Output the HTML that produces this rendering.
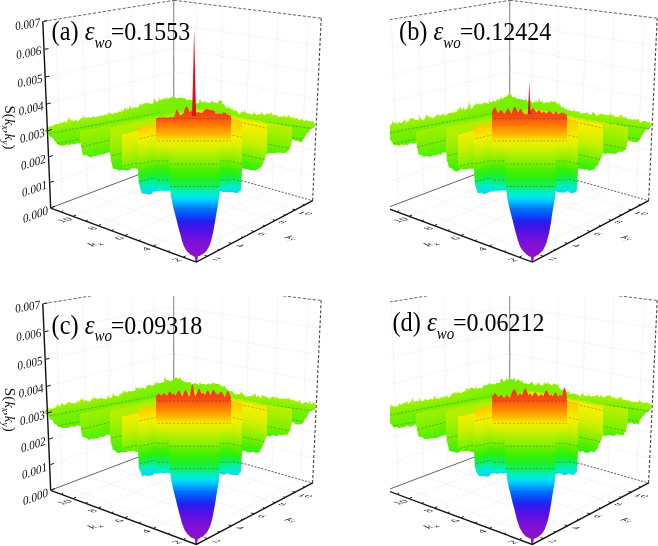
<!DOCTYPE html><html><head><meta charset="utf-8"><style>html,body{margin:0;padding:0;background:#fff}svg{display:block;filter:blur(0.35px)}</style></head><body>
<svg width="658" height="546" viewBox="0 0 658 546">
<defs><linearGradient id="pag0" gradientUnits="userSpaceOnUse" x1="100" y1="112" x2="108.3" y2="155.4"><stop offset="0" stop-color="#b0f000"/><stop offset="0.056" stop-color="#a6f000"/><stop offset="0.111" stop-color="#9cf000"/><stop offset="0.167" stop-color="#90f000"/><stop offset="0.222" stop-color="#83f000"/><stop offset="0.278" stop-color="#77f000"/><stop offset="0.333" stop-color="#74f000"/><stop offset="0.389" stop-color="#70f000"/><stop offset="0.444" stop-color="#6bf000"/><stop offset="0.5" stop-color="#67f000"/><stop offset="0.556" stop-color="#62f000"/><stop offset="0.611" stop-color="#5ef000"/><stop offset="0.667" stop-color="#59f000"/><stop offset="0.722" stop-color="#55f000"/><stop offset="0.778" stop-color="#51f000"/><stop offset="0.833" stop-color="#4df000"/><stop offset="0.889" stop-color="#48f000"/><stop offset="0.944" stop-color="#44f000"/><stop offset="1" stop-color="#40f000"/></linearGradient>
<clipPath id="pac0"><polygon points="44.5,130 45.3,130.1 46.1,128.7 46.9,127.4 47.7,127.5 48.5,126.9 49.5,126.2 50.5,126.3 51.6,126.3 51,126.3 51.6,125 52.1,126.3 52.6,125.8 53.6,125.5 54.6,125.1 55.7,124.3 56.7,123.9 57.7,124 58.7,124.2 59.7,123.8 59.4,123.8 60,121.3 60.6,123.8 60.8,122.9 61.8,122.4 62.8,122.4 63.8,122.4 63.3,122.4 63.8,120.4 64.3,122.4 64.8,122.6 64.1,122.6 64.8,120.6 65.6,122.6 65.9,123.2 66.9,122 67.9,119.3 68.9,119 68.3,119 68.9,115.8 69.5,119 70,120.1 71,120.5 72,120.6 71.5,120.6 72,118 72.5,120.6 73.1,121.3 74.2,121.3 75.3,119.8 76.3,119.9 77.4,121.2 78.5,120.9 79.6,119.8 80.7,118.4 81.8,117.7 82.9,118.4 83.9,118.3 82.8,118.3 83.5,114.3 84.2,118.3 85,117.4 86.1,117.3 87.2,117.5 88.3,117.2 89.4,117.4 90.5,117.6 91.5,117.3 92.6,117.1 93.7,117.6 92.8,117.6 93.7,115.6 94.6,117.6 94.8,117.8 95.9,117 97,116.4 98.1,116.4 99.1,116.4 100.2,116.1 99.3,116.1 100.2,114.6 101.1,116.1 101.3,115.7 102.4,116 103.5,115.4 104.6,114.4 105.7,114.5 106.7,115 107.8,114.7 107.4,114.7 108,111.7 108.6,114.7 108.9,113.7 108.3,113.7 108.9,111.8 109.5,113.7 110,113.5 111,113.8 110.4,113.8 111,112.5 111.7,113.8 112.1,113.7 113.1,113.9 114.1,113.4 115.2,112.2 116.2,112.8 117.2,113.3 118.3,112.1 119.3,111.5 120.3,111.9 121.4,112 120.7,112 121.4,108.9 122,112 122.4,111.6 123.4,110.2 124.5,109.2 123.5,109.2 124,106.7 124.5,109.2 125.5,109.4 124.8,109.4 125.5,108.1 126.3,109.4 126.6,109.7 127.6,110 127.1,110 127.6,106.9 128.1,110 128.6,109.1 129.7,107.4 129.1,107.4 129.7,104.9 130.2,107.4 130.7,107.5 130.2,107.5 130.7,106.6 131.2,107.5 131.7,108.8 132.8,108.6 133.8,107.5 134.8,107.4 135.9,107.6 136.9,107.7 137.9,107.5 139,106.7 140,105.9 139.2,105.9 140,102.9 140.8,105.9 141,105.9 140.5,105.9 141,104.8 141.6,105.9 142.1,105.3 141.5,105.3 142.1,103.1 142.6,105.3 143.1,104 144.2,104.1 145.2,104.2 144.5,104.2 145.2,101.6 145.9,104.2 146.2,103.6 147.3,103.7 146.5,103.7 147.3,101.9 148,103.7 148.3,103.9 147.9,103.9 148.3,102.2 148.7,103.9 149.4,104 148.8,104 149.4,102.7 150,104 150.4,103.8 151.4,104 152.5,104.1 153.5,103 153.1,103 153.5,100.2 154,103 154.6,101.4 153.8,101.4 154.6,98.2 155.3,101.4 155.6,101.3 156.6,102.5 156.1,102.5 156.6,100.8 157.2,102.5 157.7,101.9 158.7,100.8 159.8,100.9 159,100.9 159.8,97.8 160.5,100.9 160.8,101 160.2,101 160.8,99.9 161.4,101 161.8,101.1 161.1,101.1 161.8,98.8 162.5,101.1 162.9,100.6 162.1,100.6 162.9,97.9 163.7,100.6 163.9,99.8 165,99.4 166,99.5 166,140 164.8,139.8 163.7,139.3 162.5,139.5 161.3,141.1 160.1,141.6 159,141.1 157.8,141.3 156.6,141.2 155.4,141.2 154.3,141.6 153.1,141.4 151.9,141.1 150.7,141.3 149.6,141.8 148.4,142.2 147.2,142.2 146,142.1 144.9,142 143.7,142.3 142.5,142.9 141.3,143.1 140.2,143.2 139,143 137.8,142.9 136.7,143.9 135.5,144.2 134.3,142.8 133.1,142 132,142.8 130.8,144 129.6,144.6 128.4,144.9 127.3,145 126.1,144.8 124.9,144.7 123.7,144.9 122.6,144.9 121.4,144.5 120.2,144.7 119,145.7 117.9,146.1 116.7,145.3 115.5,144.7 114.3,145.4 113.2,146.2 112,146.5 110.8,146 109.6,145.5 108.4,146 107.3,146 106.1,145 104.9,145.4 103.7,145.9 102.5,145.7 101.3,146.1 100.1,146.4 99,145.4 97.8,144.4 96.6,144.3 95.4,144.5 94.2,144.4 93,144.1 91.9,144.2 90.7,144 89.5,143.1 88.3,142.1 87.1,142.4 85.9,143.6 84.7,144.2 83.6,144.1 82.4,143.4 81.2,142.9 80,143 78.9,142.9 77.7,142.5 76.6,143.2 75.4,144.4 74.3,144.6 73.1,144.3 72,144 70.8,144.2 69.7,144.9 68.5,144.8 67.3,144.6 66.2,144.8 65,145.1 63.8,145.6 62.7,145.7 61.5,145.5 60.3,145.5 59.2,145.1 58,144.7 57.2,143.7 56.5,142.9 55.8,142.2 55,141.1 54.2,140 53.3,139.1 52.5,138 51.7,137.1 50.8,136.9 50,136.9 49.6,136.3 49.2,135.9 48.9,135.3 48.5,133.7 47.5,132.8 46.5,132.6 45.5,131.7 44.5,131"/></clipPath>
<linearGradient id="pag1" gradientUnits="userSpaceOnUse" x1="194" y1="96" x2="194" y2="140"><stop offset="0" stop-color="#b8f000"/><stop offset="0.059" stop-color="#b1f000"/><stop offset="0.118" stop-color="#aaf000"/><stop offset="0.176" stop-color="#a3f000"/><stop offset="0.235" stop-color="#9bf000"/><stop offset="0.294" stop-color="#92f000"/><stop offset="0.353" stop-color="#8af000"/><stop offset="0.412" stop-color="#82f000"/><stop offset="0.471" stop-color="#7bf000"/><stop offset="0.529" stop-color="#76f000"/><stop offset="0.588" stop-color="#72f000"/><stop offset="0.647" stop-color="#6ef000"/><stop offset="0.706" stop-color="#6af000"/><stop offset="0.765" stop-color="#65f000"/><stop offset="0.824" stop-color="#61f000"/><stop offset="0.882" stop-color="#5cf000"/><stop offset="0.941" stop-color="#58f000"/><stop offset="1" stop-color="#53f000"/></linearGradient>
<clipPath id="pac1"><polygon points="160,101 161,101.3 162,99.9 163.1,99.4 164.1,100.1 165.1,100.4 164.2,100.4 165,96.4 165.8,100.4 166.1,99.5 167.2,99.2 166.5,99.2 167.2,97.2 167.8,99.2 168.2,99.1 169.2,98.6 170.2,98 171.2,97.6 170.7,97.6 171.2,95.9 171.7,97.6 172.3,97.4 173.3,97 174.3,96.8 175.3,97.4 176.2,98.4 177.2,98.7 178.1,98 179.1,97.8 180,97.8 181,97.7 182,98.3 183,98.5 184,98.1 185,98.2 186,99.4 187,100.2 188,99.9 189,99.7 190,100.2 189.4,100.2 190,98.7 190.6,100.2 191,100.6 192,100.5 191.4,100.5 192,99.6 192.6,100.5 193,100.6 194,100.8 195,102 196,103.1 197,103.4 198,103.4 199,102.2 200,101.4 199.2,101.4 200,98.4 200.8,101.4 201.1,101.9 202.1,102.5 201.3,102.5 202.1,101.7 203,102.5 203.2,102.8 204.2,102.7 203.5,102.7 204.2,100.9 204.9,102.7 205.3,102.6 204.7,102.6 205.3,100.5 205.8,102.6 206.3,102.8 207.4,102.8 208.4,102.8 209.5,102.9 210.6,102.6 211.6,102.2 211.4,102.2 212,99.7 212.6,102.2 212.7,101.9 213.7,102.4 214.8,102.5 215.8,102.8 216.9,103.6 217.9,102.5 219,100.7 219.8,100.9 219.3,100.9 219.8,98.8 220.3,100.9 220.6,101.4 221.3,102.3 220.5,102.3 221.3,99.7 222.1,102.3 222.1,103.7 222.9,104.6 223.7,105.1 222.9,105.1 223.7,104.1 224.5,105.1 224.4,105.6 225.2,106.9 224.7,106.9 225.2,105 225.7,106.9 226,108.5 227,108.1 228,107.5 227.5,107.5 228,105.6 228.5,107.5 229,108.2 230,109.5 229.2,109.5 230,106.7 230.8,109.5 231,110.5 230.6,110.5 231,108.6 231.4,110.5 232,111.5 233,112.1 234,111.5 235,110.7 234.5,110.7 235,109.3 235.5,110.7 236,112 236,140 160,140"/></clipPath>
<linearGradient id="pag2" gradientUnits="userSpaceOnUse" x1="280" y1="114" x2="274" y2="159.2"><stop offset="0" stop-color="#b0f000"/><stop offset="0.056" stop-color="#a4f000"/><stop offset="0.111" stop-color="#97f000"/><stop offset="0.167" stop-color="#88f000"/><stop offset="0.222" stop-color="#78f000"/><stop offset="0.278" stop-color="#74f000"/><stop offset="0.333" stop-color="#70f000"/><stop offset="0.389" stop-color="#6cf000"/><stop offset="0.444" stop-color="#67f000"/><stop offset="0.5" stop-color="#62f000"/><stop offset="0.556" stop-color="#5ef000"/><stop offset="0.611" stop-color="#5af000"/><stop offset="0.667" stop-color="#56f000"/><stop offset="0.722" stop-color="#52f000"/><stop offset="0.778" stop-color="#4ff000"/><stop offset="0.833" stop-color="#4bf000"/><stop offset="0.889" stop-color="#47f000"/><stop offset="0.944" stop-color="#44f000"/><stop offset="1" stop-color="#40f000"/></linearGradient>
<clipPath id="pac2"><polygon points="230,110.5 231,109.9 232,110.3 231.4,110.3 232,107.3 232.6,110.3 233,110.9 232.4,110.9 233,108.5 233.6,110.9 234,111 235,110.9 236,110.6 237.1,111.1 238.1,112.8 239.2,114.5 240.2,113.7 241.3,112.3 240.6,112.3 241.3,110.4 242,112.3 242.4,112.1 243.4,111.8 244.5,111.7 244,111.7 244.5,109.6 245,111.7 245.5,112.4 246.6,113.1 247.6,113.4 248.7,113.6 249.8,113.4 250.8,113.8 251.9,114.6 252.9,114.2 254,113.3 253.1,113.3 254,111.2 254.9,113.3 255.1,113.5 256.1,114.6 257.2,115.1 258.3,114.2 259.3,113.9 260.4,114.2 261.5,113.6 261.4,113.6 262,111.1 262.6,113.6 262.5,113.8 263.6,114.8 264.7,114.9 265.7,114.7 266.8,113.8 267.9,113 268.9,113.8 270,113.6 271.1,113.2 270.5,113.2 271.1,111.4 271.7,113.2 272.2,114.7 273.2,115.4 272.6,115.4 273.2,114.2 273.9,115.4 274.3,114.7 275.4,114.4 276.5,115 277.5,116 278.6,117 279.7,117 280.8,116.8 280.2,116.8 280.8,115.4 281.3,116.8 281.8,117 282.9,116.3 284,116 285,117 284.3,117 285,115.2 285.7,117 284.4,117 285,114 285.6,117 286,117.5 287,116.9 288,116.8 287.2,116.8 288,114.7 288.8,116.8 289,116.6 288.5,116.6 289,114.4 289.5,116.6 290,116.4 291,117.8 292,118.2 293,117.5 292.4,117.5 293,116.5 293.6,117.5 294,117.8 295,118.5 296,118.6 297,117.8 298,118.4 299.1,120.2 300.1,120.1 301.2,118.7 302.3,119.2 303.3,120.2 304.4,120.7 305.5,121.1 306.5,120.7 305.7,120.7 306.5,118.8 307.4,120.7 307.6,120.5 308.7,121 309.7,121.9 308.9,121.9 309.7,120.3 310.5,121.9 310.8,121.8 311.9,120.8 312.9,121.1 314,122.8 314.5,124 315,124.5 315.5,124 315.5,124 315.3,125.1 315.2,126.9 315,127.3 314.3,126.9 313.7,127.4 313,128.2 312,128.5 311,128.8 310,129.8 309.3,131.3 308.7,132.5 308,133.1 307.3,133.3 306.7,134.1 306,135.2 305.4,135.9 304.9,137 304.3,137.9 303.7,138.4 303.1,139.4 302.6,140.6 302,142 300.8,142.2 299.7,141.9 298.5,141 297.3,140.7 296.2,140.9 295,140.7 294,139.8 293,139.7 292,139.7 291.7,140.7 291.4,142.4 291.1,144 290.9,145.3 290.6,146.2 290.3,146.5 290,147.4 289.4,148.7 288.8,150.1 288.2,150.8 287.6,150.9 287,151.4 286,151.4 285,151.5 284,151.7 283,152.4 282,152.8 280.8,152.3 279.7,152.2 278.5,152.4 277.3,152.3 276.2,152.5 275,153.1 273.9,153.1 272.7,152.9 271.6,153.2 270.4,153.2 269.3,153.2 268.1,153.6 267,153.7 265.8,153.5 264.7,153.1 263.5,152.7 262.3,152.4 261.1,152.2 260,152.4 258.8,151.7 257.6,151.7 256.4,152.4 255.3,151.8 254.1,151.4 252.9,151.9 251.7,151.8 250.6,151.4 249.4,150.9 248.2,150.2 247,149.5 245.9,149.2 244.7,149.6 243.5,150.3 242.3,151.1 241.2,151.2 240,150.3 239,149.6 238,148.9 237,148 236,147 235,146.3 234,146 233,145.8 232,145.6 231,145.5 230,145"/></clipPath>
<clipPath id="patintclp"><polygon points="44.5,130 45.3,130.1 46.1,128.7 46.9,127.4 47.7,127.5 48.5,126.9 49.5,126.2 50.5,126.3 51.6,126.3 51,126.3 51.6,125 52.1,126.3 52.6,125.8 53.6,125.5 54.6,125.1 55.7,124.3 56.7,123.9 57.7,124 58.7,124.2 59.7,123.8 59.4,123.8 60,121.3 60.6,123.8 60.8,122.9 61.8,122.4 62.8,122.4 63.8,122.4 63.3,122.4 63.8,120.4 64.3,122.4 64.8,122.6 64.1,122.6 64.8,120.6 65.6,122.6 65.9,123.2 66.9,122 67.9,119.3 68.9,119 68.3,119 68.9,115.8 69.5,119 70,120.1 71,120.5 72,120.6 71.5,120.6 72,118 72.5,120.6 73.1,121.3 74.2,121.3 75.3,119.8 76.3,119.9 77.4,121.2 78.5,120.9 79.6,119.8 80.7,118.4 81.8,117.7 82.9,118.4 83.9,118.3 82.8,118.3 83.5,114.3 84.2,118.3 85,117.4 86.1,117.3 87.2,117.5 88.3,117.2 89.4,117.4 90.5,117.6 91.5,117.3 92.6,117.1 93.7,117.6 92.8,117.6 93.7,115.6 94.6,117.6 94.8,117.8 95.9,117 97,116.4 98.1,116.4 99.1,116.4 100.2,116.1 99.3,116.1 100.2,114.6 101.1,116.1 101.3,115.7 102.4,116 103.5,115.4 104.6,114.4 105.7,114.5 106.7,115 107.8,114.7 107.4,114.7 108,111.7 108.6,114.7 108.9,113.7 108.3,113.7 108.9,111.8 109.5,113.7 110,113.5 111,113.8 110.4,113.8 111,112.5 111.7,113.8 112.1,113.7 113.1,113.9 114.1,113.4 115.2,112.2 116.2,112.8 117.2,113.3 118.3,112.1 119.3,111.5 120.3,111.9 121.4,112 120.7,112 121.4,108.9 122,112 122.4,111.6 123.4,110.2 124.5,109.2 123.5,109.2 124,106.7 124.5,109.2 125.5,109.4 124.8,109.4 125.5,108.1 126.3,109.4 126.6,109.7 127.6,110 127.1,110 127.6,106.9 128.1,110 128.6,109.1 129.7,107.4 129.1,107.4 129.7,104.9 130.2,107.4 130.7,107.5 130.2,107.5 130.7,106.6 131.2,107.5 131.7,108.8 132.8,108.6 133.8,107.5 134.8,107.4 135.9,107.6 136.9,107.7 137.9,107.5 139,106.7 140,105.9 139.2,105.9 140,102.9 140.8,105.9 141,105.9 140.5,105.9 141,104.8 141.6,105.9 142.1,105.3 141.5,105.3 142.1,103.1 142.6,105.3 143.1,104 144.2,104.1 145.2,104.2 144.5,104.2 145.2,101.6 145.9,104.2 146.2,103.6 147.3,103.7 146.5,103.7 147.3,101.9 148,103.7 148.3,103.9 147.9,103.9 148.3,102.2 148.7,103.9 149.4,104 148.8,104 149.4,102.7 150,104 150.4,103.8 151.4,104 152.5,104.1 153.5,103 153.1,103 153.5,100.2 154,103 154.6,101.4 153.8,101.4 154.6,98.2 155.3,101.4 155.6,101.3 156.6,102.5 156.1,102.5 156.6,100.8 157.2,102.5 157.7,101.9 158.7,100.8 159.8,100.9 159,100.9 159.8,97.8 160.5,100.9 160.8,101 160.2,101 160.8,99.9 161.4,101 161.8,101.1 161.1,101.1 161.8,98.8 162.5,101.1 162.9,100.6 162.1,100.6 162.9,97.9 163.7,100.6 163.9,99.8 165,99.4 166,99.5 166,140 164.8,139.8 163.7,139.3 162.5,139.5 161.3,141.1 160.1,141.6 159,141.1 157.8,141.3 156.6,141.2 155.4,141.2 154.3,141.6 153.1,141.4 151.9,141.1 150.7,141.3 149.6,141.8 148.4,142.2 147.2,142.2 146,142.1 144.9,142 143.7,142.3 142.5,142.9 141.3,143.1 140.2,143.2 139,143 137.8,142.9 136.7,143.9 135.5,144.2 134.3,142.8 133.1,142 132,142.8 130.8,144 129.6,144.6 128.4,144.9 127.3,145 126.1,144.8 124.9,144.7 123.7,144.9 122.6,144.9 121.4,144.5 120.2,144.7 119,145.7 117.9,146.1 116.7,145.3 115.5,144.7 114.3,145.4 113.2,146.2 112,146.5 110.8,146 109.6,145.5 108.4,146 107.3,146 106.1,145 104.9,145.4 103.7,145.9 102.5,145.7 101.3,146.1 100.1,146.4 99,145.4 97.8,144.4 96.6,144.3 95.4,144.5 94.2,144.4 93,144.1 91.9,144.2 90.7,144 89.5,143.1 88.3,142.1 87.1,142.4 85.9,143.6 84.7,144.2 83.6,144.1 82.4,143.4 81.2,142.9 80,143 78.9,142.9 77.7,142.5 76.6,143.2 75.4,144.4 74.3,144.6 73.1,144.3 72,144 70.8,144.2 69.7,144.9 68.5,144.8 67.3,144.6 66.2,144.8 65,145.1 63.8,145.6 62.7,145.7 61.5,145.5 60.3,145.5 59.2,145.1 58,144.7 57.2,143.7 56.5,142.9 55.8,142.2 55,141.1 54.2,140 53.3,139.1 52.5,138 51.7,137.1 50.8,136.9 50,136.9 49.6,136.3 49.2,135.9 48.9,135.3 48.5,133.7 47.5,132.8 46.5,132.6 45.5,131.7 44.5,131"/><polygon points="160,101 161,101.3 162,99.9 163.1,99.4 164.1,100.1 165.1,100.4 164.2,100.4 165,96.4 165.8,100.4 166.1,99.5 167.2,99.2 166.5,99.2 167.2,97.2 167.8,99.2 168.2,99.1 169.2,98.6 170.2,98 171.2,97.6 170.7,97.6 171.2,95.9 171.7,97.6 172.3,97.4 173.3,97 174.3,96.8 175.3,97.4 176.2,98.4 177.2,98.7 178.1,98 179.1,97.8 180,97.8 181,97.7 182,98.3 183,98.5 184,98.1 185,98.2 186,99.4 187,100.2 188,99.9 189,99.7 190,100.2 189.4,100.2 190,98.7 190.6,100.2 191,100.6 192,100.5 191.4,100.5 192,99.6 192.6,100.5 193,100.6 194,100.8 195,102 196,103.1 197,103.4 198,103.4 199,102.2 200,101.4 199.2,101.4 200,98.4 200.8,101.4 201.1,101.9 202.1,102.5 201.3,102.5 202.1,101.7 203,102.5 203.2,102.8 204.2,102.7 203.5,102.7 204.2,100.9 204.9,102.7 205.3,102.6 204.7,102.6 205.3,100.5 205.8,102.6 206.3,102.8 207.4,102.8 208.4,102.8 209.5,102.9 210.6,102.6 211.6,102.2 211.4,102.2 212,99.7 212.6,102.2 212.7,101.9 213.7,102.4 214.8,102.5 215.8,102.8 216.9,103.6 217.9,102.5 219,100.7 219.8,100.9 219.3,100.9 219.8,98.8 220.3,100.9 220.6,101.4 221.3,102.3 220.5,102.3 221.3,99.7 222.1,102.3 222.1,103.7 222.9,104.6 223.7,105.1 222.9,105.1 223.7,104.1 224.5,105.1 224.4,105.6 225.2,106.9 224.7,106.9 225.2,105 225.7,106.9 226,108.5 227,108.1 228,107.5 227.5,107.5 228,105.6 228.5,107.5 229,108.2 230,109.5 229.2,109.5 230,106.7 230.8,109.5 231,110.5 230.6,110.5 231,108.6 231.4,110.5 232,111.5 233,112.1 234,111.5 235,110.7 234.5,110.7 235,109.3 235.5,110.7 236,112 236,140 160,140"/><polygon points="230,110.5 231,109.9 232,110.3 231.4,110.3 232,107.3 232.6,110.3 233,110.9 232.4,110.9 233,108.5 233.6,110.9 234,111 235,110.9 236,110.6 237.1,111.1 238.1,112.8 239.2,114.5 240.2,113.7 241.3,112.3 240.6,112.3 241.3,110.4 242,112.3 242.4,112.1 243.4,111.8 244.5,111.7 244,111.7 244.5,109.6 245,111.7 245.5,112.4 246.6,113.1 247.6,113.4 248.7,113.6 249.8,113.4 250.8,113.8 251.9,114.6 252.9,114.2 254,113.3 253.1,113.3 254,111.2 254.9,113.3 255.1,113.5 256.1,114.6 257.2,115.1 258.3,114.2 259.3,113.9 260.4,114.2 261.5,113.6 261.4,113.6 262,111.1 262.6,113.6 262.5,113.8 263.6,114.8 264.7,114.9 265.7,114.7 266.8,113.8 267.9,113 268.9,113.8 270,113.6 271.1,113.2 270.5,113.2 271.1,111.4 271.7,113.2 272.2,114.7 273.2,115.4 272.6,115.4 273.2,114.2 273.9,115.4 274.3,114.7 275.4,114.4 276.5,115 277.5,116 278.6,117 279.7,117 280.8,116.8 280.2,116.8 280.8,115.4 281.3,116.8 281.8,117 282.9,116.3 284,116 285,117 284.3,117 285,115.2 285.7,117 284.4,117 285,114 285.6,117 286,117.5 287,116.9 288,116.8 287.2,116.8 288,114.7 288.8,116.8 289,116.6 288.5,116.6 289,114.4 289.5,116.6 290,116.4 291,117.8 292,118.2 293,117.5 292.4,117.5 293,116.5 293.6,117.5 294,117.8 295,118.5 296,118.6 297,117.8 298,118.4 299.1,120.2 300.1,120.1 301.2,118.7 302.3,119.2 303.3,120.2 304.4,120.7 305.5,121.1 306.5,120.7 305.7,120.7 306.5,118.8 307.4,120.7 307.6,120.5 308.7,121 309.7,121.9 308.9,121.9 309.7,120.3 310.5,121.9 310.8,121.8 311.9,120.8 312.9,121.1 314,122.8 314.5,124 315,124.5 315.5,124 315.5,124 315.3,125.1 315.2,126.9 315,127.3 314.3,126.9 313.7,127.4 313,128.2 312,128.5 311,128.8 310,129.8 309.3,131.3 308.7,132.5 308,133.1 307.3,133.3 306.7,134.1 306,135.2 305.4,135.9 304.9,137 304.3,137.9 303.7,138.4 303.1,139.4 302.6,140.6 302,142 300.8,142.2 299.7,141.9 298.5,141 297.3,140.7 296.2,140.9 295,140.7 294,139.8 293,139.7 292,139.7 291.7,140.7 291.4,142.4 291.1,144 290.9,145.3 290.6,146.2 290.3,146.5 290,147.4 289.4,148.7 288.8,150.1 288.2,150.8 287.6,150.9 287,151.4 286,151.4 285,151.5 284,151.7 283,152.4 282,152.8 280.8,152.3 279.7,152.2 278.5,152.4 277.3,152.3 276.2,152.5 275,153.1 273.9,153.1 272.7,152.9 271.6,153.2 270.4,153.2 269.3,153.2 268.1,153.6 267,153.7 265.8,153.5 264.7,153.1 263.5,152.7 262.3,152.4 261.1,152.2 260,152.4 258.8,151.7 257.6,151.7 256.4,152.4 255.3,151.8 254.1,151.4 252.9,151.9 251.7,151.8 250.6,151.4 249.4,150.9 248.2,150.2 247,149.5 245.9,149.2 244.7,149.6 243.5,150.3 242.3,151.1 241.2,151.2 240,150.3 239,149.6 238,148.9 237,148 236,147 235,146.3 234,146 233,145.8 232,145.6 231,145.5 230,145"/></clipPath>
<radialGradient id="patint" gradientUnits="userSpaceOnUse" cx="178" cy="100" r="60" gradientTransform="translate(178 100) scale(1.25 0.6) translate(-178 -100)"><stop offset="0" stop-color="#64ee00" stop-opacity="0.75"/><stop offset="0.55" stop-color="#64ee00" stop-opacity="0.4"/><stop offset="1" stop-color="#64ee00" stop-opacity="0"/></radialGradient>
<linearGradient id="pag3" gradientUnits="userSpaceOnUse" x1="95" y1="128" x2="101.8" y2="155.3"><stop offset="0" stop-color="#a0f000"/><stop offset="0.091" stop-color="#9af000"/><stop offset="0.182" stop-color="#93f000"/><stop offset="0.273" stop-color="#8df000"/><stop offset="0.364" stop-color="#86f000"/><stop offset="0.455" stop-color="#7ff000"/><stop offset="0.545" stop-color="#78f000"/><stop offset="0.636" stop-color="#70f000"/><stop offset="0.727" stop-color="#66f000"/><stop offset="0.818" stop-color="#5df000"/><stop offset="0.909" stop-color="#53f000"/><stop offset="1" stop-color="#4af000"/></linearGradient>
<clipPath id="pac3"><polygon points="80,131 81.5,130.3 82.9,130.3 84.4,130.3 85.8,130.1 87.3,129.6 88.8,129.1 90.2,128.8 91.7,128.9 93.2,128.8 94.6,128.1 96.1,127.4 97.5,127.3 99,127.4 100.5,126.9 101.9,126.2 103.4,126 104.8,125.7 106.3,125.4 107.8,125.2 109.2,125 110.7,124.8 112.2,124.5 113.6,124.1 115.1,124 116.5,123.7 118,123.1 119.5,122.7 120.9,122.5 122.4,122.2 123.8,121.9 125.3,121.7 126.8,121.5 128.2,121.1 129.7,120.7 131.2,120.4 132.6,120 134.1,119.7 135.5,119.6 137,119.4 138.5,119.4 139.9,119 141.4,118.3 142.8,118.1 144.3,117.8 145.8,117.6 147.2,117.2 148.7,116.7 150.2,116.6 151.6,116.6 153.1,116.3 154.5,115.9 156,115.6 157.5,115.2 158.9,114.8 160.4,114.7 161.8,114.7 163.3,114.7 164.8,114.5 166.2,114.1 167.7,113.6 169.2,113.2 170.6,112.7 172.1,112.5 173.5,112.4 175,111.9 176.5,111.5 177.9,111.3 179.4,111 180.8,110.6 182.3,110.3 183.8,110.1 185.2,109.7 186.7,109.4 188.2,109.1 189.6,108.6 191.1,108.1 192.5,108 194,108 194,150 192.8,150.5 191.6,149.1 190.4,149.5 189.2,150.8 188.1,151.1 186.9,151 185.7,151 184.5,150.7 183.3,150.4 182.1,150 180.9,149.3 179.7,149.4 178.6,149.8 177.4,150.1 176.2,150.8 175,151.4 173.8,151.2 172.6,150.8 171.4,150.5 170.2,149.7 169,149.4 167.9,149.9 166.7,149.8 165.5,148.8 164.3,148.8 163.1,149.5 161.9,150 160.7,150.5 159.5,150.6 158.3,150.3 157.2,150.4 156,150.5 154.8,150.4 153.6,150.4 152.4,150 151.2,149.6 150,149.8 148.8,150.1 147.7,150 146.5,150.1 145.3,150.7 144.1,150.3 142.9,149.9 141.7,150.6 140.5,150.9 139.3,150.5 138.1,150.3 137,149.9 135.8,149.5 134.6,150.3 133.4,150.6 132.2,150.1 131,149.6 129.8,148.9 128.6,148.8 127.4,149.6 126.3,150.1 125.1,150 123.9,150.3 122.7,150.6 121.5,150.4 120.3,150.7 119.1,150.6 117.9,149.9 116.8,149.6 115.6,149.4 114.4,149.8 113.2,150.1 112,149.5 111.3,150 110.7,150.9 110,151.8 109,152.1 108,152.5 107,153 106,153.1 105,153.5 104,154.2 103,154.6 102,154.1 101,154.5 100,155.3 99,154.9 98,154.7 97,155.4 96,155.9 95,156.1 94,156 93,156.4 92,157.2 91,157.2 90,157.1 89,156.9 88,156 87,154.9 86,155 85,155.3 84,155.3 83,155.3 82.7,154.4 82.4,153.2 82.1,152.4 81.9,151.3 81.6,148.9 81.3,147.5 81,147 80.9,145.5 80.7,143.9 80.6,143.3 80.4,142.2 80.3,141.1 80.1,141.3 80,140"/></clipPath>
<linearGradient id="pag4" gradientUnits="userSpaceOnUse" x1="116" y1="127" x2="125" y2="168"><stop offset="0" stop-color="#b4f000"/><stop offset="0.059" stop-color="#b2f000"/><stop offset="0.118" stop-color="#aff000"/><stop offset="0.176" stop-color="#adf000"/><stop offset="0.235" stop-color="#abf000"/><stop offset="0.294" stop-color="#a8f000"/><stop offset="0.353" stop-color="#a1f000"/><stop offset="0.412" stop-color="#99f000"/><stop offset="0.471" stop-color="#91f000"/><stop offset="0.529" stop-color="#89f000"/><stop offset="0.588" stop-color="#80f000"/><stop offset="0.647" stop-color="#77f000"/><stop offset="0.706" stop-color="#6ef000"/><stop offset="0.765" stop-color="#64f000"/><stop offset="0.824" stop-color="#59f000"/><stop offset="0.882" stop-color="#4ff000"/><stop offset="0.941" stop-color="#43f000"/><stop offset="1" stop-color="#3bf005"/></linearGradient>
<clipPath id="pac4"><polygon points="110,128 111.4,127.7 112.9,127.3 114.3,126.8 115.8,126.5 117.2,126.2 118.7,126.2 120.1,126.1 121.6,125.5 123,125.1 124.5,125 125.9,124.7 127.4,124.2 128.8,123.8 130.3,123.6 131.7,123.3 133.2,122.8 134.6,122.3 136.1,121.9 137.5,121.5 139,121.3 140.4,121.1 141.9,120.9 143.3,120.8 144.8,120.6 146.2,120 147.7,119.4 149.1,119.3 150.6,119.3 152,118.9 153.4,118.3 154.9,118 156.3,117.7 157.8,117.6 159.2,117.5 160.7,117.1 162.1,116.8 163.6,116.6 165,116.2 166.5,115.8 167.9,115.6 169.4,115.2 170.8,114.7 172.3,114.7 173.7,114.5 175.2,113.9 176.6,113.8 178.1,113.5 179.5,113.2 181,113.2 182.4,112.7 183.9,112 185.3,111.8 186.8,111.7 188.2,111.3 189.7,111 191.1,110.7 192.6,110.6 194,110 194,160 192.8,158.9 191.6,159.3 190.5,159.5 189.3,159.5 188.1,160 186.9,160.7 185.7,161.5 184.6,162.3 183.4,162.5 182.2,162.3 181,162.1 179.8,162.7 178.7,162.9 177.5,162.5 176.3,162.6 175.1,163.1 173.9,163.2 172.8,162.8 171.6,162.9 170.4,163.4 169.2,163.3 168,163 166.9,163.5 165.7,163.9 164.5,163.9 163.3,164.2 162.1,164.1 161,164.2 159.8,164.9 158.6,164.4 157.4,163.9 156.2,165 155,165.9 153.9,166 152.7,166.7 151.5,166.8 150.3,165.5 149.1,164.6 148,165.6 146.8,166.6 145.6,166.3 144.4,165.7 143.2,166.1 142.1,166.9 140.9,167.6 139.7,168.2 138.5,168.1 137.3,167.6 136.2,167.5 135,167.7 133.8,167.9 132.6,167.8 131.4,168.4 130.3,169.5 129.1,169.7 127.9,170 126.7,170.8 125.5,170.4 124.4,169.8 123.2,169.7 122,169.9 121,170.3 120,170.5 119,170.6 118,170.2 117,169.3 116,169.1 115,169 114,168.9 113,168.5 112.7,167 112.4,166.2 112.1,165.5 111.9,163.9 111.6,162.8 111.3,162.1 111,160.5 110.9,158.2 110.7,157.2 110.6,157.3 110.4,156.4 110.3,154.8 110.1,153.6 110,152"/></clipPath>
<linearGradient id="pag5" gradientUnits="userSpaceOnUse" x1="280" y1="123" x2="274.2" y2="151.8"><stop offset="0" stop-color="#c0f000"/><stop offset="0.083" stop-color="#b9f000"/><stop offset="0.167" stop-color="#b3f000"/><stop offset="0.25" stop-color="#acf000"/><stop offset="0.333" stop-color="#a5f000"/><stop offset="0.417" stop-color="#9ef000"/><stop offset="0.5" stop-color="#96f000"/><stop offset="0.583" stop-color="#8ef000"/><stop offset="0.667" stop-color="#86f000"/><stop offset="0.75" stop-color="#7ef000"/><stop offset="0.833" stop-color="#71f000"/><stop offset="0.917" stop-color="#62f000"/><stop offset="1" stop-color="#53f000"/></linearGradient>
<clipPath id="pac5"><polygon points="194,108 195.5,108.7 196.9,108.9 198.4,108.8 199.9,109 201.3,109.3 202.8,109.8 204.2,110.1 205.7,110.2 207.2,110.4 208.6,111 210.1,111.3 211.6,111.5 213,111.7 214.5,111.9 215.9,112.4 217.4,112.7 218.9,112.8 220.3,113.1 221.8,113.4 223.3,113.4 224.7,113.6 226.2,114.1 227.6,114.2 229.1,114.3 230.6,114.7 232,115.1 233.5,115.2 235,115.5 236.4,116.2 237.9,116.7 239.3,116.8 240.8,116.9 242.3,117.4 243.7,117.8 245.2,118 246.7,118.4 248.1,118.7 249.6,118.8 251,118.9 252.5,119.4 254,119.8 255.4,120 256.9,120 258.4,120.1 259.8,120.4 261.3,120.6 262.7,121.2 264.2,121.7 265.7,121.9 267.1,122.5 268.6,122.8 270.1,123 271.5,123.3 273,123.4 274.4,123.5 275.9,123.9 277.4,124.2 278.8,124.2 280.3,124.6 281.8,125.1 283.2,125.4 284.7,125.6 286.1,125.9 287.6,126.1 289.1,126.4 290.5,126.7 292,127 292,139 291.8,140.8 291.5,142.1 291.2,143.3 291,144.2 290.8,144.3 290.5,144.8 290.2,146 290,147.9 289.4,149.3 288.8,150 288.2,150.2 287.6,150.4 287,151.4 286,152 285,152.9 284,153.1 283,152.7 282,152.4 280.8,152.6 279.7,152.7 278.5,152.4 277.3,152.3 276.2,152.5 275,152.5 273.9,152.5 272.7,152.5 271.6,152.8 270.4,152.8 269.3,152.6 268.1,152.9 267,152.8 265.8,152.2 264.6,152.1 263.4,152.4 262.2,152.7 261,152.7 259.8,152.5 258.6,153 257.4,153.6 256.2,153.1 255,152.6 253.8,152.8 252.6,152.7 251.4,152.8 250.2,152.7 249,151.7 247.9,151.1 246.7,151.6 245.5,152.2 244.3,152.1 243.1,152.4 241.9,152.4 240.7,152.2 239.5,152.8 238.3,153.2 237.1,153 235.9,152.8 234.7,153.1 233.5,153.1 232.3,152.2 231.1,151.7 229.9,151.6 228.7,150.7 227.5,150.2 226.3,150.6 225.1,151.4 223.9,151.2 222.7,150.1 221.5,149.7 220.3,150.4 219.1,150.8 217.9,151.1 216.7,151.6 215.5,151.7 214.3,151.4 213.1,150.9 212,150 210.8,149.9 209.6,150.6 208.4,151.2 207.2,151.2 206,151.2 204.8,151.2 203.6,150.6 202.4,149.5 201.2,149.6 200,150.4 198.8,150.2 197.6,149.8 196.4,150.2 195.2,150.1 194,150"/></clipPath>
<linearGradient id="pag6" gradientUnits="userSpaceOnUse" x1="255" y1="121" x2="244.7" y2="167.7"><stop offset="0" stop-color="#f6e600"/><stop offset="0.053" stop-color="#f5ec00"/><stop offset="0.105" stop-color="#f3f000"/><stop offset="0.158" stop-color="#f0f000"/><stop offset="0.211" stop-color="#eaf000"/><stop offset="0.263" stop-color="#e3f000"/><stop offset="0.316" stop-color="#dcf000"/><stop offset="0.368" stop-color="#d5f000"/><stop offset="0.421" stop-color="#cdf000"/><stop offset="0.474" stop-color="#c3f000"/><stop offset="0.526" stop-color="#b6f000"/><stop offset="0.579" stop-color="#a6f000"/><stop offset="0.632" stop-color="#97f000"/><stop offset="0.684" stop-color="#88f000"/><stop offset="0.737" stop-color="#79f000"/><stop offset="0.789" stop-color="#69f000"/><stop offset="0.842" stop-color="#58f000"/><stop offset="0.895" stop-color="#48f000"/><stop offset="0.947" stop-color="#3cf004"/><stop offset="1" stop-color="#33f00d"/></linearGradient>
<clipPath id="pac6"><polygon points="194,110 195.5,109.9 196.9,110.5 198.4,111.1 199.8,111.4 201.3,111.8 202.8,112.1 204.2,112.1 205.7,112.2 207.1,112.6 208.6,112.9 210.1,113 211.5,113.3 213,113.8 214.4,114.1 215.9,114.1 217.4,114.2 218.8,114.5 220.3,115.2 221.7,115.6 223.2,115.9 224.7,116.3 226.1,116.7 227.6,117 229,117.1 230.5,117.2 232,117.4 233.4,117.6 234.9,117.7 236.3,118.1 237.8,118.7 239.3,118.8 240.7,118.8 242.2,119 243.6,119.5 245.1,120.1 246.6,120.3 248,120.3 249.5,120.4 250.9,120.8 252.4,120.9 253.9,121.2 255.3,121.6 256.8,122.1 258.2,122.5 259.7,122.7 261.2,122.9 262.6,123.1 264.1,123.6 265.5,124.1 267,124 267,153 266.6,153.4 266.2,153.4 265.8,154.3 265.4,156.5 265,158.5 264.6,159.4 264.1,160.5 263.7,161.4 263.3,162.4 262.9,163.8 262.4,164.3 262,165.6 261.3,167.1 260.7,167.3 260,167.4 259.3,168.2 258.7,168.7 258,169 256.9,169.6 255.7,170.7 254.6,170.4 253.4,170 252.3,170.2 251.1,170.3 250,170.3 249,169.7 248,169.1 247,169.1 246,169.2 245,169.2 244,168.6 243,167.9 242,167.5 240.8,167.7 239.7,168.1 238.5,168.2 237.3,167.8 236.1,167.7 235,168 233.8,168 232.6,168.2 231.5,167.8 230.3,167 229.1,167 228,167 226.8,167.4 225.6,167.9 224.4,167.8 223.3,167.2 222.1,166.5 220.9,166.6 219.8,167.1 218.6,167 217.4,166.6 216.2,166.6 215.1,166.3 213.9,165.4 212.7,165.5 211.6,165.8 210.4,165.3 209.2,165.3 208,166.1 206.9,166.1 205.7,165.7 204.5,165.6 203.4,165.3 202.2,165.1 201,165.2 199.9,165.7 198.7,165.9 197.5,165.3 196.3,165 195.2,164.7 194,165"/></clipPath>
<linearGradient id="pag7" gradientUnits="userSpaceOnUse" x1="130" y1="132" x2="138.7" y2="166.8"><stop offset="0" stop-color="#f4f000"/><stop offset="0.071" stop-color="#edf000"/><stop offset="0.143" stop-color="#e6f000"/><stop offset="0.214" stop-color="#dff000"/><stop offset="0.286" stop-color="#d8f000"/><stop offset="0.357" stop-color="#d1f000"/><stop offset="0.429" stop-color="#c8f000"/><stop offset="0.5" stop-color="#bef000"/><stop offset="0.571" stop-color="#b1f000"/><stop offset="0.643" stop-color="#a4f000"/><stop offset="0.714" stop-color="#98f000"/><stop offset="0.786" stop-color="#8af000"/><stop offset="0.857" stop-color="#7cf000"/><stop offset="0.929" stop-color="#6ef000"/><stop offset="1" stop-color="#5df000"/></linearGradient>
<clipPath id="pac7"><polygon points="122,134.5 123.5,133.9 124.9,133.5 126.4,133.5 127.8,133.4 129.3,132.8 130.7,132.4 132.2,132 133.6,131.4 135.1,130.7 136.5,130.4 138,130.6 139.4,130.6 140.9,130.5 142.3,130 143.7,129.2 145.2,128.8 146.6,128.6 148.1,128.3 149.5,128 150.9,127.5 152.4,126.8 153.8,126.6 155.2,126.7 156.7,126.2 158.1,125.6 159.5,125.4 161,124.9 162.4,124.5 163.8,124.1 165.3,123.8 166.7,123.2 168.2,122.6 169.6,122.3 171,122.2 172.5,122.2 173.9,122 175.3,121.6 176.8,121.2 178.2,120.7 179.6,120.6 181.1,120.4 182.5,119.8 183.9,119.1 185.4,118.7 186.8,118.5 188.3,118.4 189.7,118.3 191.1,117.5 192.6,116.9 194,117 194,165 192.8,164.3 191.6,164.7 190.4,165.1 189.2,165.3 188.1,165.6 186.9,166.1 185.7,166.3 184.5,166 183.3,165.5 182.1,165.2 180.9,165.3 179.8,165.7 178.6,165.8 177.4,165.5 176.2,165.6 175,165.8 173.8,165.6 172.6,166.1 171.4,166.5 170.2,166.1 169.1,165.9 167.9,166.4 166.7,167 165.5,166.7 164.3,166.1 163.1,166.8 161.9,167.8 160.8,168.1 159.6,167.9 158.4,167.1 157.2,166.7 156,167.3 154.8,167.7 153.6,168.2 152.4,168.7 151.2,168.5 150.1,168.4 148.9,168.4 147.7,168.1 146.5,167.8 145.3,168.1 144.1,168.8 142.9,168.9 141.8,168.8 140.6,169.2 139.4,168.9 138.2,168.5 137,168.9 135.8,168.6 134.7,168.2 133.5,168.4 132.3,168.2 131.2,168 130,167.7 129,167 128,167.2 127,168.1 126,168.5 125,168.4 124,168.2 123,167.8 122,168"/></clipPath>
<linearGradient id="pag8" gradientUnits="userSpaceOnUse" x1="146" y1="126" x2="160.1" y2="189.9"><stop offset="0" stop-color="#fdca00"/><stop offset="0.038" stop-color="#fbd200"/><stop offset="0.077" stop-color="#f9db00"/><stop offset="0.115" stop-color="#f7e400"/><stop offset="0.154" stop-color="#f5ed00"/><stop offset="0.192" stop-color="#f0f000"/><stop offset="0.231" stop-color="#e8f000"/><stop offset="0.269" stop-color="#ddf000"/><stop offset="0.308" stop-color="#d2f000"/><stop offset="0.346" stop-color="#c5f000"/><stop offset="0.385" stop-color="#b6f000"/><stop offset="0.423" stop-color="#a8f000"/><stop offset="0.462" stop-color="#99f000"/><stop offset="0.5" stop-color="#8bf000"/><stop offset="0.538" stop-color="#7bf000"/><stop offset="0.577" stop-color="#69f000"/><stop offset="0.615" stop-color="#55f000"/><stop offset="0.654" stop-color="#41f000"/><stop offset="0.692" stop-color="#32f00e"/><stop offset="0.731" stop-color="#23f01d"/><stop offset="0.769" stop-color="#19f03d"/><stop offset="0.808" stop-color="#10f062"/><stop offset="0.846" stop-color="#09f08d"/><stop offset="0.885" stop-color="#01f0b8"/><stop offset="0.923" stop-color="#00ead1"/><stop offset="0.962" stop-color="#00e3e7"/><stop offset="1" stop-color="#00d8f4"/></linearGradient>
<clipPath id="pac8"><polygon points="138,127.5 139.4,126.8 140.8,126.7 142.2,126.4 143.5,126.3 144.9,125.9 146.3,125.3 147.7,125.1 149.1,125 150.5,124.9 151.8,124.4 153.2,123.7 154.6,123.4 156,123.1 157.5,123 158.9,122.8 160.4,122.6 161.8,122.3 163.3,121.8 164.8,121 166.2,120.2 167.7,120 169.2,120.2 170.6,120.3 172.1,120 173.5,119.3 175,118.8 176.5,118.4 177.9,117.9 179.4,117.5 180.8,117.6 182.3,117.4 183.8,117.1 185.2,117 186.7,116.5 188.2,116.1 189.6,116.2 191.1,116.1 192.5,115.4 194,115 194,190 192.8,190.4 191.6,190.9 190.4,191.2 189.2,191.1 188.1,190.5 186.9,190.3 185.7,189.9 184.5,189.4 183.3,189.7 182.1,190 180.9,189.9 179.8,190.3 178.6,191 177.4,191.1 176.2,190.9 175,190.7 173.8,190.1 172.6,189.9 171.4,190.3 170.2,190.2 169.1,190.4 167.9,190.7 166.7,190.8 165.5,190.8 164.3,190.9 163.1,190.9 161.9,190.6 160.8,190.6 159.6,190.6 158.4,191 157.2,191.1 156,191.4 155,191.8 154,191.3 153,192 152,193.4 151,194.1 150,194.4 149,194.4 148,194.4 147,194.1 146,193.8 145,193.8 144,193.8 143,193.6 142,193.7 141.6,193.1 141.2,191.8 140.9,190.1 140.5,189 140.1,188.2 139.8,186.5 139.4,184.8 139,184.3 138.9,183.8 138.8,182.6 138.8,181.5 138.7,180.4 138.6,179.4 138.5,178.9 138.5,177.4 138.4,176.1 138.3,175.2 138.2,173.3 138.2,171.8 138.1,170.8 138,170"/></clipPath>
<linearGradient id="pag9" gradientUnits="userSpaceOnUse" x1="236" y1="120" x2="220.7" y2="189.6"><stop offset="0" stop-color="#fdca00"/><stop offset="0.034" stop-color="#fbd000"/><stop offset="0.069" stop-color="#fad600"/><stop offset="0.103" stop-color="#f9dc00"/><stop offset="0.138" stop-color="#f7e200"/><stop offset="0.172" stop-color="#f6e800"/><stop offset="0.207" stop-color="#f4ee00"/><stop offset="0.241" stop-color="#f2f000"/><stop offset="0.276" stop-color="#edf000"/><stop offset="0.31" stop-color="#e3f000"/><stop offset="0.345" stop-color="#d8f000"/><stop offset="0.379" stop-color="#cdf000"/><stop offset="0.414" stop-color="#bff000"/><stop offset="0.448" stop-color="#b1f000"/><stop offset="0.483" stop-color="#a3f000"/><stop offset="0.517" stop-color="#95f000"/><stop offset="0.552" stop-color="#86f000"/><stop offset="0.586" stop-color="#76f000"/><stop offset="0.621" stop-color="#64f000"/><stop offset="0.655" stop-color="#51f000"/><stop offset="0.69" stop-color="#3ef002"/><stop offset="0.724" stop-color="#2ff011"/><stop offset="0.759" stop-color="#20f020"/><stop offset="0.793" stop-color="#17f042"/><stop offset="0.828" stop-color="#0ff067"/><stop offset="0.862" stop-color="#08f091"/><stop offset="0.897" stop-color="#01f0bb"/><stop offset="0.931" stop-color="#00ead2"/><stop offset="0.966" stop-color="#00e3e7"/><stop offset="1" stop-color="#00d8f4"/></linearGradient>
<clipPath id="pac9"><polygon points="194,115 195.5,115.3 197,115 198.4,114.7 199.9,114.9 201.4,115.3 202.9,115.4 204.4,115.5 205.8,115.8 207.3,115.8 208.8,115.7 210.3,116 211.8,116.3 213.2,116.8 214.7,117 216.2,116.9 217.7,117.2 219.2,117.3 220.6,117.3 222.1,117.5 223.6,117.8 225.1,117.8 226.6,117.5 228,117.5 229.5,117.9 231,117.7 232.4,118 233.8,118.7 235.1,118.6 236.5,118.5 237.9,119.4 239.2,120.5 240.6,121.1 242,121 242,168 242,168.6 241.9,170 241.9,171.4 241.8,173.2 241.8,174.2 241.7,174.7 241.7,176.2 241.6,178.2 241.6,179.2 241.5,179.4 241.5,180.4 241.4,181.5 241.4,182.5 241.3,183.9 241.3,185.2 241.2,186 241.2,186.7 241.1,187.7 241.1,189.1 241,190.1 240.2,190.6 239.5,191.2 238.8,192.2 238,193.1 237,192.8 236,192.8 235,192.7 234,192.4 233,192.3 232,192.1 230.8,191.9 229.6,192 228.4,192.3 227.2,192.3 226.1,191.8 224.9,191.8 223.7,192.4 222.5,191.9 221.3,191 220.1,191.1 218.9,191.4 217.8,191.5 216.6,191.1 215.4,191 214.2,191.1 213,190.1 211.8,189.7 210.6,190.2 209.4,190.4 208.2,190.6 207.1,190.9 205.9,190.7 204.7,190.8 203.5,191.6 202.3,191.2 201.1,190 199.9,189.8 198.8,189.4 197.6,189.2 196.4,189.6 195.2,189.5 194,190"/></clipPath>
<linearGradient id="pag10" gradientUnits="userSpaceOnUse" x1="194" y1="110" x2="194" y2="192"><stop offset="0" stop-color="#f33913"/><stop offset="0.031" stop-color="#f64013"/><stop offset="0.062" stop-color="#f94712"/><stop offset="0.094" stop-color="#fd4f12"/><stop offset="0.125" stop-color="#ff5c0f"/><stop offset="0.156" stop-color="#ff6c0a"/><stop offset="0.188" stop-color="#ff7c05"/><stop offset="0.219" stop-color="#ff8c00"/><stop offset="0.25" stop-color="#ff9c00"/><stop offset="0.281" stop-color="#ffad00"/><stop offset="0.312" stop-color="#ffbe00"/><stop offset="0.344" stop-color="#fad500"/><stop offset="0.375" stop-color="#f5ee00"/><stop offset="0.406" stop-color="#e8f000"/><stop offset="0.438" stop-color="#dbf000"/><stop offset="0.469" stop-color="#cdf000"/><stop offset="0.5" stop-color="#bcf000"/><stop offset="0.531" stop-color="#abf000"/><stop offset="0.562" stop-color="#99f000"/><stop offset="0.594" stop-color="#88f000"/><stop offset="0.625" stop-color="#76f000"/><stop offset="0.656" stop-color="#61f000"/><stop offset="0.688" stop-color="#4bf000"/><stop offset="0.719" stop-color="#3af006"/><stop offset="0.75" stop-color="#2ef012"/><stop offset="0.781" stop-color="#22f01e"/><stop offset="0.812" stop-color="#1af039"/><stop offset="0.844" stop-color="#12f057"/><stop offset="0.875" stop-color="#0cf078"/><stop offset="0.906" stop-color="#06f09c"/><stop offset="0.938" stop-color="#00f0c0"/><stop offset="0.969" stop-color="#00ead2"/><stop offset="1" stop-color="#00e4e4"/></linearGradient>
<clipPath id="pac10"><polygon points="156,118 156.8,118.2 157.6,118 158.4,117.7 159.2,117.6 160,117.4 160.8,117.4 161.7,117.5 162.5,117.5 163.3,117.4 164.2,117.2 165,117.3 165.8,117.3 166.7,117.4 167.5,117.9 168.3,117.7 169.2,117.1 170,117.1 170.8,117.4 171.6,117.2 172.4,117.1 173.2,117.2 174,116.9 174.3,115.7 174.7,115 175,114.1 175.3,113.1 175.7,112.2 176,111.4 176.2,111 176.5,110.3 176.8,109.3 177,108.5 177.2,109.2 177.5,110.1 177.8,110.9 178,111.6 178.4,112.3 178.8,113.1 179.2,114 179.6,115 180,115.6 180.8,115 181.5,114.8 182.2,114.5 183,114.1 183.3,113.4 183.7,112.9 184,112.2 184.3,111.1 184.7,109.7 185,108.5 185.4,108.1 185.8,107.5 186.1,106.8 186.5,106.2 187,107.1 187.5,107.5 188,107.8 188.2,108.5 188.5,109.6 188.8,110.6 189,111.3 189.2,111.9 189.5,112.3 189.9,111.6 190.2,111.4 190.6,110.7 191,109.5 191.4,110.5 191.8,111.8 192.1,112.6 192.5,113.3 193,113.3 193.5,113.1 194,112.4 194.5,112.4 195,112.7 195.5,113.8 196,114.7 196.5,113.8 197,113 197.5,112.6 198,111.7 198.7,111.9 199.3,112.5 200,112.9 200.7,112.8 201.3,112.9 202,112.7 202.7,112.4 203.3,111.4 204,110.4 204.7,110.3 205.3,110 206,109.2 206.8,109.1 207.5,109.4 208.2,109.6 209,109.8 209.8,109.9 210.5,110.1 211.2,110.3 212,110.2 212.7,110.4 213.3,110.5 214,110.7 214.4,111.2 214.8,111.7 215.1,112.6 215.5,113.5 216.3,113.4 217.2,113.6 218,113.7 218.8,113.6 219.5,113.4 220.2,113.4 221,113.7 221.8,113.4 222.5,113 223.2,112.6 224,112.4 224.7,112.7 225.3,112.8 226,113.5 226.8,113.9 227.5,114.1 228.2,114.7 229,115.2 229.7,115.2 230.3,115.2 231,116 231,117 231,118.7 231,120 231,121 231,121.9 231,122.8 231,123.7 231,124.8 231,126.3 231,127.9 231,129.1 231,130.1 231,131 231,132 231,133.1 231,134.6 231,136.2 231,137.4 231,138.4 231,139.4 231,140.7 231,142.1 231,143.2 231,144.7 231,146 231,146.3 231,147.2 231,148.9 231,150.2 231,151.2 231,152.6 231,154.1 231,155 231,155.9 231,157.8 231,159.5 231,160.3 231,161 231,161.8 231,162.9 231,164.8 231,166.7 231,167.2 231,167.6 231,169.1 231,170.7 231,172 231,173.2 231,174 231,175.3 231,177.1 231,178.4 231,179.6 231,180.8 231,181.8 231,182.8 231,184.2 231,185 231,185.9 231,187.8 231,189.6 231,190.7 229.8,190.5 228.6,189.8 227.4,189.4 226.2,189.9 225,189.8 223.8,189.1 222.6,189.3 221.5,189.8 220.3,190.2 219.1,190.2 217.9,190.1 216.7,189.9 215.5,189.3 214.3,189.2 213.1,189.7 211.9,189.9 210.7,189.9 209.5,189.9 208.3,189.9 207.1,190.1 205.9,190 204.7,189.6 203.5,188.9 202.4,188.7 201.2,189.2 200,189.9 198.8,190.2 197.6,190.1 196.4,190.3 195.2,190.8 194,190.9 192.8,190.7 191.6,190.6 190.4,190.2 189.2,189.4 188.1,189.3 186.9,190 185.7,190.8 184.5,190.9 183.3,190.4 182.1,190.2 180.9,189.9 179.8,189.5 178.6,189.9 177.4,190 176.2,190.1 175,190.5 173.8,190.4 172.6,190.3 171.4,190.2 170.2,190 169.1,190.3 167.9,190.5 166.7,190 165.5,190 164.3,190.7 163.1,190.7 161.9,190.2 160.8,190 159.6,190 158.4,190.3 157.2,190.4 156,190.2 156,189.4 156,188.5 156,187 156,185.7 156,184.4 156,182.9 156,181.8 156,181.1 156,179.9 156,178.5 156,177.4 156,176.4 156,175.1 156,173.7 156,172.6 156,171.3 156,170.2 156,169.5 156,168.3 156,166.6 156,165.2 156,163.8 156,162.5 156,161.6 156,160.6 156,159 156,157.8 156,157 156,156 156,155 156,153.5 156,152.1 156,150.6 156,149.3 156,148.8 156,148.1 156,146.9 156,145.5 156,144.3 156,143 156,141.6 156,140.3 156,139.1 156,138 156,137 156,135.6 156,134.2 156,133.3 156,132 156,130.4 156,129.2 156,128.4 156,127.6 156,126.7 156,125.4 156,123.9 156,122.2 156,121 156,120.1 156,119.1 156,118"/></clipPath>
<linearGradient id="pag11" gradientUnits="userSpaceOnUse" x1="194" y1="141" x2="194" y2="262"><stop offset="0" stop-color="#f4f000"/><stop offset="0.017" stop-color="#ebf000"/><stop offset="0.033" stop-color="#e2f000"/><stop offset="0.05" stop-color="#d9f000"/><stop offset="0.067" stop-color="#d0f000"/><stop offset="0.083" stop-color="#c4f000"/><stop offset="0.1" stop-color="#b8f000"/><stop offset="0.117" stop-color="#adf000"/><stop offset="0.133" stop-color="#a1f000"/><stop offset="0.15" stop-color="#95f000"/><stop offset="0.167" stop-color="#89f000"/><stop offset="0.183" stop-color="#7df000"/><stop offset="0.2" stop-color="#71f000"/><stop offset="0.217" stop-color="#62f000"/><stop offset="0.233" stop-color="#54f000"/><stop offset="0.25" stop-color="#45f000"/><stop offset="0.267" stop-color="#3bf005"/><stop offset="0.283" stop-color="#33f00d"/><stop offset="0.3" stop-color="#2af016"/><stop offset="0.317" stop-color="#22f01e"/><stop offset="0.333" stop-color="#1cf02e"/><stop offset="0.35" stop-color="#18f042"/><stop offset="0.367" stop-color="#13f055"/><stop offset="0.383" stop-color="#0ef06f"/><stop offset="0.4" stop-color="#08f090"/><stop offset="0.417" stop-color="#02f0b2"/><stop offset="0.433" stop-color="#00edca"/><stop offset="0.45" stop-color="#00e7db"/><stop offset="0.467" stop-color="#00e1ec"/><stop offset="0.483" stop-color="#00d3f6"/><stop offset="0.5" stop-color="#00c2fe"/><stop offset="0.517" stop-color="#00acff"/><stop offset="0.533" stop-color="#0096ff"/><stop offset="0.55" stop-color="#0086ff"/><stop offset="0.567" stop-color="#0077ff"/><stop offset="0.583" stop-color="#0064ff"/><stop offset="0.6" stop-color="#0556fd"/><stop offset="0.617" stop-color="#0b4afa"/><stop offset="0.633" stop-color="#113ef7"/><stop offset="0.65" stop-color="#192df3"/><stop offset="0.667" stop-color="#241fef"/><stop offset="0.683" stop-color="#2f1bee"/><stop offset="0.7" stop-color="#3918ec"/><stop offset="0.717" stop-color="#4215ea"/><stop offset="0.733" stop-color="#4c11e9"/><stop offset="0.75" stop-color="#5610e6"/><stop offset="0.767" stop-color="#5e10e3"/><stop offset="0.783" stop-color="#6510e1"/><stop offset="0.8" stop-color="#6c10df"/><stop offset="0.817" stop-color="#7410dc"/><stop offset="0.833" stop-color="#7910d9"/><stop offset="0.85" stop-color="#7e10d6"/><stop offset="0.867" stop-color="#8310d4"/><stop offset="0.883" stop-color="#8710d2"/><stop offset="0.9" stop-color="#8a10d0"/><stop offset="0.917" stop-color="#8c10ce"/><stop offset="0.933" stop-color="#8e11cc"/><stop offset="0.95" stop-color="#8f11ca"/><stop offset="0.967" stop-color="#9111c8"/><stop offset="0.983" stop-color="#9212c6"/><stop offset="1" stop-color="#9412c4"/></linearGradient>
<clipPath id="pac11"><polygon points="168,144 169.7,143.8 171.4,143.3 173.1,143.2 174.9,142.8 176.6,142.3 178.3,141.9 180,141.6 181.8,141.7 183.5,141.7 185.2,141.7 187,141.4 188.8,141 190.5,141 192.2,141.3 194,141.4 195.8,141.5 197.5,141.4 199.2,141.3 201,141.5 202.8,141.7 204.5,141.6 206.2,141.6 208,141.7 209.7,142.2 211.4,142.5 213.1,142.9 214.9,143.2 216.6,143.4 218.3,143.7 220,144 220,144 220,145 220,146.6 220,148.4 219.9,150 219.9,151.3 219.9,153 219.9,154.7 219.9,155.9 219.9,157.2 219.9,159 219.9,160.8 219.8,162.4 219.8,163.8 219.8,165.1 219.8,166.2 219.8,167.4 219.8,168.7 219.8,170.3 219.8,172 219.7,173.6 219.7,175 219.7,176.7 219.7,178.1 219.7,179.4 219.7,181.1 219.7,182.9 219.7,184.2 219.6,185.3 219.6,186.9 219.6,188.7 219.6,190.2 219.5,191.6 219.4,192.8 219.3,193.8 219.2,195.3 219.1,196.7 219,197.7 218.8,199.2 218.5,200.7 218.3,202.2 218.1,203.4 217.8,204.7 217.6,206.3 217.4,207.9 217.1,209.2 216.9,210.5 216.7,211.9 216.4,213.3 216.2,214.4 216,215.6 215.8,216.9 215.6,218.2 215.4,219.4 215.2,220.4 215,221.8 214.8,223.3 214.5,224.3 214.3,225.9 214,227.7 213.8,228.9 213.6,230.1 213.3,231.4 213.1,232.5 212.8,233.6 212.6,234.8 212.3,236 212,237.3 211.6,238.7 211.3,240.1 211,241.3 210.5,242.8 210,244.1 209.5,245.4 209,246.6 208.3,247.7 207.7,248.8 207,249.9 206.3,250.9 205.4,252 204.4,252.9 203.4,253.7 202.5,254.2 201.5,254.6 200.5,255.5 199.5,255.9 198.7,256.1 197.8,256.7 197.7,258.1 197.5,259.5 197.3,260.8 197.2,262.2 196.3,262.2 195.4,262.1 195.3,260.9 195.2,259.5 195,258.1 194.9,257 194.1,256.6 193.2,256 192.2,255.4 191.3,254.9 190.3,254.6 189.4,253.7 188.6,252.8 187.7,252 186.8,251.3 186.2,250.2 185.5,249.1 184.8,247.8 184.2,246.8 183.6,245.6 183.1,244 182.6,242.4 182,241 181.7,239.8 181.4,238.5 181,237.1 180.7,235.8 180.4,234.6 180.1,233.4 179.8,232.3 179.4,231.3 179.1,230.2 178.8,228.9 178.4,227.4 178.1,226.1 177.7,224.7 177.4,223.2 177,221.8 176.7,220.4 176.3,219.1 176,217.9 175.7,216.7 175.3,215.2 175,213.9 174.7,212.8 174.3,211.6 174,210.2 173.7,208.7 173.3,207.5 173,206.3 172.7,205 172.4,203.6 172.2,202 171.9,200.6 171.6,199.3 171.3,198.2 171.1,197 171,195.4 170.8,194.1 170.6,193 170.5,191.4 170.3,189.9 170.2,188.4 170.2,186.9 170.1,185.7 170.1,184.3 170,182.7 170,181.1 169.9,179.4 169.8,177.8 169.8,176.4 169.7,174.9 169.7,173.4 169.6,172.3 169.5,170.8 169.5,169.3 169.4,168 169.4,166.7 169.3,165 169.3,163.3 169.2,161.8 169.1,160.2 169.1,158.7 169,157.5 169,156 168.9,154.3 168.8,152.7 168.8,151.2 168.7,149.7 168.7,148.1 168.6,146.7 168.6,145.5 168.5,144"/></clipPath>
<linearGradient id="pbg0" gradientUnits="userSpaceOnUse" x1="100" y1="112" x2="108.3" y2="155.4"><stop offset="0" stop-color="#b0f000"/><stop offset="0.056" stop-color="#a6f000"/><stop offset="0.111" stop-color="#9cf000"/><stop offset="0.167" stop-color="#90f000"/><stop offset="0.222" stop-color="#83f000"/><stop offset="0.278" stop-color="#77f000"/><stop offset="0.333" stop-color="#74f000"/><stop offset="0.389" stop-color="#70f000"/><stop offset="0.444" stop-color="#6bf000"/><stop offset="0.5" stop-color="#67f000"/><stop offset="0.556" stop-color="#62f000"/><stop offset="0.611" stop-color="#5ef000"/><stop offset="0.667" stop-color="#59f000"/><stop offset="0.722" stop-color="#55f000"/><stop offset="0.778" stop-color="#51f000"/><stop offset="0.833" stop-color="#4df000"/><stop offset="0.889" stop-color="#48f000"/><stop offset="0.944" stop-color="#44f000"/><stop offset="1" stop-color="#40f000"/></linearGradient>
<clipPath id="pbc0"><polygon points="44.5,130 45.3,127.8 46.1,128.6 46.9,128.5 47.7,127.4 48.5,127.2 49.5,127.9 50.5,127.6 51.6,126.8 52.6,125.9 51.7,125.9 52.6,124.2 53.5,125.9 53.6,125.2 54.6,124.7 55.7,123.7 56.7,123.5 55.8,123.5 56.7,120.5 57.5,123.5 57.7,123.1 58.7,122.5 59.7,123.5 59.4,123.5 60,121 60.6,123.5 60.8,124.4 61.8,123 62.8,121.9 63.8,122.4 64.8,123 65.9,122.5 66.9,121.4 67.9,120.7 68.9,121.3 68.2,121.3 68.9,118.3 69.7,121.3 70,122 71,122.4 72,122.3 71.1,122.3 72,119.7 72.9,122.3 73.1,120.8 74.2,118.7 73.4,118.7 74.2,117.2 75,118.7 75.3,118 76.3,118.6 77.4,119.2 76.9,119.2 77.4,117.2 78,119.2 78.5,119.5 79.6,120 80.7,119.9 81.8,119.6 82.9,119.6 83.9,118.6 82.8,118.6 83.5,114.6 84.2,118.6 85,118.4 86.1,120 87.2,120.5 88.3,119.2 89.4,117.1 90.5,115.5 89.9,115.5 90.5,114.3 91,115.5 91.5,115.3 92.6,116.3 93.7,117.6 94.8,118.3 94,118.3 94.8,115.5 95.6,118.3 95.9,118.8 95.4,118.8 95.9,117.9 96.4,118.8 97,118.7 96.3,118.7 97,116.4 97.6,118.7 98.1,117.6 99.1,116.5 100.2,115.8 101.3,115.1 100.6,115.1 101.3,112.7 102,115.1 102.4,115 103.5,115.6 104.6,115.6 105.7,114.7 106.7,114.5 107.8,115.3 107,115.3 107.8,112.9 108.7,115.3 107.4,115.3 108,112.3 108.6,115.3 108.9,115.8 110,115.1 111,114.2 112.1,113.5 113.1,113.1 114.1,112.9 115.2,112.5 116.2,112.4 117.2,113 118.3,112.9 117.4,112.9 118.3,111.2 119.2,112.9 119.3,112.1 120.3,112.1 121.4,111.4 120.7,111.4 121.4,108.8 122.1,111.4 122.4,109.8 123.4,108.2 124.5,108.2 123.5,108.2 124,105.7 124.5,108.2 125.5,109.4 126.6,109.6 127.6,109.7 126.8,109.7 127.6,107.2 128.4,109.7 128.6,109.6 129.7,109.6 130.7,109.6 131.7,107.6 132.8,105.1 132.3,105.1 132.8,102.1 133.2,105.1 133.8,105.7 133.4,105.7 133.8,103 134.2,105.7 134.8,108.2 135.9,108.9 136.9,107.3 137.9,105.6 139,105.3 140,105.3 139.2,105.3 140,102.3 140.8,105.3 141,104.2 142.1,104 143.1,104.9 142.7,104.9 143.1,102.5 143.6,104.9 144.2,105 143.5,105 144.2,103.3 144.8,105 145.2,104.9 144.5,104.9 145.2,103.2 145.9,104.9 146.2,104.7 147.3,103.3 148.3,102.5 149.4,103 150.4,103.2 151.4,103.6 152.5,103.9 153.5,103.1 152.9,103.1 153.5,100 154.2,103.1 154.6,102.4 155.6,102 156.6,101.7 156.2,101.7 156.6,100.6 157,101.7 157.7,101.2 157,101.2 157.7,100.4 158.4,101.2 158.7,101.5 159.8,101.9 160.8,101.7 161.8,101.4 162.9,100.2 163.9,99.8 165,99.5 166,99.5 166,140 164.8,141.6 163.7,141 162.5,139.9 161.3,140.2 160.1,140.9 159,141.3 157.8,141 156.6,140.9 155.4,142.2 154.3,142.4 153.1,141.1 151.9,140.9 150.7,141.2 149.6,141.7 148.4,142.2 147.2,141.9 146,141.8 144.9,142.9 143.7,143.3 142.5,142.9 141.3,142.5 140.2,142.5 139,143.8 137.8,144.8 136.7,144.2 135.5,143.1 134.3,142.5 133.1,142.5 132,142.9 130.8,144.3 129.6,145.6 128.4,145.5 127.3,145 126.1,144.6 124.9,144.5 123.7,144.8 122.6,145.1 121.4,144.4 120.2,143.8 119,144.8 117.9,145.5 116.7,145.4 115.5,145.9 114.3,145.7 113.2,145.2 112,145.8 110.8,145.6 109.6,145.1 108.4,145.2 107.3,145 106.1,144.7 104.9,144.5 103.7,144.2 102.5,144.1 101.3,144 100.1,143.8 99,144 97.8,144.8 96.6,144.9 95.4,145.1 94.2,145.5 93,145 91.9,144 90.7,143.6 89.5,144.1 88.3,144.5 87.1,144.3 85.9,143.6 84.7,142.7 83.6,142.3 82.4,142.5 81.2,142.3 80,142.4 78.9,143.3 77.7,143.4 76.6,143.5 75.4,143.4 74.3,143 73.1,143.9 72,145.1 70.8,144.9 69.7,144.3 68.5,145 67.3,145.2 66.2,144.5 65,144.4 63.8,145.3 62.7,146.1 61.5,145.5 60.3,144.8 59.2,145.1 58,145.5 57.2,144.2 56.5,143 55.8,141.9 55,140.6 54.2,139.9 53.3,139.2 52.5,138.6 51.7,138.2 50.8,137.1 50,135.9 49.6,135.4 49.2,134.7 48.9,133.1 48.5,132.2 47.5,132.6 46.5,132.4 45.5,131.5 44.5,131"/></clipPath>
<linearGradient id="pbg1" gradientUnits="userSpaceOnUse" x1="194" y1="96" x2="194" y2="140"><stop offset="0" stop-color="#b8f000"/><stop offset="0.059" stop-color="#b1f000"/><stop offset="0.118" stop-color="#aaf000"/><stop offset="0.176" stop-color="#a3f000"/><stop offset="0.235" stop-color="#9bf000"/><stop offset="0.294" stop-color="#92f000"/><stop offset="0.353" stop-color="#8af000"/><stop offset="0.412" stop-color="#82f000"/><stop offset="0.471" stop-color="#7bf000"/><stop offset="0.529" stop-color="#76f000"/><stop offset="0.588" stop-color="#72f000"/><stop offset="0.647" stop-color="#6ef000"/><stop offset="0.706" stop-color="#6af000"/><stop offset="0.765" stop-color="#65f000"/><stop offset="0.824" stop-color="#61f000"/><stop offset="0.882" stop-color="#5cf000"/><stop offset="0.941" stop-color="#58f000"/><stop offset="1" stop-color="#53f000"/></linearGradient>
<clipPath id="pbc1"><polygon points="160,101 161,101.1 160.5,101.1 161,98.6 161.5,101.1 162,100.2 161.3,100.2 162,98.7 162.8,100.2 163.1,99.9 164.1,100.2 165.1,100.3 164.2,100.3 165,96.3 165.8,100.3 166.1,99.5 165.5,99.5 166.1,97.7 166.7,99.5 167.2,98.4 168.2,97.6 169.2,97.4 168.6,97.4 169.2,96.4 169.8,97.4 170.2,97.2 169.7,97.2 170.2,95.7 170.8,97.2 171.2,96.4 172.3,95.5 171.4,95.5 172.3,93.7 173.1,95.5 173.3,95.3 172.4,95.3 173.3,93.6 174.2,95.3 174.3,94.9 175.3,95.8 174.7,95.8 175.3,94.2 175.9,95.8 176.2,97.2 177.2,97.5 178.1,97.5 179.1,97.7 178.3,97.7 179.1,96.2 179.8,97.7 180,98.1 181,98.7 182,99 183,98.8 184,98.9 185,99.3 186,99.2 187,100 188,100.6 189,99.6 190,99.3 191,101.3 192,103 191.3,103 192,100.1 192.7,103 193,102 194,100.5 195,101.1 196,102.7 197,102.9 198,102 199,102.2 200,102.8 199.2,102.8 200,99.8 200.8,102.8 201.1,102.4 202.1,101.7 203.2,101.3 202.3,101.3 203.2,98.3 204.1,101.3 204.2,101.8 205.3,102.6 204.7,102.6 205.3,101.6 205.9,102.6 206.3,102.7 205.5,102.7 206.3,100.8 207.1,102.7 207.4,103.4 208.4,103.5 209.5,102.3 210.6,102.4 211.6,103.3 211.4,103.3 212,100.8 212.6,103.3 212.7,103.2 213.7,102.4 214.8,102.4 214.2,102.4 214.8,100.4 215.4,102.4 215.8,102.3 215.2,102.3 215.8,100.4 216.5,102.3 216.9,101.6 217.9,101.6 219,101.8 219.8,102.7 219.3,102.7 219.8,100.9 220.2,102.7 220.6,103.7 221.3,104.4 220.5,104.4 221.3,103 222.2,104.4 222.1,105 222.9,105.1 222.1,105.1 222.9,102.2 223.7,105.1 223.7,105.3 224.4,106.8 223.8,106.8 224.4,105.1 225.1,106.8 225.2,107.9 226,107.3 227,107.4 226.4,107.4 227,106.5 227.6,107.4 228,108.3 229,108.9 230,109.2 231,109.8 232,110.5 233,110.7 234,110.9 233.4,110.9 234,108.8 234.6,110.9 235,111.1 236,112 236,140 160,140"/></clipPath>
<linearGradient id="pbg2" gradientUnits="userSpaceOnUse" x1="280" y1="114" x2="274" y2="159.2"><stop offset="0" stop-color="#b0f000"/><stop offset="0.056" stop-color="#a4f000"/><stop offset="0.111" stop-color="#97f000"/><stop offset="0.167" stop-color="#88f000"/><stop offset="0.222" stop-color="#78f000"/><stop offset="0.278" stop-color="#74f000"/><stop offset="0.333" stop-color="#70f000"/><stop offset="0.389" stop-color="#6cf000"/><stop offset="0.444" stop-color="#67f000"/><stop offset="0.5" stop-color="#62f000"/><stop offset="0.556" stop-color="#5ef000"/><stop offset="0.611" stop-color="#5af000"/><stop offset="0.667" stop-color="#56f000"/><stop offset="0.722" stop-color="#52f000"/><stop offset="0.778" stop-color="#4ff000"/><stop offset="0.833" stop-color="#4bf000"/><stop offset="0.889" stop-color="#47f000"/><stop offset="0.944" stop-color="#44f000"/><stop offset="1" stop-color="#40f000"/></linearGradient>
<clipPath id="pbc2"><polygon points="230,110.5 231,110.5 232,110.7 231.4,110.7 232,107.7 232.6,110.7 233,111.1 234,111.4 235,111 236,110.9 237.1,110.9 238.1,111 237.5,111 238.1,108.6 238.7,111 239.2,111.7 240.2,111.3 241.3,110.9 242.4,112.1 243.4,112.8 242.8,112.8 243.4,110.2 244,112.8 244.5,113.2 245.5,114 246.6,113.5 245.9,113.5 246.6,112.5 247.2,113.5 247.6,113 248.7,113.3 249.8,112.9 250.8,112.3 251.9,112.7 252.9,113.9 254,114.8 255.1,114.5 256.1,113.3 257.2,112.2 258.3,112.8 259.3,114.3 260.4,115.7 261.5,115.7 261.4,115.7 262,113.2 262.6,115.7 262.5,114.9 263.6,114.5 264.7,114 265.7,113.7 266.8,113.9 267.9,114.2 268.9,114.8 270,115 271.1,115.1 272.2,115.1 273.2,114.6 274.3,114.8 273.8,114.8 274.3,111.7 274.8,114.8 275.4,114.8 276.5,114.4 277.5,115.6 278.6,117.1 277.9,117.1 278.6,115.3 279.3,117.1 279.7,117.3 280.8,116.8 281.8,116.8 282.9,116.4 284,115.7 285,115.8 284.4,115.8 285,112.8 285.6,115.8 286,116.1 287,117.1 288,118.1 289,117.3 288.5,117.3 289,115.5 289.5,117.3 290,117 291,118.4 292,119.3 293,119 294,118.4 295,119.1 296,120.3 297,119.7 298,119 299.1,119.6 300.1,119.9 301.2,119.1 302.3,119.1 303.3,120.5 304.4,122.3 305.5,122.3 306.5,121.4 307.6,121.1 308.7,120.9 309.7,120.9 310.8,121.9 311.9,122.8 311.4,122.8 311.9,121.2 312.3,122.8 312.9,122.2 314,121.8 314.5,123.3 315,124.7 315.5,124 315.5,124 315.3,125.2 315.2,125.8 315,126.9 314.3,127.5 313.7,128.5 313,129.3 312,129.2 311,129.2 310,130 309.3,131.1 308.7,131.7 308,132.6 307.3,133.9 306.7,134.5 306,135.1 305.4,136.7 304.9,137.7 304.3,138.6 303.7,139.7 303.1,140.8 302.6,141.1 302,141.7 300.8,142.2 299.7,142.4 298.5,142 297.3,142.1 296.2,141.8 295,141 294,141.2 293,141.1 292,140 291.7,140.9 291.4,142.3 291.1,143.6 290.9,144.6 290.6,146.2 290.3,147.3 290,147.6 289.4,148.6 288.8,149.6 288.2,150.3 287.6,151.3 287,151.7 286,151.2 285,151.4 284,151.7 283,151.4 282,151.8 280.8,153.3 279.7,153.9 278.5,153.5 277.3,152.6 276.2,151.9 275,152.5 273.9,153.1 272.7,152.8 271.6,152.7 270.4,153.5 269.3,154.1 268.1,153.7 267,153 265.8,153 264.7,153.4 263.5,153.2 262.3,152.5 261.1,152.2 260,152 258.8,152.6 257.6,153.1 256.4,152.6 255.3,151.9 254.1,151.6 252.9,151.2 251.7,151.2 250.6,151.6 249.4,151.4 248.2,151.2 247,151.5 245.9,151.7 244.7,151.5 243.5,150.6 242.3,149.6 241.2,149.2 240,149.2 239,148.7 238,148.7 237,148.8 236,148.2 235,147.3 234,146.4 233,145.6 232,145.5 231,145.7 230,145"/></clipPath>
<clipPath id="pbtintclp"><polygon points="44.5,130 45.3,127.8 46.1,128.6 46.9,128.5 47.7,127.4 48.5,127.2 49.5,127.9 50.5,127.6 51.6,126.8 52.6,125.9 51.7,125.9 52.6,124.2 53.5,125.9 53.6,125.2 54.6,124.7 55.7,123.7 56.7,123.5 55.8,123.5 56.7,120.5 57.5,123.5 57.7,123.1 58.7,122.5 59.7,123.5 59.4,123.5 60,121 60.6,123.5 60.8,124.4 61.8,123 62.8,121.9 63.8,122.4 64.8,123 65.9,122.5 66.9,121.4 67.9,120.7 68.9,121.3 68.2,121.3 68.9,118.3 69.7,121.3 70,122 71,122.4 72,122.3 71.1,122.3 72,119.7 72.9,122.3 73.1,120.8 74.2,118.7 73.4,118.7 74.2,117.2 75,118.7 75.3,118 76.3,118.6 77.4,119.2 76.9,119.2 77.4,117.2 78,119.2 78.5,119.5 79.6,120 80.7,119.9 81.8,119.6 82.9,119.6 83.9,118.6 82.8,118.6 83.5,114.6 84.2,118.6 85,118.4 86.1,120 87.2,120.5 88.3,119.2 89.4,117.1 90.5,115.5 89.9,115.5 90.5,114.3 91,115.5 91.5,115.3 92.6,116.3 93.7,117.6 94.8,118.3 94,118.3 94.8,115.5 95.6,118.3 95.9,118.8 95.4,118.8 95.9,117.9 96.4,118.8 97,118.7 96.3,118.7 97,116.4 97.6,118.7 98.1,117.6 99.1,116.5 100.2,115.8 101.3,115.1 100.6,115.1 101.3,112.7 102,115.1 102.4,115 103.5,115.6 104.6,115.6 105.7,114.7 106.7,114.5 107.8,115.3 107,115.3 107.8,112.9 108.7,115.3 107.4,115.3 108,112.3 108.6,115.3 108.9,115.8 110,115.1 111,114.2 112.1,113.5 113.1,113.1 114.1,112.9 115.2,112.5 116.2,112.4 117.2,113 118.3,112.9 117.4,112.9 118.3,111.2 119.2,112.9 119.3,112.1 120.3,112.1 121.4,111.4 120.7,111.4 121.4,108.8 122.1,111.4 122.4,109.8 123.4,108.2 124.5,108.2 123.5,108.2 124,105.7 124.5,108.2 125.5,109.4 126.6,109.6 127.6,109.7 126.8,109.7 127.6,107.2 128.4,109.7 128.6,109.6 129.7,109.6 130.7,109.6 131.7,107.6 132.8,105.1 132.3,105.1 132.8,102.1 133.2,105.1 133.8,105.7 133.4,105.7 133.8,103 134.2,105.7 134.8,108.2 135.9,108.9 136.9,107.3 137.9,105.6 139,105.3 140,105.3 139.2,105.3 140,102.3 140.8,105.3 141,104.2 142.1,104 143.1,104.9 142.7,104.9 143.1,102.5 143.6,104.9 144.2,105 143.5,105 144.2,103.3 144.8,105 145.2,104.9 144.5,104.9 145.2,103.2 145.9,104.9 146.2,104.7 147.3,103.3 148.3,102.5 149.4,103 150.4,103.2 151.4,103.6 152.5,103.9 153.5,103.1 152.9,103.1 153.5,100 154.2,103.1 154.6,102.4 155.6,102 156.6,101.7 156.2,101.7 156.6,100.6 157,101.7 157.7,101.2 157,101.2 157.7,100.4 158.4,101.2 158.7,101.5 159.8,101.9 160.8,101.7 161.8,101.4 162.9,100.2 163.9,99.8 165,99.5 166,99.5 166,140 164.8,141.6 163.7,141 162.5,139.9 161.3,140.2 160.1,140.9 159,141.3 157.8,141 156.6,140.9 155.4,142.2 154.3,142.4 153.1,141.1 151.9,140.9 150.7,141.2 149.6,141.7 148.4,142.2 147.2,141.9 146,141.8 144.9,142.9 143.7,143.3 142.5,142.9 141.3,142.5 140.2,142.5 139,143.8 137.8,144.8 136.7,144.2 135.5,143.1 134.3,142.5 133.1,142.5 132,142.9 130.8,144.3 129.6,145.6 128.4,145.5 127.3,145 126.1,144.6 124.9,144.5 123.7,144.8 122.6,145.1 121.4,144.4 120.2,143.8 119,144.8 117.9,145.5 116.7,145.4 115.5,145.9 114.3,145.7 113.2,145.2 112,145.8 110.8,145.6 109.6,145.1 108.4,145.2 107.3,145 106.1,144.7 104.9,144.5 103.7,144.2 102.5,144.1 101.3,144 100.1,143.8 99,144 97.8,144.8 96.6,144.9 95.4,145.1 94.2,145.5 93,145 91.9,144 90.7,143.6 89.5,144.1 88.3,144.5 87.1,144.3 85.9,143.6 84.7,142.7 83.6,142.3 82.4,142.5 81.2,142.3 80,142.4 78.9,143.3 77.7,143.4 76.6,143.5 75.4,143.4 74.3,143 73.1,143.9 72,145.1 70.8,144.9 69.7,144.3 68.5,145 67.3,145.2 66.2,144.5 65,144.4 63.8,145.3 62.7,146.1 61.5,145.5 60.3,144.8 59.2,145.1 58,145.5 57.2,144.2 56.5,143 55.8,141.9 55,140.6 54.2,139.9 53.3,139.2 52.5,138.6 51.7,138.2 50.8,137.1 50,135.9 49.6,135.4 49.2,134.7 48.9,133.1 48.5,132.2 47.5,132.6 46.5,132.4 45.5,131.5 44.5,131"/><polygon points="160,101 161,101.1 160.5,101.1 161,98.6 161.5,101.1 162,100.2 161.3,100.2 162,98.7 162.8,100.2 163.1,99.9 164.1,100.2 165.1,100.3 164.2,100.3 165,96.3 165.8,100.3 166.1,99.5 165.5,99.5 166.1,97.7 166.7,99.5 167.2,98.4 168.2,97.6 169.2,97.4 168.6,97.4 169.2,96.4 169.8,97.4 170.2,97.2 169.7,97.2 170.2,95.7 170.8,97.2 171.2,96.4 172.3,95.5 171.4,95.5 172.3,93.7 173.1,95.5 173.3,95.3 172.4,95.3 173.3,93.6 174.2,95.3 174.3,94.9 175.3,95.8 174.7,95.8 175.3,94.2 175.9,95.8 176.2,97.2 177.2,97.5 178.1,97.5 179.1,97.7 178.3,97.7 179.1,96.2 179.8,97.7 180,98.1 181,98.7 182,99 183,98.8 184,98.9 185,99.3 186,99.2 187,100 188,100.6 189,99.6 190,99.3 191,101.3 192,103 191.3,103 192,100.1 192.7,103 193,102 194,100.5 195,101.1 196,102.7 197,102.9 198,102 199,102.2 200,102.8 199.2,102.8 200,99.8 200.8,102.8 201.1,102.4 202.1,101.7 203.2,101.3 202.3,101.3 203.2,98.3 204.1,101.3 204.2,101.8 205.3,102.6 204.7,102.6 205.3,101.6 205.9,102.6 206.3,102.7 205.5,102.7 206.3,100.8 207.1,102.7 207.4,103.4 208.4,103.5 209.5,102.3 210.6,102.4 211.6,103.3 211.4,103.3 212,100.8 212.6,103.3 212.7,103.2 213.7,102.4 214.8,102.4 214.2,102.4 214.8,100.4 215.4,102.4 215.8,102.3 215.2,102.3 215.8,100.4 216.5,102.3 216.9,101.6 217.9,101.6 219,101.8 219.8,102.7 219.3,102.7 219.8,100.9 220.2,102.7 220.6,103.7 221.3,104.4 220.5,104.4 221.3,103 222.2,104.4 222.1,105 222.9,105.1 222.1,105.1 222.9,102.2 223.7,105.1 223.7,105.3 224.4,106.8 223.8,106.8 224.4,105.1 225.1,106.8 225.2,107.9 226,107.3 227,107.4 226.4,107.4 227,106.5 227.6,107.4 228,108.3 229,108.9 230,109.2 231,109.8 232,110.5 233,110.7 234,110.9 233.4,110.9 234,108.8 234.6,110.9 235,111.1 236,112 236,140 160,140"/><polygon points="230,110.5 231,110.5 232,110.7 231.4,110.7 232,107.7 232.6,110.7 233,111.1 234,111.4 235,111 236,110.9 237.1,110.9 238.1,111 237.5,111 238.1,108.6 238.7,111 239.2,111.7 240.2,111.3 241.3,110.9 242.4,112.1 243.4,112.8 242.8,112.8 243.4,110.2 244,112.8 244.5,113.2 245.5,114 246.6,113.5 245.9,113.5 246.6,112.5 247.2,113.5 247.6,113 248.7,113.3 249.8,112.9 250.8,112.3 251.9,112.7 252.9,113.9 254,114.8 255.1,114.5 256.1,113.3 257.2,112.2 258.3,112.8 259.3,114.3 260.4,115.7 261.5,115.7 261.4,115.7 262,113.2 262.6,115.7 262.5,114.9 263.6,114.5 264.7,114 265.7,113.7 266.8,113.9 267.9,114.2 268.9,114.8 270,115 271.1,115.1 272.2,115.1 273.2,114.6 274.3,114.8 273.8,114.8 274.3,111.7 274.8,114.8 275.4,114.8 276.5,114.4 277.5,115.6 278.6,117.1 277.9,117.1 278.6,115.3 279.3,117.1 279.7,117.3 280.8,116.8 281.8,116.8 282.9,116.4 284,115.7 285,115.8 284.4,115.8 285,112.8 285.6,115.8 286,116.1 287,117.1 288,118.1 289,117.3 288.5,117.3 289,115.5 289.5,117.3 290,117 291,118.4 292,119.3 293,119 294,118.4 295,119.1 296,120.3 297,119.7 298,119 299.1,119.6 300.1,119.9 301.2,119.1 302.3,119.1 303.3,120.5 304.4,122.3 305.5,122.3 306.5,121.4 307.6,121.1 308.7,120.9 309.7,120.9 310.8,121.9 311.9,122.8 311.4,122.8 311.9,121.2 312.3,122.8 312.9,122.2 314,121.8 314.5,123.3 315,124.7 315.5,124 315.5,124 315.3,125.2 315.2,125.8 315,126.9 314.3,127.5 313.7,128.5 313,129.3 312,129.2 311,129.2 310,130 309.3,131.1 308.7,131.7 308,132.6 307.3,133.9 306.7,134.5 306,135.1 305.4,136.7 304.9,137.7 304.3,138.6 303.7,139.7 303.1,140.8 302.6,141.1 302,141.7 300.8,142.2 299.7,142.4 298.5,142 297.3,142.1 296.2,141.8 295,141 294,141.2 293,141.1 292,140 291.7,140.9 291.4,142.3 291.1,143.6 290.9,144.6 290.6,146.2 290.3,147.3 290,147.6 289.4,148.6 288.8,149.6 288.2,150.3 287.6,151.3 287,151.7 286,151.2 285,151.4 284,151.7 283,151.4 282,151.8 280.8,153.3 279.7,153.9 278.5,153.5 277.3,152.6 276.2,151.9 275,152.5 273.9,153.1 272.7,152.8 271.6,152.7 270.4,153.5 269.3,154.1 268.1,153.7 267,153 265.8,153 264.7,153.4 263.5,153.2 262.3,152.5 261.1,152.2 260,152 258.8,152.6 257.6,153.1 256.4,152.6 255.3,151.9 254.1,151.6 252.9,151.2 251.7,151.2 250.6,151.6 249.4,151.4 248.2,151.2 247,151.5 245.9,151.7 244.7,151.5 243.5,150.6 242.3,149.6 241.2,149.2 240,149.2 239,148.7 238,148.7 237,148.8 236,148.2 235,147.3 234,146.4 233,145.6 232,145.5 231,145.7 230,145"/></clipPath>
<radialGradient id="pbtint" gradientUnits="userSpaceOnUse" cx="178" cy="100" r="60" gradientTransform="translate(178 100) scale(1.25 0.6) translate(-178 -100)"><stop offset="0" stop-color="#64ee00" stop-opacity="0.75"/><stop offset="0.55" stop-color="#64ee00" stop-opacity="0.4"/><stop offset="1" stop-color="#64ee00" stop-opacity="0"/></radialGradient>
<linearGradient id="pbg3" gradientUnits="userSpaceOnUse" x1="95" y1="128" x2="101.8" y2="155.3"><stop offset="0" stop-color="#a0f000"/><stop offset="0.091" stop-color="#9af000"/><stop offset="0.182" stop-color="#93f000"/><stop offset="0.273" stop-color="#8df000"/><stop offset="0.364" stop-color="#86f000"/><stop offset="0.455" stop-color="#7ff000"/><stop offset="0.545" stop-color="#78f000"/><stop offset="0.636" stop-color="#70f000"/><stop offset="0.727" stop-color="#66f000"/><stop offset="0.818" stop-color="#5df000"/><stop offset="0.909" stop-color="#53f000"/><stop offset="1" stop-color="#4af000"/></linearGradient>
<clipPath id="pbc3"><polygon points="80,131 81.5,131.1 82.9,130.9 84.4,130.3 85.8,129.9 87.3,129.7 88.8,129.4 90.2,129.3 91.7,129.1 93.2,128.7 94.6,128.1 96.1,127.5 97.5,127.4 99,127.1 100.5,126.7 101.9,126.3 103.4,125.9 104.8,125.4 106.3,125.1 107.8,124.9 109.2,124.7 110.7,124.6 112.2,124.6 113.6,124.2 115.1,123.7 116.5,123.7 118,123.6 119.5,123.1 120.9,122.7 122.4,122.3 123.8,122 125.3,122 126.8,121.7 128.2,121.3 129.7,120.9 131.2,120.8 132.6,120.6 134.1,120 135.5,119.4 137,119.4 138.5,119.5 139.9,119.1 141.4,118.4 142.8,118.1 144.3,118.2 145.8,117.7 147.2,117.3 148.7,117 150.2,116.6 151.6,116.3 153.1,115.9 154.5,115.6 156,115.4 157.5,115.5 158.9,115.4 160.4,114.9 161.8,114.6 163.3,114.2 164.8,113.6 166.2,113.2 167.7,113 169.2,112.8 170.6,112.7 172.1,112.4 173.5,112 175,111.9 176.5,111.6 177.9,111.2 179.4,110.9 180.8,110.7 182.3,110.7 183.8,110.5 185.2,110 186.7,109.9 188.2,109.7 189.6,109.2 191.1,108.7 192.5,108.5 194,108 194,150 192.8,150.5 191.6,150.3 190.4,150.3 189.2,150.1 188.1,149.8 186.9,150.1 185.7,150.1 184.5,149.6 183.3,149 182.1,148.8 180.9,149.5 179.7,150.3 178.6,150.5 177.4,150.4 176.2,150.1 175,150 173.8,149.7 172.6,149.4 171.4,149.6 170.2,149.9 169,150.2 167.9,150.1 166.7,150 165.5,150.5 164.3,150.5 163.1,150.1 161.9,149.9 160.7,150.3 159.5,150.3 158.3,149.5 157.2,149.9 156,151.1 154.8,150.7 153.6,149.5 152.4,148.9 151.2,149.2 150,149.7 148.8,149.5 147.7,149.6 146.5,149.9 145.3,150.3 144.1,150.2 142.9,149.3 141.7,149.2 140.5,150 139.3,150 138.1,149.2 137,148.9 135.8,149.2 134.6,149.9 133.4,150.5 132.2,150.8 131,150.3 129.8,150.1 128.6,150.8 127.4,150.7 126.3,150 125.1,150.1 123.9,150.3 122.7,149.9 121.5,149.7 120.3,150.3 119.1,150.3 117.9,149.9 116.8,149.6 115.6,149 114.4,149 113.2,150.1 112,150.2 111.3,150.5 110.7,151.7 110,152.7 109,152.4 108,152.4 107,152.5 106,153.2 105,154.8 104,154.7 103,154 102,154.6 101,155.1 100,155 99,155.4 98,155.8 97,155.3 96,155.6 95,156.7 94,156.7 93,156.7 92,156.7 91,155.8 90,156 89,156.8 88,156.8 87,156.2 86,155.5 85,155 84,154.7 83,154.8 82.7,154.5 82.4,153.8 82.1,152.9 81.9,151.4 81.6,149.4 81.3,148.2 81,147.9 80.9,147.4 80.7,146.2 80.6,144.8 80.4,143.5 80.3,141.7 80.1,140.6 80,140"/></clipPath>
<linearGradient id="pbg4" gradientUnits="userSpaceOnUse" x1="116" y1="127" x2="125" y2="168"><stop offset="0" stop-color="#b4f000"/><stop offset="0.059" stop-color="#b2f000"/><stop offset="0.118" stop-color="#aff000"/><stop offset="0.176" stop-color="#adf000"/><stop offset="0.235" stop-color="#abf000"/><stop offset="0.294" stop-color="#a8f000"/><stop offset="0.353" stop-color="#a1f000"/><stop offset="0.412" stop-color="#99f000"/><stop offset="0.471" stop-color="#91f000"/><stop offset="0.529" stop-color="#89f000"/><stop offset="0.588" stop-color="#80f000"/><stop offset="0.647" stop-color="#77f000"/><stop offset="0.706" stop-color="#6ef000"/><stop offset="0.765" stop-color="#64f000"/><stop offset="0.824" stop-color="#59f000"/><stop offset="0.882" stop-color="#4ff000"/><stop offset="0.941" stop-color="#43f000"/><stop offset="1" stop-color="#3bf005"/></linearGradient>
<clipPath id="pbc4"><polygon points="110,128 111.4,127.3 112.9,127.4 114.3,127.3 115.8,126.7 117.2,126.4 118.7,126.2 120.1,126 121.6,125.5 123,125.2 124.5,125.3 125.9,125 127.4,124.1 128.8,123.4 130.3,123.2 131.7,123.3 133.2,123 134.6,122.6 136.1,122.6 137.5,122.3 139,121.7 140.4,121.4 141.9,121.1 143.3,120.8 144.8,120.6 146.2,120.3 147.7,120 149.1,119.8 150.6,119.4 152,118.8 153.4,118.4 154.9,118.2 156.3,118 157.8,117.7 159.2,117.3 160.7,117.4 162.1,117.3 163.6,116.7 165,116 166.5,115.8 167.9,115.7 169.4,115.5 170.8,115.1 172.3,114.5 173.7,114.3 175.2,114.4 176.6,114.4 178.1,113.8 179.5,113.2 181,113.1 182.4,112.9 183.9,112.1 185.3,111.3 186.8,111.1 188.2,110.9 189.7,110.5 191.1,110.1 192.6,110.2 194,110 194,160 192.8,161.3 191.6,161 190.5,160.6 189.3,160.9 188.1,161 186.9,160.3 185.7,160.8 184.6,162.1 183.4,162.7 182.2,162.3 181,162 179.8,162.1 178.7,163 177.5,164 176.3,163.4 175.1,162 173.9,161.6 172.8,161.9 171.6,162.2 170.4,163 169.2,164.2 168,164.8 166.9,165 165.7,164.6 164.5,164.2 163.3,164.4 162.1,164.7 161,165.1 159.8,165 158.6,164.5 157.4,164.5 156.2,165.4 155,166.1 153.9,165.9 152.7,165.7 151.5,166.1 150.3,165.8 149.1,165.4 148,165.7 146.8,166.2 145.6,167.1 144.4,167.1 143.2,166.6 142.1,166.8 140.9,167.2 139.7,167.2 138.5,167.7 137.3,168.5 136.2,168.2 135,167.4 133.8,167.5 132.6,168.5 131.4,169.2 130.3,169.1 129.1,169.2 127.9,169.5 126.7,169 125.5,168.8 124.4,169.4 123.2,170 122,171 121,171.5 120,171.2 119,171.1 118,170.7 117,169.3 116,168.4 115,168.1 114,167.7 113,167.4 112.7,166.7 112.4,165.8 112.1,164.4 111.9,162.5 111.6,161.9 111.3,162.3 111,161.1 110.9,159.4 110.7,157.8 110.6,155.9 110.4,154.8 110.3,153.9 110.1,152.5 110,152"/></clipPath>
<linearGradient id="pbg5" gradientUnits="userSpaceOnUse" x1="280" y1="123" x2="274.2" y2="151.8"><stop offset="0" stop-color="#c0f000"/><stop offset="0.083" stop-color="#b9f000"/><stop offset="0.167" stop-color="#b3f000"/><stop offset="0.25" stop-color="#acf000"/><stop offset="0.333" stop-color="#a5f000"/><stop offset="0.417" stop-color="#9ef000"/><stop offset="0.5" stop-color="#96f000"/><stop offset="0.583" stop-color="#8ef000"/><stop offset="0.667" stop-color="#86f000"/><stop offset="0.75" stop-color="#7ef000"/><stop offset="0.833" stop-color="#71f000"/><stop offset="0.917" stop-color="#62f000"/><stop offset="1" stop-color="#53f000"/></linearGradient>
<clipPath id="pbc5"><polygon points="194,108 195.5,108.1 196.9,108.4 198.4,108.7 199.9,109.3 201.3,110 202.8,110.1 204.2,110.1 205.7,110.1 207.2,110.4 208.6,110.8 210.1,110.9 211.6,111.2 213,111.6 214.5,112 215.9,112.2 217.4,112.5 218.9,112.7 220.3,112.7 221.8,112.8 223.3,113.3 224.7,113.7 226.2,114.1 227.6,114.5 229.1,114.8 230.6,115.2 232,115.6 233.5,116 235,116.2 236.4,116.2 237.9,116.6 239.3,117 240.8,117.3 242.3,117.8 243.7,118 245.2,117.8 246.7,117.8 248.1,118.4 249.6,119 251,119.1 252.5,119.2 254,119.6 255.4,120.1 256.9,120.3 258.4,120.3 259.8,120.7 261.3,120.9 262.7,121.1 264.2,121.6 265.7,121.9 267.1,122 268.6,122.3 270.1,122.6 271.5,123 273,123.4 274.4,124 275.9,124.2 277.4,124.1 278.8,124.3 280.3,124.6 281.8,125.1 283.2,125.3 284.7,125.3 286.1,125.8 287.6,126.4 289.1,126.7 290.5,126.7 292,127 292,139 291.8,140.1 291.5,141.2 291.2,142.1 291,143.6 290.8,145.3 290.5,145.9 290.2,146.6 290,148.4 289.4,149.9 288.8,150 288.2,149.9 287.6,150.5 287,151.2 286,151.3 285,151.4 284,151.5 283,151.6 282,151.3 280.8,152 279.7,152.9 278.5,153.4 277.3,153.8 276.2,153.7 275,153.4 273.9,153.5 272.7,153.2 271.6,152.3 270.4,152.3 269.3,152.9 268.1,153 267,152.7 265.8,152.8 264.6,152.9 263.4,152.5 262.2,152.8 261,153 259.8,152.6 258.6,152.3 257.4,152.9 256.2,153.3 255,152.8 253.8,152.2 252.6,151.4 251.4,151.4 250.2,152.3 249,152.7 247.9,152.4 246.7,151.9 245.5,151.2 244.3,151.4 243.1,152.2 241.9,152.2 240.7,151.6 239.5,151.5 238.3,152.7 237.1,152.9 235.9,152.1 234.7,151.6 233.5,151.4 232.3,151.7 231.1,151.7 229.9,150.9 228.7,150.1 227.5,150.1 226.3,150.6 225.1,151.2 223.9,151.6 222.7,152 221.5,151.6 220.3,151.2 219.1,151.9 217.9,152 216.7,150.9 215.5,150.2 214.3,150.9 213.1,151.5 212,151 210.8,150.1 209.6,149.4 208.4,149.1 207.2,149.1 206,149.9 204.8,151.1 203.6,151.3 202.4,150.4 201.2,150.2 200,150.7 198.8,150.8 197.6,150.7 196.4,150.2 195.2,150.1 194,150"/></clipPath>
<linearGradient id="pbg6" gradientUnits="userSpaceOnUse" x1="255" y1="121" x2="244.7" y2="167.7"><stop offset="0" stop-color="#f6e600"/><stop offset="0.053" stop-color="#f5ec00"/><stop offset="0.105" stop-color="#f3f000"/><stop offset="0.158" stop-color="#f0f000"/><stop offset="0.211" stop-color="#eaf000"/><stop offset="0.263" stop-color="#e3f000"/><stop offset="0.316" stop-color="#dcf000"/><stop offset="0.368" stop-color="#d5f000"/><stop offset="0.421" stop-color="#cdf000"/><stop offset="0.474" stop-color="#c3f000"/><stop offset="0.526" stop-color="#b6f000"/><stop offset="0.579" stop-color="#a6f000"/><stop offset="0.632" stop-color="#97f000"/><stop offset="0.684" stop-color="#88f000"/><stop offset="0.737" stop-color="#79f000"/><stop offset="0.789" stop-color="#69f000"/><stop offset="0.842" stop-color="#58f000"/><stop offset="0.895" stop-color="#48f000"/><stop offset="0.947" stop-color="#3cf004"/><stop offset="1" stop-color="#33f00d"/></linearGradient>
<clipPath id="pbc6"><polygon points="194,110 195.5,110.5 196.9,110.4 198.4,110.5 199.8,111.3 201.3,112.2 202.8,112.5 204.2,112.2 205.7,112.3 207.1,112.4 208.6,112.4 210.1,112.8 211.5,113.5 213,113.8 214.4,113.9 215.9,113.7 217.4,114 218.8,114.7 220.3,115.2 221.7,115.2 223.2,115.4 224.7,116 226.1,116.5 227.6,116.5 229,116.7 230.5,117.4 232,117.7 233.4,117.6 234.9,117.7 236.3,118.1 237.8,118.5 239.3,118.6 240.7,118.7 242.2,119.3 243.6,119.6 245.1,119.2 246.6,119.6 248,120.5 249.5,120.8 250.9,121 252.4,121.2 253.9,121.5 255.3,121.9 256.8,122.1 258.2,122.2 259.7,122.3 261.2,122.5 262.6,122.8 264.1,123.4 265.5,123.9 267,124 267,153 266.6,153.7 266.2,154.8 265.8,156.5 265.4,157.8 265,158.3 264.6,158.9 264.1,159.9 263.7,160.8 263.3,161.5 262.9,162.7 262.4,164.2 262,165.5 261.3,166 260.7,166 260,166.3 259.3,167.4 258.7,168.9 258,170.2 256.9,169.7 255.7,169.5 254.6,170.4 253.4,170.8 252.3,170 251.1,169.3 250,169.5 249,169.8 248,169.6 247,168.9 246,169.1 245,169.2 244,168.6 243,168.4 242,168.2 240.8,168.4 239.7,168.5 238.5,168.2 237.3,168.3 236.1,168.5 235,168.2 233.8,167.3 232.6,166.9 231.5,167.3 230.3,167.4 229.1,166.9 228,166.6 226.8,166.9 225.6,167.1 224.4,167.2 223.3,167.6 222.1,167.1 220.9,166 219.8,166.3 218.6,167.4 217.4,167.3 216.2,166.7 215.1,166.2 213.9,166 212.7,165.7 211.6,165.1 210.4,165 209.2,165.4 208,165.5 206.9,165.3 205.7,165.3 204.5,165.8 203.4,166.2 202.2,166.1 201,166.4 199.9,166.1 198.7,165.5 197.5,165.3 196.3,165.4 195.2,165.5 194,165"/></clipPath>
<linearGradient id="pbg7" gradientUnits="userSpaceOnUse" x1="130" y1="132" x2="138.7" y2="166.8"><stop offset="0" stop-color="#f4f000"/><stop offset="0.071" stop-color="#edf000"/><stop offset="0.143" stop-color="#e6f000"/><stop offset="0.214" stop-color="#dff000"/><stop offset="0.286" stop-color="#d8f000"/><stop offset="0.357" stop-color="#d1f000"/><stop offset="0.429" stop-color="#c8f000"/><stop offset="0.5" stop-color="#bef000"/><stop offset="0.571" stop-color="#b1f000"/><stop offset="0.643" stop-color="#a4f000"/><stop offset="0.714" stop-color="#98f000"/><stop offset="0.786" stop-color="#8af000"/><stop offset="0.857" stop-color="#7cf000"/><stop offset="0.929" stop-color="#6ef000"/><stop offset="1" stop-color="#5df000"/></linearGradient>
<clipPath id="pbc7"><polygon points="122,134.5 123.5,134.5 124.9,133.8 126.4,133.2 127.8,133.1 129.3,132.8 130.7,132.3 132.2,131.9 133.6,131.6 135.1,131.3 136.5,130.9 138,130.3 139.4,130 140.9,129.5 142.3,129.1 143.7,129.1 145.2,129 146.6,128.7 148.1,128.4 149.5,128.2 150.9,127.7 152.4,127.1 153.8,126.9 155.2,126.7 156.7,126 158.1,125.6 159.5,125.6 161,125.2 162.4,124.6 163.8,124.3 165.3,124.1 166.7,123.6 168.2,123.2 169.6,123.1 171,123 172.5,122.5 173.9,121.8 175.3,121.3 176.8,120.7 178.2,120.2 179.6,120.2 181.1,120.4 182.5,119.9 183.9,119.6 185.4,119.7 186.8,119.2 188.3,118.4 189.7,118 191.1,117.7 192.6,117.5 194,117 194,165 192.8,165.5 191.6,165.7 190.4,165.2 189.2,164.7 188.1,165.2 186.9,166 185.7,166.7 184.5,166.5 183.3,165.4 182.1,165.2 180.9,165.9 179.8,166.3 178.6,166.1 177.4,165.8 176.2,165.7 175,165.6 173.8,166 172.6,166.5 171.4,166.3 170.2,165.6 169.1,165.9 167.9,167.3 166.7,167.8 165.5,167.2 164.3,167.1 163.1,167.7 161.9,168.1 160.8,168.5 159.6,168.6 158.4,167.5 157.2,166.8 156,167.4 154.8,167.4 153.6,167.1 152.4,168.2 151.2,168.8 150.1,168.4 148.9,168.5 147.7,168.9 146.5,168.9 145.3,168.7 144.1,168.5 142.9,168.4 141.8,168.7 140.6,169 139.4,168.8 138.2,168.4 137,168.5 135.8,168.8 134.7,168.7 133.5,168.5 132.3,168.3 131.2,168.4 130,168.7 129,169.2 128,169.7 127,169.1 126,168.5 125,168.9 124,169 123,168.2 122,168"/></clipPath>
<linearGradient id="pbg8" gradientUnits="userSpaceOnUse" x1="146" y1="126" x2="160.1" y2="189.9"><stop offset="0" stop-color="#fdca00"/><stop offset="0.038" stop-color="#fbd200"/><stop offset="0.077" stop-color="#f9db00"/><stop offset="0.115" stop-color="#f7e400"/><stop offset="0.154" stop-color="#f5ed00"/><stop offset="0.192" stop-color="#f0f000"/><stop offset="0.231" stop-color="#e8f000"/><stop offset="0.269" stop-color="#ddf000"/><stop offset="0.308" stop-color="#d2f000"/><stop offset="0.346" stop-color="#c5f000"/><stop offset="0.385" stop-color="#b6f000"/><stop offset="0.423" stop-color="#a8f000"/><stop offset="0.462" stop-color="#99f000"/><stop offset="0.5" stop-color="#8bf000"/><stop offset="0.538" stop-color="#7bf000"/><stop offset="0.577" stop-color="#69f000"/><stop offset="0.615" stop-color="#55f000"/><stop offset="0.654" stop-color="#41f000"/><stop offset="0.692" stop-color="#32f00e"/><stop offset="0.731" stop-color="#23f01d"/><stop offset="0.769" stop-color="#19f03d"/><stop offset="0.808" stop-color="#10f062"/><stop offset="0.846" stop-color="#09f08d"/><stop offset="0.885" stop-color="#01f0b8"/><stop offset="0.923" stop-color="#00ead1"/><stop offset="0.962" stop-color="#00e3e7"/><stop offset="1" stop-color="#00d8f4"/></linearGradient>
<clipPath id="pbc8"><polygon points="138,127.5 139.4,126.7 140.8,126.5 142.2,126.6 143.5,126.1 144.9,125.5 146.3,125.3 147.7,124.9 149.1,124.4 150.5,124.1 151.8,123.9 153.2,123.3 154.6,122.6 156,122.6 157.5,122.5 158.9,122.2 160.4,121.9 161.8,121.6 163.3,121.5 164.8,121.2 166.2,120.6 167.7,120.4 169.2,120.3 170.6,120.1 172.1,119.7 173.5,119.3 175,118.9 176.5,118.4 177.9,118.4 179.4,118.2 180.8,117.9 182.3,117.6 183.8,117.5 185.2,117.1 186.7,116.5 188.2,116.2 189.6,116.1 191.1,116.1 192.5,115.6 194,115 194,190 192.8,190.1 191.6,190.1 190.4,189.5 189.2,190 188.1,190.8 186.9,190.5 185.7,189.7 184.5,189.7 183.3,190.4 182.1,190.9 180.9,190.7 179.8,190.5 178.6,190.1 177.4,190 176.2,190.4 175,190.8 173.8,191.1 172.6,191.2 171.4,190.8 170.2,190.6 169.1,190.6 167.9,190.3 166.7,190.1 165.5,190.4 164.3,190.4 163.1,189.9 161.9,189.4 160.8,189.4 159.6,190.3 158.4,191.3 157.2,191.5 156,191.3 155,191.7 154,191.7 153,191.8 152,192.6 151,193.1 150,193.3 149,193.8 148,194.2 147,193.5 146,192.7 145,192.8 144,193.1 143,193.2 142,193.4 141.6,192.7 141.2,191.7 140.9,189.9 140.5,189 140.1,188.7 139.8,187.4 139.4,185.7 139,184.1 138.9,182.8 138.8,182.3 138.8,181.5 138.7,180.5 138.6,179.4 138.5,178.3 138.5,177 138.4,176 138.3,174.8 138.2,172.6 138.2,170.8 138.1,170.6 138,170"/></clipPath>
<linearGradient id="pbg9" gradientUnits="userSpaceOnUse" x1="236" y1="120" x2="220.7" y2="189.6"><stop offset="0" stop-color="#fdca00"/><stop offset="0.034" stop-color="#fbd000"/><stop offset="0.069" stop-color="#fad600"/><stop offset="0.103" stop-color="#f9dc00"/><stop offset="0.138" stop-color="#f7e200"/><stop offset="0.172" stop-color="#f6e800"/><stop offset="0.207" stop-color="#f4ee00"/><stop offset="0.241" stop-color="#f2f000"/><stop offset="0.276" stop-color="#edf000"/><stop offset="0.31" stop-color="#e3f000"/><stop offset="0.345" stop-color="#d8f000"/><stop offset="0.379" stop-color="#cdf000"/><stop offset="0.414" stop-color="#bff000"/><stop offset="0.448" stop-color="#b1f000"/><stop offset="0.483" stop-color="#a3f000"/><stop offset="0.517" stop-color="#95f000"/><stop offset="0.552" stop-color="#86f000"/><stop offset="0.586" stop-color="#76f000"/><stop offset="0.621" stop-color="#64f000"/><stop offset="0.655" stop-color="#51f000"/><stop offset="0.69" stop-color="#3ef002"/><stop offset="0.724" stop-color="#2ff011"/><stop offset="0.759" stop-color="#20f020"/><stop offset="0.793" stop-color="#17f042"/><stop offset="0.828" stop-color="#0ff067"/><stop offset="0.862" stop-color="#08f091"/><stop offset="0.897" stop-color="#01f0bb"/><stop offset="0.931" stop-color="#00ead2"/><stop offset="0.966" stop-color="#00e3e7"/><stop offset="1" stop-color="#00d8f4"/></linearGradient>
<clipPath id="pbc9"><polygon points="194,115 195.5,115.2 197,115.2 198.4,115.5 199.9,115.6 201.4,115.5 202.9,115.9 204.4,115.9 205.8,115.9 207.3,116 208.8,116.1 210.3,116.4 211.8,116.6 213.2,116.5 214.7,116.7 216.2,116.9 217.7,116.7 219.2,116.4 220.6,116.8 222.1,117.6 223.6,117.6 225.1,117.4 226.6,117.5 228,117.5 229.5,117.4 231,117.7 232.4,118.3 233.8,118.6 235.1,119.3 236.5,119.7 237.9,120 239.2,120.4 240.6,121 242,121 242,168 242,169.2 241.9,169.9 241.9,170.5 241.8,172 241.8,173.3 241.7,174.3 241.7,175.8 241.6,177.2 241.6,177.7 241.5,178.1 241.5,179.5 241.4,181.3 241.4,182.4 241.3,182.8 241.3,183.7 241.2,185.6 241.2,187.6 241.1,188.9 241.1,189.1 241,189.6 240.2,191.2 239.5,192.3 238.8,192.3 238,192.6 237,192.9 236,193.4 235,193.2 234,192.7 233,192 232,191.3 230.8,191.2 229.6,192 228.4,192.8 227.2,192.7 226.1,192.4 224.9,192.6 223.7,192.6 222.5,192.4 221.3,191.9 220.1,191.3 218.9,191.3 217.8,191.6 216.6,192.3 215.4,192.6 214.2,191.6 213,190.3 211.8,189.6 210.6,190.5 209.4,191.2 208.2,190.6 207.1,189.6 205.9,189.1 204.7,189.8 203.5,190.6 202.3,190.7 201.1,190.7 199.9,190.8 198.8,190.1 197.6,189.4 196.4,190.3 195.2,190.9 194,190"/></clipPath>
<linearGradient id="pbg10" gradientUnits="userSpaceOnUse" x1="194" y1="110" x2="194" y2="192"><stop offset="0" stop-color="#f33913"/><stop offset="0.031" stop-color="#f64013"/><stop offset="0.062" stop-color="#f94712"/><stop offset="0.094" stop-color="#fd4f12"/><stop offset="0.125" stop-color="#ff5c0f"/><stop offset="0.156" stop-color="#ff6c0a"/><stop offset="0.188" stop-color="#ff7c05"/><stop offset="0.219" stop-color="#ff8c00"/><stop offset="0.25" stop-color="#ff9c00"/><stop offset="0.281" stop-color="#ffad00"/><stop offset="0.312" stop-color="#ffbe00"/><stop offset="0.344" stop-color="#fad500"/><stop offset="0.375" stop-color="#f5ee00"/><stop offset="0.406" stop-color="#e8f000"/><stop offset="0.438" stop-color="#dbf000"/><stop offset="0.469" stop-color="#cdf000"/><stop offset="0.5" stop-color="#bcf000"/><stop offset="0.531" stop-color="#abf000"/><stop offset="0.562" stop-color="#99f000"/><stop offset="0.594" stop-color="#88f000"/><stop offset="0.625" stop-color="#76f000"/><stop offset="0.656" stop-color="#61f000"/><stop offset="0.688" stop-color="#4bf000"/><stop offset="0.719" stop-color="#3af006"/><stop offset="0.75" stop-color="#2ef012"/><stop offset="0.781" stop-color="#22f01e"/><stop offset="0.812" stop-color="#1af039"/><stop offset="0.844" stop-color="#12f057"/><stop offset="0.875" stop-color="#0cf078"/><stop offset="0.906" stop-color="#06f09c"/><stop offset="0.938" stop-color="#00f0c0"/><stop offset="0.969" stop-color="#00ead2"/><stop offset="1" stop-color="#00e4e4"/></linearGradient>
<clipPath id="pbc10"><polygon points="156,112.2 156.7,110.5 157.4,109 158.1,107.7 158.8,107.1 159.5,108.1 160.2,109.4 160.9,111 161.6,112.7 162.3,113.1 163,112.1 163.7,111.2 164.4,110.4 165.1,110 165.8,110.6 166.5,111.4 167.2,112.4 167.9,113.4 168.6,113.9 169.3,112.6 170,111.3 170.7,110.1 171.4,109.1 172.1,108.6 172.8,109.3 173.5,110.4 174.2,111.7 174.9,113 175.6,113.4 176.3,111.5 177,109.7 177.7,108.2 178.4,107 179.1,106.8 179.8,108 180.5,109.5 181.2,111.2 181.9,112.8 182.6,111.6 183.3,110.5 184,109.5 184.7,109.1 185.4,109.8 186.1,110.8 186.8,111.9 187.5,113.2 188.2,113.8 188.9,114.5 189.6,113.6 190.3,114.5 191,114.5 191.7,113.7 192.4,113.8 193.1,113.3 193.8,112.6 194.5,111.3 195.2,110.2 195.9,109.1 196.6,108.3 197.3,108.2 198,109 198.7,110 199.4,111.1 200.1,112.4 200.8,112.2 201.5,111.3 202.2,110.5 202.9,110 203.6,110.5 204.3,111.3 205,112.2 205.7,113.2 206.4,112.5 207.1,112.3 207.8,111.6 208.5,111.9 209.2,112.7 209.9,113.7 210.6,113.6 211.3,112.8 212,112.1 212.7,111.5 213.4,111 214.1,111.3 214.8,111.9 215.5,112.6 216.2,113.4 216.9,113.8 217.6,114.5 218.3,113.4 219,112.5 219.7,111.7 220.4,111.8 221.1,112.6 221.8,113.6 222.5,114.4 223.2,113.9 223.9,113.5 224.6,113.1 225.3,112.7 226,112.5 226.7,112.7 227.4,113.1 228.1,113.5 228.8,113.9 229.5,114.4 230.2,114.5 230.9,114.5 231,117 231,118.4 231,119.4 231,120.6 231,122.1 231,122.9 231,124.1 231,125.6 231,126.6 231,127.6 231,129 231,130.5 231,131.5 231,132.3 231,133.6 231,135.3 231,136.6 231,137.6 231,138.5 231,139.7 231,140.8 231,141.9 231,143.2 231,144.2 231,145.3 231,146.8 231,148.3 231,149.7 231,150.8 231,151.7 231,152.8 231,154.1 231,155.4 231,156.6 231,157.7 231,158.9 231,160.1 231,161.5 231,162.9 231,163.6 231,164.5 231,165.9 231,167.3 231,168.5 231,169.9 231,171.2 231,172 231,173.3 231,174.8 231,175.4 231,176.1 231,177 231,178.5 231,180.6 231,182 231,182.5 231,183.4 231,184.9 231,186.3 231,187.3 231,188.7 231,190.4 229.8,190.4 228.6,190 227.4,189.7 226.2,189.4 225,189.4 223.8,189.8 222.6,189.9 221.5,189.9 220.3,189.7 219.1,189.2 217.9,189.3 216.7,189.8 215.5,190 214.3,190.1 213.1,189.8 211.9,189.3 210.7,189.3 209.5,189.6 208.3,189.8 207.1,189.9 205.9,189.7 204.7,189.5 203.5,189.9 202.4,190.5 201.2,190.3 200,189.8 198.8,189.6 197.6,189.7 196.4,189.9 195.2,189.8 194,189.7 192.8,189.7 191.6,189.6 190.4,189.9 189.2,190.3 188.1,190.5 186.9,190.2 185.7,190.1 184.5,190.6 183.3,190.9 182.1,190.8 180.9,190.4 179.8,190.1 178.6,190.1 177.4,190.1 176.2,189.9 175,189.8 173.8,190.2 172.6,190.6 171.4,190.3 170.2,190 169.1,189.8 167.9,190 166.7,190.5 165.5,190.4 164.3,190.2 163.1,190.5 161.9,190.9 160.8,190.8 159.6,190.4 158.4,190.5 157.2,190.7 156,190.7 156,189.5 156,188.4 156,186.6 156,185 156,184.5 156,183.3 156,181.6 156,180.7 156,179.9 156,178.5 156,177 156,176.2 156,175.5 156,174.4 156,173.3 156,172.1 156,170.4 156,168.8 156,167.5 156,166.4 156,165.7 156,165.1 156,163.7 156,161.7 156,160.4 156,159.8 156,159.1 156,157.6 156,156.1 156,154.7 156,153.4 156,152.4 156,151.5 156,150.3 156,148.7 156,147.4 156,146.4 156,145.5 156,144.8 156,143.6 156,141.8 156,140.2 156,139.2 156,138.1 156,137.2 156,136.4 156,135 156,133.7 156,132.7 156,131.6 156,129.9 156,128.4 156,127.3 156,125.8 156,124.7 156,124.2 156,123.2 156,121.7 156,120.3 156,118.9 156,118"/></clipPath>
<linearGradient id="pbg11" gradientUnits="userSpaceOnUse" x1="194" y1="141" x2="194" y2="262"><stop offset="0" stop-color="#f4f000"/><stop offset="0.017" stop-color="#ebf000"/><stop offset="0.033" stop-color="#e2f000"/><stop offset="0.05" stop-color="#d9f000"/><stop offset="0.067" stop-color="#d0f000"/><stop offset="0.083" stop-color="#c4f000"/><stop offset="0.1" stop-color="#b8f000"/><stop offset="0.117" stop-color="#adf000"/><stop offset="0.133" stop-color="#a1f000"/><stop offset="0.15" stop-color="#95f000"/><stop offset="0.167" stop-color="#89f000"/><stop offset="0.183" stop-color="#7df000"/><stop offset="0.2" stop-color="#71f000"/><stop offset="0.217" stop-color="#62f000"/><stop offset="0.233" stop-color="#54f000"/><stop offset="0.25" stop-color="#45f000"/><stop offset="0.267" stop-color="#3bf005"/><stop offset="0.283" stop-color="#33f00d"/><stop offset="0.3" stop-color="#2af016"/><stop offset="0.317" stop-color="#22f01e"/><stop offset="0.333" stop-color="#1cf02e"/><stop offset="0.35" stop-color="#18f042"/><stop offset="0.367" stop-color="#13f055"/><stop offset="0.383" stop-color="#0ef06f"/><stop offset="0.4" stop-color="#08f090"/><stop offset="0.417" stop-color="#02f0b2"/><stop offset="0.433" stop-color="#00edca"/><stop offset="0.45" stop-color="#00e7db"/><stop offset="0.467" stop-color="#00e1ec"/><stop offset="0.483" stop-color="#00d3f6"/><stop offset="0.5" stop-color="#00c2fe"/><stop offset="0.517" stop-color="#00acff"/><stop offset="0.533" stop-color="#0096ff"/><stop offset="0.55" stop-color="#0086ff"/><stop offset="0.567" stop-color="#0077ff"/><stop offset="0.583" stop-color="#0064ff"/><stop offset="0.6" stop-color="#0556fd"/><stop offset="0.617" stop-color="#0b4afa"/><stop offset="0.633" stop-color="#113ef7"/><stop offset="0.65" stop-color="#192df3"/><stop offset="0.667" stop-color="#241fef"/><stop offset="0.683" stop-color="#2f1bee"/><stop offset="0.7" stop-color="#3918ec"/><stop offset="0.717" stop-color="#4215ea"/><stop offset="0.733" stop-color="#4c11e9"/><stop offset="0.75" stop-color="#5610e6"/><stop offset="0.767" stop-color="#5e10e3"/><stop offset="0.783" stop-color="#6510e1"/><stop offset="0.8" stop-color="#6c10df"/><stop offset="0.817" stop-color="#7410dc"/><stop offset="0.833" stop-color="#7910d9"/><stop offset="0.85" stop-color="#7e10d6"/><stop offset="0.867" stop-color="#8310d4"/><stop offset="0.883" stop-color="#8710d2"/><stop offset="0.9" stop-color="#8a10d0"/><stop offset="0.917" stop-color="#8c10ce"/><stop offset="0.933" stop-color="#8e11cc"/><stop offset="0.95" stop-color="#8f11ca"/><stop offset="0.967" stop-color="#9111c8"/><stop offset="0.983" stop-color="#9212c6"/><stop offset="1" stop-color="#9412c4"/></linearGradient>
<clipPath id="pbc11"><polygon points="168,144 169.7,143.6 171.4,143.3 173.1,143 174.9,142.9 176.6,142.7 178.3,142.3 180,142 181.8,142 183.5,141.7 185.2,141.5 187,141.4 188.8,141.1 190.5,141 192.2,141.1 194,140.8 195.8,140.8 197.5,141.1 199.2,141.4 201,141.5 202.8,141.6 204.5,141.5 206.2,141.4 208,141.6 209.7,142 211.4,142.4 213.1,142.7 214.9,143.1 216.6,143.4 218.3,143.6 220,144 220,144 220,145.2 220,147 220,148.5 219.9,149.8 219.9,151.3 219.9,152.8 219.9,154.3 219.9,155.8 219.9,157.4 219.9,158.9 219.9,160.4 219.8,161.8 219.8,163.1 219.8,164.4 219.8,166.2 219.8,167.8 219.8,169.1 219.8,170.7 219.8,172 219.7,173.5 219.7,175.3 219.7,176.7 219.7,178 219.7,179.3 219.7,181 219.7,182.8 219.7,184.3 219.6,185.5 219.6,186.9 219.6,188.3 219.6,189.8 219.5,191.4 219.4,192.8 219.3,194.2 219.2,195.4 219.1,196.4 219,197.8 218.8,199.3 218.5,200.5 218.3,201.9 218.1,203.3 217.8,204.6 217.6,205.9 217.4,207.1 217.1,208.3 216.9,209.6 216.7,210.9 216.4,212.5 216.2,214.1 216,215.5 215.8,216.6 215.6,218 215.4,219.6 215.2,220.9 215,222.3 214.8,223.7 214.5,224.9 214.3,226.2 214,227.6 213.8,228.9 213.6,230.1 213.3,231.5 213.1,233 212.8,234.2 212.6,235.1 212.3,236.1 212,237.1 211.6,238.3 211.3,239.8 211,241.2 210.5,242.7 210,244.1 209.5,245.3 209,246.5 208.3,247.6 207.7,248.9 207,250.2 206.3,251.1 205.4,251.8 204.4,252.8 203.4,253.7 202.5,254.6 201.5,255.1 200.5,255.6 199.5,256.4 198.7,256.8 197.8,257.1 197.7,258.5 197.5,259.7 197.3,260.9 197.2,262.2 196.3,262.1 195.4,261.8 195.3,260.6 195.2,259.4 195,257.9 194.9,256.8 194.1,256.7 193.2,256.2 192.2,255.7 191.3,255.1 190.3,254.4 189.4,253.3 188.6,252.4 187.7,251.5 186.8,250.7 186.2,249.7 185.5,248.7 184.8,247.8 184.2,246.7 183.6,245.2 183.1,243.7 182.6,242.1 182,240.9 181.7,240.1 181.4,238.8 181,237.4 180.7,236.2 180.4,235.1 180.1,234 179.8,232.9 179.4,231.6 179.1,230.4 178.8,229 178.4,227.4 178.1,226 177.7,224.8 177.4,223.5 177,221.8 176.7,220.3 176.3,219.3 176,218.2 175.7,216.7 175.3,215.2 175,214 174.7,212.9 174.3,211.4 174,209.9 173.7,208.7 173.3,207.4 173,206.1 172.7,204.9 172.4,203.5 172.2,202 171.9,200.7 171.6,199.6 171.3,198.3 171.1,196.6 171,194.8 170.8,193.6 170.6,192.6 170.5,191.2 170.3,190 170.2,188.6 170.2,187.1 170.1,185.6 170.1,184 170,182.5 170,181 169.9,179.6 169.8,177.9 169.8,176.1 169.7,174.7 169.7,173.8 169.6,172.6 169.5,171.1 169.5,169.6 169.4,168.2 169.4,166.7 169.3,164.8 169.3,163.3 169.2,161.8 169.1,160.2 169.1,158.9 169,157.6 169,156 168.9,154.3 168.8,153 168.8,151.7 168.7,150.2 168.7,148.5 168.6,146.8 168.6,145.5 168.5,144"/></clipPath>
<linearGradient id="pcg0" gradientUnits="userSpaceOnUse" x1="100" y1="112" x2="108.3" y2="155.4"><stop offset="0" stop-color="#b0f000"/><stop offset="0.056" stop-color="#a6f000"/><stop offset="0.111" stop-color="#9cf000"/><stop offset="0.167" stop-color="#90f000"/><stop offset="0.222" stop-color="#83f000"/><stop offset="0.278" stop-color="#77f000"/><stop offset="0.333" stop-color="#74f000"/><stop offset="0.389" stop-color="#70f000"/><stop offset="0.444" stop-color="#6bf000"/><stop offset="0.5" stop-color="#67f000"/><stop offset="0.556" stop-color="#62f000"/><stop offset="0.611" stop-color="#5ef000"/><stop offset="0.667" stop-color="#59f000"/><stop offset="0.722" stop-color="#55f000"/><stop offset="0.778" stop-color="#51f000"/><stop offset="0.833" stop-color="#4df000"/><stop offset="0.889" stop-color="#48f000"/><stop offset="0.944" stop-color="#44f000"/><stop offset="1" stop-color="#40f000"/></linearGradient>
<clipPath id="pcc0"><polygon points="44.5,130 45.3,128.8 46.1,126.7 46.9,127.2 47.7,128.2 47.2,128.2 47.7,125.2 48.2,128.2 48.5,127.2 47.9,127.2 48.5,124.7 49.1,127.2 49.5,126.2 50.5,126.1 51.6,126.4 52.6,126.3 53.6,126.1 54.6,125.7 55.7,124.7 56.7,124 57.7,123.8 56.9,123.8 57.7,120.6 58.5,123.8 58.7,124.5 59.7,124.5 59.4,124.5 60,122 60.6,124.5 60.8,122.4 61.8,121.2 61.2,121.2 61.8,120.2 62.4,121.2 62.8,122.2 63.8,123.2 63.4,123.2 63.8,121.5 64.2,123.2 64.8,122.6 65.9,121.6 66.9,121 67.9,120.1 68.9,119.7 70,120.2 71,120.7 72,120.5 73.1,120.7 74.2,120.9 75.3,120.6 76.3,120.3 77.4,120.2 76.8,120.2 77.4,117.3 78.1,120.2 78.5,120.2 79.6,118.3 80.7,117.2 81.8,118.3 80.9,118.3 81.8,115.2 82.6,118.3 82.9,119 82.2,119 82.9,117.8 83.5,119 83.9,119.4 82.8,119.4 83.5,115.4 84.2,119.4 85,118.8 86.1,117.5 87.2,118.5 88.3,119.6 89.4,119 90.5,118.7 91.5,118 90.7,118 91.5,116 92.4,118 92.6,116.7 93.7,116 93.2,116 93.7,113.1 94.2,116 94.8,115.5 95.9,115.9 97,117.1 96.3,117.1 97,115.8 97.7,117.1 98.1,116.6 99.1,116 100.2,116.1 101.3,115.7 102.4,116.1 103.5,116.7 104.6,116.6 105.7,116.4 106.7,116.2 107.8,115.6 107.4,115.6 108,112.6 108.6,115.6 108.9,115.7 108.2,115.7 108.9,113 109.6,115.7 110,116 111,115.4 110.6,115.4 111,114.4 111.4,115.4 112.1,114 113.1,112.6 112.5,112.6 113.1,110.2 113.7,112.6 114.1,113.2 115.2,113.8 116.2,113.3 117.2,114 118.3,114.4 119.3,113.5 118.7,113.5 119.3,110.7 119.9,113.5 120.3,112.4 119.9,112.4 120.3,110.8 120.8,112.4 121.4,111.3 122.4,110.6 123.4,110.2 122.9,110.2 123.4,109.2 124,110.2 124.5,109.7 123.5,109.7 124,107.2 124.5,109.7 125.5,110.1 125.1,110.1 125.5,108.3 126,110.1 126.6,110.4 127.6,109.7 128.6,108.8 129.7,108.7 130.7,109.3 131.7,108.9 132.8,108.4 133.8,108.6 134.8,108.2 135.9,106.9 135.4,106.9 135.9,105.1 136.3,106.9 136.9,106.8 136.1,106.8 136.9,104.8 137.7,106.8 137.9,107.2 137.4,107.2 137.9,105 138.4,107.2 139,106.6 140,107.2 139.2,107.2 140,104.2 140.8,107.2 141,107.4 140.6,107.4 141,104.7 141.5,107.4 142.1,105.7 143.1,105.3 144.2,106.2 145.2,106.1 146.2,104.6 147.3,102.9 148.3,102.7 149.4,102.6 150.4,102.9 151.4,103.6 152.5,103.3 153.5,103.3 154.6,103.1 153.7,103.1 154.6,100.1 155.4,103.1 155.6,102.4 156.6,101.5 156.1,101.5 156.6,99 157.2,101.5 157.7,100.4 158.7,100.6 159.8,101.1 160.8,101 161.8,100.8 162.9,100.9 163.9,100.6 163.1,100.6 163.9,99.1 164.8,100.6 165,99.7 166,99.5 166,140 164.8,139.9 163.7,139.4 162.5,139.6 161.3,140.2 160.1,141.3 159,141.8 157.8,141.8 156.6,141.8 155.4,140.9 154.3,140.6 153.1,141.4 151.9,141.6 150.7,141.5 149.6,142.2 148.4,142.7 147.2,142.2 146,142.3 144.9,142.7 143.7,143.1 142.5,143.4 141.3,143.6 140.2,143.5 139,142.8 137.8,142.9 136.7,143.4 135.5,143.2 134.3,143.1 133.1,143.6 132,143.8 130.8,143.9 129.6,144.6 128.4,144.6 127.3,143.2 126.1,143 124.9,144.2 123.7,144.8 122.6,146.1 121.4,146.7 120.2,145.6 119,145 117.9,145.3 116.7,145.6 115.5,145.4 114.3,145.4 113.2,145.3 112,145.2 110.8,145.6 109.6,146.3 108.4,146.4 107.3,146.1 106.1,145.5 104.9,145 103.7,145.3 102.5,145.8 101.3,145.7 100.1,145.6 99,145.9 97.8,145.5 96.6,143.9 95.4,142.8 94.2,143.2 93,144 91.9,144.1 90.7,143.8 89.5,143.8 88.3,143.9 87.1,143 85.9,142.3 84.7,143 83.6,143.6 82.4,143.2 81.2,143.4 80,143.4 78.9,143.4 77.7,143.3 76.6,143.2 75.4,143.9 74.3,144.6 73.1,144.1 72,144 70.8,144.5 69.7,144.7 68.5,145.4 67.3,145.7 66.2,145.7 65,145.8 63.8,145.8 62.7,145.9 61.5,145.3 60.3,144.7 59.2,144.5 58,144.1 57.2,143.2 56.5,142.3 55.8,142.1 55,142 54.2,141.1 53.3,139.3 52.5,137.5 51.7,137.6 50.8,137.7 50,136.7 49.6,135.6 49.2,135 48.9,134 48.5,132.2 47.5,131.6 46.5,131.8 45.5,131.7 44.5,131"/></clipPath>
<linearGradient id="pcg1" gradientUnits="userSpaceOnUse" x1="194" y1="96" x2="194" y2="140"><stop offset="0" stop-color="#b8f000"/><stop offset="0.059" stop-color="#b1f000"/><stop offset="0.118" stop-color="#aaf000"/><stop offset="0.176" stop-color="#a3f000"/><stop offset="0.235" stop-color="#9bf000"/><stop offset="0.294" stop-color="#92f000"/><stop offset="0.353" stop-color="#8af000"/><stop offset="0.412" stop-color="#82f000"/><stop offset="0.471" stop-color="#7bf000"/><stop offset="0.529" stop-color="#76f000"/><stop offset="0.588" stop-color="#72f000"/><stop offset="0.647" stop-color="#6ef000"/><stop offset="0.706" stop-color="#6af000"/><stop offset="0.765" stop-color="#65f000"/><stop offset="0.824" stop-color="#61f000"/><stop offset="0.882" stop-color="#5cf000"/><stop offset="0.941" stop-color="#58f000"/><stop offset="1" stop-color="#53f000"/></linearGradient>
<clipPath id="pcc1"><polygon points="160,101 161,100.4 162,100.3 163.1,100.4 164.1,99.5 165.1,97.9 164.4,97.9 165.1,95.6 165.8,97.9 164.2,97.9 165,93.9 165.8,97.9 166.1,97.4 167.2,98 168.2,97.9 169.2,98.3 170.2,99.3 171.2,98.9 172.3,98 173.3,97.5 174.3,96.5 173.7,96.5 174.3,94.7 174.9,96.5 175.3,95.6 176.2,96.1 175.5,96.1 176.2,94.4 176.9,96.1 177.2,97.3 176.7,97.3 177.2,95.5 177.7,97.3 178.1,96.9 179.1,96.4 178.7,96.4 179.1,94.9 179.5,96.4 180,96.7 179.6,96.7 180,94.1 180.5,96.7 181,97.4 182,98.1 183,98.5 184,99.5 185,99.9 186,99.5 187,100.3 188,100.7 189,99.6 190,99.4 191,101.1 192,102.2 193,101.8 194,101.7 193.4,101.7 194,99.9 194.6,101.7 195,101.5 196,101.2 197,101.4 198,102.4 199,102.8 200,102.3 199.2,102.3 200,99.3 200.8,102.3 201.1,101.6 202.1,101.6 203.2,101.8 204.2,101.7 205.3,102.4 206.3,102.7 207.4,101.8 208.4,101.3 209.5,101.7 210.6,102.2 211.6,102.2 211.4,102.2 212,99.7 212.6,102.2 212.7,101.5 213.7,100.7 214.8,100.9 215.8,101.8 216.9,101.7 217.9,101.6 219,101.6 219.8,102.8 220.6,104.1 221.3,104.7 220.8,104.7 221.3,102.3 221.9,104.7 222.1,104.8 222.9,103.8 223.7,104 224.4,105.7 223.7,105.7 224.4,102.7 225.2,105.7 225.2,106.4 226,106.8 225.4,106.8 226,104.8 226.6,106.8 227,107.3 228,107.5 229,108.2 230,109.2 231,109.3 232,109.7 231.2,109.7 232,108.2 232.8,109.7 233,110.8 234,111.4 235,112.2 234.5,112.2 235,110.6 235.5,112.2 236,112 236,140 160,140"/></clipPath>
<linearGradient id="pcg2" gradientUnits="userSpaceOnUse" x1="280" y1="114" x2="274" y2="159.2"><stop offset="0" stop-color="#b0f000"/><stop offset="0.056" stop-color="#a4f000"/><stop offset="0.111" stop-color="#97f000"/><stop offset="0.167" stop-color="#88f000"/><stop offset="0.222" stop-color="#78f000"/><stop offset="0.278" stop-color="#74f000"/><stop offset="0.333" stop-color="#70f000"/><stop offset="0.389" stop-color="#6cf000"/><stop offset="0.444" stop-color="#67f000"/><stop offset="0.5" stop-color="#62f000"/><stop offset="0.556" stop-color="#5ef000"/><stop offset="0.611" stop-color="#5af000"/><stop offset="0.667" stop-color="#56f000"/><stop offset="0.722" stop-color="#52f000"/><stop offset="0.778" stop-color="#4ff000"/><stop offset="0.833" stop-color="#4bf000"/><stop offset="0.889" stop-color="#47f000"/><stop offset="0.944" stop-color="#44f000"/><stop offset="1" stop-color="#40f000"/></linearGradient>
<clipPath id="pcc2"><polygon points="230,110.5 231,110.7 232,112.2 231.4,112.2 232,109.2 232.6,112.2 233,112.5 234,112.3 233.4,112.3 234,111.3 234.6,112.3 235,113.5 234.6,113.5 235,111.9 235.4,113.5 236,113.3 237.1,111.7 238.1,111.4 239.2,111.9 240.2,111.6 239.6,111.6 240.2,110.5 240.8,111.6 241.3,110.6 240.4,110.6 241.3,109.3 242.2,110.6 242.4,110.9 243.4,112.2 244.5,112.9 245.5,114.4 246.6,114.8 246.1,114.8 246.6,112.6 247.1,114.8 247.6,113.9 248.7,113.7 249.8,114 250.8,114.7 250,114.7 250.8,112.1 251.6,114.7 251.9,114 252.9,112.2 254,112.4 255.1,113.2 254.2,113.2 255.1,110.2 255.9,113.2 256.1,114.2 257.2,114.1 258.3,112.9 259.3,114.1 260.4,115.8 261.5,114.4 261.4,114.4 262,111.9 262.6,114.4 262.5,113.4 263.6,113.4 264.7,113.5 265.7,114.4 266.8,115 267.9,115.5 268.9,116.3 270,116.2 271.1,115.2 272.2,114.3 273.2,114.1 274.3,115.3 273.7,115.3 274.3,114.3 274.9,115.3 275.4,116 276.5,115.7 275.9,115.7 276.5,113.3 277,115.7 277.5,115.5 278.6,115.9 279.7,116.6 280.8,116.3 281.8,116.1 282.9,116.1 284,116.6 285,117 284.4,117 285,114 285.6,117 286,116.6 287,116.3 288,116.5 289,117 288.5,117 289,114.5 289.5,117 290,117.4 289.4,117.4 290,115.9 290.6,117.4 291,117.4 292,118.1 291.5,118.1 292,117 292.5,118.1 293,118.7 292.5,118.7 293,116.7 293.5,118.7 294,118.2 293.5,118.2 294,116.1 294.5,118.2 295,118.5 296,119.5 295.6,119.5 296,117.1 296.4,119.5 297,119.6 298,119.2 299.1,118.7 298.5,118.7 299.1,117.8 299.7,118.7 300.1,119.9 299.5,119.9 300.1,116.9 300.8,119.9 301.2,121.7 302.3,121.5 303.3,120.7 304.4,120.4 305.5,119.7 306.5,119.8 307.6,120.9 308.7,120.9 309.7,120.8 308.9,120.8 309.7,117.8 310.6,120.8 310.8,122 311.9,121.8 312.9,120.4 314,119.7 314.5,120.9 315,123 314.4,123 315,119.9 315.6,123 315.5,124 315.5,124 315.3,125.8 315.2,127.3 315,128 314.3,127.6 313.7,127.4 313,127.9 312,128.5 311,128.7 310,129.3 309.3,130.1 308.7,130.9 308,132.4 307.3,133.8 306.7,135 306,136.1 305.4,136.6 304.9,136.9 304.3,137.8 303.7,139.2 303.1,140.7 302.6,141.2 302,141.8 300.8,141.5 299.7,141.9 298.5,142.3 297.3,142.2 296.2,142 295,141.5 294,140.4 293,139.6 292,139.5 291.7,140.8 291.4,141.4 291.1,142.4 290.9,144 290.6,145.5 290.3,146.8 290,147.6 289.4,148.2 288.8,149.9 288.2,151.1 287.6,151.4 287,151.5 286,151.7 285,152.2 284,152 283,152.5 282,153.1 280.8,152.2 279.7,151.7 278.5,152.6 277.3,153.6 276.2,153.6 275,153.2 273.9,152.8 272.7,152.6 271.6,153.2 270.4,154.2 269.3,154.1 268.1,153.3 267,153 265.8,152.9 264.7,152.7 263.5,152.7 262.3,152.4 261.1,151.9 260,152.1 258.8,152.2 257.6,151.9 256.4,152.4 255.3,152.5 254.1,151.9 252.9,151.7 251.7,151.2 250.6,150.8 249.4,151.5 248.2,151.5 247,150.7 245.9,150.4 244.7,150.6 243.5,150.9 242.3,150.7 241.2,150.7 240,150.1 239,149.1 238,149 237,148.8 236,148.7 235,148.7 234,147.7 233,146.6 232,146 231,145.6 230,145"/></clipPath>
<clipPath id="pctintclp"><polygon points="44.5,130 45.3,128.8 46.1,126.7 46.9,127.2 47.7,128.2 47.2,128.2 47.7,125.2 48.2,128.2 48.5,127.2 47.9,127.2 48.5,124.7 49.1,127.2 49.5,126.2 50.5,126.1 51.6,126.4 52.6,126.3 53.6,126.1 54.6,125.7 55.7,124.7 56.7,124 57.7,123.8 56.9,123.8 57.7,120.6 58.5,123.8 58.7,124.5 59.7,124.5 59.4,124.5 60,122 60.6,124.5 60.8,122.4 61.8,121.2 61.2,121.2 61.8,120.2 62.4,121.2 62.8,122.2 63.8,123.2 63.4,123.2 63.8,121.5 64.2,123.2 64.8,122.6 65.9,121.6 66.9,121 67.9,120.1 68.9,119.7 70,120.2 71,120.7 72,120.5 73.1,120.7 74.2,120.9 75.3,120.6 76.3,120.3 77.4,120.2 76.8,120.2 77.4,117.3 78.1,120.2 78.5,120.2 79.6,118.3 80.7,117.2 81.8,118.3 80.9,118.3 81.8,115.2 82.6,118.3 82.9,119 82.2,119 82.9,117.8 83.5,119 83.9,119.4 82.8,119.4 83.5,115.4 84.2,119.4 85,118.8 86.1,117.5 87.2,118.5 88.3,119.6 89.4,119 90.5,118.7 91.5,118 90.7,118 91.5,116 92.4,118 92.6,116.7 93.7,116 93.2,116 93.7,113.1 94.2,116 94.8,115.5 95.9,115.9 97,117.1 96.3,117.1 97,115.8 97.7,117.1 98.1,116.6 99.1,116 100.2,116.1 101.3,115.7 102.4,116.1 103.5,116.7 104.6,116.6 105.7,116.4 106.7,116.2 107.8,115.6 107.4,115.6 108,112.6 108.6,115.6 108.9,115.7 108.2,115.7 108.9,113 109.6,115.7 110,116 111,115.4 110.6,115.4 111,114.4 111.4,115.4 112.1,114 113.1,112.6 112.5,112.6 113.1,110.2 113.7,112.6 114.1,113.2 115.2,113.8 116.2,113.3 117.2,114 118.3,114.4 119.3,113.5 118.7,113.5 119.3,110.7 119.9,113.5 120.3,112.4 119.9,112.4 120.3,110.8 120.8,112.4 121.4,111.3 122.4,110.6 123.4,110.2 122.9,110.2 123.4,109.2 124,110.2 124.5,109.7 123.5,109.7 124,107.2 124.5,109.7 125.5,110.1 125.1,110.1 125.5,108.3 126,110.1 126.6,110.4 127.6,109.7 128.6,108.8 129.7,108.7 130.7,109.3 131.7,108.9 132.8,108.4 133.8,108.6 134.8,108.2 135.9,106.9 135.4,106.9 135.9,105.1 136.3,106.9 136.9,106.8 136.1,106.8 136.9,104.8 137.7,106.8 137.9,107.2 137.4,107.2 137.9,105 138.4,107.2 139,106.6 140,107.2 139.2,107.2 140,104.2 140.8,107.2 141,107.4 140.6,107.4 141,104.7 141.5,107.4 142.1,105.7 143.1,105.3 144.2,106.2 145.2,106.1 146.2,104.6 147.3,102.9 148.3,102.7 149.4,102.6 150.4,102.9 151.4,103.6 152.5,103.3 153.5,103.3 154.6,103.1 153.7,103.1 154.6,100.1 155.4,103.1 155.6,102.4 156.6,101.5 156.1,101.5 156.6,99 157.2,101.5 157.7,100.4 158.7,100.6 159.8,101.1 160.8,101 161.8,100.8 162.9,100.9 163.9,100.6 163.1,100.6 163.9,99.1 164.8,100.6 165,99.7 166,99.5 166,140 164.8,139.9 163.7,139.4 162.5,139.6 161.3,140.2 160.1,141.3 159,141.8 157.8,141.8 156.6,141.8 155.4,140.9 154.3,140.6 153.1,141.4 151.9,141.6 150.7,141.5 149.6,142.2 148.4,142.7 147.2,142.2 146,142.3 144.9,142.7 143.7,143.1 142.5,143.4 141.3,143.6 140.2,143.5 139,142.8 137.8,142.9 136.7,143.4 135.5,143.2 134.3,143.1 133.1,143.6 132,143.8 130.8,143.9 129.6,144.6 128.4,144.6 127.3,143.2 126.1,143 124.9,144.2 123.7,144.8 122.6,146.1 121.4,146.7 120.2,145.6 119,145 117.9,145.3 116.7,145.6 115.5,145.4 114.3,145.4 113.2,145.3 112,145.2 110.8,145.6 109.6,146.3 108.4,146.4 107.3,146.1 106.1,145.5 104.9,145 103.7,145.3 102.5,145.8 101.3,145.7 100.1,145.6 99,145.9 97.8,145.5 96.6,143.9 95.4,142.8 94.2,143.2 93,144 91.9,144.1 90.7,143.8 89.5,143.8 88.3,143.9 87.1,143 85.9,142.3 84.7,143 83.6,143.6 82.4,143.2 81.2,143.4 80,143.4 78.9,143.4 77.7,143.3 76.6,143.2 75.4,143.9 74.3,144.6 73.1,144.1 72,144 70.8,144.5 69.7,144.7 68.5,145.4 67.3,145.7 66.2,145.7 65,145.8 63.8,145.8 62.7,145.9 61.5,145.3 60.3,144.7 59.2,144.5 58,144.1 57.2,143.2 56.5,142.3 55.8,142.1 55,142 54.2,141.1 53.3,139.3 52.5,137.5 51.7,137.6 50.8,137.7 50,136.7 49.6,135.6 49.2,135 48.9,134 48.5,132.2 47.5,131.6 46.5,131.8 45.5,131.7 44.5,131"/><polygon points="160,101 161,100.4 162,100.3 163.1,100.4 164.1,99.5 165.1,97.9 164.4,97.9 165.1,95.6 165.8,97.9 164.2,97.9 165,93.9 165.8,97.9 166.1,97.4 167.2,98 168.2,97.9 169.2,98.3 170.2,99.3 171.2,98.9 172.3,98 173.3,97.5 174.3,96.5 173.7,96.5 174.3,94.7 174.9,96.5 175.3,95.6 176.2,96.1 175.5,96.1 176.2,94.4 176.9,96.1 177.2,97.3 176.7,97.3 177.2,95.5 177.7,97.3 178.1,96.9 179.1,96.4 178.7,96.4 179.1,94.9 179.5,96.4 180,96.7 179.6,96.7 180,94.1 180.5,96.7 181,97.4 182,98.1 183,98.5 184,99.5 185,99.9 186,99.5 187,100.3 188,100.7 189,99.6 190,99.4 191,101.1 192,102.2 193,101.8 194,101.7 193.4,101.7 194,99.9 194.6,101.7 195,101.5 196,101.2 197,101.4 198,102.4 199,102.8 200,102.3 199.2,102.3 200,99.3 200.8,102.3 201.1,101.6 202.1,101.6 203.2,101.8 204.2,101.7 205.3,102.4 206.3,102.7 207.4,101.8 208.4,101.3 209.5,101.7 210.6,102.2 211.6,102.2 211.4,102.2 212,99.7 212.6,102.2 212.7,101.5 213.7,100.7 214.8,100.9 215.8,101.8 216.9,101.7 217.9,101.6 219,101.6 219.8,102.8 220.6,104.1 221.3,104.7 220.8,104.7 221.3,102.3 221.9,104.7 222.1,104.8 222.9,103.8 223.7,104 224.4,105.7 223.7,105.7 224.4,102.7 225.2,105.7 225.2,106.4 226,106.8 225.4,106.8 226,104.8 226.6,106.8 227,107.3 228,107.5 229,108.2 230,109.2 231,109.3 232,109.7 231.2,109.7 232,108.2 232.8,109.7 233,110.8 234,111.4 235,112.2 234.5,112.2 235,110.6 235.5,112.2 236,112 236,140 160,140"/><polygon points="230,110.5 231,110.7 232,112.2 231.4,112.2 232,109.2 232.6,112.2 233,112.5 234,112.3 233.4,112.3 234,111.3 234.6,112.3 235,113.5 234.6,113.5 235,111.9 235.4,113.5 236,113.3 237.1,111.7 238.1,111.4 239.2,111.9 240.2,111.6 239.6,111.6 240.2,110.5 240.8,111.6 241.3,110.6 240.4,110.6 241.3,109.3 242.2,110.6 242.4,110.9 243.4,112.2 244.5,112.9 245.5,114.4 246.6,114.8 246.1,114.8 246.6,112.6 247.1,114.8 247.6,113.9 248.7,113.7 249.8,114 250.8,114.7 250,114.7 250.8,112.1 251.6,114.7 251.9,114 252.9,112.2 254,112.4 255.1,113.2 254.2,113.2 255.1,110.2 255.9,113.2 256.1,114.2 257.2,114.1 258.3,112.9 259.3,114.1 260.4,115.8 261.5,114.4 261.4,114.4 262,111.9 262.6,114.4 262.5,113.4 263.6,113.4 264.7,113.5 265.7,114.4 266.8,115 267.9,115.5 268.9,116.3 270,116.2 271.1,115.2 272.2,114.3 273.2,114.1 274.3,115.3 273.7,115.3 274.3,114.3 274.9,115.3 275.4,116 276.5,115.7 275.9,115.7 276.5,113.3 277,115.7 277.5,115.5 278.6,115.9 279.7,116.6 280.8,116.3 281.8,116.1 282.9,116.1 284,116.6 285,117 284.4,117 285,114 285.6,117 286,116.6 287,116.3 288,116.5 289,117 288.5,117 289,114.5 289.5,117 290,117.4 289.4,117.4 290,115.9 290.6,117.4 291,117.4 292,118.1 291.5,118.1 292,117 292.5,118.1 293,118.7 292.5,118.7 293,116.7 293.5,118.7 294,118.2 293.5,118.2 294,116.1 294.5,118.2 295,118.5 296,119.5 295.6,119.5 296,117.1 296.4,119.5 297,119.6 298,119.2 299.1,118.7 298.5,118.7 299.1,117.8 299.7,118.7 300.1,119.9 299.5,119.9 300.1,116.9 300.8,119.9 301.2,121.7 302.3,121.5 303.3,120.7 304.4,120.4 305.5,119.7 306.5,119.8 307.6,120.9 308.7,120.9 309.7,120.8 308.9,120.8 309.7,117.8 310.6,120.8 310.8,122 311.9,121.8 312.9,120.4 314,119.7 314.5,120.9 315,123 314.4,123 315,119.9 315.6,123 315.5,124 315.5,124 315.3,125.8 315.2,127.3 315,128 314.3,127.6 313.7,127.4 313,127.9 312,128.5 311,128.7 310,129.3 309.3,130.1 308.7,130.9 308,132.4 307.3,133.8 306.7,135 306,136.1 305.4,136.6 304.9,136.9 304.3,137.8 303.7,139.2 303.1,140.7 302.6,141.2 302,141.8 300.8,141.5 299.7,141.9 298.5,142.3 297.3,142.2 296.2,142 295,141.5 294,140.4 293,139.6 292,139.5 291.7,140.8 291.4,141.4 291.1,142.4 290.9,144 290.6,145.5 290.3,146.8 290,147.6 289.4,148.2 288.8,149.9 288.2,151.1 287.6,151.4 287,151.5 286,151.7 285,152.2 284,152 283,152.5 282,153.1 280.8,152.2 279.7,151.7 278.5,152.6 277.3,153.6 276.2,153.6 275,153.2 273.9,152.8 272.7,152.6 271.6,153.2 270.4,154.2 269.3,154.1 268.1,153.3 267,153 265.8,152.9 264.7,152.7 263.5,152.7 262.3,152.4 261.1,151.9 260,152.1 258.8,152.2 257.6,151.9 256.4,152.4 255.3,152.5 254.1,151.9 252.9,151.7 251.7,151.2 250.6,150.8 249.4,151.5 248.2,151.5 247,150.7 245.9,150.4 244.7,150.6 243.5,150.9 242.3,150.7 241.2,150.7 240,150.1 239,149.1 238,149 237,148.8 236,148.7 235,148.7 234,147.7 233,146.6 232,146 231,145.6 230,145"/></clipPath>
<radialGradient id="pctint" gradientUnits="userSpaceOnUse" cx="178" cy="100" r="60" gradientTransform="translate(178 100) scale(1.25 0.6) translate(-178 -100)"><stop offset="0" stop-color="#64ee00" stop-opacity="0.75"/><stop offset="0.55" stop-color="#64ee00" stop-opacity="0.4"/><stop offset="1" stop-color="#64ee00" stop-opacity="0"/></radialGradient>
<linearGradient id="pcg3" gradientUnits="userSpaceOnUse" x1="95" y1="128" x2="101.8" y2="155.3"><stop offset="0" stop-color="#a0f000"/><stop offset="0.091" stop-color="#9af000"/><stop offset="0.182" stop-color="#93f000"/><stop offset="0.273" stop-color="#8df000"/><stop offset="0.364" stop-color="#86f000"/><stop offset="0.455" stop-color="#7ff000"/><stop offset="0.545" stop-color="#78f000"/><stop offset="0.636" stop-color="#70f000"/><stop offset="0.727" stop-color="#66f000"/><stop offset="0.818" stop-color="#5df000"/><stop offset="0.909" stop-color="#53f000"/><stop offset="1" stop-color="#4af000"/></linearGradient>
<clipPath id="pcc3"><polygon points="80,131 81.5,131.2 82.9,131 84.4,130.5 85.8,130 87.3,129.6 88.8,129.5 90.2,129.2 91.7,128.9 93.2,128.7 94.6,128.4 96.1,127.8 97.5,127.4 99,127.4 100.5,127.1 101.9,126.7 103.4,126.4 104.8,126.3 106.3,125.7 107.8,124.9 109.2,124.7 110.7,124.6 112.2,124.4 113.6,124.3 115.1,123.8 116.5,123.1 118,122.8 119.5,122.8 120.9,122.7 122.4,122.4 123.8,121.9 125.3,121.5 126.8,121.4 128.2,121.4 129.7,120.9 131.2,120.4 132.6,120.4 134.1,120.4 135.5,119.8 137,119.2 138.5,119.3 139.9,119.1 141.4,118.6 142.8,118.1 144.3,117.6 145.8,117.2 147.2,117.2 148.7,117.1 150.2,116.9 151.6,116.8 153.1,116.4 154.5,115.8 156,115.5 157.5,115.3 158.9,115 160.4,114.7 161.8,114.5 163.3,114.3 164.8,114.1 166.2,113.8 167.7,113.2 169.2,112.8 170.6,112.5 172.1,112.4 173.5,112.2 175,111.9 176.5,111.8 177.9,111.6 179.4,111.2 180.8,110.7 182.3,110.3 183.8,110.1 185.2,109.6 186.7,109 188.2,108.8 189.6,108.8 191.1,108.5 192.5,108.3 194,108 194,150 192.8,150.5 191.6,150.8 190.4,150.6 189.2,149.9 188.1,149.4 186.9,148.9 185.7,148.8 184.5,149.8 183.3,150.5 182.1,149.8 180.9,149.3 179.7,149.7 178.6,150.4 177.4,151.1 176.2,151.3 175,150.6 173.8,150.4 172.6,150.3 171.4,150.1 170.2,150.5 169,150.2 167.9,150 166.7,150.1 165.5,149.9 164.3,150.2 163.1,150.5 161.9,150.1 160.7,149.4 159.5,149.9 158.3,150.6 157.2,149.9 156,149.6 154.8,150.4 153.6,150.4 152.4,149.7 151.2,149 150,148.3 148.8,147.8 147.7,148.6 146.5,149.6 145.3,149.7 144.1,149.6 142.9,149.8 141.7,150.2 140.5,150.4 139.3,150.3 138.1,150.4 137,150.4 135.8,149.8 134.6,149.8 133.4,149.9 132.2,150.2 131,150.7 129.8,150.2 128.6,149.4 127.4,149 126.3,149.3 125.1,150.2 123.9,150.6 122.7,151 121.5,151.5 120.3,150.8 119.1,150.1 117.9,150.3 116.8,150.1 115.6,149.4 114.4,149.7 113.2,150.6 112,150.6 111.3,150.8 110.7,151.7 110,152.5 109,152.4 108,152.2 107,152.2 106,152.8 105,153.6 104,154.1 103,154.6 102,154.8 101,154.5 100,154.4 99,155.1 98,155.9 97,156.3 96,156 95,155.9 94,156.8 93,157.3 92,156.6 91,156.3 90,157.5 89,157.6 88,156.8 87,155.9 86,155.6 85,155.4 84,154.9 83,154.9 82.7,154.6 82.4,154 82.1,152.8 81.9,151.4 81.6,150.6 81.3,149.9 81,148 80.9,145.8 80.7,145 80.6,144.5 80.4,143.7 80.3,142.4 80.1,141.3 80,140"/></clipPath>
<linearGradient id="pcg4" gradientUnits="userSpaceOnUse" x1="116" y1="127" x2="125" y2="168"><stop offset="0" stop-color="#b4f000"/><stop offset="0.059" stop-color="#b2f000"/><stop offset="0.118" stop-color="#aff000"/><stop offset="0.176" stop-color="#adf000"/><stop offset="0.235" stop-color="#abf000"/><stop offset="0.294" stop-color="#a8f000"/><stop offset="0.353" stop-color="#a1f000"/><stop offset="0.412" stop-color="#99f000"/><stop offset="0.471" stop-color="#91f000"/><stop offset="0.529" stop-color="#89f000"/><stop offset="0.588" stop-color="#80f000"/><stop offset="0.647" stop-color="#77f000"/><stop offset="0.706" stop-color="#6ef000"/><stop offset="0.765" stop-color="#64f000"/><stop offset="0.824" stop-color="#59f000"/><stop offset="0.882" stop-color="#4ff000"/><stop offset="0.941" stop-color="#43f000"/><stop offset="1" stop-color="#3bf005"/></linearGradient>
<clipPath id="pcc4"><polygon points="110,128 111.4,127.4 112.9,127.2 114.3,126.8 115.8,126.6 117.2,126.4 118.7,126.1 120.1,125.8 121.6,125.7 123,125.8 124.5,125.6 125.9,125.1 127.4,124.5 128.8,124.1 130.3,123.6 131.7,123.2 133.2,122.7 134.6,122.4 136.1,122.3 137.5,122 139,121.6 140.4,121.5 141.9,121.6 143.3,121.4 144.8,121 146.2,120.8 147.7,120.4 149.1,119.7 150.6,119.5 152,119.1 153.4,118.6 154.9,118.3 156.3,118.1 157.8,117.6 159.2,117.3 160.7,117.2 162.1,116.9 163.6,116.7 165,116.5 166.5,116.2 167.9,115.7 169.4,115.1 170.8,114.7 172.3,114.5 173.7,114.3 175.2,113.8 176.6,113.7 178.1,113.6 179.5,113.4 181,113.1 182.4,112.6 183.9,111.9 185.3,111.5 186.8,111.3 188.2,111.3 189.7,111.3 191.1,111.1 192.6,110.8 194,110 194,160 192.8,159.1 191.6,159.5 190.5,160.4 189.3,160.4 188.1,160.6 186.9,160.8 185.7,160.6 184.6,160.9 183.4,161.7 182.2,162.4 181,162.2 179.8,162.3 178.7,163.4 177.5,163.7 176.3,163.1 175.1,162.3 173.9,162.5 172.8,163.7 171.6,164 170.4,163.7 169.2,164 168,164.3 166.9,164.9 165.7,164.9 164.5,163.6 163.3,163.2 162.1,163.9 161,164.6 159.8,164.7 158.6,164.8 157.4,165 156.2,164.8 155,165.2 153.9,165.9 152.7,165.8 151.5,165.3 150.3,165.4 149.1,166.4 148,166.5 146.8,165.7 145.6,165.6 144.4,165.5 143.2,166 142.1,167 140.9,167.6 139.7,167.9 138.5,167.8 137.3,167.7 136.2,167.6 135,167.9 133.8,168.3 132.6,168.4 131.4,168.7 130.3,168.8 129.1,168.7 127.9,168.9 126.7,169.5 125.5,170.3 124.4,170.1 123.2,169.7 122,169.9 121,169.8 120,170 119,170.6 118,170.7 117,170.3 116,169.6 115,168.1 114,167.4 113,168.1 112.7,167.3 112.4,165.2 112.1,164.1 111.9,163.8 111.6,162.9 111.3,161.3 111,160 110.9,158.7 110.7,157.8 110.6,157.4 110.4,155.8 110.3,153.6 110.1,152.5 110,152"/></clipPath>
<linearGradient id="pcg5" gradientUnits="userSpaceOnUse" x1="280" y1="123" x2="274.2" y2="151.8"><stop offset="0" stop-color="#c0f000"/><stop offset="0.083" stop-color="#b9f000"/><stop offset="0.167" stop-color="#b3f000"/><stop offset="0.25" stop-color="#acf000"/><stop offset="0.333" stop-color="#a5f000"/><stop offset="0.417" stop-color="#9ef000"/><stop offset="0.5" stop-color="#96f000"/><stop offset="0.583" stop-color="#8ef000"/><stop offset="0.667" stop-color="#86f000"/><stop offset="0.75" stop-color="#7ef000"/><stop offset="0.833" stop-color="#71f000"/><stop offset="0.917" stop-color="#62f000"/><stop offset="1" stop-color="#53f000"/></linearGradient>
<clipPath id="pcc5"><polygon points="194,108 195.5,108 196.9,108.4 198.4,108.9 199.9,109.1 201.3,109.2 202.8,109.8 204.2,110.1 205.7,109.9 207.2,110.3 208.6,110.9 210.1,111.2 211.6,111.3 213,111.5 214.5,111.8 215.9,112.2 217.4,112.6 218.9,113.2 220.3,113.6 221.8,113.8 223.3,114.1 224.7,114.3 226.2,114.4 227.6,114.5 229.1,114.8 230.6,115.2 232,115.5 233.5,115.8 235,116.2 236.4,116.4 237.9,116.5 239.3,116.7 240.8,116.9 242.3,117.1 243.7,117.4 245.2,117.8 246.7,118.2 248.1,118.4 249.6,118.5 251,118.6 252.5,118.9 254,119.5 255.4,119.8 256.9,120 258.4,120.1 259.8,120.2 261.3,121 262.7,121.6 264.2,121.6 265.7,121.8 267.1,122.2 268.6,122.5 270.1,122.7 271.5,122.6 273,123 274.4,123.6 275.9,123.8 277.4,124 278.8,124.2 280.3,124.5 281.8,124.8 283.2,125 284.7,125.3 286.1,125.7 287.6,125.9 289.1,125.8 290.5,126.1 292,127 292,139 291.8,139.6 291.5,141.6 291.2,143.1 291,144.1 290.8,145.2 290.5,146.5 290.2,146.9 290,147.7 289.4,149 288.8,149.2 288.2,150.4 287.6,152.2 287,152.7 286,152.2 285,151.9 284,152.1 283,152.5 282,152.8 280.8,152.9 279.7,152.3 278.5,152.3 277.3,152.8 276.2,153.3 275,153.5 273.9,152.8 272.7,152.4 271.6,152.4 270.4,152 269.3,152.7 268.1,154 267,153.5 265.8,152.2 264.6,151.8 263.4,151.9 262.2,152.4 261,152.5 259.8,152.8 258.6,153.3 257.4,153.1 256.2,152.2 255,152.4 253.8,153.1 252.6,152.9 251.4,152.3 250.2,151.7 249,151.4 247.9,151.5 246.7,152.1 245.5,152.3 244.3,151.6 243.1,151.5 241.9,151.5 240.7,151.6 239.5,152.4 238.3,152.8 237.1,152.2 235.9,152 234.7,152.6 233.5,153 232.3,152.7 231.1,151.8 229.9,150.8 228.7,150.6 227.5,150.6 226.3,150.4 225.1,151 223.9,151.9 222.7,151.5 221.5,150.9 220.3,150.9 219.1,150.9 217.9,151 216.7,150.9 215.5,151 214.3,151 213.1,151.5 212,152.1 210.8,151.4 209.6,150.7 208.4,150.6 207.2,150.5 206,151.2 204.8,151.5 203.6,150.7 202.4,150.5 201.2,151 200,151.1 198.8,150.4 197.6,150 196.4,150.4 195.2,150.6 194,150"/></clipPath>
<linearGradient id="pcg6" gradientUnits="userSpaceOnUse" x1="255" y1="121" x2="244.7" y2="167.7"><stop offset="0" stop-color="#f6e600"/><stop offset="0.053" stop-color="#f5ec00"/><stop offset="0.105" stop-color="#f3f000"/><stop offset="0.158" stop-color="#f0f000"/><stop offset="0.211" stop-color="#eaf000"/><stop offset="0.263" stop-color="#e3f000"/><stop offset="0.316" stop-color="#dcf000"/><stop offset="0.368" stop-color="#d5f000"/><stop offset="0.421" stop-color="#cdf000"/><stop offset="0.474" stop-color="#c3f000"/><stop offset="0.526" stop-color="#b6f000"/><stop offset="0.579" stop-color="#a6f000"/><stop offset="0.632" stop-color="#97f000"/><stop offset="0.684" stop-color="#88f000"/><stop offset="0.737" stop-color="#79f000"/><stop offset="0.789" stop-color="#69f000"/><stop offset="0.842" stop-color="#58f000"/><stop offset="0.895" stop-color="#48f000"/><stop offset="0.947" stop-color="#3cf004"/><stop offset="1" stop-color="#33f00d"/></linearGradient>
<clipPath id="pcc6"><polygon points="194,110 195.5,110.1 196.9,110.5 198.4,110.9 199.8,111 201.3,111.2 202.8,111.9 204.2,112.4 205.7,112.4 207.1,112.2 208.6,112.4 210.1,112.8 211.5,113.4 213,113.7 214.4,113.7 215.9,113.7 217.4,114.1 218.8,114.7 220.3,115 221.7,115.2 223.2,115.7 224.7,116.2 226.1,116.7 227.6,116.6 229,116.8 230.5,117.3 232,117.5 233.4,117.6 234.9,118.1 236.3,118.4 237.8,118.7 239.3,118.7 240.7,118.7 242.2,119.2 243.6,119.5 245.1,119.7 246.6,120.1 248,120.3 249.5,120.2 250.9,120.6 252.4,121.2 253.9,121.9 255.3,122.2 256.8,122.4 258.2,122.7 259.7,122.7 261.2,122.8 262.6,123.4 264.1,123.5 265.5,123.4 267,124 267,153 266.6,154.8 266.2,155.5 265.8,156 265.4,156.8 265,158.3 264.6,159.3 264.1,160.2 263.7,161.5 263.3,162.5 262.9,163.2 262.4,163.8 262,165.2 261.3,166.1 260.7,166.9 260,168.6 259.3,169.9 258.7,170.1 258,170.2 256.9,170.4 255.7,170.8 254.6,170 253.4,169.4 252.3,169.8 251.1,170.1 250,169.9 249,170 248,170.2 247,169.6 246,168.6 245,168.6 244,168.8 243,168.3 242,168 240.8,168.9 239.7,169.7 238.5,168.3 237.3,167 236.1,167.3 235,167.6 233.8,167.4 232.6,167 231.5,166.7 230.3,167.3 229.1,167.6 228,167.7 226.8,167.8 225.6,167.4 224.4,167.2 223.3,166.8 222.1,166.4 220.9,166.8 219.8,167.2 218.6,167.5 217.4,167.5 216.2,167.1 215.1,167 213.9,167 212.7,166.2 211.6,165.5 210.4,166 209.2,166.8 208,166.9 206.9,166.1 205.7,165.5 204.5,165.4 203.4,165.7 202.2,166.4 201,166.3 199.9,165.8 198.7,165.6 197.5,165.5 196.3,165.2 195.2,165.1 194,165"/></clipPath>
<linearGradient id="pcg7" gradientUnits="userSpaceOnUse" x1="130" y1="132" x2="138.7" y2="166.8"><stop offset="0" stop-color="#f4f000"/><stop offset="0.071" stop-color="#edf000"/><stop offset="0.143" stop-color="#e6f000"/><stop offset="0.214" stop-color="#dff000"/><stop offset="0.286" stop-color="#d8f000"/><stop offset="0.357" stop-color="#d1f000"/><stop offset="0.429" stop-color="#c8f000"/><stop offset="0.5" stop-color="#bef000"/><stop offset="0.571" stop-color="#b1f000"/><stop offset="0.643" stop-color="#a4f000"/><stop offset="0.714" stop-color="#98f000"/><stop offset="0.786" stop-color="#8af000"/><stop offset="0.857" stop-color="#7cf000"/><stop offset="0.929" stop-color="#6ef000"/><stop offset="1" stop-color="#5df000"/></linearGradient>
<clipPath id="pcc7"><polygon points="122,134.5 123.5,133.8 124.9,133.3 126.4,133.2 127.8,132.7 129.3,132.1 130.7,131.9 132.2,131.7 133.6,131.5 135.1,130.9 136.5,130.5 138,130.7 139.4,130.7 140.9,130.2 142.3,129.5 143.7,128.9 145.2,128.5 146.6,128.1 148.1,128 149.5,127.8 150.9,127.4 152.4,126.9 153.8,126.4 155.2,126.3 156.7,126 158.1,125.4 159.5,125.1 161,124.6 162.4,124 163.8,123.8 165.3,124.1 166.7,123.8 168.2,123.2 169.6,122.9 171,122.9 172.5,122.5 173.9,121.8 175.3,121.4 176.8,121.2 178.2,120.4 179.6,119.6 181.1,119.4 182.5,119.3 183.9,119.2 185.4,118.7 186.8,118.2 188.3,118.1 189.7,118.3 191.1,118.6 192.6,118 194,117 194,165 192.8,164.7 191.6,165.6 190.4,165.9 189.2,165.7 188.1,165.7 186.9,166 185.7,166.2 184.5,166 183.3,165.8 182.1,165.5 180.9,165.6 179.8,165.7 178.6,166.2 177.4,166.1 176.2,165.6 175,166.2 173.8,167.3 172.6,167.1 171.4,166.1 170.2,165.5 169.1,165.7 167.9,165.7 166.7,165.7 165.5,166.8 164.3,167.5 163.1,167.1 161.9,166.9 160.8,166.9 159.6,167.2 158.4,167.6 157.2,167.9 156,168.4 154.8,168.3 153.6,168 152.4,167.9 151.2,167.7 150.1,167.9 148.9,168.3 147.7,168.2 146.5,168.1 145.3,167.7 144.1,168 142.9,168.8 141.8,169 140.6,168.7 139.4,168.8 138.2,169.3 137,169.8 135.8,170 134.7,168.9 133.5,168 132.3,168.5 131.2,169.2 130,169.1 129,168.6 128,168.5 127,169.3 126,169.2 125,168.4 124,168.1 123,167.7 122,168"/></clipPath>
<linearGradient id="pcg8" gradientUnits="userSpaceOnUse" x1="146" y1="126" x2="160.1" y2="189.9"><stop offset="0" stop-color="#fdca00"/><stop offset="0.038" stop-color="#fbd200"/><stop offset="0.077" stop-color="#f9db00"/><stop offset="0.115" stop-color="#f7e400"/><stop offset="0.154" stop-color="#f5ed00"/><stop offset="0.192" stop-color="#f0f000"/><stop offset="0.231" stop-color="#e8f000"/><stop offset="0.269" stop-color="#ddf000"/><stop offset="0.308" stop-color="#d2f000"/><stop offset="0.346" stop-color="#c5f000"/><stop offset="0.385" stop-color="#b6f000"/><stop offset="0.423" stop-color="#a8f000"/><stop offset="0.462" stop-color="#99f000"/><stop offset="0.5" stop-color="#8bf000"/><stop offset="0.538" stop-color="#7bf000"/><stop offset="0.577" stop-color="#69f000"/><stop offset="0.615" stop-color="#55f000"/><stop offset="0.654" stop-color="#41f000"/><stop offset="0.692" stop-color="#32f00e"/><stop offset="0.731" stop-color="#23f01d"/><stop offset="0.769" stop-color="#19f03d"/><stop offset="0.808" stop-color="#10f062"/><stop offset="0.846" stop-color="#09f08d"/><stop offset="0.885" stop-color="#01f0b8"/><stop offset="0.923" stop-color="#00ead1"/><stop offset="0.962" stop-color="#00e3e7"/><stop offset="1" stop-color="#00d8f4"/></linearGradient>
<clipPath id="pcc8"><polygon points="138,127.5 139.4,127.1 140.8,126.8 142.2,126.4 143.5,125.7 144.9,125.1 146.3,125 147.7,124.7 149.1,124.6 150.5,124.5 151.8,124 153.2,123.7 154.6,123.6 156,123.3 157.5,122.9 158.9,122.7 160.4,122.5 161.8,121.8 163.3,121.1 164.8,120.8 166.2,120.4 167.7,120.2 169.2,120.2 170.6,119.7 172.1,119.2 173.5,119.1 175,118.8 176.5,118.7 177.9,118.5 179.4,118 180.8,117.7 182.3,117.7 183.8,117.6 185.2,117.4 186.7,116.9 188.2,116.4 189.6,115.9 191.1,115.4 192.5,115.2 194,115 194,190 192.8,191.3 191.6,191.3 190.4,191 189.2,190.3 188.1,189.8 186.9,190.5 185.7,191 184.5,190.7 183.3,191.1 182.1,191.7 180.9,191.1 179.8,189.9 178.6,189.1 177.4,189.6 176.2,190.3 175,190.5 173.8,190.5 172.6,191 171.4,191.5 170.2,191.2 169.1,190.7 167.9,190.3 166.7,190.3 165.5,190.7 164.3,190.5 163.1,190.1 161.9,190.2 160.8,190.3 159.6,190.8 158.4,191.3 157.2,191.6 156,191.2 155,191 154,191.8 153,192.7 152,192.7 151,193.2 150,193.6 149,193.2 148,193.5 147,193.9 146,193.7 145,193 144,193 143,193.9 142,194.1 141.6,192.8 141.2,191.3 140.9,189.8 140.5,189.1 140.1,189.1 139.8,188.3 139.4,187.1 139,186 138.9,185.1 138.8,184 138.8,181.9 138.7,179.9 138.6,178.8 138.5,178.3 138.5,177.5 138.4,176.1 138.3,174.8 138.2,173.8 138.2,172.3 138.1,171 138,170"/></clipPath>
<linearGradient id="pcg9" gradientUnits="userSpaceOnUse" x1="236" y1="120" x2="220.7" y2="189.6"><stop offset="0" stop-color="#fdca00"/><stop offset="0.034" stop-color="#fbd000"/><stop offset="0.069" stop-color="#fad600"/><stop offset="0.103" stop-color="#f9dc00"/><stop offset="0.138" stop-color="#f7e200"/><stop offset="0.172" stop-color="#f6e800"/><stop offset="0.207" stop-color="#f4ee00"/><stop offset="0.241" stop-color="#f2f000"/><stop offset="0.276" stop-color="#edf000"/><stop offset="0.31" stop-color="#e3f000"/><stop offset="0.345" stop-color="#d8f000"/><stop offset="0.379" stop-color="#cdf000"/><stop offset="0.414" stop-color="#bff000"/><stop offset="0.448" stop-color="#b1f000"/><stop offset="0.483" stop-color="#a3f000"/><stop offset="0.517" stop-color="#95f000"/><stop offset="0.552" stop-color="#86f000"/><stop offset="0.586" stop-color="#76f000"/><stop offset="0.621" stop-color="#64f000"/><stop offset="0.655" stop-color="#51f000"/><stop offset="0.69" stop-color="#3ef002"/><stop offset="0.724" stop-color="#2ff011"/><stop offset="0.759" stop-color="#20f020"/><stop offset="0.793" stop-color="#17f042"/><stop offset="0.828" stop-color="#0ff067"/><stop offset="0.862" stop-color="#08f091"/><stop offset="0.897" stop-color="#01f0bb"/><stop offset="0.931" stop-color="#00ead2"/><stop offset="0.966" stop-color="#00e3e7"/><stop offset="1" stop-color="#00d8f4"/></linearGradient>
<clipPath id="pcc9"><polygon points="194,115 195.5,114.7 197,114.8 198.4,115.4 199.9,115.9 201.4,115.8 202.9,115.8 204.4,116 205.8,116 207.3,115.9 208.8,116.2 210.3,116.4 211.8,116.5 213.2,116.8 214.7,116.7 216.2,116.5 217.7,116.8 219.2,117 220.6,117.2 222.1,117.1 223.6,116.9 225.1,117.1 226.6,117.7 228,118 229.5,117.8 231,117.7 232.4,118.3 233.8,118.8 235.1,119 236.5,119.1 237.9,119.9 239.2,120.3 240.6,120.4 242,121 242,168 242,169.1 241.9,170.3 241.9,171.5 241.8,172.5 241.8,173.6 241.7,174.5 241.7,174.8 241.6,175.6 241.6,177.4 241.5,178.9 241.5,179.4 241.4,180.4 241.4,181.7 241.3,182.9 241.3,184.4 241.2,185.9 241.2,186.8 241.1,187.5 241.1,188.3 241,188.9 240.2,189.7 239.5,191 238.8,192 238,192.7 237,192.8 236,192.9 235,192.5 234,192.5 233,192.8 232,192.5 230.8,192.3 229.6,192.3 228.4,191.5 227.2,190.7 226.1,191.6 224.9,192.4 223.7,192.1 222.5,191.9 221.3,191.7 220.1,191.1 218.9,191.1 217.8,191.8 216.6,191.6 215.4,191 214.2,190.9 213,191.1 211.8,191.4 210.6,191 209.4,190.4 208.2,190.1 207.1,190.3 205.9,190.3 204.7,189.7 203.5,189.6 202.3,190.2 201.1,190.2 199.9,189.6 198.8,190.2 197.6,190.9 196.4,190.4 195.2,189.3 194,190"/></clipPath>
<linearGradient id="pcg10" gradientUnits="userSpaceOnUse" x1="194" y1="110" x2="194" y2="192"><stop offset="0" stop-color="#f33913"/><stop offset="0.031" stop-color="#f64013"/><stop offset="0.062" stop-color="#f94712"/><stop offset="0.094" stop-color="#fd4f12"/><stop offset="0.125" stop-color="#ff5c0f"/><stop offset="0.156" stop-color="#ff6c0a"/><stop offset="0.188" stop-color="#ff7c05"/><stop offset="0.219" stop-color="#ff8c00"/><stop offset="0.25" stop-color="#ff9c00"/><stop offset="0.281" stop-color="#ffad00"/><stop offset="0.312" stop-color="#ffbe00"/><stop offset="0.344" stop-color="#fad500"/><stop offset="0.375" stop-color="#f5ee00"/><stop offset="0.406" stop-color="#e8f000"/><stop offset="0.438" stop-color="#dbf000"/><stop offset="0.469" stop-color="#cdf000"/><stop offset="0.5" stop-color="#bcf000"/><stop offset="0.531" stop-color="#abf000"/><stop offset="0.562" stop-color="#99f000"/><stop offset="0.594" stop-color="#88f000"/><stop offset="0.625" stop-color="#76f000"/><stop offset="0.656" stop-color="#61f000"/><stop offset="0.688" stop-color="#4bf000"/><stop offset="0.719" stop-color="#3af006"/><stop offset="0.75" stop-color="#2ef012"/><stop offset="0.781" stop-color="#22f01e"/><stop offset="0.812" stop-color="#1af039"/><stop offset="0.844" stop-color="#12f057"/><stop offset="0.875" stop-color="#0cf078"/><stop offset="0.906" stop-color="#06f09c"/><stop offset="0.938" stop-color="#00f0c0"/><stop offset="0.969" stop-color="#00ead2"/><stop offset="1" stop-color="#00e4e4"/></linearGradient>
<clipPath id="pcc10"><polygon points="156,113.9 156.7,113.1 157.4,112.4 158.1,111.8 158.8,111.5 159.5,112 160.2,112.6 160.9,113.3 161.6,113.4 162.3,112.5 163,111.8 163.7,111.2 164.4,111.2 165.1,111.9 165.8,112.6 166.5,113.5 167.2,113.3 167.9,112 168.6,110.8 169.3,109.7 170,109 170.7,109.7 171.4,110.8 172.1,112 172.8,112.6 173.5,111.5 174.2,111.2 174.9,112.1 175.6,113.4 176.3,112.4 177,110.8 177.7,109.5 178.4,108.4 179.1,108.3 179.8,109.3 180.5,110.6 181.2,112.1 181.9,113.8 182.6,113.4 183.3,111.7 184,110.1 184.7,108.7 185.4,107.7 186.1,108.1 186.8,109.3 187.5,110.8 188.2,112.4 188.9,114.2 189.6,114.4 190.3,110.9 191,106.8 191.7,103.4 192.4,101.6 193.1,104.3 193.8,107.9 194.5,112.1 195.2,113.9 195.9,113.4 196.6,111.3 197.3,109.4 198,107.7 198.7,106.4 199.4,106.5 200.1,107.9 200.8,109.7 201.5,111.6 202.2,111.2 202.9,110.1 203.6,110.8 204.3,112.3 205,112.8 205.7,111.3 206.4,109.9 207.1,108.7 207.8,108.1 208.5,109 209.2,110.2 209.9,111.7 210.6,113 211.3,111.2 212,109.6 212.7,108.1 213.4,107.1 214.1,107.8 214.8,109.1 215.5,110.7 216.2,112 216.9,111.1 217.6,111.7 218.3,112.8 219,111.8 219.7,110.6 220.4,109.6 221.1,109.1 221.8,109.8 222.5,110.9 223.2,112.2 223.9,113.5 224.6,114.7 225.3,113.9 226,112.1 226.7,110.5 227.4,109.1 228.1,108.7 228.8,109.9 229.5,111.4 230.2,113.1 230.9,115 231,117 231,118.1 231,119.4 231,120.9 231,122.3 231,123.5 231,124.8 231,125.5 231,126 231,127.6 231,129.3 231,130.6 231,132 231,133.1 231,134.3 231,135.4 231,135.8 231,136.5 231,138.2 231,140 231,141.4 231,142.7 231,143.5 231,144.5 231,145.7 231,146.4 231,147.6 231,149.1 231,150.2 231,151.5 231,152.9 231,154.4 231,155.6 231,156.8 231,158.4 231,159.3 231,160.1 231,161.5 231,162.9 231,164.1 231,165.4 231,166.5 231,167.6 231,168.8 231,169.4 231,170 231,171.7 231,173.4 231,174.8 231,175.7 231,177 231,178.6 231,179.3 231,180.1 231,181.4 231,182.9 231,184.4 231,185.4 231,186.2 231,187.7 231,189 231,190.3 229.8,190.5 228.6,190.3 227.4,190.1 226.2,190.4 225,190.7 223.8,190.3 222.6,189.7 221.5,189.5 220.3,189.7 219.1,190.1 217.9,190.6 216.7,191.1 215.5,190.8 214.3,189.9 213.1,189.4 211.9,189.6 210.7,189.9 209.5,189.8 208.3,189.8 207.1,190 205.9,190 204.7,190.1 203.5,190.4 202.4,190.9 201.2,190.7 200,190.2 198.8,190.4 197.6,190.9 196.4,190.9 195.2,190.3 194,189.9 192.8,189.9 191.6,189.7 190.4,189.7 189.2,189.9 188.1,189.9 186.9,189.8 185.7,189.8 184.5,189.8 183.3,189.5 182.1,189.6 180.9,190.2 179.8,190.4 178.6,190.5 177.4,190.3 176.2,190.1 175,190.4 173.8,190.7 172.6,190.7 171.4,190.2 170.2,190.1 169.1,190.2 167.9,190.3 166.7,190.5 165.5,190.5 164.3,190.6 163.1,190.9 161.9,190.7 160.8,190.3 159.6,190.6 158.4,191 157.2,190.6 156,190.2 156,189.3 156,188.4 156,186.9 156,185.2 156,184.1 156,183.6 156,182.6 156,180.9 156,179.7 156,178.6 156,177.4 156,176.2 156,174.7 156,173.6 156,172.3 156,171 156,170.4 156,169.3 156,167.5 156,166.3 156,165.5 156,164.6 156,163.5 156,162.3 156,160.7 156,159.3 156,158.5 156,157.3 156,155.9 156,154.7 156,153.6 156,152.4 156,151.1 156,150 156,148.8 156,147.5 156,146.4 156,145.6 156,144.6 156,143.5 156,142.2 156,140.6 156,139 156,137.9 156,137 156,136.1 156,134.8 156,133.3 156,132.4 156,131.6 156,129.9 156,128.2 156,126.9 156,125.7 156,125 156,124.4 156,123.2 156,122 156,120.9 156,119.5 156,118"/></clipPath>
<linearGradient id="pcg11" gradientUnits="userSpaceOnUse" x1="194" y1="141" x2="194" y2="262"><stop offset="0" stop-color="#f4f000"/><stop offset="0.017" stop-color="#ebf000"/><stop offset="0.033" stop-color="#e2f000"/><stop offset="0.05" stop-color="#d9f000"/><stop offset="0.067" stop-color="#d0f000"/><stop offset="0.083" stop-color="#c4f000"/><stop offset="0.1" stop-color="#b8f000"/><stop offset="0.117" stop-color="#adf000"/><stop offset="0.133" stop-color="#a1f000"/><stop offset="0.15" stop-color="#95f000"/><stop offset="0.167" stop-color="#89f000"/><stop offset="0.183" stop-color="#7df000"/><stop offset="0.2" stop-color="#71f000"/><stop offset="0.217" stop-color="#62f000"/><stop offset="0.233" stop-color="#54f000"/><stop offset="0.25" stop-color="#45f000"/><stop offset="0.267" stop-color="#3bf005"/><stop offset="0.283" stop-color="#33f00d"/><stop offset="0.3" stop-color="#2af016"/><stop offset="0.317" stop-color="#22f01e"/><stop offset="0.333" stop-color="#1cf02e"/><stop offset="0.35" stop-color="#18f042"/><stop offset="0.367" stop-color="#13f055"/><stop offset="0.383" stop-color="#0ef06f"/><stop offset="0.4" stop-color="#08f090"/><stop offset="0.417" stop-color="#02f0b2"/><stop offset="0.433" stop-color="#00edca"/><stop offset="0.45" stop-color="#00e7db"/><stop offset="0.467" stop-color="#00e1ec"/><stop offset="0.483" stop-color="#00d3f6"/><stop offset="0.5" stop-color="#00c2fe"/><stop offset="0.517" stop-color="#00acff"/><stop offset="0.533" stop-color="#0096ff"/><stop offset="0.55" stop-color="#0086ff"/><stop offset="0.567" stop-color="#0077ff"/><stop offset="0.583" stop-color="#0064ff"/><stop offset="0.6" stop-color="#0556fd"/><stop offset="0.617" stop-color="#0b4afa"/><stop offset="0.633" stop-color="#113ef7"/><stop offset="0.65" stop-color="#192df3"/><stop offset="0.667" stop-color="#241fef"/><stop offset="0.683" stop-color="#2f1bee"/><stop offset="0.7" stop-color="#3918ec"/><stop offset="0.717" stop-color="#4215ea"/><stop offset="0.733" stop-color="#4c11e9"/><stop offset="0.75" stop-color="#5610e6"/><stop offset="0.767" stop-color="#5e10e3"/><stop offset="0.783" stop-color="#6510e1"/><stop offset="0.8" stop-color="#6c10df"/><stop offset="0.817" stop-color="#7410dc"/><stop offset="0.833" stop-color="#7910d9"/><stop offset="0.85" stop-color="#7e10d6"/><stop offset="0.867" stop-color="#8310d4"/><stop offset="0.883" stop-color="#8710d2"/><stop offset="0.9" stop-color="#8a10d0"/><stop offset="0.917" stop-color="#8c10ce"/><stop offset="0.933" stop-color="#8e11cc"/><stop offset="0.95" stop-color="#8f11ca"/><stop offset="0.967" stop-color="#9111c8"/><stop offset="0.983" stop-color="#9212c6"/><stop offset="1" stop-color="#9412c4"/></linearGradient>
<clipPath id="pcc11"><polygon points="168,144 169.7,143.7 171.4,143.2 173.1,143 174.9,142.8 176.6,142.5 178.3,142.2 180,141.8 181.8,141.6 183.5,141.6 185.2,141.6 187,141.4 188.8,141.3 190.5,141.2 192.2,141 194,140.9 195.8,141.1 197.5,141.2 199.2,141.2 201,141.4 202.8,141.7 204.5,141.8 206.2,141.9 208,141.9 209.7,142.1 211.4,142.2 213.1,142.6 214.9,143 216.6,143.2 218.3,143.5 220,144 220,144 220,145.7 220,147.1 220,148.3 219.9,149.8 219.9,151.3 219.9,152.8 219.9,154.4 219.9,155.7 219.9,157.2 219.9,158.8 219.9,160.3 219.8,161.9 219.8,163.2 219.8,164.3 219.8,166.1 219.8,168.2 219.8,169.6 219.8,170.5 219.8,172.1 219.7,173.8 219.7,175 219.7,176.3 219.7,178 219.7,179.9 219.7,181.5 219.7,182.9 219.7,184.6 219.6,186 219.6,187.1 219.6,188.4 219.6,190.2 219.5,191.5 219.4,192.7 219.3,194.1 219.2,195.4 219.1,196.4 219,197.7 218.8,199.3 218.5,200.9 218.3,202.3 218.1,203.6 217.8,204.7 217.6,205.9 217.4,207.2 217.1,208.5 216.9,209.9 216.7,211.5 216.4,212.8 216.2,214 216,215.6 215.8,217.1 215.6,218.6 215.4,219.8 215.2,220.7 215,221.9 214.8,223.3 214.5,224.6 214.3,225.9 214,227.3 213.8,228.8 213.6,230 213.3,231.2 213.1,232.5 212.8,233.7 212.6,235 212.3,236.3 212,237.6 211.6,238.7 211.3,239.8 211,241 210.5,242.4 210,243.9 209.5,245.1 209,246.2 208.3,247.7 207.7,248.9 207,249.8 206.3,250.9 205.4,251.8 204.4,252.8 203.4,253.9 202.5,254.5 201.5,254.7 200.5,255.3 199.5,256.2 198.7,256.5 197.8,256.6 197.7,258 197.5,259.3 197.3,260.5 197.2,262.1 196.3,262.2 195.4,262.1 195.3,260.8 195.2,259.6 195,258.4 194.9,256.9 194.1,256.3 193.2,255.9 192.2,255.6 191.3,255.1 190.3,254.5 189.4,253.6 188.6,252.8 187.7,252 186.8,251.1 186.2,250 185.5,249.1 184.8,248 184.2,246.7 183.6,245.3 183.1,243.9 182.6,242.5 182,241.3 181.7,240.2 181.4,238.7 181,237.2 180.7,236.2 180.4,235.1 180.1,233.8 179.8,232.8 179.4,231.7 179.1,230.4 178.8,229.1 178.4,227.7 178.1,226.3 177.7,224.9 177.4,223.6 177,222.1 176.7,220.6 176.3,219.2 176,217.9 175.7,216.4 175.3,215.1 175,213.9 174.7,212.4 174.3,211.1 174,209.9 173.7,208.6 173.3,207.3 173,206 172.7,204.7 172.4,203.4 172.2,201.9 171.9,200.6 171.6,199.6 171.3,198.2 171.1,196.8 171,195.6 170.8,194.2 170.6,192.6 170.5,191 170.3,189.6 170.2,188.3 170.2,186.9 170.1,185.4 170.1,183.9 170,182.6 170,181.2 169.9,179.7 169.8,178.2 169.8,176.5 169.7,174.7 169.7,173.2 169.6,172.1 169.5,171 169.5,169.4 169.4,167.7 169.4,166.3 169.3,164.7 169.3,163.1 169.2,161.6 169.1,160.1 169.1,158.8 169,157.4 169,155.8 168.9,154.4 168.8,152.9 168.8,151.2 168.7,149.7 168.7,148.4 168.6,147 168.6,145.4 168.5,144"/></clipPath>
<linearGradient id="pdg0" gradientUnits="userSpaceOnUse" x1="100" y1="112" x2="108.3" y2="155.4"><stop offset="0" stop-color="#b0f000"/><stop offset="0.056" stop-color="#a6f000"/><stop offset="0.111" stop-color="#9cf000"/><stop offset="0.167" stop-color="#90f000"/><stop offset="0.222" stop-color="#83f000"/><stop offset="0.278" stop-color="#77f000"/><stop offset="0.333" stop-color="#74f000"/><stop offset="0.389" stop-color="#70f000"/><stop offset="0.444" stop-color="#6bf000"/><stop offset="0.5" stop-color="#67f000"/><stop offset="0.556" stop-color="#62f000"/><stop offset="0.611" stop-color="#5ef000"/><stop offset="0.667" stop-color="#59f000"/><stop offset="0.722" stop-color="#55f000"/><stop offset="0.778" stop-color="#51f000"/><stop offset="0.833" stop-color="#4df000"/><stop offset="0.889" stop-color="#48f000"/><stop offset="0.944" stop-color="#44f000"/><stop offset="1" stop-color="#40f000"/></linearGradient>
<clipPath id="pdc0"><polygon points="44.5,130 45.3,127.7 46.1,126.4 46.9,126.5 46.3,126.5 46.9,124 47.5,126.5 47.7,126.2 48.5,125.4 49.5,125.8 50.5,125.8 51.6,125.2 52.6,124.8 53.6,124.6 52.7,124.6 53.6,123.3 54.5,124.6 54.6,123.4 55.7,122.4 56.7,123.8 57.7,124.3 58.7,124.1 59.7,124.7 59,124.7 59.7,123.4 60.4,124.7 59.4,124.7 60,122.2 60.6,124.7 60.8,124.5 61.8,123.6 62.8,122.9 62.3,122.9 62.8,121.3 63.3,122.9 63.8,122.8 63,122.8 63.8,120.2 64.7,122.8 64.8,122.4 65.9,121.9 66.9,121.9 66.2,121.9 66.9,119.6 67.6,121.9 67.9,120.9 68.9,119.8 70,120.3 71,121.2 70.1,121.2 71,118 71.9,121.2 72,121.7 73.1,121 74.2,119.7 75.3,119 76.3,118.1 75.6,118.1 76.3,115 77.1,118.1 77.4,118.7 78.5,119.8 79.6,119 80.7,118.3 81.8,119 82.9,119 83.9,118.6 82.8,118.6 83.5,114.6 84.2,118.6 85,119 84.6,119 85,116 85.4,119 86.1,119 87.2,118.5 88.3,118 89.4,117.4 88.7,117.4 89.4,115.4 90,117.4 90.5,117.3 91.5,117.6 92.6,117.6 93.7,117 94.8,116.8 94.3,116.8 94.8,116 95.3,116.8 95.9,117.4 97,116.9 98.1,115.4 97.3,115.4 98.1,113.2 98.8,115.4 99.1,115.3 98.6,115.3 99.1,113.1 99.7,115.3 100.2,116 101.3,116.4 102.4,117 101.7,117 102.4,114.7 103.1,117 103.5,116.9 104.6,115.3 105.7,114.4 106.7,115 107.8,115.5 107.4,115.5 108,112.5 108.6,115.5 108.9,114.9 110,113.9 111,114 110.5,114 111,112.4 111.6,114 112.1,114.9 113.1,115.2 114.1,114.1 115.2,111.9 116.2,111.2 117.2,111.2 118.3,110.4 117.6,110.4 118.3,109.4 119,110.4 119.3,110.7 120.3,111.1 121.4,110.5 120.9,110.5 121.4,109 121.8,110.5 122.4,110.2 123.4,110.7 124.5,111.1 123.5,111.1 124,108.6 124.5,111.1 125.5,110.5 126.6,109.7 127.6,109.5 128.6,108.9 129.7,108.3 130.7,108.2 130.1,108.2 130.7,105 131.3,108.2 131.7,108.4 131,108.4 131.7,105.3 132.5,108.4 132.8,107.6 133.8,106.2 134.8,105.8 135.9,105.8 135.1,105.8 135.9,104.9 136.7,105.8 136.9,106 137.9,107 137.1,107 137.9,106 138.7,107 139,107.1 140,106.8 139.2,106.8 140,103.8 140.8,106.8 141,107 142.1,106.1 143.1,105.6 144.2,106.2 145.2,105.9 146.2,105.2 147.3,104 148.3,103 149.4,103.1 150.4,102.8 151.4,102.6 152.5,102.1 153.5,100.9 154.6,101.5 155.6,102.3 156.6,102 157.7,102.3 157.1,102.3 157.7,100.9 158.2,102.3 158.7,102.4 159.8,101.2 160.8,100.1 161.8,100.8 162.9,102.2 163.9,101.3 165,99.4 164.3,99.4 165,97 165.6,99.4 166,99.5 166,140 164.8,139.2 163.7,138.9 162.5,139.6 161.3,140.7 160.1,141.8 159,142.1 157.8,142.2 156.6,142.8 155.4,142.7 154.3,141.4 153.1,140.3 151.9,140.6 150.7,141.2 149.6,141.5 148.4,142.1 147.2,142.2 146,142 144.9,142.4 143.7,142.9 142.5,142.7 141.3,143.2 140.2,144 139,143.6 137.8,142.9 136.7,143 135.5,143.3 134.3,143.7 133.1,143.5 132,143.2 130.8,143.8 129.6,144.4 128.4,144.1 127.3,143.9 126.1,144.4 124.9,144.8 123.7,145.1 122.6,145.2 121.4,144.7 120.2,144.7 119,145 117.9,145.4 116.7,145.5 115.5,145.2 114.3,145.6 113.2,146 112,145.4 110.8,144.2 109.6,144 108.4,144.8 107.3,145.6 106.1,145.4 104.9,144.5 103.7,143.9 102.5,143.5 101.3,143.6 100.1,144.3 99,144.4 97.8,144.4 96.6,144.7 95.4,144.4 94.2,143.6 93,143.3 91.9,143.5 90.7,143.9 89.5,144.2 88.3,143.4 87.1,142.7 85.9,142.9 84.7,142.8 83.6,142.8 82.4,143 81.2,142.4 80,142.2 78.9,142.4 77.7,142.9 76.6,143.8 75.4,144.4 74.3,144.4 73.1,144.3 72,143.7 70.8,143.3 69.7,143.9 68.5,145 67.3,145.2 66.2,145 65,145.5 63.8,145.8 62.7,145.7 61.5,145.3 60.3,144.7 59.2,144.6 58,145.4 57.2,144.7 56.5,143.5 55.8,142.6 55,141.6 54.2,140.9 53.3,140 52.5,139.1 51.7,138.4 50.8,137.7 50,137 49.6,136.3 49.2,135.2 48.9,133.7 48.5,132.5 47.5,132.4 46.5,132.5 45.5,131.8 44.5,131"/></clipPath>
<linearGradient id="pdg1" gradientUnits="userSpaceOnUse" x1="194" y1="96" x2="194" y2="140"><stop offset="0" stop-color="#b8f000"/><stop offset="0.059" stop-color="#b1f000"/><stop offset="0.118" stop-color="#aaf000"/><stop offset="0.176" stop-color="#a3f000"/><stop offset="0.235" stop-color="#9bf000"/><stop offset="0.294" stop-color="#92f000"/><stop offset="0.353" stop-color="#8af000"/><stop offset="0.412" stop-color="#82f000"/><stop offset="0.471" stop-color="#7bf000"/><stop offset="0.529" stop-color="#76f000"/><stop offset="0.588" stop-color="#72f000"/><stop offset="0.647" stop-color="#6ef000"/><stop offset="0.706" stop-color="#6af000"/><stop offset="0.765" stop-color="#65f000"/><stop offset="0.824" stop-color="#61f000"/><stop offset="0.882" stop-color="#5cf000"/><stop offset="0.941" stop-color="#58f000"/><stop offset="1" stop-color="#53f000"/></linearGradient>
<clipPath id="pdc1"><polygon points="160,101 161,101.9 162,101.2 163.1,100.7 164.1,100.5 165.1,99.7 164.2,99.7 165,95.7 165.8,99.7 166.1,98.9 165.3,98.9 166.1,96.2 166.9,98.9 167.2,98.9 168.2,99.1 169.2,98.4 170.2,97.5 169.5,97.5 170.2,96 170.9,97.5 171.2,97.4 172.3,97.5 173.3,97.1 172.7,97.1 173.3,94.2 173.9,97.1 174.3,96.5 175.3,96.9 176.2,97 177.2,97.2 178.1,98.3 177.2,98.3 178.1,95.4 179,98.3 179.1,99.1 180,99.2 181,98 182,97 183,97.9 184,98.7 185,99.2 186,100.1 185.4,100.1 186,97.3 186.6,100.1 187,100.9 188,101.5 189,101.4 188.6,101.4 189,100 189.4,101.4 190,101 191,101.5 192,102.1 193,101.8 194,101.4 195,101.2 194.1,101.2 195,99.8 195.9,101.2 196,100.9 195.4,100.9 196,99.2 196.6,100.9 197,101.4 198,102.7 199,103.6 200,103.4 199.2,103.4 200,100.4 200.8,103.4 201.1,102.3 202.1,101.9 201.5,101.9 202.1,100 202.7,101.9 203.2,102.3 202.6,102.3 203.2,100.4 203.8,102.3 204.2,102.6 205.3,102.9 206.3,103.4 207.4,102.9 206.9,102.9 207.4,101.2 207.9,102.9 208.4,101.9 207.8,101.9 208.4,99.7 209.1,101.9 209.5,101.8 210.6,101.8 209.7,101.8 210.6,101 211.4,101.8 211.6,101.7 211.2,101.7 211.6,100.5 212.1,101.7 211.4,101.7 212,99.2 212.6,101.7 212.7,101.5 213.7,101.4 214.8,102.9 215.8,103.6 216.9,102.1 217.9,101 219,101.5 219.8,102.2 220.6,102.4 221.3,102.7 222.1,103.6 221.6,103.6 222.1,100.7 222.7,103.6 222.9,105.7 223.7,106.3 224.4,106.6 225.2,108.2 226,108 227,107.4 228,108 227.2,108 228,106.4 228.8,108 229,108.5 230,108.8 231,110.1 232,111.8 233,112.4 234,112.4 235,112.1 236,112 236,140 160,140"/></clipPath>
<linearGradient id="pdg2" gradientUnits="userSpaceOnUse" x1="280" y1="114" x2="274" y2="159.2"><stop offset="0" stop-color="#b0f000"/><stop offset="0.056" stop-color="#a4f000"/><stop offset="0.111" stop-color="#97f000"/><stop offset="0.167" stop-color="#88f000"/><stop offset="0.222" stop-color="#78f000"/><stop offset="0.278" stop-color="#74f000"/><stop offset="0.333" stop-color="#70f000"/><stop offset="0.389" stop-color="#6cf000"/><stop offset="0.444" stop-color="#67f000"/><stop offset="0.5" stop-color="#62f000"/><stop offset="0.556" stop-color="#5ef000"/><stop offset="0.611" stop-color="#5af000"/><stop offset="0.667" stop-color="#56f000"/><stop offset="0.722" stop-color="#52f000"/><stop offset="0.778" stop-color="#4ff000"/><stop offset="0.833" stop-color="#4bf000"/><stop offset="0.889" stop-color="#47f000"/><stop offset="0.944" stop-color="#44f000"/><stop offset="1" stop-color="#40f000"/></linearGradient>
<clipPath id="pdc2"><polygon points="230,110.5 231,109.9 232,110.4 231.4,110.4 232,107.4 232.6,110.4 233,111 232.4,111 233,108.1 233.6,111 234,111.8 235,112.4 236,111.7 237.1,110.7 238.1,111.2 239.2,111.8 240.2,112.2 241.3,112.6 240.8,112.6 241.3,111.1 241.8,112.6 242.4,112.7 243.4,113.7 244.5,114.1 245.5,111.9 246.6,110.7 247.6,112.6 248.7,113.8 249.8,113.4 250.8,113.7 251.9,113.6 251.3,113.6 251.9,110.5 252.4,113.6 252.9,112.7 254,113.5 255.1,114.6 256.1,113.9 257.2,113.4 258.3,114 259.3,114 260.4,113 261.5,113.4 261.4,113.4 262,110.9 262.6,113.4 262.5,115 263.6,114.9 264.7,114 264.1,114 264.7,110.9 265.2,114 265.7,114.1 266.8,114.5 267.9,115.2 268.9,115.1 270,113.7 271.1,113.5 272.2,113.6 273.2,112.8 274.3,113.1 275.4,114.7 276.5,115.9 277.5,115.8 276.7,115.8 277.5,113.7 278.4,115.8 278.6,115.5 279.7,115.9 280.8,116.6 281.8,116.2 282.9,115 284,115.2 285,116.2 284.4,116.2 285,113.2 285.6,116.2 286,116.4 287,117.4 288,117.9 289,117.4 290,117.9 289.5,117.9 290,116.3 290.5,117.9 291,118.4 292,117.9 293,118 294,119 295,119.9 296,119.7 297,119.1 298,119.4 299.1,120.1 300.1,120.4 299.5,120.4 300.1,117.6 300.7,120.4 301.2,119.8 302.3,119.4 303.3,119.6 302.5,119.6 303.3,117.3 304.2,119.6 304.4,119.1 305.5,119.3 306.5,120.8 307.6,121.2 307.2,121.2 307.6,119.5 308,121.2 308.7,120.4 309.7,120.3 310.8,120.3 311.9,120.2 312.9,121.2 314,121.6 314.5,122.3 314,122.3 314.5,121 315,122.3 315,122.9 314.4,122.9 315,120.8 315.6,122.9 315.5,124 315.5,124 315.3,124.6 315.2,125.9 315,126.9 314.3,127.1 313.7,127.7 313,128.4 312,129.2 311,130 310,130.4 309.3,130.9 308.7,131.9 308,133.2 307.3,133.6 306.7,133.8 306,135 305.4,136.7 304.9,136.8 304.3,136.6 303.7,138.2 303.1,140.5 302.6,142.1 302,142.5 300.8,141.3 299.7,141.3 298.5,141.8 297.3,141.6 296.2,140.6 295,140.3 294,141.1 293,141.2 292,140.2 291.7,141 291.4,142.2 291.1,143 290.9,143.6 290.6,144.4 290.3,145.8 290,148.1 289.4,149.8 288.8,150.1 288.2,150.2 287.6,150.7 287,152 286,153 285,152.8 284,152.5 283,152.1 282,151.3 280.8,151.6 279.7,152.8 278.5,153.4 277.3,153.4 276.2,153.4 275,153.1 273.9,152.5 272.7,152.4 271.6,152.5 270.4,152.4 269.3,152.4 268.1,152.6 267,152.6 265.8,152.6 264.7,153.2 263.5,153.5 262.3,152.4 261.1,151.9 260,152.9 258.8,153 257.6,152 256.4,151.3 255.3,151.5 254.1,152.4 252.9,153 251.7,152.8 250.6,152.4 249.4,151.6 248.2,150.5 247,150.4 245.9,150.6 244.7,150.1 243.5,150.6 242.3,151.6 241.2,151 240,150.1 239,149.7 238,148.5 237,147.4 236,147.4 235,147.9 234,148.1 233,146.8 232,145.1 231,144.2 230,145"/></clipPath>
<clipPath id="pdtintclp"><polygon points="44.5,130 45.3,127.7 46.1,126.4 46.9,126.5 46.3,126.5 46.9,124 47.5,126.5 47.7,126.2 48.5,125.4 49.5,125.8 50.5,125.8 51.6,125.2 52.6,124.8 53.6,124.6 52.7,124.6 53.6,123.3 54.5,124.6 54.6,123.4 55.7,122.4 56.7,123.8 57.7,124.3 58.7,124.1 59.7,124.7 59,124.7 59.7,123.4 60.4,124.7 59.4,124.7 60,122.2 60.6,124.7 60.8,124.5 61.8,123.6 62.8,122.9 62.3,122.9 62.8,121.3 63.3,122.9 63.8,122.8 63,122.8 63.8,120.2 64.7,122.8 64.8,122.4 65.9,121.9 66.9,121.9 66.2,121.9 66.9,119.6 67.6,121.9 67.9,120.9 68.9,119.8 70,120.3 71,121.2 70.1,121.2 71,118 71.9,121.2 72,121.7 73.1,121 74.2,119.7 75.3,119 76.3,118.1 75.6,118.1 76.3,115 77.1,118.1 77.4,118.7 78.5,119.8 79.6,119 80.7,118.3 81.8,119 82.9,119 83.9,118.6 82.8,118.6 83.5,114.6 84.2,118.6 85,119 84.6,119 85,116 85.4,119 86.1,119 87.2,118.5 88.3,118 89.4,117.4 88.7,117.4 89.4,115.4 90,117.4 90.5,117.3 91.5,117.6 92.6,117.6 93.7,117 94.8,116.8 94.3,116.8 94.8,116 95.3,116.8 95.9,117.4 97,116.9 98.1,115.4 97.3,115.4 98.1,113.2 98.8,115.4 99.1,115.3 98.6,115.3 99.1,113.1 99.7,115.3 100.2,116 101.3,116.4 102.4,117 101.7,117 102.4,114.7 103.1,117 103.5,116.9 104.6,115.3 105.7,114.4 106.7,115 107.8,115.5 107.4,115.5 108,112.5 108.6,115.5 108.9,114.9 110,113.9 111,114 110.5,114 111,112.4 111.6,114 112.1,114.9 113.1,115.2 114.1,114.1 115.2,111.9 116.2,111.2 117.2,111.2 118.3,110.4 117.6,110.4 118.3,109.4 119,110.4 119.3,110.7 120.3,111.1 121.4,110.5 120.9,110.5 121.4,109 121.8,110.5 122.4,110.2 123.4,110.7 124.5,111.1 123.5,111.1 124,108.6 124.5,111.1 125.5,110.5 126.6,109.7 127.6,109.5 128.6,108.9 129.7,108.3 130.7,108.2 130.1,108.2 130.7,105 131.3,108.2 131.7,108.4 131,108.4 131.7,105.3 132.5,108.4 132.8,107.6 133.8,106.2 134.8,105.8 135.9,105.8 135.1,105.8 135.9,104.9 136.7,105.8 136.9,106 137.9,107 137.1,107 137.9,106 138.7,107 139,107.1 140,106.8 139.2,106.8 140,103.8 140.8,106.8 141,107 142.1,106.1 143.1,105.6 144.2,106.2 145.2,105.9 146.2,105.2 147.3,104 148.3,103 149.4,103.1 150.4,102.8 151.4,102.6 152.5,102.1 153.5,100.9 154.6,101.5 155.6,102.3 156.6,102 157.7,102.3 157.1,102.3 157.7,100.9 158.2,102.3 158.7,102.4 159.8,101.2 160.8,100.1 161.8,100.8 162.9,102.2 163.9,101.3 165,99.4 164.3,99.4 165,97 165.6,99.4 166,99.5 166,140 164.8,139.2 163.7,138.9 162.5,139.6 161.3,140.7 160.1,141.8 159,142.1 157.8,142.2 156.6,142.8 155.4,142.7 154.3,141.4 153.1,140.3 151.9,140.6 150.7,141.2 149.6,141.5 148.4,142.1 147.2,142.2 146,142 144.9,142.4 143.7,142.9 142.5,142.7 141.3,143.2 140.2,144 139,143.6 137.8,142.9 136.7,143 135.5,143.3 134.3,143.7 133.1,143.5 132,143.2 130.8,143.8 129.6,144.4 128.4,144.1 127.3,143.9 126.1,144.4 124.9,144.8 123.7,145.1 122.6,145.2 121.4,144.7 120.2,144.7 119,145 117.9,145.4 116.7,145.5 115.5,145.2 114.3,145.6 113.2,146 112,145.4 110.8,144.2 109.6,144 108.4,144.8 107.3,145.6 106.1,145.4 104.9,144.5 103.7,143.9 102.5,143.5 101.3,143.6 100.1,144.3 99,144.4 97.8,144.4 96.6,144.7 95.4,144.4 94.2,143.6 93,143.3 91.9,143.5 90.7,143.9 89.5,144.2 88.3,143.4 87.1,142.7 85.9,142.9 84.7,142.8 83.6,142.8 82.4,143 81.2,142.4 80,142.2 78.9,142.4 77.7,142.9 76.6,143.8 75.4,144.4 74.3,144.4 73.1,144.3 72,143.7 70.8,143.3 69.7,143.9 68.5,145 67.3,145.2 66.2,145 65,145.5 63.8,145.8 62.7,145.7 61.5,145.3 60.3,144.7 59.2,144.6 58,145.4 57.2,144.7 56.5,143.5 55.8,142.6 55,141.6 54.2,140.9 53.3,140 52.5,139.1 51.7,138.4 50.8,137.7 50,137 49.6,136.3 49.2,135.2 48.9,133.7 48.5,132.5 47.5,132.4 46.5,132.5 45.5,131.8 44.5,131"/><polygon points="160,101 161,101.9 162,101.2 163.1,100.7 164.1,100.5 165.1,99.7 164.2,99.7 165,95.7 165.8,99.7 166.1,98.9 165.3,98.9 166.1,96.2 166.9,98.9 167.2,98.9 168.2,99.1 169.2,98.4 170.2,97.5 169.5,97.5 170.2,96 170.9,97.5 171.2,97.4 172.3,97.5 173.3,97.1 172.7,97.1 173.3,94.2 173.9,97.1 174.3,96.5 175.3,96.9 176.2,97 177.2,97.2 178.1,98.3 177.2,98.3 178.1,95.4 179,98.3 179.1,99.1 180,99.2 181,98 182,97 183,97.9 184,98.7 185,99.2 186,100.1 185.4,100.1 186,97.3 186.6,100.1 187,100.9 188,101.5 189,101.4 188.6,101.4 189,100 189.4,101.4 190,101 191,101.5 192,102.1 193,101.8 194,101.4 195,101.2 194.1,101.2 195,99.8 195.9,101.2 196,100.9 195.4,100.9 196,99.2 196.6,100.9 197,101.4 198,102.7 199,103.6 200,103.4 199.2,103.4 200,100.4 200.8,103.4 201.1,102.3 202.1,101.9 201.5,101.9 202.1,100 202.7,101.9 203.2,102.3 202.6,102.3 203.2,100.4 203.8,102.3 204.2,102.6 205.3,102.9 206.3,103.4 207.4,102.9 206.9,102.9 207.4,101.2 207.9,102.9 208.4,101.9 207.8,101.9 208.4,99.7 209.1,101.9 209.5,101.8 210.6,101.8 209.7,101.8 210.6,101 211.4,101.8 211.6,101.7 211.2,101.7 211.6,100.5 212.1,101.7 211.4,101.7 212,99.2 212.6,101.7 212.7,101.5 213.7,101.4 214.8,102.9 215.8,103.6 216.9,102.1 217.9,101 219,101.5 219.8,102.2 220.6,102.4 221.3,102.7 222.1,103.6 221.6,103.6 222.1,100.7 222.7,103.6 222.9,105.7 223.7,106.3 224.4,106.6 225.2,108.2 226,108 227,107.4 228,108 227.2,108 228,106.4 228.8,108 229,108.5 230,108.8 231,110.1 232,111.8 233,112.4 234,112.4 235,112.1 236,112 236,140 160,140"/><polygon points="230,110.5 231,109.9 232,110.4 231.4,110.4 232,107.4 232.6,110.4 233,111 232.4,111 233,108.1 233.6,111 234,111.8 235,112.4 236,111.7 237.1,110.7 238.1,111.2 239.2,111.8 240.2,112.2 241.3,112.6 240.8,112.6 241.3,111.1 241.8,112.6 242.4,112.7 243.4,113.7 244.5,114.1 245.5,111.9 246.6,110.7 247.6,112.6 248.7,113.8 249.8,113.4 250.8,113.7 251.9,113.6 251.3,113.6 251.9,110.5 252.4,113.6 252.9,112.7 254,113.5 255.1,114.6 256.1,113.9 257.2,113.4 258.3,114 259.3,114 260.4,113 261.5,113.4 261.4,113.4 262,110.9 262.6,113.4 262.5,115 263.6,114.9 264.7,114 264.1,114 264.7,110.9 265.2,114 265.7,114.1 266.8,114.5 267.9,115.2 268.9,115.1 270,113.7 271.1,113.5 272.2,113.6 273.2,112.8 274.3,113.1 275.4,114.7 276.5,115.9 277.5,115.8 276.7,115.8 277.5,113.7 278.4,115.8 278.6,115.5 279.7,115.9 280.8,116.6 281.8,116.2 282.9,115 284,115.2 285,116.2 284.4,116.2 285,113.2 285.6,116.2 286,116.4 287,117.4 288,117.9 289,117.4 290,117.9 289.5,117.9 290,116.3 290.5,117.9 291,118.4 292,117.9 293,118 294,119 295,119.9 296,119.7 297,119.1 298,119.4 299.1,120.1 300.1,120.4 299.5,120.4 300.1,117.6 300.7,120.4 301.2,119.8 302.3,119.4 303.3,119.6 302.5,119.6 303.3,117.3 304.2,119.6 304.4,119.1 305.5,119.3 306.5,120.8 307.6,121.2 307.2,121.2 307.6,119.5 308,121.2 308.7,120.4 309.7,120.3 310.8,120.3 311.9,120.2 312.9,121.2 314,121.6 314.5,122.3 314,122.3 314.5,121 315,122.3 315,122.9 314.4,122.9 315,120.8 315.6,122.9 315.5,124 315.5,124 315.3,124.6 315.2,125.9 315,126.9 314.3,127.1 313.7,127.7 313,128.4 312,129.2 311,130 310,130.4 309.3,130.9 308.7,131.9 308,133.2 307.3,133.6 306.7,133.8 306,135 305.4,136.7 304.9,136.8 304.3,136.6 303.7,138.2 303.1,140.5 302.6,142.1 302,142.5 300.8,141.3 299.7,141.3 298.5,141.8 297.3,141.6 296.2,140.6 295,140.3 294,141.1 293,141.2 292,140.2 291.7,141 291.4,142.2 291.1,143 290.9,143.6 290.6,144.4 290.3,145.8 290,148.1 289.4,149.8 288.8,150.1 288.2,150.2 287.6,150.7 287,152 286,153 285,152.8 284,152.5 283,152.1 282,151.3 280.8,151.6 279.7,152.8 278.5,153.4 277.3,153.4 276.2,153.4 275,153.1 273.9,152.5 272.7,152.4 271.6,152.5 270.4,152.4 269.3,152.4 268.1,152.6 267,152.6 265.8,152.6 264.7,153.2 263.5,153.5 262.3,152.4 261.1,151.9 260,152.9 258.8,153 257.6,152 256.4,151.3 255.3,151.5 254.1,152.4 252.9,153 251.7,152.8 250.6,152.4 249.4,151.6 248.2,150.5 247,150.4 245.9,150.6 244.7,150.1 243.5,150.6 242.3,151.6 241.2,151 240,150.1 239,149.7 238,148.5 237,147.4 236,147.4 235,147.9 234,148.1 233,146.8 232,145.1 231,144.2 230,145"/></clipPath>
<radialGradient id="pdtint" gradientUnits="userSpaceOnUse" cx="178" cy="100" r="60" gradientTransform="translate(178 100) scale(1.25 0.6) translate(-178 -100)"><stop offset="0" stop-color="#64ee00" stop-opacity="0.75"/><stop offset="0.55" stop-color="#64ee00" stop-opacity="0.4"/><stop offset="1" stop-color="#64ee00" stop-opacity="0"/></radialGradient>
<linearGradient id="pdg3" gradientUnits="userSpaceOnUse" x1="95" y1="128" x2="101.8" y2="155.3"><stop offset="0" stop-color="#a0f000"/><stop offset="0.091" stop-color="#9af000"/><stop offset="0.182" stop-color="#93f000"/><stop offset="0.273" stop-color="#8df000"/><stop offset="0.364" stop-color="#86f000"/><stop offset="0.455" stop-color="#7ff000"/><stop offset="0.545" stop-color="#78f000"/><stop offset="0.636" stop-color="#70f000"/><stop offset="0.727" stop-color="#66f000"/><stop offset="0.818" stop-color="#5df000"/><stop offset="0.909" stop-color="#53f000"/><stop offset="1" stop-color="#4af000"/></linearGradient>
<clipPath id="pdc3"><polygon points="80,131 81.5,130.8 82.9,130.5 84.4,130.3 85.8,129.8 87.3,129.2 88.8,128.9 90.2,128.9 91.7,128.8 93.2,128.4 94.6,128.1 96.1,127.8 97.5,127.6 99,127.2 100.5,126.9 101.9,126.5 103.4,126.2 104.8,125.9 106.3,125.6 107.8,125.4 109.2,125.4 110.7,124.9 112.2,124.6 113.6,124.5 115.1,123.9 116.5,123.1 118,122.9 119.5,122.9 120.9,122.7 122.4,122.4 123.8,122.1 125.3,121.8 126.8,121.6 128.2,121.5 129.7,121.3 131.2,120.8 132.6,120.5 134.1,120.3 135.5,119.8 137,119.3 138.5,119.1 139.9,119.1 141.4,118.9 142.8,118.4 144.3,117.9 145.8,117.6 147.2,117.3 148.7,117 150.2,116.9 151.6,116.7 153.1,116.4 154.5,115.9 156,115.4 157.5,115.3 158.9,115.4 160.4,115 161.8,114.5 163.3,114.2 164.8,113.7 166.2,113.4 167.7,113.5 169.2,113.4 170.6,112.8 172.1,112.4 173.5,112.4 175,112 176.5,111.7 177.9,111.4 179.4,110.9 180.8,110.3 182.3,110.1 183.8,110.1 185.2,109.9 186.7,109.5 188.2,109 189.6,108.6 191.1,108.4 192.5,108.3 194,108 194,150 192.8,149.4 191.6,149.2 190.4,149.3 189.2,150.2 188.1,150.2 186.9,150.4 185.7,150.4 184.5,149.9 183.3,149.7 182.1,149.4 180.9,149.3 179.7,150.1 178.6,151 177.4,150.7 176.2,150.6 175,151.2 173.8,151.1 172.6,150.7 171.4,150.5 170.2,149.7 169,149.6 167.9,150.1 166.7,150 165.5,150 164.3,150.4 163.1,150.3 161.9,150.2 160.7,150.4 159.5,150.9 158.3,151.6 157.2,151.7 156,150.9 154.8,150 153.6,150.4 152.4,150.8 151.2,150.3 150,150 148.8,149.9 147.7,149.8 146.5,150 145.3,150.5 144.1,150.7 142.9,150.6 141.7,150.7 140.5,150.4 139.3,150.3 138.1,151 137,151 135.8,150.2 134.6,150.2 133.4,150.7 132.2,150.7 131,150.5 129.8,150.2 128.6,149.8 127.4,149.8 126.3,150.4 125.1,150.9 123.9,150.3 122.7,150.4 121.5,151.4 120.3,151.3 119.1,150.5 117.9,150.9 116.8,151.3 115.6,150.3 114.4,149.6 113.2,149.3 112,148.7 111.3,149.3 110.7,150.6 110,151.9 109,152.9 108,153.1 107,153.3 106,153.6 105,153.7 104,154.4 103,155 102,155.1 101,155.5 100,155.8 99,155.6 98,155.7 97,156.1 96,156.2 95,156.2 94,156.2 93,156.5 92,156.9 91,156.6 90,156.3 89,156.6 88,156.6 87,155.3 86,154.6 85,154.7 84,154.6 83,154.5 82.7,154 82.4,153.3 82.1,151.6 81.9,149.9 81.6,149 81.3,148.8 81,148.3 80.9,146.5 80.7,145.3 80.6,144.8 80.4,144.3 80.3,143.1 80.1,141.2 80,140"/></clipPath>
<linearGradient id="pdg4" gradientUnits="userSpaceOnUse" x1="116" y1="127" x2="125" y2="168"><stop offset="0" stop-color="#b4f000"/><stop offset="0.059" stop-color="#b2f000"/><stop offset="0.118" stop-color="#aff000"/><stop offset="0.176" stop-color="#adf000"/><stop offset="0.235" stop-color="#abf000"/><stop offset="0.294" stop-color="#a8f000"/><stop offset="0.353" stop-color="#a1f000"/><stop offset="0.412" stop-color="#99f000"/><stop offset="0.471" stop-color="#91f000"/><stop offset="0.529" stop-color="#89f000"/><stop offset="0.588" stop-color="#80f000"/><stop offset="0.647" stop-color="#77f000"/><stop offset="0.706" stop-color="#6ef000"/><stop offset="0.765" stop-color="#64f000"/><stop offset="0.824" stop-color="#59f000"/><stop offset="0.882" stop-color="#4ff000"/><stop offset="0.941" stop-color="#43f000"/><stop offset="1" stop-color="#3bf005"/></linearGradient>
<clipPath id="pdc4"><polygon points="110,128 111.4,127.9 112.9,127.5 114.3,127 115.8,126.4 117.2,126.2 118.7,126.4 120.1,125.9 121.6,125.2 123,124.9 124.5,124.6 125.9,124.5 127.4,124.7 128.8,124.5 130.3,123.9 131.7,123.3 133.2,123.2 134.6,123.3 136.1,123.1 137.5,122.4 139,121.8 140.4,121.6 141.9,121.4 143.3,121 144.8,120.5 146.2,120.2 147.7,120.2 149.1,119.9 150.6,119.3 152,119.2 153.4,119.4 154.9,119 156.3,118.1 157.8,117.8 159.2,117.6 160.7,117.2 162.1,116.6 163.6,116 165,115.7 166.5,115.6 167.9,115.6 169.4,115.5 170.8,115 172.3,114.5 173.7,114.2 175.2,114.1 176.6,113.7 178.1,113.3 179.5,113.1 181,112.8 182.4,112.3 183.9,111.9 185.3,111.6 186.8,111.6 188.2,111.8 189.7,111.5 191.1,110.8 192.6,110.3 194,110 194,160 192.8,160.2 191.6,159.7 190.5,160.2 189.3,160.8 188.1,161.1 186.9,161.2 185.7,161.3 184.6,161.5 183.4,161.9 182.2,162 181,161.8 179.8,161.7 178.7,161.5 177.5,161.4 176.3,162.1 175.1,162.9 173.9,163.3 172.8,163.2 171.6,163.4 170.4,163.8 169.2,164 168,163.5 166.9,162.6 165.7,162.7 164.5,163.2 163.3,164 162.1,164.8 161,164.7 159.8,164 158.6,163.8 157.4,164.3 156.2,165.1 155,165.5 153.9,165.3 152.7,165.7 151.5,166.3 150.3,166.3 149.1,166.3 148,166.5 146.8,166.7 145.6,166.8 144.4,166.5 143.2,166.1 142.1,166.3 140.9,167.1 139.7,167.5 138.5,167 137.3,167.3 136.2,168 135,168.2 133.8,168.3 132.6,168.3 131.4,168.4 130.3,168.9 129.1,168.9 127.9,168 126.7,168 125.5,168.6 124.4,168.9 123.2,169.8 122,170.4 121,170.3 120,170.4 119,169.8 118,169.4 117,169.5 116,169.4 115,169 114,168.7 113,168.3 112.7,166.4 112.4,164.5 112.1,164.1 111.9,163.4 111.6,161.5 111.3,160.3 111,159.5 110.9,158.8 110.7,157.8 110.6,156.2 110.4,154.9 110.3,153.7 110.1,152.7 110,152"/></clipPath>
<linearGradient id="pdg5" gradientUnits="userSpaceOnUse" x1="280" y1="123" x2="274.2" y2="151.8"><stop offset="0" stop-color="#c0f000"/><stop offset="0.083" stop-color="#b9f000"/><stop offset="0.167" stop-color="#b3f000"/><stop offset="0.25" stop-color="#acf000"/><stop offset="0.333" stop-color="#a5f000"/><stop offset="0.417" stop-color="#9ef000"/><stop offset="0.5" stop-color="#96f000"/><stop offset="0.583" stop-color="#8ef000"/><stop offset="0.667" stop-color="#86f000"/><stop offset="0.75" stop-color="#7ef000"/><stop offset="0.833" stop-color="#71f000"/><stop offset="0.917" stop-color="#62f000"/><stop offset="1" stop-color="#53f000"/></linearGradient>
<clipPath id="pdc5"><polygon points="194,108 195.5,108.5 196.9,108.7 198.4,109 199.9,109.1 201.3,109.4 202.8,109.8 204.2,110 205.7,110.4 207.2,110.7 208.6,111 210.1,111.3 211.6,111.3 213,111.4 214.5,111.8 215.9,112.2 217.4,112.4 218.9,112.5 220.3,113 221.8,113.4 223.3,113.5 224.7,113.8 226.2,114.4 227.6,114.7 229.1,115.1 230.6,115.5 232,115.5 233.5,115.5 235,115.8 236.4,116.5 237.9,117 239.3,117.1 240.8,117.1 242.3,117.3 243.7,117.7 245.2,118.1 246.7,118.4 248.1,118.5 249.6,118.6 251,118.9 252.5,119.2 254,119.6 255.4,119.9 256.9,120.3 258.4,120.7 259.8,121 261.3,121.1 262.7,121.4 264.2,121.6 265.7,121.7 267.1,121.9 268.6,122.2 270.1,122.7 271.5,123.3 273,123.8 274.4,124 275.9,124 277.4,124.5 278.8,124.8 280.3,124.8 281.8,125 283.2,125.1 284.7,125.2 286.1,125.8 287.6,126.4 289.1,126.6 290.5,126.6 292,127 292,139 291.8,140.2 291.5,141.6 291.2,142.6 291,143.3 290.8,144.5 290.5,146 290.2,148 290,148.8 289.4,148.2 288.8,149.1 288.2,151.5 287.6,153.1 287,152.9 286,151.7 285,151.5 284,152.2 283,152.5 282,151.8 280.8,151.5 279.7,152.2 278.5,152.6 277.3,151.9 276.2,151.4 275,151.7 273.9,152.4 272.7,152.4 271.6,152.6 270.4,153.7 269.3,153.8 268.1,153.1 267,152.7 265.8,153.1 264.6,153.2 263.4,152.7 262.2,153 261,153.6 259.8,152.6 258.6,151.4 257.4,151.7 256.2,152.7 255,152.8 253.8,152.2 252.6,152 251.4,152.2 250.2,152.4 249,152.2 247.9,152.8 246.7,153.5 245.5,153.2 244.3,152.8 243.1,152.3 241.9,152.4 240.7,153.3 239.5,153.3 238.3,152.4 237.1,152.1 235.9,152.1 234.7,152 233.5,151.9 232.3,151 231.1,150.2 229.9,150.7 228.7,151.8 227.5,151.8 226.3,151.1 225.1,151 223.9,150.6 222.7,150.6 221.5,151.2 220.3,151.2 219.1,151.1 217.9,151.8 216.7,152.5 215.5,151.9 214.3,151 213.1,151.1 212,151.5 210.8,151.9 209.6,151.5 208.4,150.1 207.2,149.7 206,150.3 204.8,150.6 203.6,150.5 202.4,150.4 201.2,150.8 200,150.6 198.8,149.7 197.6,149.3 196.4,149.7 195.2,150.2 194,150"/></clipPath>
<linearGradient id="pdg6" gradientUnits="userSpaceOnUse" x1="255" y1="121" x2="244.7" y2="167.7"><stop offset="0" stop-color="#f6e600"/><stop offset="0.053" stop-color="#f5ec00"/><stop offset="0.105" stop-color="#f3f000"/><stop offset="0.158" stop-color="#f0f000"/><stop offset="0.211" stop-color="#eaf000"/><stop offset="0.263" stop-color="#e3f000"/><stop offset="0.316" stop-color="#dcf000"/><stop offset="0.368" stop-color="#d5f000"/><stop offset="0.421" stop-color="#cdf000"/><stop offset="0.474" stop-color="#c3f000"/><stop offset="0.526" stop-color="#b6f000"/><stop offset="0.579" stop-color="#a6f000"/><stop offset="0.632" stop-color="#97f000"/><stop offset="0.684" stop-color="#88f000"/><stop offset="0.737" stop-color="#79f000"/><stop offset="0.789" stop-color="#69f000"/><stop offset="0.842" stop-color="#58f000"/><stop offset="0.895" stop-color="#48f000"/><stop offset="0.947" stop-color="#3cf004"/><stop offset="1" stop-color="#33f00d"/></linearGradient>
<clipPath id="pdc6"><polygon points="194,110 195.5,110.5 196.9,110.6 198.4,110.6 199.8,110.6 201.3,111.2 202.8,111.7 204.2,111.8 205.7,112.3 207.1,112.8 208.6,113 210.1,113.2 211.5,113.2 213,113.3 214.4,114 215.9,114.6 217.4,114.7 218.8,114.7 220.3,114.8 221.7,115.2 223.2,115.7 224.7,116 226.1,116.6 227.6,117 229,116.9 230.5,116.7 232,117 233.4,117.5 234.9,118 236.3,118.3 237.8,118.4 239.3,118.6 240.7,118.8 242.2,119 243.6,119.2 245.1,119.5 246.6,119.6 248,119.9 249.5,120.4 250.9,120.9 252.4,121.5 253.9,121.8 255.3,121.9 256.8,122.2 258.2,122.3 259.7,122.4 261.2,123 262.6,123.4 264.1,123.3 265.5,123.5 267,124 267,153 266.6,153.6 266.2,155.1 265.8,156.5 265.4,157.3 265,158.2 264.6,159.2 264.1,160.1 263.7,161 263.3,161.5 262.9,162 262.4,163.5 262,165.4 261.3,166.7 260.7,167.3 260,167.6 259.3,168.6 258.7,169.7 258,170.1 256.9,169.5 255.7,169.1 254.6,169.1 253.4,169.8 252.3,170.6 251.1,170.5 250,170.3 249,170.6 248,169.9 247,168.7 246,168.7 245,169.5 244,169.7 243,169 242,168.2 240.8,167.8 239.7,167.6 238.5,167.5 237.3,167.5 236.1,167.6 235,167.6 233.8,167.8 232.6,168 231.5,168 230.3,167.8 229.1,167.4 228,166.8 226.8,166.5 225.6,166.9 224.4,168 223.3,168.2 222.1,167.3 220.9,166.8 219.8,166.9 218.6,167.2 217.4,167 216.2,166.1 215.1,165.6 213.9,165.7 212.7,166.1 211.6,166 210.4,165.4 209.2,164.9 208,164.5 206.9,164.9 205.7,165.5 204.5,165.3 203.4,165.9 202.2,167 201,166.9 199.9,166 198.7,165 197.5,164.6 196.3,164.4 195.2,164.1 194,165"/></clipPath>
<linearGradient id="pdg7" gradientUnits="userSpaceOnUse" x1="130" y1="132" x2="138.7" y2="166.8"><stop offset="0" stop-color="#f4f000"/><stop offset="0.071" stop-color="#edf000"/><stop offset="0.143" stop-color="#e6f000"/><stop offset="0.214" stop-color="#dff000"/><stop offset="0.286" stop-color="#d8f000"/><stop offset="0.357" stop-color="#d1f000"/><stop offset="0.429" stop-color="#c8f000"/><stop offset="0.5" stop-color="#bef000"/><stop offset="0.571" stop-color="#b1f000"/><stop offset="0.643" stop-color="#a4f000"/><stop offset="0.714" stop-color="#98f000"/><stop offset="0.786" stop-color="#8af000"/><stop offset="0.857" stop-color="#7cf000"/><stop offset="0.929" stop-color="#6ef000"/><stop offset="1" stop-color="#5df000"/></linearGradient>
<clipPath id="pdc7"><polygon points="122,134.5 123.5,134.1 124.9,133.5 126.4,132.6 127.8,132.2 129.3,132.4 130.7,132.2 132.2,131.9 133.6,131.5 135.1,130.9 136.5,130.7 138,130.7 139.4,130.3 140.9,129.6 142.3,129 143.7,128.8 145.2,129 146.6,128.9 148.1,128.8 149.5,128.2 150.9,127.5 152.4,127.3 153.8,127.2 155.2,126.9 156.7,126.4 158.1,125.7 159.5,125.3 161,125.5 162.4,125.5 163.8,125.3 165.3,124.5 166.7,123.5 168.2,122.9 169.6,122.7 171,122.6 172.5,122 173.9,121.6 175.3,121.5 176.8,121.3 178.2,120.8 179.6,120.4 181.1,120.3 182.5,120.1 183.9,119.7 185.4,118.9 186.8,118.4 188.3,118.6 189.7,118.5 191.1,118 192.6,117.4 194,117 194,165 192.8,165.3 191.6,165.5 190.4,165.2 189.2,165.4 188.1,166 186.9,166.2 185.7,166.3 184.5,166.2 183.3,165.9 182.1,165.5 180.9,165.6 179.8,165.9 178.6,165.7 177.4,165.4 176.2,165.7 175,166.5 173.8,166.7 172.6,166.3 171.4,165.9 170.2,165.5 169.1,165.9 167.9,166.7 166.7,167.2 165.5,166.7 164.3,166.4 163.1,167.1 161.9,167.8 160.8,168.2 159.6,168 158.4,167.7 157.2,167.9 156,167.9 154.8,167.5 153.6,167.8 152.4,168.2 151.2,167.8 150.1,167.8 148.9,167.8 147.7,167.7 146.5,168.2 145.3,169.1 144.1,169.4 142.9,169.4 141.8,169.4 140.6,168.8 139.4,168.6 138.2,169.6 137,170.2 135.8,169.6 134.7,169.3 133.5,169 132.3,168.4 131.2,168 130,167.4 129,167.4 128,168.4 127,169 126,168.8 125,168.2 124,167.8 123,167.5 122,168"/></clipPath>
<linearGradient id="pdg8" gradientUnits="userSpaceOnUse" x1="146" y1="126" x2="160.1" y2="189.9"><stop offset="0" stop-color="#fdca00"/><stop offset="0.038" stop-color="#fbd200"/><stop offset="0.077" stop-color="#f9db00"/><stop offset="0.115" stop-color="#f7e400"/><stop offset="0.154" stop-color="#f5ed00"/><stop offset="0.192" stop-color="#f0f000"/><stop offset="0.231" stop-color="#e8f000"/><stop offset="0.269" stop-color="#ddf000"/><stop offset="0.308" stop-color="#d2f000"/><stop offset="0.346" stop-color="#c5f000"/><stop offset="0.385" stop-color="#b6f000"/><stop offset="0.423" stop-color="#a8f000"/><stop offset="0.462" stop-color="#99f000"/><stop offset="0.5" stop-color="#8bf000"/><stop offset="0.538" stop-color="#7bf000"/><stop offset="0.577" stop-color="#69f000"/><stop offset="0.615" stop-color="#55f000"/><stop offset="0.654" stop-color="#41f000"/><stop offset="0.692" stop-color="#32f00e"/><stop offset="0.731" stop-color="#23f01d"/><stop offset="0.769" stop-color="#19f03d"/><stop offset="0.808" stop-color="#10f062"/><stop offset="0.846" stop-color="#09f08d"/><stop offset="0.885" stop-color="#01f0b8"/><stop offset="0.923" stop-color="#00ead1"/><stop offset="0.962" stop-color="#00e3e7"/><stop offset="1" stop-color="#00d8f4"/></linearGradient>
<clipPath id="pdc8"><polygon points="138,127.5 139.4,127.1 140.8,126.7 142.2,126.8 143.5,126.7 144.9,126 146.3,124.9 147.7,124.3 149.1,124.2 150.5,123.9 151.8,123.6 153.2,123.6 154.6,123.5 156,122.5 157.5,121.8 158.9,121.9 160.4,122.2 161.8,122 163.3,121.4 164.8,120.7 166.2,120.5 167.7,120.8 169.2,120.6 170.6,119.9 172.1,119.7 173.5,119.3 175,118.9 176.5,118.5 177.9,118.4 179.4,118.2 180.8,117.7 182.3,117.4 183.8,117.2 185.2,116.5 186.7,115.9 188.2,115.5 189.6,115.2 191.1,115.4 192.5,115.1 194,115 194,190 192.8,189.3 191.6,189.3 190.4,189.9 189.2,190.8 188.1,190.6 186.9,190.3 185.7,190 184.5,189.6 183.3,189.7 182.1,189.8 180.9,190 179.8,190.4 178.6,190 177.4,189.7 176.2,190.7 175,191.4 173.8,191.1 172.6,190.8 171.4,190.4 170.2,190.2 169.1,190.7 167.9,191.1 166.7,191.2 165.5,190.9 164.3,190.6 163.1,191.1 161.9,191.6 160.8,191.4 159.6,191.1 158.4,191 157.2,190.8 156,190.6 155,191.7 154,192.9 153,193.6 152,194.5 151,194.5 150,194.1 149,193.9 148,193.9 147,193.8 146,194 145,193.9 144,193.8 143,193.6 142,193 141.6,191.6 141.2,191.2 140.9,191 140.5,189.7 140.1,188.5 139.8,187.4 139.4,186.2 139,185 138.9,183.6 138.8,182.5 138.8,181.3 138.7,179.8 138.6,178.7 138.5,177.8 138.5,176.2 138.4,174.7 138.3,173.7 138.2,172.7 138.2,172 138.1,171.3 138,170"/></clipPath>
<linearGradient id="pdg9" gradientUnits="userSpaceOnUse" x1="236" y1="120" x2="220.7" y2="189.6"><stop offset="0" stop-color="#fdca00"/><stop offset="0.034" stop-color="#fbd000"/><stop offset="0.069" stop-color="#fad600"/><stop offset="0.103" stop-color="#f9dc00"/><stop offset="0.138" stop-color="#f7e200"/><stop offset="0.172" stop-color="#f6e800"/><stop offset="0.207" stop-color="#f4ee00"/><stop offset="0.241" stop-color="#f2f000"/><stop offset="0.276" stop-color="#edf000"/><stop offset="0.31" stop-color="#e3f000"/><stop offset="0.345" stop-color="#d8f000"/><stop offset="0.379" stop-color="#cdf000"/><stop offset="0.414" stop-color="#bff000"/><stop offset="0.448" stop-color="#b1f000"/><stop offset="0.483" stop-color="#a3f000"/><stop offset="0.517" stop-color="#95f000"/><stop offset="0.552" stop-color="#86f000"/><stop offset="0.586" stop-color="#76f000"/><stop offset="0.621" stop-color="#64f000"/><stop offset="0.655" stop-color="#51f000"/><stop offset="0.69" stop-color="#3ef002"/><stop offset="0.724" stop-color="#2ff011"/><stop offset="0.759" stop-color="#20f020"/><stop offset="0.793" stop-color="#17f042"/><stop offset="0.828" stop-color="#0ff067"/><stop offset="0.862" stop-color="#08f091"/><stop offset="0.897" stop-color="#01f0bb"/><stop offset="0.931" stop-color="#00ead2"/><stop offset="0.966" stop-color="#00e3e7"/><stop offset="1" stop-color="#00d8f4"/></linearGradient>
<clipPath id="pdc9"><polygon points="194,115 195.5,115.1 197,115.6 198.4,115.8 199.9,115.8 201.4,116.2 202.9,116.2 204.4,115.7 205.8,115.8 207.3,115.9 208.8,115.9 210.3,116.3 211.8,116.5 213.2,116.7 214.7,116.9 216.2,117.2 217.7,117.4 219.2,117.4 220.6,117.3 222.1,117 223.6,117.1 225.1,117.6 226.6,117.8 228,117.6 229.5,117.7 231,118.1 232.4,118.6 233.8,119.1 235.1,119.4 236.5,119.6 237.9,119.7 239.2,119.8 240.6,120.2 242,121 242,168 242,169 241.9,169.9 241.9,171.8 241.8,173.5 241.8,174.5 241.7,174.8 241.7,175.1 241.6,176.7 241.6,178.5 241.5,179.1 241.5,179.6 241.4,181.1 241.4,182.6 241.3,183.6 241.3,184.4 241.2,185.4 241.2,186.8 241.1,187.7 241.1,188.3 241,189.3 240.2,190.2 239.5,191 238.8,191.5 238,192.6 237,193 236,192.6 235,191.9 234,191.9 233,191.5 232,191.4 230.8,192.1 229.6,192.7 228.4,192.9 227.2,192.6 226.1,192 224.9,190.9 223.7,190.6 222.5,191.1 221.3,191.5 220.1,191.7 218.9,191.2 217.8,190.8 216.6,191 215.4,191.2 214.2,191.2 213,191.2 211.8,190.9 210.6,190.5 209.4,190.4 208.2,190.7 207.1,190.8 205.9,190.2 204.7,190.2 203.5,190.7 202.3,190.8 201.1,190.2 199.9,190 198.8,190.2 197.6,190.1 196.4,190.2 195.2,190.2 194,190"/></clipPath>
<linearGradient id="pdg10" gradientUnits="userSpaceOnUse" x1="194" y1="110" x2="194" y2="192"><stop offset="0" stop-color="#f33913"/><stop offset="0.031" stop-color="#f64013"/><stop offset="0.062" stop-color="#f94712"/><stop offset="0.094" stop-color="#fd4f12"/><stop offset="0.125" stop-color="#ff5c0f"/><stop offset="0.156" stop-color="#ff6c0a"/><stop offset="0.188" stop-color="#ff7c05"/><stop offset="0.219" stop-color="#ff8c00"/><stop offset="0.25" stop-color="#ff9c00"/><stop offset="0.281" stop-color="#ffad00"/><stop offset="0.312" stop-color="#ffbe00"/><stop offset="0.344" stop-color="#fad500"/><stop offset="0.375" stop-color="#f5ee00"/><stop offset="0.406" stop-color="#e8f000"/><stop offset="0.438" stop-color="#dbf000"/><stop offset="0.469" stop-color="#cdf000"/><stop offset="0.5" stop-color="#bcf000"/><stop offset="0.531" stop-color="#abf000"/><stop offset="0.562" stop-color="#99f000"/><stop offset="0.594" stop-color="#88f000"/><stop offset="0.625" stop-color="#76f000"/><stop offset="0.656" stop-color="#61f000"/><stop offset="0.688" stop-color="#4bf000"/><stop offset="0.719" stop-color="#3af006"/><stop offset="0.75" stop-color="#2ef012"/><stop offset="0.781" stop-color="#22f01e"/><stop offset="0.812" stop-color="#1af039"/><stop offset="0.844" stop-color="#12f057"/><stop offset="0.875" stop-color="#0cf078"/><stop offset="0.906" stop-color="#06f09c"/><stop offset="0.938" stop-color="#00f0c0"/><stop offset="0.969" stop-color="#00ead2"/><stop offset="1" stop-color="#00e4e4"/></linearGradient>
<clipPath id="pdc10"><polygon points="156,114.5 156.7,113.4 157.4,112.4 158.1,111.6 158.8,110.9 159.5,111.2 160.2,111.9 160.9,112.8 161.6,113.9 162.3,115 163,114.4 163.7,113.6 164.4,112.9 165.1,112.5 165.8,113.1 166.5,113.8 167.2,114.6 167.9,115.5 168.6,115.5 169.3,114.4 170,113.5 170.7,112.7 171.4,112.8 172.1,113.6 172.8,114.6 173.5,115.7 174.2,114.5 174.9,112.8 175.6,111.2 176.3,109.7 177,108.4 177.7,107.3 178.4,107 179.1,107.9 179.8,109.1 180.5,110.5 181.2,112.1 181.9,113.7 182.6,112.6 183.3,111.7 184,111 184.7,111.7 185.4,112.6 186.1,113 186.8,111 187.5,109.1 188.2,107.5 188.9,106.1 189.6,106.3 190.3,107.7 191,109.4 191.7,111.3 192.4,113.3 193.1,112.1 193.8,111.2 194.5,111.5 195.2,112.7 195.9,114 196.6,113.6 197.3,112.4 198,111.3 198.7,110.3 199.4,109.9 200.1,110.6 200.8,111.6 201.5,112.7 202.2,113.9 202.9,114.2 203.6,113.3 204.3,112.5 205,112 205.7,112.5 206.4,113.3 207.1,114.2 207.8,112.5 208.5,110.9 209.2,109.5 209.9,108.3 210.6,108 211.3,109 212,110.3 212.7,111.8 213.4,113.4 214.1,112.9 214.8,112.1 215.5,112.4 216.2,113.4 216.9,114 217.6,112.5 218.3,111.2 219,110.2 219.7,110.1 220.4,111.1 221.1,112.3 221.8,113.8 222.5,114.1 223.2,113.2 223.9,112.5 224.6,113 225.3,113.8 226,114 226.7,110.8 227.4,108 228.1,105.7 228.8,105.4 229.5,107.6 230.2,110.4 230.9,113.6 231,117 231,118.8 231,119.9 231,120.9 231,122 231,123 231,123.9 231,125.2 231,126.4 231,127.8 231,129.1 231,130.3 231,131.8 231,133.2 231,134 231,134.8 231,136 231,137.3 231,138.7 231,140.1 231,141.1 231,141.9 231,143.3 231,145.2 231,146.7 231,147.5 231,147.9 231,149.3 231,150.7 231,151.8 231,153 231,154.2 231,155.2 231,156.1 231,157.3 231,158.8 231,160.4 231,161.6 231,162.5 231,164 231,165.2 231,166.2 231,167.9 231,169 231,170 231,171 231,171.8 231,173.2 231,174.8 231,175.9 231,177.1 231,178.3 231,179.3 231,180.2 231,181.5 231,183.1 231,184.3 231,185.3 231,186.3 231,187.5 231,189.2 231,190.5 229.8,190.1 228.6,190 227.4,190.1 226.2,190.1 225,189.9 223.8,189.3 222.6,189.4 221.5,189.7 220.3,189.8 219.1,190.2 217.9,189.9 216.7,189.6 215.5,189.9 214.3,189.8 213.1,189.6 211.9,190 210.7,190.1 209.5,189.9 208.3,189.9 207.1,189.5 205.9,189.2 204.7,189.7 203.5,190.6 202.4,190.8 201.2,190.6 200,190.6 198.8,190.5 197.6,190 196.4,189.4 195.2,189.3 194,189.5 192.8,189.6 191.6,189.8 190.4,190.2 189.2,190.2 188.1,189.7 186.9,189.7 185.7,189.9 184.5,190.3 183.3,190.5 182.1,190.3 180.9,190.4 179.8,190.5 178.6,190.2 177.4,190.2 176.2,190.5 175,190.3 173.8,189.8 172.6,189.9 171.4,190.3 170.2,190.2 169.1,189.9 167.9,189.9 166.7,190 165.5,189.8 164.3,190 163.1,190.7 161.9,191.3 160.8,191.1 159.6,190.5 158.4,190.6 157.2,191.2 156,191.3 156,189.6 156,188 156,186.1 156,184.6 156,183.8 156,183.1 156,182.3 156,181.5 156,180.2 156,178.8 156,177.7 156,176.5 156,175.1 156,173.5 156,172.4 156,171 156,169.6 156,168.6 156,167.8 156,166.7 156,165.6 156,164.8 156,163.6 156,162.3 156,161.3 156,160 156,158.6 156,157.3 156,155.8 156,154.3 156,153.1 156,152.1 156,151.3 156,150.2 156,148.6 156,147.1 156,146.6 156,146.1 156,144.5 156,142.9 156,141.9 156,140.7 156,139.4 156,138 156,136.5 156,135.2 156,134.1 156,133.2 156,132.4 156,131.2 156,129.8 156,128.6 156,127.2 156,125.7 156,124.6 156,124.1 156,123.3 156,122.2 156,120.9 156,119.3 156,118"/></clipPath>
<linearGradient id="pdg11" gradientUnits="userSpaceOnUse" x1="194" y1="141" x2="194" y2="262"><stop offset="0" stop-color="#f4f000"/><stop offset="0.017" stop-color="#ebf000"/><stop offset="0.033" stop-color="#e2f000"/><stop offset="0.05" stop-color="#d9f000"/><stop offset="0.067" stop-color="#d0f000"/><stop offset="0.083" stop-color="#c4f000"/><stop offset="0.1" stop-color="#b8f000"/><stop offset="0.117" stop-color="#adf000"/><stop offset="0.133" stop-color="#a1f000"/><stop offset="0.15" stop-color="#95f000"/><stop offset="0.167" stop-color="#89f000"/><stop offset="0.183" stop-color="#7df000"/><stop offset="0.2" stop-color="#71f000"/><stop offset="0.217" stop-color="#62f000"/><stop offset="0.233" stop-color="#54f000"/><stop offset="0.25" stop-color="#45f000"/><stop offset="0.267" stop-color="#3bf005"/><stop offset="0.283" stop-color="#33f00d"/><stop offset="0.3" stop-color="#2af016"/><stop offset="0.317" stop-color="#22f01e"/><stop offset="0.333" stop-color="#1cf02e"/><stop offset="0.35" stop-color="#18f042"/><stop offset="0.367" stop-color="#13f055"/><stop offset="0.383" stop-color="#0ef06f"/><stop offset="0.4" stop-color="#08f090"/><stop offset="0.417" stop-color="#02f0b2"/><stop offset="0.433" stop-color="#00edca"/><stop offset="0.45" stop-color="#00e7db"/><stop offset="0.467" stop-color="#00e1ec"/><stop offset="0.483" stop-color="#00d3f6"/><stop offset="0.5" stop-color="#00c2fe"/><stop offset="0.517" stop-color="#00acff"/><stop offset="0.533" stop-color="#0096ff"/><stop offset="0.55" stop-color="#0086ff"/><stop offset="0.567" stop-color="#0077ff"/><stop offset="0.583" stop-color="#0064ff"/><stop offset="0.6" stop-color="#0556fd"/><stop offset="0.617" stop-color="#0b4afa"/><stop offset="0.633" stop-color="#113ef7"/><stop offset="0.65" stop-color="#192df3"/><stop offset="0.667" stop-color="#241fef"/><stop offset="0.683" stop-color="#2f1bee"/><stop offset="0.7" stop-color="#3918ec"/><stop offset="0.717" stop-color="#4215ea"/><stop offset="0.733" stop-color="#4c11e9"/><stop offset="0.75" stop-color="#5610e6"/><stop offset="0.767" stop-color="#5e10e3"/><stop offset="0.783" stop-color="#6510e1"/><stop offset="0.8" stop-color="#6c10df"/><stop offset="0.817" stop-color="#7410dc"/><stop offset="0.833" stop-color="#7910d9"/><stop offset="0.85" stop-color="#7e10d6"/><stop offset="0.867" stop-color="#8310d4"/><stop offset="0.883" stop-color="#8710d2"/><stop offset="0.9" stop-color="#8a10d0"/><stop offset="0.917" stop-color="#8c10ce"/><stop offset="0.933" stop-color="#8e11cc"/><stop offset="0.95" stop-color="#8f11ca"/><stop offset="0.967" stop-color="#9111c8"/><stop offset="0.983" stop-color="#9212c6"/><stop offset="1" stop-color="#9412c4"/></linearGradient>
<clipPath id="pdc11"><polygon points="168,144 169.7,143.6 171.4,143.1 173.1,142.8 174.9,142.6 176.6,142.4 178.3,142.1 180,141.8 181.8,141.8 183.5,141.6 185.2,141.5 187,141.4 188.8,141.3 190.5,141.2 192.2,141.2 194,141.1 195.8,141.1 197.5,141.1 199.2,141.2 201,141.5 202.8,141.6 204.5,141.6 206.2,141.8 208,141.7 209.7,141.8 211.4,142.3 213.1,142.7 214.9,143 216.6,143.3 218.3,143.6 220,144 220,144 220,145.7 220,147.1 220,148.3 219.9,149.6 219.9,150.8 219.9,152.4 219.9,154.3 219.9,155.9 219.9,157.5 219.9,159.1 219.9,160.5 219.8,161.7 219.8,163.2 219.8,164.9 219.8,166.2 219.8,167.5 219.8,169.4 219.8,171.1 219.8,172.5 219.7,173.9 219.7,175.4 219.7,176.8 219.7,178.2 219.7,179.6 219.7,181.1 219.7,182.7 219.7,184.1 219.6,185.5 219.6,187.1 219.6,188.6 219.6,190.2 219.5,191.8 219.4,193.2 219.3,194.3 219.2,195.4 219.1,196.6 219,198 218.8,199.3 218.5,200.5 218.3,202.1 218.1,203.6 217.8,204.9 217.6,206.1 217.4,207.1 217.1,208.3 216.9,209.8 216.7,211.3 216.4,212.8 216.2,214.2 216,215.5 215.8,217 215.6,218.3 215.4,219.5 215.2,220.6 215,221.9 214.8,223.2 214.5,224.8 214.3,226.3 214,227.6 213.8,228.9 213.6,230.2 213.3,231.4 213.1,232.3 212.8,233.6 212.6,234.9 212.3,236.3 212,237.6 211.6,238.7 211.3,239.9 211,241.1 210.5,242.2 210,243.3 209.5,244.7 209,246.4 208.3,247.9 207.7,249 207,249.8 206.3,250.9 205.4,251.9 204.4,252.8 203.4,253.6 202.5,254.3 201.5,255 200.5,255.6 199.5,255.9 198.7,256.2 197.8,256.5 197.7,257.7 197.5,259.2 197.3,260.3 197.2,261.3 196.3,261.4 195.4,262 195.3,261.3 195.2,260.1 195,258.3 194.9,256.6 194.1,256 193.2,255.6 192.2,255.3 191.3,255 190.3,254.5 189.4,253.8 188.6,252.9 187.7,251.8 186.8,251 186.2,250 185.5,248.8 184.8,247.5 184.2,246.5 183.6,245.4 183.1,243.8 182.6,242.3 182,240.8 181.7,239.7 181.4,238.6 181,237.6 180.7,236.5 180.4,235.3 180.1,233.8 179.8,232.5 179.4,231.3 179.1,230.1 178.8,228.6 178.4,227 178.1,225.8 177.7,224.6 177.4,223.2 177,222 176.7,220.6 176.3,219.1 176,217.9 175.7,216.6 175.3,215.3 175,213.9 174.7,212.4 174.3,211 174,209.6 173.7,208.3 173.3,207.2 173,206 172.7,204.6 172.4,203.3 172.2,202 171.9,200.6 171.6,199.2 171.3,197.8 171.1,196.4 171,195.3 170.8,194.1 170.6,192.7 170.5,191.3 170.3,190 170.2,188.5 170.2,187.1 170.1,185.6 170.1,183.9 170,182.6 170,181.2 169.9,179.5 169.8,177.9 169.8,176.6 169.7,175.3 169.7,173.7 169.6,172.2 169.5,170.7 169.5,169.3 169.4,167.7 169.4,166.2 169.3,165 169.3,163.6 169.2,161.7 169.1,160.1 169.1,159 169,157.6 169,155.8 168.9,154.2 168.8,152.8 168.8,151.4 168.7,149.9 168.7,148.3 168.6,146.6 168.6,145.1 168.5,144"/></clipPath><clipPath id="clipB"><rect x="390" y="0" width="268" height="273"/></clipPath><clipPath id="clipC"><rect x="0" y="296" width="329" height="250"/></clipPath><clipPath id="clipD"><rect x="390" y="296" width="268" height="250"/></clipPath></defs>
<rect width="658" height="546" fill="#fff"/>
<g id="pa">
<line x1="62.4" y1="203.4" x2="55.4" y2="19.4" stroke="#e0e0e0" stroke-width="0.6" stroke-dasharray="1.5 1.5"/>
<line x1="87.6" y1="193.9" x2="82.3" y2="15" stroke="#e0e0e0" stroke-width="0.6" stroke-dasharray="1.5 1.5"/>
<line x1="111.3" y1="185" x2="107.6" y2="10.9" stroke="#e0e0e0" stroke-width="0.6" stroke-dasharray="1.5 1.5"/>
<line x1="133.7" y1="176.5" x2="131.4" y2="7.1" stroke="#e0e0e0" stroke-width="0.6" stroke-dasharray="1.5 1.5"/>
<line x1="154.9" y1="168.5" x2="153.8" y2="3.5" stroke="#e0e0e0" stroke-width="0.6" stroke-dasharray="1.5 1.5"/>
<line x1="50.4" y1="182.4" x2="173.7" y2="139.4" stroke="#e0e0e0" stroke-width="0.6" stroke-dasharray="1.5 1.5"/>
<line x1="49.3" y1="156.7" x2="173.7" y2="117.1" stroke="#e0e0e0" stroke-width="0.6" stroke-dasharray="1.5 1.5"/>
<line x1="48.2" y1="130.6" x2="173.7" y2="94.4" stroke="#e0e0e0" stroke-width="0.6" stroke-dasharray="1.5 1.5"/>
<line x1="47" y1="104" x2="173.7" y2="71.4" stroke="#e0e0e0" stroke-width="0.6" stroke-dasharray="1.5 1.5"/>
<line x1="45.9" y1="76.9" x2="173.7" y2="48.1" stroke="#e0e0e0" stroke-width="0.6" stroke-dasharray="1.5 1.5"/>
<line x1="44.7" y1="49.3" x2="173.7" y2="24.4" stroke="#e0e0e0" stroke-width="0.6" stroke-dasharray="1.5 1.5"/>
<line x1="300.4" y1="197.2" x2="308.1" y2="16.6" stroke="#e0e0e0" stroke-width="0.6" stroke-dasharray="1.5 1.5"/>
<line x1="272.2" y1="189.2" x2="278" y2="12.9" stroke="#e0e0e0" stroke-width="0.6" stroke-dasharray="1.5 1.5"/>
<line x1="245.4" y1="181.7" x2="249.5" y2="9.5" stroke="#e0e0e0" stroke-width="0.6" stroke-dasharray="1.5 1.5"/>
<line x1="219.8" y1="174.5" x2="222.4" y2="6.2" stroke="#e0e0e0" stroke-width="0.6" stroke-dasharray="1.5 1.5"/>
<line x1="195.5" y1="167.6" x2="196.7" y2="3.1" stroke="#e0e0e0" stroke-width="0.6" stroke-dasharray="1.5 1.5"/>
<line x1="313.8" y1="175.9" x2="173.7" y2="139.4" stroke="#e0e0e0" stroke-width="0.6" stroke-dasharray="1.5 1.5"/>
<line x1="315" y1="150.7" x2="173.7" y2="117.1" stroke="#e0e0e0" stroke-width="0.6" stroke-dasharray="1.5 1.5"/>
<line x1="316.2" y1="125.1" x2="173.7" y2="94.4" stroke="#e0e0e0" stroke-width="0.6" stroke-dasharray="1.5 1.5"/>
<line x1="317.4" y1="99.1" x2="173.7" y2="71.4" stroke="#e0e0e0" stroke-width="0.6" stroke-dasharray="1.5 1.5"/>
<line x1="318.7" y1="72.6" x2="173.7" y2="48.1" stroke="#e0e0e0" stroke-width="0.6" stroke-dasharray="1.5 1.5"/>
<line x1="319.9" y1="45.6" x2="173.7" y2="24.4" stroke="#e0e0e0" stroke-width="0.6" stroke-dasharray="1.5 1.5"/>
<line x1="183.5" y1="257.1" x2="300.4" y2="197.2" stroke="#e0e0e0" stroke-width="0.6" stroke-dasharray="1.5 1.5"/>
<line x1="153.6" y1="245.9" x2="272.2" y2="189.2" stroke="#e0e0e0" stroke-width="0.6" stroke-dasharray="1.5 1.5"/>
<line x1="125.4" y1="235.3" x2="245.4" y2="181.7" stroke="#e0e0e0" stroke-width="0.6" stroke-dasharray="1.5 1.5"/>
<line x1="98.9" y1="225.4" x2="219.8" y2="174.5" stroke="#e0e0e0" stroke-width="0.6" stroke-dasharray="1.5 1.5"/>
<line x1="73.7" y1="215.9" x2="195.5" y2="167.6" stroke="#e0e0e0" stroke-width="0.6" stroke-dasharray="1.5 1.5"/>
<line x1="207.3" y1="256.3" x2="62.4" y2="203.4" stroke="#e0e0e0" stroke-width="0.6" stroke-dasharray="1.5 1.5"/>
<line x1="231.5" y1="243.5" x2="87.6" y2="193.9" stroke="#e0e0e0" stroke-width="0.6" stroke-dasharray="1.5 1.5"/>
<line x1="254.1" y1="231.6" x2="111.3" y2="185" stroke="#e0e0e0" stroke-width="0.6" stroke-dasharray="1.5 1.5"/>
<line x1="275.3" y1="220.4" x2="133.7" y2="176.5" stroke="#e0e0e0" stroke-width="0.6" stroke-dasharray="1.5 1.5"/>
<line x1="295.1" y1="209.9" x2="154.9" y2="168.5" stroke="#e0e0e0" stroke-width="0.6" stroke-dasharray="1.5 1.5"/>
<line x1="173.8" y1="161.4" x2="173.7" y2="0.3" stroke="#8a8a8a" stroke-width="1.1"/>
<line x1="312.6" y1="200.7" x2="321.2" y2="18.2" stroke="#444" stroke-width="1.1" stroke-dasharray="3 2"/>
<line x1="43.6" y1="21.3" x2="173.7" y2="0.3" stroke="#555" stroke-width="0.9" stroke-dasharray="3.2 1.8"/>
<line x1="173.7" y1="0.3" x2="321.2" y2="18.2" stroke="#555" stroke-width="0.9" stroke-dasharray="3.2 1.8"/>
<line x1="51.4" y1="207.6" x2="173.8" y2="161.4" stroke="#555" stroke-width="0.9"/>
<line x1="173.8" y1="161.4" x2="312.6" y2="200.7" stroke="#444" stroke-width="0.9" stroke-dasharray="2 1.5"/>
<polygon points="44.5,130 45.3,130.1 46.1,128.7 46.9,127.4 47.7,127.5 48.5,126.9 49.5,126.2 50.5,126.3 51.6,126.3 51,126.3 51.6,125 52.1,126.3 52.6,125.8 53.6,125.5 54.6,125.1 55.7,124.3 56.7,123.9 57.7,124 58.7,124.2 59.7,123.8 59.4,123.8 60,121.3 60.6,123.8 60.8,122.9 61.8,122.4 62.8,122.4 63.8,122.4 63.3,122.4 63.8,120.4 64.3,122.4 64.8,122.6 64.1,122.6 64.8,120.6 65.6,122.6 65.9,123.2 66.9,122 67.9,119.3 68.9,119 68.3,119 68.9,115.8 69.5,119 70,120.1 71,120.5 72,120.6 71.5,120.6 72,118 72.5,120.6 73.1,121.3 74.2,121.3 75.3,119.8 76.3,119.9 77.4,121.2 78.5,120.9 79.6,119.8 80.7,118.4 81.8,117.7 82.9,118.4 83.9,118.3 82.8,118.3 83.5,114.3 84.2,118.3 85,117.4 86.1,117.3 87.2,117.5 88.3,117.2 89.4,117.4 90.5,117.6 91.5,117.3 92.6,117.1 93.7,117.6 92.8,117.6 93.7,115.6 94.6,117.6 94.8,117.8 95.9,117 97,116.4 98.1,116.4 99.1,116.4 100.2,116.1 99.3,116.1 100.2,114.6 101.1,116.1 101.3,115.7 102.4,116 103.5,115.4 104.6,114.4 105.7,114.5 106.7,115 107.8,114.7 107.4,114.7 108,111.7 108.6,114.7 108.9,113.7 108.3,113.7 108.9,111.8 109.5,113.7 110,113.5 111,113.8 110.4,113.8 111,112.5 111.7,113.8 112.1,113.7 113.1,113.9 114.1,113.4 115.2,112.2 116.2,112.8 117.2,113.3 118.3,112.1 119.3,111.5 120.3,111.9 121.4,112 120.7,112 121.4,108.9 122,112 122.4,111.6 123.4,110.2 124.5,109.2 123.5,109.2 124,106.7 124.5,109.2 125.5,109.4 124.8,109.4 125.5,108.1 126.3,109.4 126.6,109.7 127.6,110 127.1,110 127.6,106.9 128.1,110 128.6,109.1 129.7,107.4 129.1,107.4 129.7,104.9 130.2,107.4 130.7,107.5 130.2,107.5 130.7,106.6 131.2,107.5 131.7,108.8 132.8,108.6 133.8,107.5 134.8,107.4 135.9,107.6 136.9,107.7 137.9,107.5 139,106.7 140,105.9 139.2,105.9 140,102.9 140.8,105.9 141,105.9 140.5,105.9 141,104.8 141.6,105.9 142.1,105.3 141.5,105.3 142.1,103.1 142.6,105.3 143.1,104 144.2,104.1 145.2,104.2 144.5,104.2 145.2,101.6 145.9,104.2 146.2,103.6 147.3,103.7 146.5,103.7 147.3,101.9 148,103.7 148.3,103.9 147.9,103.9 148.3,102.2 148.7,103.9 149.4,104 148.8,104 149.4,102.7 150,104 150.4,103.8 151.4,104 152.5,104.1 153.5,103 153.1,103 153.5,100.2 154,103 154.6,101.4 153.8,101.4 154.6,98.2 155.3,101.4 155.6,101.3 156.6,102.5 156.1,102.5 156.6,100.8 157.2,102.5 157.7,101.9 158.7,100.8 159.8,100.9 159,100.9 159.8,97.8 160.5,100.9 160.8,101 160.2,101 160.8,99.9 161.4,101 161.8,101.1 161.1,101.1 161.8,98.8 162.5,101.1 162.9,100.6 162.1,100.6 162.9,97.9 163.7,100.6 163.9,99.8 165,99.4 166,99.5 166,140 164.8,139.8 163.7,139.3 162.5,139.5 161.3,141.1 160.1,141.6 159,141.1 157.8,141.3 156.6,141.2 155.4,141.2 154.3,141.6 153.1,141.4 151.9,141.1 150.7,141.3 149.6,141.8 148.4,142.2 147.2,142.2 146,142.1 144.9,142 143.7,142.3 142.5,142.9 141.3,143.1 140.2,143.2 139,143 137.8,142.9 136.7,143.9 135.5,144.2 134.3,142.8 133.1,142 132,142.8 130.8,144 129.6,144.6 128.4,144.9 127.3,145 126.1,144.8 124.9,144.7 123.7,144.9 122.6,144.9 121.4,144.5 120.2,144.7 119,145.7 117.9,146.1 116.7,145.3 115.5,144.7 114.3,145.4 113.2,146.2 112,146.5 110.8,146 109.6,145.5 108.4,146 107.3,146 106.1,145 104.9,145.4 103.7,145.9 102.5,145.7 101.3,146.1 100.1,146.4 99,145.4 97.8,144.4 96.6,144.3 95.4,144.5 94.2,144.4 93,144.1 91.9,144.2 90.7,144 89.5,143.1 88.3,142.1 87.1,142.4 85.9,143.6 84.7,144.2 83.6,144.1 82.4,143.4 81.2,142.9 80,143 78.9,142.9 77.7,142.5 76.6,143.2 75.4,144.4 74.3,144.6 73.1,144.3 72,144 70.8,144.2 69.7,144.9 68.5,144.8 67.3,144.6 66.2,144.8 65,145.1 63.8,145.6 62.7,145.7 61.5,145.5 60.3,145.5 59.2,145.1 58,144.7 57.2,143.7 56.5,142.9 55.8,142.2 55,141.1 54.2,140 53.3,139.1 52.5,138 51.7,137.1 50.8,136.9 50,136.9 49.6,136.3 49.2,135.9 48.9,135.3 48.5,133.7 47.5,132.8 46.5,132.6 45.5,131.7 44.5,131" fill="url(#pag0)"/>
<g clip-path="url(#pac0)" stroke="#1c3010" stroke-opacity="0.5" stroke-width="0.65" stroke-dasharray="2.2 1.6"><line x1="42.5" y1="134.9" x2="168" y2="111.1"/><line x1="42.5" y1="146.4" x2="168" y2="122.6"/></g>
<polygon points="160,101 161,101.3 162,99.9 163.1,99.4 164.1,100.1 165.1,100.4 164.2,100.4 165,96.4 165.8,100.4 166.1,99.5 167.2,99.2 166.5,99.2 167.2,97.2 167.8,99.2 168.2,99.1 169.2,98.6 170.2,98 171.2,97.6 170.7,97.6 171.2,95.9 171.7,97.6 172.3,97.4 173.3,97 174.3,96.8 175.3,97.4 176.2,98.4 177.2,98.7 178.1,98 179.1,97.8 180,97.8 181,97.7 182,98.3 183,98.5 184,98.1 185,98.2 186,99.4 187,100.2 188,99.9 189,99.7 190,100.2 189.4,100.2 190,98.7 190.6,100.2 191,100.6 192,100.5 191.4,100.5 192,99.6 192.6,100.5 193,100.6 194,100.8 195,102 196,103.1 197,103.4 198,103.4 199,102.2 200,101.4 199.2,101.4 200,98.4 200.8,101.4 201.1,101.9 202.1,102.5 201.3,102.5 202.1,101.7 203,102.5 203.2,102.8 204.2,102.7 203.5,102.7 204.2,100.9 204.9,102.7 205.3,102.6 204.7,102.6 205.3,100.5 205.8,102.6 206.3,102.8 207.4,102.8 208.4,102.8 209.5,102.9 210.6,102.6 211.6,102.2 211.4,102.2 212,99.7 212.6,102.2 212.7,101.9 213.7,102.4 214.8,102.5 215.8,102.8 216.9,103.6 217.9,102.5 219,100.7 219.8,100.9 219.3,100.9 219.8,98.8 220.3,100.9 220.6,101.4 221.3,102.3 220.5,102.3 221.3,99.7 222.1,102.3 222.1,103.7 222.9,104.6 223.7,105.1 222.9,105.1 223.7,104.1 224.5,105.1 224.4,105.6 225.2,106.9 224.7,106.9 225.2,105 225.7,106.9 226,108.5 227,108.1 228,107.5 227.5,107.5 228,105.6 228.5,107.5 229,108.2 230,109.5 229.2,109.5 230,106.7 230.8,109.5 231,110.5 230.6,110.5 231,108.6 231.4,110.5 232,111.5 233,112.1 234,111.5 235,110.7 234.5,110.7 235,109.3 235.5,110.7 236,112 236,140 160,140" fill="url(#pag1)"/>
<g clip-path="url(#pac1)" stroke="#1c3010" stroke-opacity="0.5" stroke-width="0.65" stroke-dasharray="2.2 1.6"><line x1="158" y1="118" x2="238" y2="118"/></g>
<polygon points="230,110.5 231,109.9 232,110.3 231.4,110.3 232,107.3 232.6,110.3 233,110.9 232.4,110.9 233,108.5 233.6,110.9 234,111 235,110.9 236,110.6 237.1,111.1 238.1,112.8 239.2,114.5 240.2,113.7 241.3,112.3 240.6,112.3 241.3,110.4 242,112.3 242.4,112.1 243.4,111.8 244.5,111.7 244,111.7 244.5,109.6 245,111.7 245.5,112.4 246.6,113.1 247.6,113.4 248.7,113.6 249.8,113.4 250.8,113.8 251.9,114.6 252.9,114.2 254,113.3 253.1,113.3 254,111.2 254.9,113.3 255.1,113.5 256.1,114.6 257.2,115.1 258.3,114.2 259.3,113.9 260.4,114.2 261.5,113.6 261.4,113.6 262,111.1 262.6,113.6 262.5,113.8 263.6,114.8 264.7,114.9 265.7,114.7 266.8,113.8 267.9,113 268.9,113.8 270,113.6 271.1,113.2 270.5,113.2 271.1,111.4 271.7,113.2 272.2,114.7 273.2,115.4 272.6,115.4 273.2,114.2 273.9,115.4 274.3,114.7 275.4,114.4 276.5,115 277.5,116 278.6,117 279.7,117 280.8,116.8 280.2,116.8 280.8,115.4 281.3,116.8 281.8,117 282.9,116.3 284,116 285,117 284.3,117 285,115.2 285.7,117 284.4,117 285,114 285.6,117 286,117.5 287,116.9 288,116.8 287.2,116.8 288,114.7 288.8,116.8 289,116.6 288.5,116.6 289,114.4 289.5,116.6 290,116.4 291,117.8 292,118.2 293,117.5 292.4,117.5 293,116.5 293.6,117.5 294,117.8 295,118.5 296,118.6 297,117.8 298,118.4 299.1,120.2 300.1,120.1 301.2,118.7 302.3,119.2 303.3,120.2 304.4,120.7 305.5,121.1 306.5,120.7 305.7,120.7 306.5,118.8 307.4,120.7 307.6,120.5 308.7,121 309.7,121.9 308.9,121.9 309.7,120.3 310.5,121.9 310.8,121.8 311.9,120.8 312.9,121.1 314,122.8 314.5,124 315,124.5 315.5,124 315.5,124 315.3,125.1 315.2,126.9 315,127.3 314.3,126.9 313.7,127.4 313,128.2 312,128.5 311,128.8 310,129.8 309.3,131.3 308.7,132.5 308,133.1 307.3,133.3 306.7,134.1 306,135.2 305.4,135.9 304.9,137 304.3,137.9 303.7,138.4 303.1,139.4 302.6,140.6 302,142 300.8,142.2 299.7,141.9 298.5,141 297.3,140.7 296.2,140.9 295,140.7 294,139.8 293,139.7 292,139.7 291.7,140.7 291.4,142.4 291.1,144 290.9,145.3 290.6,146.2 290.3,146.5 290,147.4 289.4,148.7 288.8,150.1 288.2,150.8 287.6,150.9 287,151.4 286,151.4 285,151.5 284,151.7 283,152.4 282,152.8 280.8,152.3 279.7,152.2 278.5,152.4 277.3,152.3 276.2,152.5 275,153.1 273.9,153.1 272.7,152.9 271.6,153.2 270.4,153.2 269.3,153.2 268.1,153.6 267,153.7 265.8,153.5 264.7,153.1 263.5,152.7 262.3,152.4 261.1,152.2 260,152.4 258.8,151.7 257.6,151.7 256.4,152.4 255.3,151.8 254.1,151.4 252.9,151.9 251.7,151.8 250.6,151.4 249.4,150.9 248.2,150.2 247,149.5 245.9,149.2 244.7,149.6 243.5,150.3 242.3,151.1 241.2,151.2 240,150.3 239,149.6 238,148.9 237,148 236,147 235,146.3 234,146 233,145.8 232,145.6 231,145.5 230,145" fill="url(#pag2)"/>
<g clip-path="url(#pac2)" stroke="#1c3010" stroke-opacity="0.5" stroke-width="0.65" stroke-dasharray="2.2 1.6"><line x1="228" y1="117.3" x2="317.5" y2="129.2"/><line x1="228" y1="129.1" x2="317.5" y2="141"/><line x1="228" y1="140.1" x2="317.5" y2="152"/></g>
<rect x="90" y="85" width="180" height="60" fill="url(#patint)" clip-path="url(#patintclp)"/>
<polygon points="80,131 81.5,130.3 82.9,130.3 84.4,130.3 85.8,130.1 87.3,129.6 88.8,129.1 90.2,128.8 91.7,128.9 93.2,128.8 94.6,128.1 96.1,127.4 97.5,127.3 99,127.4 100.5,126.9 101.9,126.2 103.4,126 104.8,125.7 106.3,125.4 107.8,125.2 109.2,125 110.7,124.8 112.2,124.5 113.6,124.1 115.1,124 116.5,123.7 118,123.1 119.5,122.7 120.9,122.5 122.4,122.2 123.8,121.9 125.3,121.7 126.8,121.5 128.2,121.1 129.7,120.7 131.2,120.4 132.6,120 134.1,119.7 135.5,119.6 137,119.4 138.5,119.4 139.9,119 141.4,118.3 142.8,118.1 144.3,117.8 145.8,117.6 147.2,117.2 148.7,116.7 150.2,116.6 151.6,116.6 153.1,116.3 154.5,115.9 156,115.6 157.5,115.2 158.9,114.8 160.4,114.7 161.8,114.7 163.3,114.7 164.8,114.5 166.2,114.1 167.7,113.6 169.2,113.2 170.6,112.7 172.1,112.5 173.5,112.4 175,111.9 176.5,111.5 177.9,111.3 179.4,111 180.8,110.6 182.3,110.3 183.8,110.1 185.2,109.7 186.7,109.4 188.2,109.1 189.6,108.6 191.1,108.1 192.5,108 194,108 194,150 192.8,150.5 191.6,149.1 190.4,149.5 189.2,150.8 188.1,151.1 186.9,151 185.7,151 184.5,150.7 183.3,150.4 182.1,150 180.9,149.3 179.7,149.4 178.6,149.8 177.4,150.1 176.2,150.8 175,151.4 173.8,151.2 172.6,150.8 171.4,150.5 170.2,149.7 169,149.4 167.9,149.9 166.7,149.8 165.5,148.8 164.3,148.8 163.1,149.5 161.9,150 160.7,150.5 159.5,150.6 158.3,150.3 157.2,150.4 156,150.5 154.8,150.4 153.6,150.4 152.4,150 151.2,149.6 150,149.8 148.8,150.1 147.7,150 146.5,150.1 145.3,150.7 144.1,150.3 142.9,149.9 141.7,150.6 140.5,150.9 139.3,150.5 138.1,150.3 137,149.9 135.8,149.5 134.6,150.3 133.4,150.6 132.2,150.1 131,149.6 129.8,148.9 128.6,148.8 127.4,149.6 126.3,150.1 125.1,150 123.9,150.3 122.7,150.6 121.5,150.4 120.3,150.7 119.1,150.6 117.9,149.9 116.8,149.6 115.6,149.4 114.4,149.8 113.2,150.1 112,149.5 111.3,150 110.7,150.9 110,151.8 109,152.1 108,152.5 107,153 106,153.1 105,153.5 104,154.2 103,154.6 102,154.1 101,154.5 100,155.3 99,154.9 98,154.7 97,155.4 96,155.9 95,156.1 94,156 93,156.4 92,157.2 91,157.2 90,157.1 89,156.9 88,156 87,154.9 86,155 85,155.3 84,155.3 83,155.3 82.7,154.4 82.4,153.2 82.1,152.4 81.9,151.3 81.6,148.9 81.3,147.5 81,147 80.9,145.5 80.7,143.9 80.6,143.3 80.4,142.2 80.3,141.1 80.1,141.3 80,140" fill="url(#pag3)"/>
<g clip-path="url(#pac3)" stroke="#1c3010" stroke-opacity="0.5" stroke-width="0.65" stroke-dasharray="2.2 1.6"><line x1="78" y1="147.9" x2="196" y2="118.4"/></g>
<polygon points="110,128 111.4,127.7 112.9,127.3 114.3,126.8 115.8,126.5 117.2,126.2 118.7,126.2 120.1,126.1 121.6,125.5 123,125.1 124.5,125 125.9,124.7 127.4,124.2 128.8,123.8 130.3,123.6 131.7,123.3 133.2,122.8 134.6,122.3 136.1,121.9 137.5,121.5 139,121.3 140.4,121.1 141.9,120.9 143.3,120.8 144.8,120.6 146.2,120 147.7,119.4 149.1,119.3 150.6,119.3 152,118.9 153.4,118.3 154.9,118 156.3,117.7 157.8,117.6 159.2,117.5 160.7,117.1 162.1,116.8 163.6,116.6 165,116.2 166.5,115.8 167.9,115.6 169.4,115.2 170.8,114.7 172.3,114.7 173.7,114.5 175.2,113.9 176.6,113.8 178.1,113.5 179.5,113.2 181,113.2 182.4,112.7 183.9,112 185.3,111.8 186.8,111.7 188.2,111.3 189.7,111 191.1,110.7 192.6,110.6 194,110 194,160 192.8,158.9 191.6,159.3 190.5,159.5 189.3,159.5 188.1,160 186.9,160.7 185.7,161.5 184.6,162.3 183.4,162.5 182.2,162.3 181,162.1 179.8,162.7 178.7,162.9 177.5,162.5 176.3,162.6 175.1,163.1 173.9,163.2 172.8,162.8 171.6,162.9 170.4,163.4 169.2,163.3 168,163 166.9,163.5 165.7,163.9 164.5,163.9 163.3,164.2 162.1,164.1 161,164.2 159.8,164.9 158.6,164.4 157.4,163.9 156.2,165 155,165.9 153.9,166 152.7,166.7 151.5,166.8 150.3,165.5 149.1,164.6 148,165.6 146.8,166.6 145.6,166.3 144.4,165.7 143.2,166.1 142.1,166.9 140.9,167.6 139.7,168.2 138.5,168.1 137.3,167.6 136.2,167.5 135,167.7 133.8,167.9 132.6,167.8 131.4,168.4 130.3,169.5 129.1,169.7 127.9,170 126.7,170.8 125.5,170.4 124.4,169.8 123.2,169.7 122,169.9 121,170.3 120,170.5 119,170.6 118,170.2 117,169.3 116,169.1 115,169 114,168.9 113,168.5 112.7,167 112.4,166.2 112.1,165.5 111.9,163.9 111.6,162.8 111.3,162.1 111,160.5 110.9,158.2 110.7,157.2 110.6,157.3 110.4,156.4 110.3,154.8 110.1,153.6 110,152" fill="url(#pag4)"/>
<g clip-path="url(#pac4)" stroke="#1c3010" stroke-opacity="0.5" stroke-width="0.65" stroke-dasharray="2.2 1.6"><line x1="108" y1="156.4" x2="196" y2="137"/></g>
<polygon points="194,108 195.5,108.7 196.9,108.9 198.4,108.8 199.9,109 201.3,109.3 202.8,109.8 204.2,110.1 205.7,110.2 207.2,110.4 208.6,111 210.1,111.3 211.6,111.5 213,111.7 214.5,111.9 215.9,112.4 217.4,112.7 218.9,112.8 220.3,113.1 221.8,113.4 223.3,113.4 224.7,113.6 226.2,114.1 227.6,114.2 229.1,114.3 230.6,114.7 232,115.1 233.5,115.2 235,115.5 236.4,116.2 237.9,116.7 239.3,116.8 240.8,116.9 242.3,117.4 243.7,117.8 245.2,118 246.7,118.4 248.1,118.7 249.6,118.8 251,118.9 252.5,119.4 254,119.8 255.4,120 256.9,120 258.4,120.1 259.8,120.4 261.3,120.6 262.7,121.2 264.2,121.7 265.7,121.9 267.1,122.5 268.6,122.8 270.1,123 271.5,123.3 273,123.4 274.4,123.5 275.9,123.9 277.4,124.2 278.8,124.2 280.3,124.6 281.8,125.1 283.2,125.4 284.7,125.6 286.1,125.9 287.6,126.1 289.1,126.4 290.5,126.7 292,127 292,139 291.8,140.8 291.5,142.1 291.2,143.3 291,144.2 290.8,144.3 290.5,144.8 290.2,146 290,147.9 289.4,149.3 288.8,150 288.2,150.2 287.6,150.4 287,151.4 286,152 285,152.9 284,153.1 283,152.7 282,152.4 280.8,152.6 279.7,152.7 278.5,152.4 277.3,152.3 276.2,152.5 275,152.5 273.9,152.5 272.7,152.5 271.6,152.8 270.4,152.8 269.3,152.6 268.1,152.9 267,152.8 265.8,152.2 264.6,152.1 263.4,152.4 262.2,152.7 261,152.7 259.8,152.5 258.6,153 257.4,153.6 256.2,153.1 255,152.6 253.8,152.8 252.6,152.7 251.4,152.8 250.2,152.7 249,151.7 247.9,151.1 246.7,151.6 245.5,152.2 244.3,152.1 243.1,152.4 241.9,152.4 240.7,152.2 239.5,152.8 238.3,153.2 237.1,153 235.9,152.8 234.7,153.1 233.5,153.1 232.3,152.2 231.1,151.7 229.9,151.6 228.7,150.7 227.5,150.2 226.3,150.6 225.1,151.4 223.9,151.2 222.7,150.1 221.5,149.7 220.3,150.4 219.1,150.8 217.9,151.1 216.7,151.6 215.5,151.7 214.3,151.4 213.1,150.9 212,150 210.8,149.9 209.6,150.6 208.4,151.2 207.2,151.2 206,151.2 204.8,151.2 203.6,150.6 202.4,149.5 201.2,149.6 200,150.4 198.8,150.2 197.6,149.8 196.4,150.2 195.2,150.1 194,150" fill="url(#pag5)"/>
<g clip-path="url(#pac5)" stroke="#1c3010" stroke-opacity="0.5" stroke-width="0.65" stroke-dasharray="2.2 1.6"><line x1="192" y1="129" x2="294" y2="149.4"/></g>
<polygon points="194,110 195.5,109.9 196.9,110.5 198.4,111.1 199.8,111.4 201.3,111.8 202.8,112.1 204.2,112.1 205.7,112.2 207.1,112.6 208.6,112.9 210.1,113 211.5,113.3 213,113.8 214.4,114.1 215.9,114.1 217.4,114.2 218.8,114.5 220.3,115.2 221.7,115.6 223.2,115.9 224.7,116.3 226.1,116.7 227.6,117 229,117.1 230.5,117.2 232,117.4 233.4,117.6 234.9,117.7 236.3,118.1 237.8,118.7 239.3,118.8 240.7,118.8 242.2,119 243.6,119.5 245.1,120.1 246.6,120.3 248,120.3 249.5,120.4 250.9,120.8 252.4,120.9 253.9,121.2 255.3,121.6 256.8,122.1 258.2,122.5 259.7,122.7 261.2,122.9 262.6,123.1 264.1,123.6 265.5,124.1 267,124 267,153 266.6,153.4 266.2,153.4 265.8,154.3 265.4,156.5 265,158.5 264.6,159.4 264.1,160.5 263.7,161.4 263.3,162.4 262.9,163.8 262.4,164.3 262,165.6 261.3,167.1 260.7,167.3 260,167.4 259.3,168.2 258.7,168.7 258,169 256.9,169.6 255.7,170.7 254.6,170.4 253.4,170 252.3,170.2 251.1,170.3 250,170.3 249,169.7 248,169.1 247,169.1 246,169.2 245,169.2 244,168.6 243,167.9 242,167.5 240.8,167.7 239.7,168.1 238.5,168.2 237.3,167.8 236.1,167.7 235,168 233.8,168 232.6,168.2 231.5,167.8 230.3,167 229.1,167 228,167 226.8,167.4 225.6,167.9 224.4,167.8 223.3,167.2 222.1,166.5 220.9,166.6 219.8,167.1 218.6,167 217.4,166.6 216.2,166.6 215.1,166.3 213.9,165.4 212.7,165.5 211.6,165.8 210.4,165.3 209.2,165.3 208,166.1 206.9,166.1 205.7,165.7 204.5,165.6 203.4,165.3 202.2,165.1 201,165.2 199.9,165.7 198.7,165.9 197.5,165.3 196.3,165 195.2,164.7 194,165" fill="url(#pag6)"/>
<g clip-path="url(#pac6)" stroke="#1c3010" stroke-opacity="0.5" stroke-width="0.65" stroke-dasharray="2.2 1.6"><line x1="192" y1="111.6" x2="269" y2="128.6"/><line x1="192" y1="143.4" x2="269" y2="160.4"/></g>
<polygon points="122,134.5 123.5,133.9 124.9,133.5 126.4,133.5 127.8,133.4 129.3,132.8 130.7,132.4 132.2,132 133.6,131.4 135.1,130.7 136.5,130.4 138,130.6 139.4,130.6 140.9,130.5 142.3,130 143.7,129.2 145.2,128.8 146.6,128.6 148.1,128.3 149.5,128 150.9,127.5 152.4,126.8 153.8,126.6 155.2,126.7 156.7,126.2 158.1,125.6 159.5,125.4 161,124.9 162.4,124.5 163.8,124.1 165.3,123.8 166.7,123.2 168.2,122.6 169.6,122.3 171,122.2 172.5,122.2 173.9,122 175.3,121.6 176.8,121.2 178.2,120.7 179.6,120.6 181.1,120.4 182.5,119.8 183.9,119.1 185.4,118.7 186.8,118.5 188.3,118.4 189.7,118.3 191.1,117.5 192.6,116.9 194,117 194,165 192.8,164.3 191.6,164.7 190.4,165.1 189.2,165.3 188.1,165.6 186.9,166.1 185.7,166.3 184.5,166 183.3,165.5 182.1,165.2 180.9,165.3 179.8,165.7 178.6,165.8 177.4,165.5 176.2,165.6 175,165.8 173.8,165.6 172.6,166.1 171.4,166.5 170.2,166.1 169.1,165.9 167.9,166.4 166.7,167 165.5,166.7 164.3,166.1 163.1,166.8 161.9,167.8 160.8,168.1 159.6,167.9 158.4,167.1 157.2,166.7 156,167.3 154.8,167.7 153.6,168.2 152.4,168.7 151.2,168.5 150.1,168.4 148.9,168.4 147.7,168.1 146.5,167.8 145.3,168.1 144.1,168.8 142.9,168.9 141.8,168.8 140.6,169.2 139.4,168.9 138.2,168.5 137,168.9 135.8,168.6 134.7,168.2 133.5,168.4 132.3,168.2 131.2,168 130,167.7 129,167 128,167.2 127,168.1 126,168.5 125,168.4 124,168.2 123,167.8 122,168" fill="url(#pag7)"/>
<g clip-path="url(#pac7)" stroke="#1c3010" stroke-opacity="0.5" stroke-width="0.65" stroke-dasharray="2.2 1.6"><line x1="120" y1="134.5" x2="196" y2="115.5"/><line x1="120" y1="167" x2="196" y2="148"/></g>
<polygon points="138,127.5 139.4,126.8 140.8,126.7 142.2,126.4 143.5,126.3 144.9,125.9 146.3,125.3 147.7,125.1 149.1,125 150.5,124.9 151.8,124.4 153.2,123.7 154.6,123.4 156,123.1 157.5,123 158.9,122.8 160.4,122.6 161.8,122.3 163.3,121.8 164.8,121 166.2,120.2 167.7,120 169.2,120.2 170.6,120.3 172.1,120 173.5,119.3 175,118.8 176.5,118.4 177.9,117.9 179.4,117.5 180.8,117.6 182.3,117.4 183.8,117.1 185.2,117 186.7,116.5 188.2,116.1 189.6,116.2 191.1,116.1 192.5,115.4 194,115 194,190 192.8,190.4 191.6,190.9 190.4,191.2 189.2,191.1 188.1,190.5 186.9,190.3 185.7,189.9 184.5,189.4 183.3,189.7 182.1,190 180.9,189.9 179.8,190.3 178.6,191 177.4,191.1 176.2,190.9 175,190.7 173.8,190.1 172.6,189.9 171.4,190.3 170.2,190.2 169.1,190.4 167.9,190.7 166.7,190.8 165.5,190.8 164.3,190.9 163.1,190.9 161.9,190.6 160.8,190.6 159.6,190.6 158.4,191 157.2,191.1 156,191.4 155,191.8 154,191.3 153,192 152,193.4 151,194.1 150,194.4 149,194.4 148,194.4 147,194.1 146,193.8 145,193.8 144,193.8 143,193.6 142,193.7 141.6,193.1 141.2,191.8 140.9,190.1 140.5,189 140.1,188.2 139.8,186.5 139.4,184.8 139,184.3 138.9,183.8 138.8,182.6 138.8,181.5 138.7,180.4 138.6,179.4 138.5,178.9 138.5,177.4 138.4,176.1 138.3,175.2 138.2,173.3 138.2,171.8 138.1,170.8 138,170" fill="url(#pag8)"/>
<g clip-path="url(#pac8)" stroke="#1c3010" stroke-opacity="0.5" stroke-width="0.65" stroke-dasharray="2.2 1.6"><line x1="136" y1="139.4" x2="196" y2="126.2"/><line x1="136" y1="164.7" x2="196" y2="151.5"/><line x1="136" y1="182.2" x2="196" y2="169"/></g>
<polygon points="194,115 195.5,115.3 197,115 198.4,114.7 199.9,114.9 201.4,115.3 202.9,115.4 204.4,115.5 205.8,115.8 207.3,115.8 208.8,115.7 210.3,116 211.8,116.3 213.2,116.8 214.7,117 216.2,116.9 217.7,117.2 219.2,117.3 220.6,117.3 222.1,117.5 223.6,117.8 225.1,117.8 226.6,117.5 228,117.5 229.5,117.9 231,117.7 232.4,118 233.8,118.7 235.1,118.6 236.5,118.5 237.9,119.4 239.2,120.5 240.6,121.1 242,121 242,168 242,168.6 241.9,170 241.9,171.4 241.8,173.2 241.8,174.2 241.7,174.7 241.7,176.2 241.6,178.2 241.6,179.2 241.5,179.4 241.5,180.4 241.4,181.5 241.4,182.5 241.3,183.9 241.3,185.2 241.2,186 241.2,186.7 241.1,187.7 241.1,189.1 241,190.1 240.2,190.6 239.5,191.2 238.8,192.2 238,193.1 237,192.8 236,192.8 235,192.7 234,192.4 233,192.3 232,192.1 230.8,191.9 229.6,192 228.4,192.3 227.2,192.3 226.1,191.8 224.9,191.8 223.7,192.4 222.5,191.9 221.3,191 220.1,191.1 218.9,191.4 217.8,191.5 216.6,191.1 215.4,191 214.2,191.1 213,190.1 211.8,189.7 210.6,190.2 209.4,190.4 208.2,190.6 207.1,190.9 205.9,190.7 204.7,190.8 203.5,191.6 202.3,191.2 201.1,190 199.9,189.8 198.8,189.4 197.6,189.2 196.4,189.6 195.2,189.5 194,190" fill="url(#pag9)"/>
<g clip-path="url(#pac9)" stroke="#1c3010" stroke-opacity="0.5" stroke-width="0.65" stroke-dasharray="2.2 1.6"><line x1="192" y1="126.3" x2="244" y2="137.8"/><line x1="192" y1="152.8" x2="244" y2="164.3"/><line x1="192" y1="170.3" x2="244" y2="181.8"/></g>
<polygon points="156,118 156.8,118.2 157.6,118 158.4,117.7 159.2,117.6 160,117.4 160.8,117.4 161.7,117.5 162.5,117.5 163.3,117.4 164.2,117.2 165,117.3 165.8,117.3 166.7,117.4 167.5,117.9 168.3,117.7 169.2,117.1 170,117.1 170.8,117.4 171.6,117.2 172.4,117.1 173.2,117.2 174,116.9 174.3,115.7 174.7,115 175,114.1 175.3,113.1 175.7,112.2 176,111.4 176.2,111 176.5,110.3 176.8,109.3 177,108.5 177.2,109.2 177.5,110.1 177.8,110.9 178,111.6 178.4,112.3 178.8,113.1 179.2,114 179.6,115 180,115.6 180.8,115 181.5,114.8 182.2,114.5 183,114.1 183.3,113.4 183.7,112.9 184,112.2 184.3,111.1 184.7,109.7 185,108.5 185.4,108.1 185.8,107.5 186.1,106.8 186.5,106.2 187,107.1 187.5,107.5 188,107.8 188.2,108.5 188.5,109.6 188.8,110.6 189,111.3 189.2,111.9 189.5,112.3 189.9,111.6 190.2,111.4 190.6,110.7 191,109.5 191.4,110.5 191.8,111.8 192.1,112.6 192.5,113.3 193,113.3 193.5,113.1 194,112.4 194.5,112.4 195,112.7 195.5,113.8 196,114.7 196.5,113.8 197,113 197.5,112.6 198,111.7 198.7,111.9 199.3,112.5 200,112.9 200.7,112.8 201.3,112.9 202,112.7 202.7,112.4 203.3,111.4 204,110.4 204.7,110.3 205.3,110 206,109.2 206.8,109.1 207.5,109.4 208.2,109.6 209,109.8 209.8,109.9 210.5,110.1 211.2,110.3 212,110.2 212.7,110.4 213.3,110.5 214,110.7 214.4,111.2 214.8,111.7 215.1,112.6 215.5,113.5 216.3,113.4 217.2,113.6 218,113.7 218.8,113.6 219.5,113.4 220.2,113.4 221,113.7 221.8,113.4 222.5,113 223.2,112.6 224,112.4 224.7,112.7 225.3,112.8 226,113.5 226.8,113.9 227.5,114.1 228.2,114.7 229,115.2 229.7,115.2 230.3,115.2 231,116 231,117 231,118.7 231,120 231,121 231,121.9 231,122.8 231,123.7 231,124.8 231,126.3 231,127.9 231,129.1 231,130.1 231,131 231,132 231,133.1 231,134.6 231,136.2 231,137.4 231,138.4 231,139.4 231,140.7 231,142.1 231,143.2 231,144.7 231,146 231,146.3 231,147.2 231,148.9 231,150.2 231,151.2 231,152.6 231,154.1 231,155 231,155.9 231,157.8 231,159.5 231,160.3 231,161 231,161.8 231,162.9 231,164.8 231,166.7 231,167.2 231,167.6 231,169.1 231,170.7 231,172 231,173.2 231,174 231,175.3 231,177.1 231,178.4 231,179.6 231,180.8 231,181.8 231,182.8 231,184.2 231,185 231,185.9 231,187.8 231,189.6 231,190.7 229.8,190.5 228.6,189.8 227.4,189.4 226.2,189.9 225,189.8 223.8,189.1 222.6,189.3 221.5,189.8 220.3,190.2 219.1,190.2 217.9,190.1 216.7,189.9 215.5,189.3 214.3,189.2 213.1,189.7 211.9,189.9 210.7,189.9 209.5,189.9 208.3,189.9 207.1,190.1 205.9,190 204.7,189.6 203.5,188.9 202.4,188.7 201.2,189.2 200,189.9 198.8,190.2 197.6,190.1 196.4,190.3 195.2,190.8 194,190.9 192.8,190.7 191.6,190.6 190.4,190.2 189.2,189.4 188.1,189.3 186.9,190 185.7,190.8 184.5,190.9 183.3,190.4 182.1,190.2 180.9,189.9 179.8,189.5 178.6,189.9 177.4,190 176.2,190.1 175,190.5 173.8,190.4 172.6,190.3 171.4,190.2 170.2,190 169.1,190.3 167.9,190.5 166.7,190 165.5,190 164.3,190.7 163.1,190.7 161.9,190.2 160.8,190 159.6,190 158.4,190.3 157.2,190.4 156,190.2 156,189.4 156,188.5 156,187 156,185.7 156,184.4 156,182.9 156,181.8 156,181.1 156,179.9 156,178.5 156,177.4 156,176.4 156,175.1 156,173.7 156,172.6 156,171.3 156,170.2 156,169.5 156,168.3 156,166.6 156,165.2 156,163.8 156,162.5 156,161.6 156,160.6 156,159 156,157.8 156,157 156,156 156,155 156,153.5 156,152.1 156,150.6 156,149.3 156,148.8 156,148.1 156,146.9 156,145.5 156,144.3 156,143 156,141.6 156,140.3 156,139.1 156,138 156,137 156,135.6 156,134.2 156,133.3 156,132 156,130.4 156,129.2 156,128.4 156,127.6 156,126.7 156,125.4 156,123.9 156,122.2 156,121 156,120.1 156,119.1 156,118" fill="url(#pag10)"/>
<g clip-path="url(#pac10)" stroke="#1c3010" stroke-opacity="0.5" stroke-width="0.65" stroke-dasharray="2.2 1.6"><line x1="154" y1="118.6" x2="233" y2="118.6"/><line x1="154" y1="141" x2="233" y2="141"/><line x1="154" y1="161" x2="233" y2="161"/><line x1="154" y1="180" x2="233" y2="180"/></g>
<polygon points="168,144 169.7,143.8 171.4,143.3 173.1,143.2 174.9,142.8 176.6,142.3 178.3,141.9 180,141.6 181.8,141.7 183.5,141.7 185.2,141.7 187,141.4 188.8,141 190.5,141 192.2,141.3 194,141.4 195.8,141.5 197.5,141.4 199.2,141.3 201,141.5 202.8,141.7 204.5,141.6 206.2,141.6 208,141.7 209.7,142.2 211.4,142.5 213.1,142.9 214.9,143.2 216.6,143.4 218.3,143.7 220,144 220,144 220,145 220,146.6 220,148.4 219.9,150 219.9,151.3 219.9,153 219.9,154.7 219.9,155.9 219.9,157.2 219.9,159 219.9,160.8 219.8,162.4 219.8,163.8 219.8,165.1 219.8,166.2 219.8,167.4 219.8,168.7 219.8,170.3 219.8,172 219.7,173.6 219.7,175 219.7,176.7 219.7,178.1 219.7,179.4 219.7,181.1 219.7,182.9 219.7,184.2 219.6,185.3 219.6,186.9 219.6,188.7 219.6,190.2 219.5,191.6 219.4,192.8 219.3,193.8 219.2,195.3 219.1,196.7 219,197.7 218.8,199.2 218.5,200.7 218.3,202.2 218.1,203.4 217.8,204.7 217.6,206.3 217.4,207.9 217.1,209.2 216.9,210.5 216.7,211.9 216.4,213.3 216.2,214.4 216,215.6 215.8,216.9 215.6,218.2 215.4,219.4 215.2,220.4 215,221.8 214.8,223.3 214.5,224.3 214.3,225.9 214,227.7 213.8,228.9 213.6,230.1 213.3,231.4 213.1,232.5 212.8,233.6 212.6,234.8 212.3,236 212,237.3 211.6,238.7 211.3,240.1 211,241.3 210.5,242.8 210,244.1 209.5,245.4 209,246.6 208.3,247.7 207.7,248.8 207,249.9 206.3,250.9 205.4,252 204.4,252.9 203.4,253.7 202.5,254.2 201.5,254.6 200.5,255.5 199.5,255.9 198.7,256.1 197.8,256.7 197.7,258.1 197.5,259.5 197.3,260.8 197.2,262.2 196.3,262.2 195.4,262.1 195.3,260.9 195.2,259.5 195,258.1 194.9,257 194.1,256.6 193.2,256 192.2,255.4 191.3,254.9 190.3,254.6 189.4,253.7 188.6,252.8 187.7,252 186.8,251.3 186.2,250.2 185.5,249.1 184.8,247.8 184.2,246.8 183.6,245.6 183.1,244 182.6,242.4 182,241 181.7,239.8 181.4,238.5 181,237.1 180.7,235.8 180.4,234.6 180.1,233.4 179.8,232.3 179.4,231.3 179.1,230.2 178.8,228.9 178.4,227.4 178.1,226.1 177.7,224.7 177.4,223.2 177,221.8 176.7,220.4 176.3,219.1 176,217.9 175.7,216.7 175.3,215.2 175,213.9 174.7,212.8 174.3,211.6 174,210.2 173.7,208.7 173.3,207.5 173,206.3 172.7,205 172.4,203.6 172.2,202 171.9,200.6 171.6,199.3 171.3,198.2 171.1,197 171,195.4 170.8,194.1 170.6,193 170.5,191.4 170.3,189.9 170.2,188.4 170.2,186.9 170.1,185.7 170.1,184.3 170,182.7 170,181.1 169.9,179.4 169.8,177.8 169.8,176.4 169.7,174.9 169.7,173.4 169.6,172.3 169.5,170.8 169.5,169.3 169.4,168 169.4,166.7 169.3,165 169.3,163.3 169.2,161.8 169.1,160.2 169.1,158.7 169,157.5 169,156 168.9,154.3 168.8,152.7 168.8,151.2 168.7,149.7 168.7,148.1 168.6,146.7 168.6,145.5 168.5,144" fill="url(#pag11)"/>
<g clip-path="url(#pac11)" stroke="#1c3010" stroke-opacity="0.5" stroke-width="0.65" stroke-dasharray="2.2 1.6"><line x1="166" y1="141" x2="222" y2="141"/><line x1="166" y1="164" x2="222" y2="164"/><line x1="166" y1="186.5" x2="222" y2="186.5"/><line x1="166" y1="209.2" x2="222" y2="209.2"/></g>
<path d="M192.1,116 C193.4,73 193.9,38 194.2,30 C194.5,38 195,73 196.3,116 Z" fill="#d41616"/><path d="M50.7,208.1 L196.3,262.1 L312.7,200.6" fill="none" stroke="#111" stroke-width="1.4"/>
<line x1="183.5" y1="257.1" x2="185.7" y2="255.9" stroke="#111" stroke-width="1"/>
<line x1="168.3" y1="251.4" x2="169.8" y2="250.6" stroke="#111" stroke-width="1"/>
<line x1="153.6" y1="245.9" x2="155.8" y2="244.8" stroke="#111" stroke-width="1"/>
<line x1="139.3" y1="240.5" x2="140.9" y2="239.8" stroke="#111" stroke-width="1"/>
<line x1="125.4" y1="235.3" x2="127.7" y2="234.3" stroke="#111" stroke-width="1"/>
<line x1="112" y1="230.3" x2="113.5" y2="229.6" stroke="#111" stroke-width="1"/>
<line x1="98.9" y1="225.4" x2="101.1" y2="224.4" stroke="#111" stroke-width="1"/>
<line x1="86.1" y1="220.6" x2="87.7" y2="220" stroke="#111" stroke-width="1"/>
<line x1="73.7" y1="215.9" x2="76" y2="215" stroke="#111" stroke-width="1"/>
<line x1="61.7" y1="211.4" x2="63.2" y2="210.8" stroke="#111" stroke-width="1"/>
<line x1="207.3" y1="256.3" x2="204.6" y2="255.3" stroke="#111" stroke-width="1"/>
<line x1="219.6" y1="249.8" x2="217.7" y2="249.2" stroke="#111" stroke-width="1"/>
<line x1="231.5" y1="243.5" x2="228.8" y2="242.6" stroke="#111" stroke-width="1"/>
<line x1="243" y1="237.5" x2="241.1" y2="236.9" stroke="#111" stroke-width="1"/>
<line x1="254.1" y1="231.6" x2="251.4" y2="230.7" stroke="#111" stroke-width="1"/>
<line x1="264.8" y1="225.9" x2="263" y2="225.3" stroke="#111" stroke-width="1"/>
<line x1="275.3" y1="220.4" x2="272.7" y2="219.6" stroke="#111" stroke-width="1"/>
<line x1="285.3" y1="215.1" x2="283.6" y2="214.5" stroke="#111" stroke-width="1"/>
<line x1="295.1" y1="209.9" x2="292.6" y2="209.2" stroke="#111" stroke-width="1"/>
<line x1="304.6" y1="204.9" x2="302.9" y2="204.4" stroke="#111" stroke-width="1"/><g font-family="Liberation Serif" font-size="10" fill="#222"><text transform="matrix(1.14,-0.37,0.9,0.33,70.4,222)" text-anchor="middle" dy="-3.3" dx="0">10</text><text transform="matrix(1.14,-0.37,0.9,0.33,98.4,230.5)" text-anchor="middle" dy="-3.3" dx="0">8</text><text transform="matrix(1.14,-0.37,0.9,0.33,125,240.5)" text-anchor="middle" dy="-3.3" dx="0">6</text><text transform="matrix(1.14,-0.37,0.9,0.33,152,251.2)" text-anchor="middle" dy="-3.3" dx="0">4</text><text transform="matrix(1.14,-0.37,0.9,0.33,182.6,262.1)" text-anchor="middle" dy="-3.3" dx="0">2</text><text transform="matrix(1.29,0.2,-0.62,0.32,212.6,261.1)" text-anchor="middle" dy="-3.3">2</text><text transform="matrix(1.29,0.2,-0.62,0.32,236,247.7)" text-anchor="middle" dy="-3.3">4</text><text transform="matrix(1.29,0.2,-0.62,0.32,257.6,236)" text-anchor="middle" dy="-3.3">6</text><text transform="matrix(1.29,0.2,-0.62,0.32,278.5,224.1)" text-anchor="middle" dy="-3.3">8</text><text transform="matrix(1.29,0.2,-0.62,0.32,301.1,215.4)" text-anchor="middle" dy="-3.3">10</text><text transform="matrix(1.14,-0.37,0.9,0.33,100.6,246.2)" text-anchor="middle" dy="-3.5" font-style="italic" font-size="12">k<tspan font-size="8" dy="2">x</tspan></text><text transform="matrix(1.29,0.2,-0.62,0.32,287,240)" text-anchor="middle" dy="-3.5" font-style="italic" font-size="12">k<tspan font-size="8" dy="2">y</tspan></text></g>
</g>
<g clip-path="url(#clipB)"><g transform="translate(336,0)"><g id="pb">
<line x1="62.4" y1="203.4" x2="55.4" y2="19.4" stroke="#e0e0e0" stroke-width="0.6" stroke-dasharray="1.5 1.5"/>
<line x1="87.6" y1="193.9" x2="82.3" y2="15" stroke="#e0e0e0" stroke-width="0.6" stroke-dasharray="1.5 1.5"/>
<line x1="111.3" y1="185" x2="107.6" y2="10.9" stroke="#e0e0e0" stroke-width="0.6" stroke-dasharray="1.5 1.5"/>
<line x1="133.7" y1="176.5" x2="131.4" y2="7.1" stroke="#e0e0e0" stroke-width="0.6" stroke-dasharray="1.5 1.5"/>
<line x1="154.9" y1="168.5" x2="153.8" y2="3.5" stroke="#e0e0e0" stroke-width="0.6" stroke-dasharray="1.5 1.5"/>
<line x1="50.4" y1="182.4" x2="173.7" y2="139.4" stroke="#e0e0e0" stroke-width="0.6" stroke-dasharray="1.5 1.5"/>
<line x1="49.3" y1="156.7" x2="173.7" y2="117.1" stroke="#e0e0e0" stroke-width="0.6" stroke-dasharray="1.5 1.5"/>
<line x1="48.2" y1="130.6" x2="173.7" y2="94.4" stroke="#e0e0e0" stroke-width="0.6" stroke-dasharray="1.5 1.5"/>
<line x1="47" y1="104" x2="173.7" y2="71.4" stroke="#e0e0e0" stroke-width="0.6" stroke-dasharray="1.5 1.5"/>
<line x1="45.9" y1="76.9" x2="173.7" y2="48.1" stroke="#e0e0e0" stroke-width="0.6" stroke-dasharray="1.5 1.5"/>
<line x1="44.7" y1="49.3" x2="173.7" y2="24.4" stroke="#e0e0e0" stroke-width="0.6" stroke-dasharray="1.5 1.5"/>
<line x1="300.4" y1="197.2" x2="308.1" y2="16.6" stroke="#e0e0e0" stroke-width="0.6" stroke-dasharray="1.5 1.5"/>
<line x1="272.2" y1="189.2" x2="278" y2="12.9" stroke="#e0e0e0" stroke-width="0.6" stroke-dasharray="1.5 1.5"/>
<line x1="245.4" y1="181.7" x2="249.5" y2="9.5" stroke="#e0e0e0" stroke-width="0.6" stroke-dasharray="1.5 1.5"/>
<line x1="219.8" y1="174.5" x2="222.4" y2="6.2" stroke="#e0e0e0" stroke-width="0.6" stroke-dasharray="1.5 1.5"/>
<line x1="195.5" y1="167.6" x2="196.7" y2="3.1" stroke="#e0e0e0" stroke-width="0.6" stroke-dasharray="1.5 1.5"/>
<line x1="313.8" y1="175.9" x2="173.7" y2="139.4" stroke="#e0e0e0" stroke-width="0.6" stroke-dasharray="1.5 1.5"/>
<line x1="315" y1="150.7" x2="173.7" y2="117.1" stroke="#e0e0e0" stroke-width="0.6" stroke-dasharray="1.5 1.5"/>
<line x1="316.2" y1="125.1" x2="173.7" y2="94.4" stroke="#e0e0e0" stroke-width="0.6" stroke-dasharray="1.5 1.5"/>
<line x1="317.4" y1="99.1" x2="173.7" y2="71.4" stroke="#e0e0e0" stroke-width="0.6" stroke-dasharray="1.5 1.5"/>
<line x1="318.7" y1="72.6" x2="173.7" y2="48.1" stroke="#e0e0e0" stroke-width="0.6" stroke-dasharray="1.5 1.5"/>
<line x1="319.9" y1="45.6" x2="173.7" y2="24.4" stroke="#e0e0e0" stroke-width="0.6" stroke-dasharray="1.5 1.5"/>
<line x1="183.5" y1="257.1" x2="300.4" y2="197.2" stroke="#e0e0e0" stroke-width="0.6" stroke-dasharray="1.5 1.5"/>
<line x1="153.6" y1="245.9" x2="272.2" y2="189.2" stroke="#e0e0e0" stroke-width="0.6" stroke-dasharray="1.5 1.5"/>
<line x1="125.4" y1="235.3" x2="245.4" y2="181.7" stroke="#e0e0e0" stroke-width="0.6" stroke-dasharray="1.5 1.5"/>
<line x1="98.9" y1="225.4" x2="219.8" y2="174.5" stroke="#e0e0e0" stroke-width="0.6" stroke-dasharray="1.5 1.5"/>
<line x1="73.7" y1="215.9" x2="195.5" y2="167.6" stroke="#e0e0e0" stroke-width="0.6" stroke-dasharray="1.5 1.5"/>
<line x1="207.3" y1="256.3" x2="62.4" y2="203.4" stroke="#e0e0e0" stroke-width="0.6" stroke-dasharray="1.5 1.5"/>
<line x1="231.5" y1="243.5" x2="87.6" y2="193.9" stroke="#e0e0e0" stroke-width="0.6" stroke-dasharray="1.5 1.5"/>
<line x1="254.1" y1="231.6" x2="111.3" y2="185" stroke="#e0e0e0" stroke-width="0.6" stroke-dasharray="1.5 1.5"/>
<line x1="275.3" y1="220.4" x2="133.7" y2="176.5" stroke="#e0e0e0" stroke-width="0.6" stroke-dasharray="1.5 1.5"/>
<line x1="295.1" y1="209.9" x2="154.9" y2="168.5" stroke="#e0e0e0" stroke-width="0.6" stroke-dasharray="1.5 1.5"/>
<line x1="173.8" y1="161.4" x2="173.7" y2="0.3" stroke="#8a8a8a" stroke-width="1.1"/>
<line x1="312.6" y1="200.7" x2="321.2" y2="18.2" stroke="#444" stroke-width="1.1" stroke-dasharray="3 2"/>
<line x1="43.6" y1="21.3" x2="173.7" y2="0.3" stroke="#555" stroke-width="0.9" stroke-dasharray="3.2 1.8"/>
<line x1="173.7" y1="0.3" x2="321.2" y2="18.2" stroke="#555" stroke-width="0.9" stroke-dasharray="3.2 1.8"/>
<line x1="51.4" y1="207.6" x2="173.8" y2="161.4" stroke="#555" stroke-width="0.9"/>
<line x1="173.8" y1="161.4" x2="312.6" y2="200.7" stroke="#444" stroke-width="0.9" stroke-dasharray="2 1.5"/>
<polygon points="44.5,130 45.3,127.8 46.1,128.6 46.9,128.5 47.7,127.4 48.5,127.2 49.5,127.9 50.5,127.6 51.6,126.8 52.6,125.9 51.7,125.9 52.6,124.2 53.5,125.9 53.6,125.2 54.6,124.7 55.7,123.7 56.7,123.5 55.8,123.5 56.7,120.5 57.5,123.5 57.7,123.1 58.7,122.5 59.7,123.5 59.4,123.5 60,121 60.6,123.5 60.8,124.4 61.8,123 62.8,121.9 63.8,122.4 64.8,123 65.9,122.5 66.9,121.4 67.9,120.7 68.9,121.3 68.2,121.3 68.9,118.3 69.7,121.3 70,122 71,122.4 72,122.3 71.1,122.3 72,119.7 72.9,122.3 73.1,120.8 74.2,118.7 73.4,118.7 74.2,117.2 75,118.7 75.3,118 76.3,118.6 77.4,119.2 76.9,119.2 77.4,117.2 78,119.2 78.5,119.5 79.6,120 80.7,119.9 81.8,119.6 82.9,119.6 83.9,118.6 82.8,118.6 83.5,114.6 84.2,118.6 85,118.4 86.1,120 87.2,120.5 88.3,119.2 89.4,117.1 90.5,115.5 89.9,115.5 90.5,114.3 91,115.5 91.5,115.3 92.6,116.3 93.7,117.6 94.8,118.3 94,118.3 94.8,115.5 95.6,118.3 95.9,118.8 95.4,118.8 95.9,117.9 96.4,118.8 97,118.7 96.3,118.7 97,116.4 97.6,118.7 98.1,117.6 99.1,116.5 100.2,115.8 101.3,115.1 100.6,115.1 101.3,112.7 102,115.1 102.4,115 103.5,115.6 104.6,115.6 105.7,114.7 106.7,114.5 107.8,115.3 107,115.3 107.8,112.9 108.7,115.3 107.4,115.3 108,112.3 108.6,115.3 108.9,115.8 110,115.1 111,114.2 112.1,113.5 113.1,113.1 114.1,112.9 115.2,112.5 116.2,112.4 117.2,113 118.3,112.9 117.4,112.9 118.3,111.2 119.2,112.9 119.3,112.1 120.3,112.1 121.4,111.4 120.7,111.4 121.4,108.8 122.1,111.4 122.4,109.8 123.4,108.2 124.5,108.2 123.5,108.2 124,105.7 124.5,108.2 125.5,109.4 126.6,109.6 127.6,109.7 126.8,109.7 127.6,107.2 128.4,109.7 128.6,109.6 129.7,109.6 130.7,109.6 131.7,107.6 132.8,105.1 132.3,105.1 132.8,102.1 133.2,105.1 133.8,105.7 133.4,105.7 133.8,103 134.2,105.7 134.8,108.2 135.9,108.9 136.9,107.3 137.9,105.6 139,105.3 140,105.3 139.2,105.3 140,102.3 140.8,105.3 141,104.2 142.1,104 143.1,104.9 142.7,104.9 143.1,102.5 143.6,104.9 144.2,105 143.5,105 144.2,103.3 144.8,105 145.2,104.9 144.5,104.9 145.2,103.2 145.9,104.9 146.2,104.7 147.3,103.3 148.3,102.5 149.4,103 150.4,103.2 151.4,103.6 152.5,103.9 153.5,103.1 152.9,103.1 153.5,100 154.2,103.1 154.6,102.4 155.6,102 156.6,101.7 156.2,101.7 156.6,100.6 157,101.7 157.7,101.2 157,101.2 157.7,100.4 158.4,101.2 158.7,101.5 159.8,101.9 160.8,101.7 161.8,101.4 162.9,100.2 163.9,99.8 165,99.5 166,99.5 166,140 164.8,141.6 163.7,141 162.5,139.9 161.3,140.2 160.1,140.9 159,141.3 157.8,141 156.6,140.9 155.4,142.2 154.3,142.4 153.1,141.1 151.9,140.9 150.7,141.2 149.6,141.7 148.4,142.2 147.2,141.9 146,141.8 144.9,142.9 143.7,143.3 142.5,142.9 141.3,142.5 140.2,142.5 139,143.8 137.8,144.8 136.7,144.2 135.5,143.1 134.3,142.5 133.1,142.5 132,142.9 130.8,144.3 129.6,145.6 128.4,145.5 127.3,145 126.1,144.6 124.9,144.5 123.7,144.8 122.6,145.1 121.4,144.4 120.2,143.8 119,144.8 117.9,145.5 116.7,145.4 115.5,145.9 114.3,145.7 113.2,145.2 112,145.8 110.8,145.6 109.6,145.1 108.4,145.2 107.3,145 106.1,144.7 104.9,144.5 103.7,144.2 102.5,144.1 101.3,144 100.1,143.8 99,144 97.8,144.8 96.6,144.9 95.4,145.1 94.2,145.5 93,145 91.9,144 90.7,143.6 89.5,144.1 88.3,144.5 87.1,144.3 85.9,143.6 84.7,142.7 83.6,142.3 82.4,142.5 81.2,142.3 80,142.4 78.9,143.3 77.7,143.4 76.6,143.5 75.4,143.4 74.3,143 73.1,143.9 72,145.1 70.8,144.9 69.7,144.3 68.5,145 67.3,145.2 66.2,144.5 65,144.4 63.8,145.3 62.7,146.1 61.5,145.5 60.3,144.8 59.2,145.1 58,145.5 57.2,144.2 56.5,143 55.8,141.9 55,140.6 54.2,139.9 53.3,139.2 52.5,138.6 51.7,138.2 50.8,137.1 50,135.9 49.6,135.4 49.2,134.7 48.9,133.1 48.5,132.2 47.5,132.6 46.5,132.4 45.5,131.5 44.5,131" fill="url(#pbg0)"/>
<g clip-path="url(#pbc0)" stroke="#1c3010" stroke-opacity="0.5" stroke-width="0.65" stroke-dasharray="2.2 1.6"><line x1="42.5" y1="134.9" x2="168" y2="111.1"/><line x1="42.5" y1="146.4" x2="168" y2="122.6"/></g>
<polygon points="160,101 161,101.1 160.5,101.1 161,98.6 161.5,101.1 162,100.2 161.3,100.2 162,98.7 162.8,100.2 163.1,99.9 164.1,100.2 165.1,100.3 164.2,100.3 165,96.3 165.8,100.3 166.1,99.5 165.5,99.5 166.1,97.7 166.7,99.5 167.2,98.4 168.2,97.6 169.2,97.4 168.6,97.4 169.2,96.4 169.8,97.4 170.2,97.2 169.7,97.2 170.2,95.7 170.8,97.2 171.2,96.4 172.3,95.5 171.4,95.5 172.3,93.7 173.1,95.5 173.3,95.3 172.4,95.3 173.3,93.6 174.2,95.3 174.3,94.9 175.3,95.8 174.7,95.8 175.3,94.2 175.9,95.8 176.2,97.2 177.2,97.5 178.1,97.5 179.1,97.7 178.3,97.7 179.1,96.2 179.8,97.7 180,98.1 181,98.7 182,99 183,98.8 184,98.9 185,99.3 186,99.2 187,100 188,100.6 189,99.6 190,99.3 191,101.3 192,103 191.3,103 192,100.1 192.7,103 193,102 194,100.5 195,101.1 196,102.7 197,102.9 198,102 199,102.2 200,102.8 199.2,102.8 200,99.8 200.8,102.8 201.1,102.4 202.1,101.7 203.2,101.3 202.3,101.3 203.2,98.3 204.1,101.3 204.2,101.8 205.3,102.6 204.7,102.6 205.3,101.6 205.9,102.6 206.3,102.7 205.5,102.7 206.3,100.8 207.1,102.7 207.4,103.4 208.4,103.5 209.5,102.3 210.6,102.4 211.6,103.3 211.4,103.3 212,100.8 212.6,103.3 212.7,103.2 213.7,102.4 214.8,102.4 214.2,102.4 214.8,100.4 215.4,102.4 215.8,102.3 215.2,102.3 215.8,100.4 216.5,102.3 216.9,101.6 217.9,101.6 219,101.8 219.8,102.7 219.3,102.7 219.8,100.9 220.2,102.7 220.6,103.7 221.3,104.4 220.5,104.4 221.3,103 222.2,104.4 222.1,105 222.9,105.1 222.1,105.1 222.9,102.2 223.7,105.1 223.7,105.3 224.4,106.8 223.8,106.8 224.4,105.1 225.1,106.8 225.2,107.9 226,107.3 227,107.4 226.4,107.4 227,106.5 227.6,107.4 228,108.3 229,108.9 230,109.2 231,109.8 232,110.5 233,110.7 234,110.9 233.4,110.9 234,108.8 234.6,110.9 235,111.1 236,112 236,140 160,140" fill="url(#pbg1)"/>
<g clip-path="url(#pbc1)" stroke="#1c3010" stroke-opacity="0.5" stroke-width="0.65" stroke-dasharray="2.2 1.6"><line x1="158" y1="118" x2="238" y2="118"/></g>
<polygon points="230,110.5 231,110.5 232,110.7 231.4,110.7 232,107.7 232.6,110.7 233,111.1 234,111.4 235,111 236,110.9 237.1,110.9 238.1,111 237.5,111 238.1,108.6 238.7,111 239.2,111.7 240.2,111.3 241.3,110.9 242.4,112.1 243.4,112.8 242.8,112.8 243.4,110.2 244,112.8 244.5,113.2 245.5,114 246.6,113.5 245.9,113.5 246.6,112.5 247.2,113.5 247.6,113 248.7,113.3 249.8,112.9 250.8,112.3 251.9,112.7 252.9,113.9 254,114.8 255.1,114.5 256.1,113.3 257.2,112.2 258.3,112.8 259.3,114.3 260.4,115.7 261.5,115.7 261.4,115.7 262,113.2 262.6,115.7 262.5,114.9 263.6,114.5 264.7,114 265.7,113.7 266.8,113.9 267.9,114.2 268.9,114.8 270,115 271.1,115.1 272.2,115.1 273.2,114.6 274.3,114.8 273.8,114.8 274.3,111.7 274.8,114.8 275.4,114.8 276.5,114.4 277.5,115.6 278.6,117.1 277.9,117.1 278.6,115.3 279.3,117.1 279.7,117.3 280.8,116.8 281.8,116.8 282.9,116.4 284,115.7 285,115.8 284.4,115.8 285,112.8 285.6,115.8 286,116.1 287,117.1 288,118.1 289,117.3 288.5,117.3 289,115.5 289.5,117.3 290,117 291,118.4 292,119.3 293,119 294,118.4 295,119.1 296,120.3 297,119.7 298,119 299.1,119.6 300.1,119.9 301.2,119.1 302.3,119.1 303.3,120.5 304.4,122.3 305.5,122.3 306.5,121.4 307.6,121.1 308.7,120.9 309.7,120.9 310.8,121.9 311.9,122.8 311.4,122.8 311.9,121.2 312.3,122.8 312.9,122.2 314,121.8 314.5,123.3 315,124.7 315.5,124 315.5,124 315.3,125.2 315.2,125.8 315,126.9 314.3,127.5 313.7,128.5 313,129.3 312,129.2 311,129.2 310,130 309.3,131.1 308.7,131.7 308,132.6 307.3,133.9 306.7,134.5 306,135.1 305.4,136.7 304.9,137.7 304.3,138.6 303.7,139.7 303.1,140.8 302.6,141.1 302,141.7 300.8,142.2 299.7,142.4 298.5,142 297.3,142.1 296.2,141.8 295,141 294,141.2 293,141.1 292,140 291.7,140.9 291.4,142.3 291.1,143.6 290.9,144.6 290.6,146.2 290.3,147.3 290,147.6 289.4,148.6 288.8,149.6 288.2,150.3 287.6,151.3 287,151.7 286,151.2 285,151.4 284,151.7 283,151.4 282,151.8 280.8,153.3 279.7,153.9 278.5,153.5 277.3,152.6 276.2,151.9 275,152.5 273.9,153.1 272.7,152.8 271.6,152.7 270.4,153.5 269.3,154.1 268.1,153.7 267,153 265.8,153 264.7,153.4 263.5,153.2 262.3,152.5 261.1,152.2 260,152 258.8,152.6 257.6,153.1 256.4,152.6 255.3,151.9 254.1,151.6 252.9,151.2 251.7,151.2 250.6,151.6 249.4,151.4 248.2,151.2 247,151.5 245.9,151.7 244.7,151.5 243.5,150.6 242.3,149.6 241.2,149.2 240,149.2 239,148.7 238,148.7 237,148.8 236,148.2 235,147.3 234,146.4 233,145.6 232,145.5 231,145.7 230,145" fill="url(#pbg2)"/>
<g clip-path="url(#pbc2)" stroke="#1c3010" stroke-opacity="0.5" stroke-width="0.65" stroke-dasharray="2.2 1.6"><line x1="228" y1="117.3" x2="317.5" y2="129.2"/><line x1="228" y1="129.1" x2="317.5" y2="141"/><line x1="228" y1="140.1" x2="317.5" y2="152"/></g>
<rect x="90" y="85" width="180" height="60" fill="url(#pbtint)" clip-path="url(#pbtintclp)"/>
<polygon points="80,131 81.5,131.1 82.9,130.9 84.4,130.3 85.8,129.9 87.3,129.7 88.8,129.4 90.2,129.3 91.7,129.1 93.2,128.7 94.6,128.1 96.1,127.5 97.5,127.4 99,127.1 100.5,126.7 101.9,126.3 103.4,125.9 104.8,125.4 106.3,125.1 107.8,124.9 109.2,124.7 110.7,124.6 112.2,124.6 113.6,124.2 115.1,123.7 116.5,123.7 118,123.6 119.5,123.1 120.9,122.7 122.4,122.3 123.8,122 125.3,122 126.8,121.7 128.2,121.3 129.7,120.9 131.2,120.8 132.6,120.6 134.1,120 135.5,119.4 137,119.4 138.5,119.5 139.9,119.1 141.4,118.4 142.8,118.1 144.3,118.2 145.8,117.7 147.2,117.3 148.7,117 150.2,116.6 151.6,116.3 153.1,115.9 154.5,115.6 156,115.4 157.5,115.5 158.9,115.4 160.4,114.9 161.8,114.6 163.3,114.2 164.8,113.6 166.2,113.2 167.7,113 169.2,112.8 170.6,112.7 172.1,112.4 173.5,112 175,111.9 176.5,111.6 177.9,111.2 179.4,110.9 180.8,110.7 182.3,110.7 183.8,110.5 185.2,110 186.7,109.9 188.2,109.7 189.6,109.2 191.1,108.7 192.5,108.5 194,108 194,150 192.8,150.5 191.6,150.3 190.4,150.3 189.2,150.1 188.1,149.8 186.9,150.1 185.7,150.1 184.5,149.6 183.3,149 182.1,148.8 180.9,149.5 179.7,150.3 178.6,150.5 177.4,150.4 176.2,150.1 175,150 173.8,149.7 172.6,149.4 171.4,149.6 170.2,149.9 169,150.2 167.9,150.1 166.7,150 165.5,150.5 164.3,150.5 163.1,150.1 161.9,149.9 160.7,150.3 159.5,150.3 158.3,149.5 157.2,149.9 156,151.1 154.8,150.7 153.6,149.5 152.4,148.9 151.2,149.2 150,149.7 148.8,149.5 147.7,149.6 146.5,149.9 145.3,150.3 144.1,150.2 142.9,149.3 141.7,149.2 140.5,150 139.3,150 138.1,149.2 137,148.9 135.8,149.2 134.6,149.9 133.4,150.5 132.2,150.8 131,150.3 129.8,150.1 128.6,150.8 127.4,150.7 126.3,150 125.1,150.1 123.9,150.3 122.7,149.9 121.5,149.7 120.3,150.3 119.1,150.3 117.9,149.9 116.8,149.6 115.6,149 114.4,149 113.2,150.1 112,150.2 111.3,150.5 110.7,151.7 110,152.7 109,152.4 108,152.4 107,152.5 106,153.2 105,154.8 104,154.7 103,154 102,154.6 101,155.1 100,155 99,155.4 98,155.8 97,155.3 96,155.6 95,156.7 94,156.7 93,156.7 92,156.7 91,155.8 90,156 89,156.8 88,156.8 87,156.2 86,155.5 85,155 84,154.7 83,154.8 82.7,154.5 82.4,153.8 82.1,152.9 81.9,151.4 81.6,149.4 81.3,148.2 81,147.9 80.9,147.4 80.7,146.2 80.6,144.8 80.4,143.5 80.3,141.7 80.1,140.6 80,140" fill="url(#pbg3)"/>
<g clip-path="url(#pbc3)" stroke="#1c3010" stroke-opacity="0.5" stroke-width="0.65" stroke-dasharray="2.2 1.6"><line x1="78" y1="147.9" x2="196" y2="118.4"/></g>
<polygon points="110,128 111.4,127.3 112.9,127.4 114.3,127.3 115.8,126.7 117.2,126.4 118.7,126.2 120.1,126 121.6,125.5 123,125.2 124.5,125.3 125.9,125 127.4,124.1 128.8,123.4 130.3,123.2 131.7,123.3 133.2,123 134.6,122.6 136.1,122.6 137.5,122.3 139,121.7 140.4,121.4 141.9,121.1 143.3,120.8 144.8,120.6 146.2,120.3 147.7,120 149.1,119.8 150.6,119.4 152,118.8 153.4,118.4 154.9,118.2 156.3,118 157.8,117.7 159.2,117.3 160.7,117.4 162.1,117.3 163.6,116.7 165,116 166.5,115.8 167.9,115.7 169.4,115.5 170.8,115.1 172.3,114.5 173.7,114.3 175.2,114.4 176.6,114.4 178.1,113.8 179.5,113.2 181,113.1 182.4,112.9 183.9,112.1 185.3,111.3 186.8,111.1 188.2,110.9 189.7,110.5 191.1,110.1 192.6,110.2 194,110 194,160 192.8,161.3 191.6,161 190.5,160.6 189.3,160.9 188.1,161 186.9,160.3 185.7,160.8 184.6,162.1 183.4,162.7 182.2,162.3 181,162 179.8,162.1 178.7,163 177.5,164 176.3,163.4 175.1,162 173.9,161.6 172.8,161.9 171.6,162.2 170.4,163 169.2,164.2 168,164.8 166.9,165 165.7,164.6 164.5,164.2 163.3,164.4 162.1,164.7 161,165.1 159.8,165 158.6,164.5 157.4,164.5 156.2,165.4 155,166.1 153.9,165.9 152.7,165.7 151.5,166.1 150.3,165.8 149.1,165.4 148,165.7 146.8,166.2 145.6,167.1 144.4,167.1 143.2,166.6 142.1,166.8 140.9,167.2 139.7,167.2 138.5,167.7 137.3,168.5 136.2,168.2 135,167.4 133.8,167.5 132.6,168.5 131.4,169.2 130.3,169.1 129.1,169.2 127.9,169.5 126.7,169 125.5,168.8 124.4,169.4 123.2,170 122,171 121,171.5 120,171.2 119,171.1 118,170.7 117,169.3 116,168.4 115,168.1 114,167.7 113,167.4 112.7,166.7 112.4,165.8 112.1,164.4 111.9,162.5 111.6,161.9 111.3,162.3 111,161.1 110.9,159.4 110.7,157.8 110.6,155.9 110.4,154.8 110.3,153.9 110.1,152.5 110,152" fill="url(#pbg4)"/>
<g clip-path="url(#pbc4)" stroke="#1c3010" stroke-opacity="0.5" stroke-width="0.65" stroke-dasharray="2.2 1.6"><line x1="108" y1="156.4" x2="196" y2="137"/></g>
<polygon points="194,108 195.5,108.1 196.9,108.4 198.4,108.7 199.9,109.3 201.3,110 202.8,110.1 204.2,110.1 205.7,110.1 207.2,110.4 208.6,110.8 210.1,110.9 211.6,111.2 213,111.6 214.5,112 215.9,112.2 217.4,112.5 218.9,112.7 220.3,112.7 221.8,112.8 223.3,113.3 224.7,113.7 226.2,114.1 227.6,114.5 229.1,114.8 230.6,115.2 232,115.6 233.5,116 235,116.2 236.4,116.2 237.9,116.6 239.3,117 240.8,117.3 242.3,117.8 243.7,118 245.2,117.8 246.7,117.8 248.1,118.4 249.6,119 251,119.1 252.5,119.2 254,119.6 255.4,120.1 256.9,120.3 258.4,120.3 259.8,120.7 261.3,120.9 262.7,121.1 264.2,121.6 265.7,121.9 267.1,122 268.6,122.3 270.1,122.6 271.5,123 273,123.4 274.4,124 275.9,124.2 277.4,124.1 278.8,124.3 280.3,124.6 281.8,125.1 283.2,125.3 284.7,125.3 286.1,125.8 287.6,126.4 289.1,126.7 290.5,126.7 292,127 292,139 291.8,140.1 291.5,141.2 291.2,142.1 291,143.6 290.8,145.3 290.5,145.9 290.2,146.6 290,148.4 289.4,149.9 288.8,150 288.2,149.9 287.6,150.5 287,151.2 286,151.3 285,151.4 284,151.5 283,151.6 282,151.3 280.8,152 279.7,152.9 278.5,153.4 277.3,153.8 276.2,153.7 275,153.4 273.9,153.5 272.7,153.2 271.6,152.3 270.4,152.3 269.3,152.9 268.1,153 267,152.7 265.8,152.8 264.6,152.9 263.4,152.5 262.2,152.8 261,153 259.8,152.6 258.6,152.3 257.4,152.9 256.2,153.3 255,152.8 253.8,152.2 252.6,151.4 251.4,151.4 250.2,152.3 249,152.7 247.9,152.4 246.7,151.9 245.5,151.2 244.3,151.4 243.1,152.2 241.9,152.2 240.7,151.6 239.5,151.5 238.3,152.7 237.1,152.9 235.9,152.1 234.7,151.6 233.5,151.4 232.3,151.7 231.1,151.7 229.9,150.9 228.7,150.1 227.5,150.1 226.3,150.6 225.1,151.2 223.9,151.6 222.7,152 221.5,151.6 220.3,151.2 219.1,151.9 217.9,152 216.7,150.9 215.5,150.2 214.3,150.9 213.1,151.5 212,151 210.8,150.1 209.6,149.4 208.4,149.1 207.2,149.1 206,149.9 204.8,151.1 203.6,151.3 202.4,150.4 201.2,150.2 200,150.7 198.8,150.8 197.6,150.7 196.4,150.2 195.2,150.1 194,150" fill="url(#pbg5)"/>
<g clip-path="url(#pbc5)" stroke="#1c3010" stroke-opacity="0.5" stroke-width="0.65" stroke-dasharray="2.2 1.6"><line x1="192" y1="129" x2="294" y2="149.4"/></g>
<polygon points="194,110 195.5,110.5 196.9,110.4 198.4,110.5 199.8,111.3 201.3,112.2 202.8,112.5 204.2,112.2 205.7,112.3 207.1,112.4 208.6,112.4 210.1,112.8 211.5,113.5 213,113.8 214.4,113.9 215.9,113.7 217.4,114 218.8,114.7 220.3,115.2 221.7,115.2 223.2,115.4 224.7,116 226.1,116.5 227.6,116.5 229,116.7 230.5,117.4 232,117.7 233.4,117.6 234.9,117.7 236.3,118.1 237.8,118.5 239.3,118.6 240.7,118.7 242.2,119.3 243.6,119.6 245.1,119.2 246.6,119.6 248,120.5 249.5,120.8 250.9,121 252.4,121.2 253.9,121.5 255.3,121.9 256.8,122.1 258.2,122.2 259.7,122.3 261.2,122.5 262.6,122.8 264.1,123.4 265.5,123.9 267,124 267,153 266.6,153.7 266.2,154.8 265.8,156.5 265.4,157.8 265,158.3 264.6,158.9 264.1,159.9 263.7,160.8 263.3,161.5 262.9,162.7 262.4,164.2 262,165.5 261.3,166 260.7,166 260,166.3 259.3,167.4 258.7,168.9 258,170.2 256.9,169.7 255.7,169.5 254.6,170.4 253.4,170.8 252.3,170 251.1,169.3 250,169.5 249,169.8 248,169.6 247,168.9 246,169.1 245,169.2 244,168.6 243,168.4 242,168.2 240.8,168.4 239.7,168.5 238.5,168.2 237.3,168.3 236.1,168.5 235,168.2 233.8,167.3 232.6,166.9 231.5,167.3 230.3,167.4 229.1,166.9 228,166.6 226.8,166.9 225.6,167.1 224.4,167.2 223.3,167.6 222.1,167.1 220.9,166 219.8,166.3 218.6,167.4 217.4,167.3 216.2,166.7 215.1,166.2 213.9,166 212.7,165.7 211.6,165.1 210.4,165 209.2,165.4 208,165.5 206.9,165.3 205.7,165.3 204.5,165.8 203.4,166.2 202.2,166.1 201,166.4 199.9,166.1 198.7,165.5 197.5,165.3 196.3,165.4 195.2,165.5 194,165" fill="url(#pbg6)"/>
<g clip-path="url(#pbc6)" stroke="#1c3010" stroke-opacity="0.5" stroke-width="0.65" stroke-dasharray="2.2 1.6"><line x1="192" y1="111.6" x2="269" y2="128.6"/><line x1="192" y1="143.4" x2="269" y2="160.4"/></g>
<polygon points="122,134.5 123.5,134.5 124.9,133.8 126.4,133.2 127.8,133.1 129.3,132.8 130.7,132.3 132.2,131.9 133.6,131.6 135.1,131.3 136.5,130.9 138,130.3 139.4,130 140.9,129.5 142.3,129.1 143.7,129.1 145.2,129 146.6,128.7 148.1,128.4 149.5,128.2 150.9,127.7 152.4,127.1 153.8,126.9 155.2,126.7 156.7,126 158.1,125.6 159.5,125.6 161,125.2 162.4,124.6 163.8,124.3 165.3,124.1 166.7,123.6 168.2,123.2 169.6,123.1 171,123 172.5,122.5 173.9,121.8 175.3,121.3 176.8,120.7 178.2,120.2 179.6,120.2 181.1,120.4 182.5,119.9 183.9,119.6 185.4,119.7 186.8,119.2 188.3,118.4 189.7,118 191.1,117.7 192.6,117.5 194,117 194,165 192.8,165.5 191.6,165.7 190.4,165.2 189.2,164.7 188.1,165.2 186.9,166 185.7,166.7 184.5,166.5 183.3,165.4 182.1,165.2 180.9,165.9 179.8,166.3 178.6,166.1 177.4,165.8 176.2,165.7 175,165.6 173.8,166 172.6,166.5 171.4,166.3 170.2,165.6 169.1,165.9 167.9,167.3 166.7,167.8 165.5,167.2 164.3,167.1 163.1,167.7 161.9,168.1 160.8,168.5 159.6,168.6 158.4,167.5 157.2,166.8 156,167.4 154.8,167.4 153.6,167.1 152.4,168.2 151.2,168.8 150.1,168.4 148.9,168.5 147.7,168.9 146.5,168.9 145.3,168.7 144.1,168.5 142.9,168.4 141.8,168.7 140.6,169 139.4,168.8 138.2,168.4 137,168.5 135.8,168.8 134.7,168.7 133.5,168.5 132.3,168.3 131.2,168.4 130,168.7 129,169.2 128,169.7 127,169.1 126,168.5 125,168.9 124,169 123,168.2 122,168" fill="url(#pbg7)"/>
<g clip-path="url(#pbc7)" stroke="#1c3010" stroke-opacity="0.5" stroke-width="0.65" stroke-dasharray="2.2 1.6"><line x1="120" y1="134.5" x2="196" y2="115.5"/><line x1="120" y1="167" x2="196" y2="148"/></g>
<polygon points="138,127.5 139.4,126.7 140.8,126.5 142.2,126.6 143.5,126.1 144.9,125.5 146.3,125.3 147.7,124.9 149.1,124.4 150.5,124.1 151.8,123.9 153.2,123.3 154.6,122.6 156,122.6 157.5,122.5 158.9,122.2 160.4,121.9 161.8,121.6 163.3,121.5 164.8,121.2 166.2,120.6 167.7,120.4 169.2,120.3 170.6,120.1 172.1,119.7 173.5,119.3 175,118.9 176.5,118.4 177.9,118.4 179.4,118.2 180.8,117.9 182.3,117.6 183.8,117.5 185.2,117.1 186.7,116.5 188.2,116.2 189.6,116.1 191.1,116.1 192.5,115.6 194,115 194,190 192.8,190.1 191.6,190.1 190.4,189.5 189.2,190 188.1,190.8 186.9,190.5 185.7,189.7 184.5,189.7 183.3,190.4 182.1,190.9 180.9,190.7 179.8,190.5 178.6,190.1 177.4,190 176.2,190.4 175,190.8 173.8,191.1 172.6,191.2 171.4,190.8 170.2,190.6 169.1,190.6 167.9,190.3 166.7,190.1 165.5,190.4 164.3,190.4 163.1,189.9 161.9,189.4 160.8,189.4 159.6,190.3 158.4,191.3 157.2,191.5 156,191.3 155,191.7 154,191.7 153,191.8 152,192.6 151,193.1 150,193.3 149,193.8 148,194.2 147,193.5 146,192.7 145,192.8 144,193.1 143,193.2 142,193.4 141.6,192.7 141.2,191.7 140.9,189.9 140.5,189 140.1,188.7 139.8,187.4 139.4,185.7 139,184.1 138.9,182.8 138.8,182.3 138.8,181.5 138.7,180.5 138.6,179.4 138.5,178.3 138.5,177 138.4,176 138.3,174.8 138.2,172.6 138.2,170.8 138.1,170.6 138,170" fill="url(#pbg8)"/>
<g clip-path="url(#pbc8)" stroke="#1c3010" stroke-opacity="0.5" stroke-width="0.65" stroke-dasharray="2.2 1.6"><line x1="136" y1="139.4" x2="196" y2="126.2"/><line x1="136" y1="164.7" x2="196" y2="151.5"/><line x1="136" y1="182.2" x2="196" y2="169"/></g>
<polygon points="194,115 195.5,115.2 197,115.2 198.4,115.5 199.9,115.6 201.4,115.5 202.9,115.9 204.4,115.9 205.8,115.9 207.3,116 208.8,116.1 210.3,116.4 211.8,116.6 213.2,116.5 214.7,116.7 216.2,116.9 217.7,116.7 219.2,116.4 220.6,116.8 222.1,117.6 223.6,117.6 225.1,117.4 226.6,117.5 228,117.5 229.5,117.4 231,117.7 232.4,118.3 233.8,118.6 235.1,119.3 236.5,119.7 237.9,120 239.2,120.4 240.6,121 242,121 242,168 242,169.2 241.9,169.9 241.9,170.5 241.8,172 241.8,173.3 241.7,174.3 241.7,175.8 241.6,177.2 241.6,177.7 241.5,178.1 241.5,179.5 241.4,181.3 241.4,182.4 241.3,182.8 241.3,183.7 241.2,185.6 241.2,187.6 241.1,188.9 241.1,189.1 241,189.6 240.2,191.2 239.5,192.3 238.8,192.3 238,192.6 237,192.9 236,193.4 235,193.2 234,192.7 233,192 232,191.3 230.8,191.2 229.6,192 228.4,192.8 227.2,192.7 226.1,192.4 224.9,192.6 223.7,192.6 222.5,192.4 221.3,191.9 220.1,191.3 218.9,191.3 217.8,191.6 216.6,192.3 215.4,192.6 214.2,191.6 213,190.3 211.8,189.6 210.6,190.5 209.4,191.2 208.2,190.6 207.1,189.6 205.9,189.1 204.7,189.8 203.5,190.6 202.3,190.7 201.1,190.7 199.9,190.8 198.8,190.1 197.6,189.4 196.4,190.3 195.2,190.9 194,190" fill="url(#pbg9)"/>
<g clip-path="url(#pbc9)" stroke="#1c3010" stroke-opacity="0.5" stroke-width="0.65" stroke-dasharray="2.2 1.6"><line x1="192" y1="126.3" x2="244" y2="137.8"/><line x1="192" y1="152.8" x2="244" y2="164.3"/><line x1="192" y1="170.3" x2="244" y2="181.8"/></g>
<polygon points="156,112.2 156.7,110.5 157.4,109 158.1,107.7 158.8,107.1 159.5,108.1 160.2,109.4 160.9,111 161.6,112.7 162.3,113.1 163,112.1 163.7,111.2 164.4,110.4 165.1,110 165.8,110.6 166.5,111.4 167.2,112.4 167.9,113.4 168.6,113.9 169.3,112.6 170,111.3 170.7,110.1 171.4,109.1 172.1,108.6 172.8,109.3 173.5,110.4 174.2,111.7 174.9,113 175.6,113.4 176.3,111.5 177,109.7 177.7,108.2 178.4,107 179.1,106.8 179.8,108 180.5,109.5 181.2,111.2 181.9,112.8 182.6,111.6 183.3,110.5 184,109.5 184.7,109.1 185.4,109.8 186.1,110.8 186.8,111.9 187.5,113.2 188.2,113.8 188.9,114.5 189.6,113.6 190.3,114.5 191,114.5 191.7,113.7 192.4,113.8 193.1,113.3 193.8,112.6 194.5,111.3 195.2,110.2 195.9,109.1 196.6,108.3 197.3,108.2 198,109 198.7,110 199.4,111.1 200.1,112.4 200.8,112.2 201.5,111.3 202.2,110.5 202.9,110 203.6,110.5 204.3,111.3 205,112.2 205.7,113.2 206.4,112.5 207.1,112.3 207.8,111.6 208.5,111.9 209.2,112.7 209.9,113.7 210.6,113.6 211.3,112.8 212,112.1 212.7,111.5 213.4,111 214.1,111.3 214.8,111.9 215.5,112.6 216.2,113.4 216.9,113.8 217.6,114.5 218.3,113.4 219,112.5 219.7,111.7 220.4,111.8 221.1,112.6 221.8,113.6 222.5,114.4 223.2,113.9 223.9,113.5 224.6,113.1 225.3,112.7 226,112.5 226.7,112.7 227.4,113.1 228.1,113.5 228.8,113.9 229.5,114.4 230.2,114.5 230.9,114.5 231,117 231,118.4 231,119.4 231,120.6 231,122.1 231,122.9 231,124.1 231,125.6 231,126.6 231,127.6 231,129 231,130.5 231,131.5 231,132.3 231,133.6 231,135.3 231,136.6 231,137.6 231,138.5 231,139.7 231,140.8 231,141.9 231,143.2 231,144.2 231,145.3 231,146.8 231,148.3 231,149.7 231,150.8 231,151.7 231,152.8 231,154.1 231,155.4 231,156.6 231,157.7 231,158.9 231,160.1 231,161.5 231,162.9 231,163.6 231,164.5 231,165.9 231,167.3 231,168.5 231,169.9 231,171.2 231,172 231,173.3 231,174.8 231,175.4 231,176.1 231,177 231,178.5 231,180.6 231,182 231,182.5 231,183.4 231,184.9 231,186.3 231,187.3 231,188.7 231,190.4 229.8,190.4 228.6,190 227.4,189.7 226.2,189.4 225,189.4 223.8,189.8 222.6,189.9 221.5,189.9 220.3,189.7 219.1,189.2 217.9,189.3 216.7,189.8 215.5,190 214.3,190.1 213.1,189.8 211.9,189.3 210.7,189.3 209.5,189.6 208.3,189.8 207.1,189.9 205.9,189.7 204.7,189.5 203.5,189.9 202.4,190.5 201.2,190.3 200,189.8 198.8,189.6 197.6,189.7 196.4,189.9 195.2,189.8 194,189.7 192.8,189.7 191.6,189.6 190.4,189.9 189.2,190.3 188.1,190.5 186.9,190.2 185.7,190.1 184.5,190.6 183.3,190.9 182.1,190.8 180.9,190.4 179.8,190.1 178.6,190.1 177.4,190.1 176.2,189.9 175,189.8 173.8,190.2 172.6,190.6 171.4,190.3 170.2,190 169.1,189.8 167.9,190 166.7,190.5 165.5,190.4 164.3,190.2 163.1,190.5 161.9,190.9 160.8,190.8 159.6,190.4 158.4,190.5 157.2,190.7 156,190.7 156,189.5 156,188.4 156,186.6 156,185 156,184.5 156,183.3 156,181.6 156,180.7 156,179.9 156,178.5 156,177 156,176.2 156,175.5 156,174.4 156,173.3 156,172.1 156,170.4 156,168.8 156,167.5 156,166.4 156,165.7 156,165.1 156,163.7 156,161.7 156,160.4 156,159.8 156,159.1 156,157.6 156,156.1 156,154.7 156,153.4 156,152.4 156,151.5 156,150.3 156,148.7 156,147.4 156,146.4 156,145.5 156,144.8 156,143.6 156,141.8 156,140.2 156,139.2 156,138.1 156,137.2 156,136.4 156,135 156,133.7 156,132.7 156,131.6 156,129.9 156,128.4 156,127.3 156,125.8 156,124.7 156,124.2 156,123.2 156,121.7 156,120.3 156,118.9 156,118" fill="url(#pbg10)"/>
<g clip-path="url(#pbc10)" stroke="#1c3010" stroke-opacity="0.5" stroke-width="0.65" stroke-dasharray="2.2 1.6"><line x1="154" y1="118.6" x2="233" y2="118.6"/><line x1="154" y1="141" x2="233" y2="141"/><line x1="154" y1="161" x2="233" y2="161"/><line x1="154" y1="180" x2="233" y2="180"/></g>
<polygon points="168,144 169.7,143.6 171.4,143.3 173.1,143 174.9,142.9 176.6,142.7 178.3,142.3 180,142 181.8,142 183.5,141.7 185.2,141.5 187,141.4 188.8,141.1 190.5,141 192.2,141.1 194,140.8 195.8,140.8 197.5,141.1 199.2,141.4 201,141.5 202.8,141.6 204.5,141.5 206.2,141.4 208,141.6 209.7,142 211.4,142.4 213.1,142.7 214.9,143.1 216.6,143.4 218.3,143.6 220,144 220,144 220,145.2 220,147 220,148.5 219.9,149.8 219.9,151.3 219.9,152.8 219.9,154.3 219.9,155.8 219.9,157.4 219.9,158.9 219.9,160.4 219.8,161.8 219.8,163.1 219.8,164.4 219.8,166.2 219.8,167.8 219.8,169.1 219.8,170.7 219.8,172 219.7,173.5 219.7,175.3 219.7,176.7 219.7,178 219.7,179.3 219.7,181 219.7,182.8 219.7,184.3 219.6,185.5 219.6,186.9 219.6,188.3 219.6,189.8 219.5,191.4 219.4,192.8 219.3,194.2 219.2,195.4 219.1,196.4 219,197.8 218.8,199.3 218.5,200.5 218.3,201.9 218.1,203.3 217.8,204.6 217.6,205.9 217.4,207.1 217.1,208.3 216.9,209.6 216.7,210.9 216.4,212.5 216.2,214.1 216,215.5 215.8,216.6 215.6,218 215.4,219.6 215.2,220.9 215,222.3 214.8,223.7 214.5,224.9 214.3,226.2 214,227.6 213.8,228.9 213.6,230.1 213.3,231.5 213.1,233 212.8,234.2 212.6,235.1 212.3,236.1 212,237.1 211.6,238.3 211.3,239.8 211,241.2 210.5,242.7 210,244.1 209.5,245.3 209,246.5 208.3,247.6 207.7,248.9 207,250.2 206.3,251.1 205.4,251.8 204.4,252.8 203.4,253.7 202.5,254.6 201.5,255.1 200.5,255.6 199.5,256.4 198.7,256.8 197.8,257.1 197.7,258.5 197.5,259.7 197.3,260.9 197.2,262.2 196.3,262.1 195.4,261.8 195.3,260.6 195.2,259.4 195,257.9 194.9,256.8 194.1,256.7 193.2,256.2 192.2,255.7 191.3,255.1 190.3,254.4 189.4,253.3 188.6,252.4 187.7,251.5 186.8,250.7 186.2,249.7 185.5,248.7 184.8,247.8 184.2,246.7 183.6,245.2 183.1,243.7 182.6,242.1 182,240.9 181.7,240.1 181.4,238.8 181,237.4 180.7,236.2 180.4,235.1 180.1,234 179.8,232.9 179.4,231.6 179.1,230.4 178.8,229 178.4,227.4 178.1,226 177.7,224.8 177.4,223.5 177,221.8 176.7,220.3 176.3,219.3 176,218.2 175.7,216.7 175.3,215.2 175,214 174.7,212.9 174.3,211.4 174,209.9 173.7,208.7 173.3,207.4 173,206.1 172.7,204.9 172.4,203.5 172.2,202 171.9,200.7 171.6,199.6 171.3,198.3 171.1,196.6 171,194.8 170.8,193.6 170.6,192.6 170.5,191.2 170.3,190 170.2,188.6 170.2,187.1 170.1,185.6 170.1,184 170,182.5 170,181 169.9,179.6 169.8,177.9 169.8,176.1 169.7,174.7 169.7,173.8 169.6,172.6 169.5,171.1 169.5,169.6 169.4,168.2 169.4,166.7 169.3,164.8 169.3,163.3 169.2,161.8 169.1,160.2 169.1,158.9 169,157.6 169,156 168.9,154.3 168.8,153 168.8,151.7 168.7,150.2 168.7,148.5 168.6,146.8 168.6,145.5 168.5,144" fill="url(#pbg11)"/>
<g clip-path="url(#pbc11)" stroke="#1c3010" stroke-opacity="0.5" stroke-width="0.65" stroke-dasharray="2.2 1.6"><line x1="166" y1="141" x2="222" y2="141"/><line x1="166" y1="164" x2="222" y2="164"/><line x1="166" y1="186.5" x2="222" y2="186.5"/><line x1="166" y1="209.2" x2="222" y2="209.2"/></g>
<path d="M191.8,114 C192.8,97.5 193,89 193.3,81 C193.6,89 193.8,97.5 194.8,114 Z" fill="#d41616"/><path d="M50.7,208.1 L196.3,262.1 L312.7,200.6" fill="none" stroke="#111" stroke-width="1.4"/>
<line x1="183.5" y1="257.1" x2="185.7" y2="255.9" stroke="#111" stroke-width="1"/>
<line x1="168.3" y1="251.4" x2="169.8" y2="250.6" stroke="#111" stroke-width="1"/>
<line x1="153.6" y1="245.9" x2="155.8" y2="244.8" stroke="#111" stroke-width="1"/>
<line x1="139.3" y1="240.5" x2="140.9" y2="239.8" stroke="#111" stroke-width="1"/>
<line x1="125.4" y1="235.3" x2="127.7" y2="234.3" stroke="#111" stroke-width="1"/>
<line x1="112" y1="230.3" x2="113.5" y2="229.6" stroke="#111" stroke-width="1"/>
<line x1="98.9" y1="225.4" x2="101.1" y2="224.4" stroke="#111" stroke-width="1"/>
<line x1="86.1" y1="220.6" x2="87.7" y2="220" stroke="#111" stroke-width="1"/>
<line x1="73.7" y1="215.9" x2="76" y2="215" stroke="#111" stroke-width="1"/>
<line x1="61.7" y1="211.4" x2="63.2" y2="210.8" stroke="#111" stroke-width="1"/>
<line x1="207.3" y1="256.3" x2="204.6" y2="255.3" stroke="#111" stroke-width="1"/>
<line x1="219.6" y1="249.8" x2="217.7" y2="249.2" stroke="#111" stroke-width="1"/>
<line x1="231.5" y1="243.5" x2="228.8" y2="242.6" stroke="#111" stroke-width="1"/>
<line x1="243" y1="237.5" x2="241.1" y2="236.9" stroke="#111" stroke-width="1"/>
<line x1="254.1" y1="231.6" x2="251.4" y2="230.7" stroke="#111" stroke-width="1"/>
<line x1="264.8" y1="225.9" x2="263" y2="225.3" stroke="#111" stroke-width="1"/>
<line x1="275.3" y1="220.4" x2="272.7" y2="219.6" stroke="#111" stroke-width="1"/>
<line x1="285.3" y1="215.1" x2="283.6" y2="214.5" stroke="#111" stroke-width="1"/>
<line x1="295.1" y1="209.9" x2="292.6" y2="209.2" stroke="#111" stroke-width="1"/>
<line x1="304.6" y1="204.9" x2="302.9" y2="204.4" stroke="#111" stroke-width="1"/><g font-family="Liberation Serif" font-size="10" fill="#222"><text transform="matrix(1.14,-0.37,0.9,0.33,70.4,222)" text-anchor="middle" dy="-3.3" dx="0">10</text><text transform="matrix(1.14,-0.37,0.9,0.33,98.4,230.5)" text-anchor="middle" dy="-3.3" dx="0">8</text><text transform="matrix(1.14,-0.37,0.9,0.33,125,240.5)" text-anchor="middle" dy="-3.3" dx="0">6</text><text transform="matrix(1.14,-0.37,0.9,0.33,152,251.2)" text-anchor="middle" dy="-3.3" dx="0">4</text><text transform="matrix(1.14,-0.37,0.9,0.33,182.6,262.1)" text-anchor="middle" dy="-3.3" dx="0">2</text><text transform="matrix(1.29,0.2,-0.62,0.32,212.6,261.1)" text-anchor="middle" dy="-3.3">2</text><text transform="matrix(1.29,0.2,-0.62,0.32,236,247.7)" text-anchor="middle" dy="-3.3">4</text><text transform="matrix(1.29,0.2,-0.62,0.32,257.6,236)" text-anchor="middle" dy="-3.3">6</text><text transform="matrix(1.29,0.2,-0.62,0.32,278.5,224.1)" text-anchor="middle" dy="-3.3">8</text><text transform="matrix(1.29,0.2,-0.62,0.32,301.1,215.4)" text-anchor="middle" dy="-3.3">10</text><text transform="matrix(1.14,-0.37,0.9,0.33,100.6,246.2)" text-anchor="middle" dy="-3.5" font-style="italic" font-size="12">k<tspan font-size="8" dy="2">x</tspan></text><text transform="matrix(1.29,0.2,-0.62,0.32,287,240)" text-anchor="middle" dy="-3.5" font-style="italic" font-size="12">k<tspan font-size="8" dy="2">y</tspan></text></g>
</g></g></g>
<g clip-path="url(#clipC)"><g transform="translate(0,282.3)"><g id="pc">
<line x1="62.4" y1="203.4" x2="55.4" y2="19.4" stroke="#e0e0e0" stroke-width="0.6" stroke-dasharray="1.5 1.5"/>
<line x1="87.6" y1="193.9" x2="82.3" y2="15" stroke="#e0e0e0" stroke-width="0.6" stroke-dasharray="1.5 1.5"/>
<line x1="111.3" y1="185" x2="107.6" y2="10.9" stroke="#e0e0e0" stroke-width="0.6" stroke-dasharray="1.5 1.5"/>
<line x1="133.7" y1="176.5" x2="131.4" y2="7.1" stroke="#e0e0e0" stroke-width="0.6" stroke-dasharray="1.5 1.5"/>
<line x1="154.9" y1="168.5" x2="153.8" y2="3.5" stroke="#e0e0e0" stroke-width="0.6" stroke-dasharray="1.5 1.5"/>
<line x1="50.4" y1="182.4" x2="173.7" y2="139.4" stroke="#e0e0e0" stroke-width="0.6" stroke-dasharray="1.5 1.5"/>
<line x1="49.3" y1="156.7" x2="173.7" y2="117.1" stroke="#e0e0e0" stroke-width="0.6" stroke-dasharray="1.5 1.5"/>
<line x1="48.2" y1="130.6" x2="173.7" y2="94.4" stroke="#e0e0e0" stroke-width="0.6" stroke-dasharray="1.5 1.5"/>
<line x1="47" y1="104" x2="173.7" y2="71.4" stroke="#e0e0e0" stroke-width="0.6" stroke-dasharray="1.5 1.5"/>
<line x1="45.9" y1="76.9" x2="173.7" y2="48.1" stroke="#e0e0e0" stroke-width="0.6" stroke-dasharray="1.5 1.5"/>
<line x1="44.7" y1="49.3" x2="173.7" y2="24.4" stroke="#e0e0e0" stroke-width="0.6" stroke-dasharray="1.5 1.5"/>
<line x1="300.4" y1="197.2" x2="308.1" y2="16.6" stroke="#e0e0e0" stroke-width="0.6" stroke-dasharray="1.5 1.5"/>
<line x1="272.2" y1="189.2" x2="278" y2="12.9" stroke="#e0e0e0" stroke-width="0.6" stroke-dasharray="1.5 1.5"/>
<line x1="245.4" y1="181.7" x2="249.5" y2="9.5" stroke="#e0e0e0" stroke-width="0.6" stroke-dasharray="1.5 1.5"/>
<line x1="219.8" y1="174.5" x2="222.4" y2="6.2" stroke="#e0e0e0" stroke-width="0.6" stroke-dasharray="1.5 1.5"/>
<line x1="195.5" y1="167.6" x2="196.7" y2="3.1" stroke="#e0e0e0" stroke-width="0.6" stroke-dasharray="1.5 1.5"/>
<line x1="313.8" y1="175.9" x2="173.7" y2="139.4" stroke="#e0e0e0" stroke-width="0.6" stroke-dasharray="1.5 1.5"/>
<line x1="315" y1="150.7" x2="173.7" y2="117.1" stroke="#e0e0e0" stroke-width="0.6" stroke-dasharray="1.5 1.5"/>
<line x1="316.2" y1="125.1" x2="173.7" y2="94.4" stroke="#e0e0e0" stroke-width="0.6" stroke-dasharray="1.5 1.5"/>
<line x1="317.4" y1="99.1" x2="173.7" y2="71.4" stroke="#e0e0e0" stroke-width="0.6" stroke-dasharray="1.5 1.5"/>
<line x1="318.7" y1="72.6" x2="173.7" y2="48.1" stroke="#e0e0e0" stroke-width="0.6" stroke-dasharray="1.5 1.5"/>
<line x1="319.9" y1="45.6" x2="173.7" y2="24.4" stroke="#e0e0e0" stroke-width="0.6" stroke-dasharray="1.5 1.5"/>
<line x1="183.5" y1="257.1" x2="300.4" y2="197.2" stroke="#e0e0e0" stroke-width="0.6" stroke-dasharray="1.5 1.5"/>
<line x1="153.6" y1="245.9" x2="272.2" y2="189.2" stroke="#e0e0e0" stroke-width="0.6" stroke-dasharray="1.5 1.5"/>
<line x1="125.4" y1="235.3" x2="245.4" y2="181.7" stroke="#e0e0e0" stroke-width="0.6" stroke-dasharray="1.5 1.5"/>
<line x1="98.9" y1="225.4" x2="219.8" y2="174.5" stroke="#e0e0e0" stroke-width="0.6" stroke-dasharray="1.5 1.5"/>
<line x1="73.7" y1="215.9" x2="195.5" y2="167.6" stroke="#e0e0e0" stroke-width="0.6" stroke-dasharray="1.5 1.5"/>
<line x1="207.3" y1="256.3" x2="62.4" y2="203.4" stroke="#e0e0e0" stroke-width="0.6" stroke-dasharray="1.5 1.5"/>
<line x1="231.5" y1="243.5" x2="87.6" y2="193.9" stroke="#e0e0e0" stroke-width="0.6" stroke-dasharray="1.5 1.5"/>
<line x1="254.1" y1="231.6" x2="111.3" y2="185" stroke="#e0e0e0" stroke-width="0.6" stroke-dasharray="1.5 1.5"/>
<line x1="275.3" y1="220.4" x2="133.7" y2="176.5" stroke="#e0e0e0" stroke-width="0.6" stroke-dasharray="1.5 1.5"/>
<line x1="295.1" y1="209.9" x2="154.9" y2="168.5" stroke="#e0e0e0" stroke-width="0.6" stroke-dasharray="1.5 1.5"/>
<line x1="173.8" y1="161.4" x2="173.7" y2="0.3" stroke="#8a8a8a" stroke-width="1.1"/>
<line x1="312.6" y1="200.7" x2="321.2" y2="18.2" stroke="#444" stroke-width="1.1" stroke-dasharray="3 2"/>
<line x1="43.6" y1="21.3" x2="173.7" y2="0.3" stroke="#555" stroke-width="0.9" stroke-dasharray="3.2 1.8"/>
<line x1="173.7" y1="0.3" x2="321.2" y2="18.2" stroke="#555" stroke-width="0.9" stroke-dasharray="3.2 1.8"/>
<line x1="51.4" y1="207.6" x2="173.8" y2="161.4" stroke="#555" stroke-width="0.9"/>
<line x1="173.8" y1="161.4" x2="312.6" y2="200.7" stroke="#444" stroke-width="0.9" stroke-dasharray="2 1.5"/>
<polygon points="44.5,130 45.3,128.8 46.1,126.7 46.9,127.2 47.7,128.2 47.2,128.2 47.7,125.2 48.2,128.2 48.5,127.2 47.9,127.2 48.5,124.7 49.1,127.2 49.5,126.2 50.5,126.1 51.6,126.4 52.6,126.3 53.6,126.1 54.6,125.7 55.7,124.7 56.7,124 57.7,123.8 56.9,123.8 57.7,120.6 58.5,123.8 58.7,124.5 59.7,124.5 59.4,124.5 60,122 60.6,124.5 60.8,122.4 61.8,121.2 61.2,121.2 61.8,120.2 62.4,121.2 62.8,122.2 63.8,123.2 63.4,123.2 63.8,121.5 64.2,123.2 64.8,122.6 65.9,121.6 66.9,121 67.9,120.1 68.9,119.7 70,120.2 71,120.7 72,120.5 73.1,120.7 74.2,120.9 75.3,120.6 76.3,120.3 77.4,120.2 76.8,120.2 77.4,117.3 78.1,120.2 78.5,120.2 79.6,118.3 80.7,117.2 81.8,118.3 80.9,118.3 81.8,115.2 82.6,118.3 82.9,119 82.2,119 82.9,117.8 83.5,119 83.9,119.4 82.8,119.4 83.5,115.4 84.2,119.4 85,118.8 86.1,117.5 87.2,118.5 88.3,119.6 89.4,119 90.5,118.7 91.5,118 90.7,118 91.5,116 92.4,118 92.6,116.7 93.7,116 93.2,116 93.7,113.1 94.2,116 94.8,115.5 95.9,115.9 97,117.1 96.3,117.1 97,115.8 97.7,117.1 98.1,116.6 99.1,116 100.2,116.1 101.3,115.7 102.4,116.1 103.5,116.7 104.6,116.6 105.7,116.4 106.7,116.2 107.8,115.6 107.4,115.6 108,112.6 108.6,115.6 108.9,115.7 108.2,115.7 108.9,113 109.6,115.7 110,116 111,115.4 110.6,115.4 111,114.4 111.4,115.4 112.1,114 113.1,112.6 112.5,112.6 113.1,110.2 113.7,112.6 114.1,113.2 115.2,113.8 116.2,113.3 117.2,114 118.3,114.4 119.3,113.5 118.7,113.5 119.3,110.7 119.9,113.5 120.3,112.4 119.9,112.4 120.3,110.8 120.8,112.4 121.4,111.3 122.4,110.6 123.4,110.2 122.9,110.2 123.4,109.2 124,110.2 124.5,109.7 123.5,109.7 124,107.2 124.5,109.7 125.5,110.1 125.1,110.1 125.5,108.3 126,110.1 126.6,110.4 127.6,109.7 128.6,108.8 129.7,108.7 130.7,109.3 131.7,108.9 132.8,108.4 133.8,108.6 134.8,108.2 135.9,106.9 135.4,106.9 135.9,105.1 136.3,106.9 136.9,106.8 136.1,106.8 136.9,104.8 137.7,106.8 137.9,107.2 137.4,107.2 137.9,105 138.4,107.2 139,106.6 140,107.2 139.2,107.2 140,104.2 140.8,107.2 141,107.4 140.6,107.4 141,104.7 141.5,107.4 142.1,105.7 143.1,105.3 144.2,106.2 145.2,106.1 146.2,104.6 147.3,102.9 148.3,102.7 149.4,102.6 150.4,102.9 151.4,103.6 152.5,103.3 153.5,103.3 154.6,103.1 153.7,103.1 154.6,100.1 155.4,103.1 155.6,102.4 156.6,101.5 156.1,101.5 156.6,99 157.2,101.5 157.7,100.4 158.7,100.6 159.8,101.1 160.8,101 161.8,100.8 162.9,100.9 163.9,100.6 163.1,100.6 163.9,99.1 164.8,100.6 165,99.7 166,99.5 166,140 164.8,139.9 163.7,139.4 162.5,139.6 161.3,140.2 160.1,141.3 159,141.8 157.8,141.8 156.6,141.8 155.4,140.9 154.3,140.6 153.1,141.4 151.9,141.6 150.7,141.5 149.6,142.2 148.4,142.7 147.2,142.2 146,142.3 144.9,142.7 143.7,143.1 142.5,143.4 141.3,143.6 140.2,143.5 139,142.8 137.8,142.9 136.7,143.4 135.5,143.2 134.3,143.1 133.1,143.6 132,143.8 130.8,143.9 129.6,144.6 128.4,144.6 127.3,143.2 126.1,143 124.9,144.2 123.7,144.8 122.6,146.1 121.4,146.7 120.2,145.6 119,145 117.9,145.3 116.7,145.6 115.5,145.4 114.3,145.4 113.2,145.3 112,145.2 110.8,145.6 109.6,146.3 108.4,146.4 107.3,146.1 106.1,145.5 104.9,145 103.7,145.3 102.5,145.8 101.3,145.7 100.1,145.6 99,145.9 97.8,145.5 96.6,143.9 95.4,142.8 94.2,143.2 93,144 91.9,144.1 90.7,143.8 89.5,143.8 88.3,143.9 87.1,143 85.9,142.3 84.7,143 83.6,143.6 82.4,143.2 81.2,143.4 80,143.4 78.9,143.4 77.7,143.3 76.6,143.2 75.4,143.9 74.3,144.6 73.1,144.1 72,144 70.8,144.5 69.7,144.7 68.5,145.4 67.3,145.7 66.2,145.7 65,145.8 63.8,145.8 62.7,145.9 61.5,145.3 60.3,144.7 59.2,144.5 58,144.1 57.2,143.2 56.5,142.3 55.8,142.1 55,142 54.2,141.1 53.3,139.3 52.5,137.5 51.7,137.6 50.8,137.7 50,136.7 49.6,135.6 49.2,135 48.9,134 48.5,132.2 47.5,131.6 46.5,131.8 45.5,131.7 44.5,131" fill="url(#pcg0)"/>
<g clip-path="url(#pcc0)" stroke="#1c3010" stroke-opacity="0.5" stroke-width="0.65" stroke-dasharray="2.2 1.6"><line x1="42.5" y1="134.9" x2="168" y2="111.1"/><line x1="42.5" y1="146.4" x2="168" y2="122.6"/></g>
<polygon points="160,101 161,100.4 162,100.3 163.1,100.4 164.1,99.5 165.1,97.9 164.4,97.9 165.1,95.6 165.8,97.9 164.2,97.9 165,93.9 165.8,97.9 166.1,97.4 167.2,98 168.2,97.9 169.2,98.3 170.2,99.3 171.2,98.9 172.3,98 173.3,97.5 174.3,96.5 173.7,96.5 174.3,94.7 174.9,96.5 175.3,95.6 176.2,96.1 175.5,96.1 176.2,94.4 176.9,96.1 177.2,97.3 176.7,97.3 177.2,95.5 177.7,97.3 178.1,96.9 179.1,96.4 178.7,96.4 179.1,94.9 179.5,96.4 180,96.7 179.6,96.7 180,94.1 180.5,96.7 181,97.4 182,98.1 183,98.5 184,99.5 185,99.9 186,99.5 187,100.3 188,100.7 189,99.6 190,99.4 191,101.1 192,102.2 193,101.8 194,101.7 193.4,101.7 194,99.9 194.6,101.7 195,101.5 196,101.2 197,101.4 198,102.4 199,102.8 200,102.3 199.2,102.3 200,99.3 200.8,102.3 201.1,101.6 202.1,101.6 203.2,101.8 204.2,101.7 205.3,102.4 206.3,102.7 207.4,101.8 208.4,101.3 209.5,101.7 210.6,102.2 211.6,102.2 211.4,102.2 212,99.7 212.6,102.2 212.7,101.5 213.7,100.7 214.8,100.9 215.8,101.8 216.9,101.7 217.9,101.6 219,101.6 219.8,102.8 220.6,104.1 221.3,104.7 220.8,104.7 221.3,102.3 221.9,104.7 222.1,104.8 222.9,103.8 223.7,104 224.4,105.7 223.7,105.7 224.4,102.7 225.2,105.7 225.2,106.4 226,106.8 225.4,106.8 226,104.8 226.6,106.8 227,107.3 228,107.5 229,108.2 230,109.2 231,109.3 232,109.7 231.2,109.7 232,108.2 232.8,109.7 233,110.8 234,111.4 235,112.2 234.5,112.2 235,110.6 235.5,112.2 236,112 236,140 160,140" fill="url(#pcg1)"/>
<g clip-path="url(#pcc1)" stroke="#1c3010" stroke-opacity="0.5" stroke-width="0.65" stroke-dasharray="2.2 1.6"><line x1="158" y1="118" x2="238" y2="118"/></g>
<polygon points="230,110.5 231,110.7 232,112.2 231.4,112.2 232,109.2 232.6,112.2 233,112.5 234,112.3 233.4,112.3 234,111.3 234.6,112.3 235,113.5 234.6,113.5 235,111.9 235.4,113.5 236,113.3 237.1,111.7 238.1,111.4 239.2,111.9 240.2,111.6 239.6,111.6 240.2,110.5 240.8,111.6 241.3,110.6 240.4,110.6 241.3,109.3 242.2,110.6 242.4,110.9 243.4,112.2 244.5,112.9 245.5,114.4 246.6,114.8 246.1,114.8 246.6,112.6 247.1,114.8 247.6,113.9 248.7,113.7 249.8,114 250.8,114.7 250,114.7 250.8,112.1 251.6,114.7 251.9,114 252.9,112.2 254,112.4 255.1,113.2 254.2,113.2 255.1,110.2 255.9,113.2 256.1,114.2 257.2,114.1 258.3,112.9 259.3,114.1 260.4,115.8 261.5,114.4 261.4,114.4 262,111.9 262.6,114.4 262.5,113.4 263.6,113.4 264.7,113.5 265.7,114.4 266.8,115 267.9,115.5 268.9,116.3 270,116.2 271.1,115.2 272.2,114.3 273.2,114.1 274.3,115.3 273.7,115.3 274.3,114.3 274.9,115.3 275.4,116 276.5,115.7 275.9,115.7 276.5,113.3 277,115.7 277.5,115.5 278.6,115.9 279.7,116.6 280.8,116.3 281.8,116.1 282.9,116.1 284,116.6 285,117 284.4,117 285,114 285.6,117 286,116.6 287,116.3 288,116.5 289,117 288.5,117 289,114.5 289.5,117 290,117.4 289.4,117.4 290,115.9 290.6,117.4 291,117.4 292,118.1 291.5,118.1 292,117 292.5,118.1 293,118.7 292.5,118.7 293,116.7 293.5,118.7 294,118.2 293.5,118.2 294,116.1 294.5,118.2 295,118.5 296,119.5 295.6,119.5 296,117.1 296.4,119.5 297,119.6 298,119.2 299.1,118.7 298.5,118.7 299.1,117.8 299.7,118.7 300.1,119.9 299.5,119.9 300.1,116.9 300.8,119.9 301.2,121.7 302.3,121.5 303.3,120.7 304.4,120.4 305.5,119.7 306.5,119.8 307.6,120.9 308.7,120.9 309.7,120.8 308.9,120.8 309.7,117.8 310.6,120.8 310.8,122 311.9,121.8 312.9,120.4 314,119.7 314.5,120.9 315,123 314.4,123 315,119.9 315.6,123 315.5,124 315.5,124 315.3,125.8 315.2,127.3 315,128 314.3,127.6 313.7,127.4 313,127.9 312,128.5 311,128.7 310,129.3 309.3,130.1 308.7,130.9 308,132.4 307.3,133.8 306.7,135 306,136.1 305.4,136.6 304.9,136.9 304.3,137.8 303.7,139.2 303.1,140.7 302.6,141.2 302,141.8 300.8,141.5 299.7,141.9 298.5,142.3 297.3,142.2 296.2,142 295,141.5 294,140.4 293,139.6 292,139.5 291.7,140.8 291.4,141.4 291.1,142.4 290.9,144 290.6,145.5 290.3,146.8 290,147.6 289.4,148.2 288.8,149.9 288.2,151.1 287.6,151.4 287,151.5 286,151.7 285,152.2 284,152 283,152.5 282,153.1 280.8,152.2 279.7,151.7 278.5,152.6 277.3,153.6 276.2,153.6 275,153.2 273.9,152.8 272.7,152.6 271.6,153.2 270.4,154.2 269.3,154.1 268.1,153.3 267,153 265.8,152.9 264.7,152.7 263.5,152.7 262.3,152.4 261.1,151.9 260,152.1 258.8,152.2 257.6,151.9 256.4,152.4 255.3,152.5 254.1,151.9 252.9,151.7 251.7,151.2 250.6,150.8 249.4,151.5 248.2,151.5 247,150.7 245.9,150.4 244.7,150.6 243.5,150.9 242.3,150.7 241.2,150.7 240,150.1 239,149.1 238,149 237,148.8 236,148.7 235,148.7 234,147.7 233,146.6 232,146 231,145.6 230,145" fill="url(#pcg2)"/>
<g clip-path="url(#pcc2)" stroke="#1c3010" stroke-opacity="0.5" stroke-width="0.65" stroke-dasharray="2.2 1.6"><line x1="228" y1="117.3" x2="317.6" y2="129.2"/><line x1="228" y1="129.1" x2="317.6" y2="141"/><line x1="228" y1="140.1" x2="317.6" y2="152"/></g>
<rect x="90" y="85" width="180" height="60" fill="url(#pctint)" clip-path="url(#pctintclp)"/>
<polygon points="80,131 81.5,131.2 82.9,131 84.4,130.5 85.8,130 87.3,129.6 88.8,129.5 90.2,129.2 91.7,128.9 93.2,128.7 94.6,128.4 96.1,127.8 97.5,127.4 99,127.4 100.5,127.1 101.9,126.7 103.4,126.4 104.8,126.3 106.3,125.7 107.8,124.9 109.2,124.7 110.7,124.6 112.2,124.4 113.6,124.3 115.1,123.8 116.5,123.1 118,122.8 119.5,122.8 120.9,122.7 122.4,122.4 123.8,121.9 125.3,121.5 126.8,121.4 128.2,121.4 129.7,120.9 131.2,120.4 132.6,120.4 134.1,120.4 135.5,119.8 137,119.2 138.5,119.3 139.9,119.1 141.4,118.6 142.8,118.1 144.3,117.6 145.8,117.2 147.2,117.2 148.7,117.1 150.2,116.9 151.6,116.8 153.1,116.4 154.5,115.8 156,115.5 157.5,115.3 158.9,115 160.4,114.7 161.8,114.5 163.3,114.3 164.8,114.1 166.2,113.8 167.7,113.2 169.2,112.8 170.6,112.5 172.1,112.4 173.5,112.2 175,111.9 176.5,111.8 177.9,111.6 179.4,111.2 180.8,110.7 182.3,110.3 183.8,110.1 185.2,109.6 186.7,109 188.2,108.8 189.6,108.8 191.1,108.5 192.5,108.3 194,108 194,150 192.8,150.5 191.6,150.8 190.4,150.6 189.2,149.9 188.1,149.4 186.9,148.9 185.7,148.8 184.5,149.8 183.3,150.5 182.1,149.8 180.9,149.3 179.7,149.7 178.6,150.4 177.4,151.1 176.2,151.3 175,150.6 173.8,150.4 172.6,150.3 171.4,150.1 170.2,150.5 169,150.2 167.9,150 166.7,150.1 165.5,149.9 164.3,150.2 163.1,150.5 161.9,150.1 160.7,149.4 159.5,149.9 158.3,150.6 157.2,149.9 156,149.6 154.8,150.4 153.6,150.4 152.4,149.7 151.2,149 150,148.3 148.8,147.8 147.7,148.6 146.5,149.6 145.3,149.7 144.1,149.6 142.9,149.8 141.7,150.2 140.5,150.4 139.3,150.3 138.1,150.4 137,150.4 135.8,149.8 134.6,149.8 133.4,149.9 132.2,150.2 131,150.7 129.8,150.2 128.6,149.4 127.4,149 126.3,149.3 125.1,150.2 123.9,150.6 122.7,151 121.5,151.5 120.3,150.8 119.1,150.1 117.9,150.3 116.8,150.1 115.6,149.4 114.4,149.7 113.2,150.6 112,150.6 111.3,150.8 110.7,151.7 110,152.5 109,152.4 108,152.2 107,152.2 106,152.8 105,153.6 104,154.1 103,154.6 102,154.8 101,154.5 100,154.4 99,155.1 98,155.9 97,156.3 96,156 95,155.9 94,156.8 93,157.3 92,156.6 91,156.3 90,157.5 89,157.6 88,156.8 87,155.9 86,155.6 85,155.4 84,154.9 83,154.9 82.7,154.6 82.4,154 82.1,152.8 81.9,151.4 81.6,150.6 81.3,149.9 81,148 80.9,145.8 80.7,145 80.6,144.5 80.4,143.7 80.3,142.4 80.1,141.3 80,140" fill="url(#pcg3)"/>
<g clip-path="url(#pcc3)" stroke="#1c3010" stroke-opacity="0.5" stroke-width="0.65" stroke-dasharray="2.2 1.6"><line x1="78" y1="147.9" x2="196" y2="118.4"/></g>
<polygon points="110,128 111.4,127.4 112.9,127.2 114.3,126.8 115.8,126.6 117.2,126.4 118.7,126.1 120.1,125.8 121.6,125.7 123,125.8 124.5,125.6 125.9,125.1 127.4,124.5 128.8,124.1 130.3,123.6 131.7,123.2 133.2,122.7 134.6,122.4 136.1,122.3 137.5,122 139,121.6 140.4,121.5 141.9,121.6 143.3,121.4 144.8,121 146.2,120.8 147.7,120.4 149.1,119.7 150.6,119.5 152,119.1 153.4,118.6 154.9,118.3 156.3,118.1 157.8,117.6 159.2,117.3 160.7,117.2 162.1,116.9 163.6,116.7 165,116.5 166.5,116.2 167.9,115.7 169.4,115.1 170.8,114.7 172.3,114.5 173.7,114.3 175.2,113.8 176.6,113.7 178.1,113.6 179.5,113.4 181,113.1 182.4,112.6 183.9,111.9 185.3,111.5 186.8,111.3 188.2,111.3 189.7,111.3 191.1,111.1 192.6,110.8 194,110 194,160 192.8,159.1 191.6,159.5 190.5,160.4 189.3,160.4 188.1,160.6 186.9,160.8 185.7,160.6 184.6,160.9 183.4,161.7 182.2,162.4 181,162.2 179.8,162.3 178.7,163.4 177.5,163.7 176.3,163.1 175.1,162.3 173.9,162.5 172.8,163.7 171.6,164 170.4,163.7 169.2,164 168,164.3 166.9,164.9 165.7,164.9 164.5,163.6 163.3,163.2 162.1,163.9 161,164.6 159.8,164.7 158.6,164.8 157.4,165 156.2,164.8 155,165.2 153.9,165.9 152.7,165.8 151.5,165.3 150.3,165.4 149.1,166.4 148,166.5 146.8,165.7 145.6,165.6 144.4,165.5 143.2,166 142.1,167 140.9,167.6 139.7,167.9 138.5,167.8 137.3,167.7 136.2,167.6 135,167.9 133.8,168.3 132.6,168.4 131.4,168.7 130.3,168.8 129.1,168.7 127.9,168.9 126.7,169.5 125.5,170.3 124.4,170.1 123.2,169.7 122,169.9 121,169.8 120,170 119,170.6 118,170.7 117,170.3 116,169.6 115,168.1 114,167.4 113,168.1 112.7,167.3 112.4,165.2 112.1,164.1 111.9,163.8 111.6,162.9 111.3,161.3 111,160 110.9,158.7 110.7,157.8 110.6,157.4 110.4,155.8 110.3,153.6 110.1,152.5 110,152" fill="url(#pcg4)"/>
<g clip-path="url(#pcc4)" stroke="#1c3010" stroke-opacity="0.5" stroke-width="0.65" stroke-dasharray="2.2 1.6"><line x1="108" y1="156.4" x2="196" y2="137"/></g>
<polygon points="194,108 195.5,108 196.9,108.4 198.4,108.9 199.9,109.1 201.3,109.2 202.8,109.8 204.2,110.1 205.7,109.9 207.2,110.3 208.6,110.9 210.1,111.2 211.6,111.3 213,111.5 214.5,111.8 215.9,112.2 217.4,112.6 218.9,113.2 220.3,113.6 221.8,113.8 223.3,114.1 224.7,114.3 226.2,114.4 227.6,114.5 229.1,114.8 230.6,115.2 232,115.5 233.5,115.8 235,116.2 236.4,116.4 237.9,116.5 239.3,116.7 240.8,116.9 242.3,117.1 243.7,117.4 245.2,117.8 246.7,118.2 248.1,118.4 249.6,118.5 251,118.6 252.5,118.9 254,119.5 255.4,119.8 256.9,120 258.4,120.1 259.8,120.2 261.3,121 262.7,121.6 264.2,121.6 265.7,121.8 267.1,122.2 268.6,122.5 270.1,122.7 271.5,122.6 273,123 274.4,123.6 275.9,123.8 277.4,124 278.8,124.2 280.3,124.5 281.8,124.8 283.2,125 284.7,125.3 286.1,125.7 287.6,125.9 289.1,125.8 290.5,126.1 292,127 292,139 291.8,139.6 291.5,141.6 291.2,143.1 291,144.1 290.8,145.2 290.5,146.5 290.2,146.9 290,147.7 289.4,149 288.8,149.2 288.2,150.4 287.6,152.2 287,152.7 286,152.2 285,151.9 284,152.1 283,152.5 282,152.8 280.8,152.9 279.7,152.3 278.5,152.3 277.3,152.8 276.2,153.3 275,153.5 273.9,152.8 272.7,152.4 271.6,152.4 270.4,152 269.3,152.7 268.1,154 267,153.5 265.8,152.2 264.6,151.8 263.4,151.9 262.2,152.4 261,152.5 259.8,152.8 258.6,153.3 257.4,153.1 256.2,152.2 255,152.4 253.8,153.1 252.6,152.9 251.4,152.3 250.2,151.7 249,151.4 247.9,151.5 246.7,152.1 245.5,152.3 244.3,151.6 243.1,151.5 241.9,151.5 240.7,151.6 239.5,152.4 238.3,152.8 237.1,152.2 235.9,152 234.7,152.6 233.5,153 232.3,152.7 231.1,151.8 229.9,150.8 228.7,150.6 227.5,150.6 226.3,150.4 225.1,151 223.9,151.9 222.7,151.5 221.5,150.9 220.3,150.9 219.1,150.9 217.9,151 216.7,150.9 215.5,151 214.3,151 213.1,151.5 212,152.1 210.8,151.4 209.6,150.7 208.4,150.6 207.2,150.5 206,151.2 204.8,151.5 203.6,150.7 202.4,150.5 201.2,151 200,151.1 198.8,150.4 197.6,150 196.4,150.4 195.2,150.6 194,150" fill="url(#pcg5)"/>
<g clip-path="url(#pcc5)" stroke="#1c3010" stroke-opacity="0.5" stroke-width="0.65" stroke-dasharray="2.2 1.6"><line x1="192" y1="129" x2="294" y2="149.4"/></g>
<polygon points="194,110 195.5,110.1 196.9,110.5 198.4,110.9 199.8,111 201.3,111.2 202.8,111.9 204.2,112.4 205.7,112.4 207.1,112.2 208.6,112.4 210.1,112.8 211.5,113.4 213,113.7 214.4,113.7 215.9,113.7 217.4,114.1 218.8,114.7 220.3,115 221.7,115.2 223.2,115.7 224.7,116.2 226.1,116.7 227.6,116.6 229,116.8 230.5,117.3 232,117.5 233.4,117.6 234.9,118.1 236.3,118.4 237.8,118.7 239.3,118.7 240.7,118.7 242.2,119.2 243.6,119.5 245.1,119.7 246.6,120.1 248,120.3 249.5,120.2 250.9,120.6 252.4,121.2 253.9,121.9 255.3,122.2 256.8,122.4 258.2,122.7 259.7,122.7 261.2,122.8 262.6,123.4 264.1,123.5 265.5,123.4 267,124 267,153 266.6,154.8 266.2,155.5 265.8,156 265.4,156.8 265,158.3 264.6,159.3 264.1,160.2 263.7,161.5 263.3,162.5 262.9,163.2 262.4,163.8 262,165.2 261.3,166.1 260.7,166.9 260,168.6 259.3,169.9 258.7,170.1 258,170.2 256.9,170.4 255.7,170.8 254.6,170 253.4,169.4 252.3,169.8 251.1,170.1 250,169.9 249,170 248,170.2 247,169.6 246,168.6 245,168.6 244,168.8 243,168.3 242,168 240.8,168.9 239.7,169.7 238.5,168.3 237.3,167 236.1,167.3 235,167.6 233.8,167.4 232.6,167 231.5,166.7 230.3,167.3 229.1,167.6 228,167.7 226.8,167.8 225.6,167.4 224.4,167.2 223.3,166.8 222.1,166.4 220.9,166.8 219.8,167.2 218.6,167.5 217.4,167.5 216.2,167.1 215.1,167 213.9,167 212.7,166.2 211.6,165.5 210.4,166 209.2,166.8 208,166.9 206.9,166.1 205.7,165.5 204.5,165.4 203.4,165.7 202.2,166.4 201,166.3 199.9,165.8 198.7,165.6 197.5,165.5 196.3,165.2 195.2,165.1 194,165" fill="url(#pcg6)"/>
<g clip-path="url(#pcc6)" stroke="#1c3010" stroke-opacity="0.5" stroke-width="0.65" stroke-dasharray="2.2 1.6"><line x1="192" y1="111.6" x2="269" y2="128.6"/><line x1="192" y1="143.4" x2="269" y2="160.4"/></g>
<polygon points="122,134.5 123.5,133.8 124.9,133.3 126.4,133.2 127.8,132.7 129.3,132.1 130.7,131.9 132.2,131.7 133.6,131.5 135.1,130.9 136.5,130.5 138,130.7 139.4,130.7 140.9,130.2 142.3,129.5 143.7,128.9 145.2,128.5 146.6,128.1 148.1,128 149.5,127.8 150.9,127.4 152.4,126.9 153.8,126.4 155.2,126.3 156.7,126 158.1,125.4 159.5,125.1 161,124.6 162.4,124 163.8,123.8 165.3,124.1 166.7,123.8 168.2,123.2 169.6,122.9 171,122.9 172.5,122.5 173.9,121.8 175.3,121.4 176.8,121.2 178.2,120.4 179.6,119.6 181.1,119.4 182.5,119.3 183.9,119.2 185.4,118.7 186.8,118.2 188.3,118.1 189.7,118.3 191.1,118.6 192.6,118 194,117 194,165 192.8,164.7 191.6,165.6 190.4,165.9 189.2,165.7 188.1,165.7 186.9,166 185.7,166.2 184.5,166 183.3,165.8 182.1,165.5 180.9,165.6 179.8,165.7 178.6,166.2 177.4,166.1 176.2,165.6 175,166.2 173.8,167.3 172.6,167.1 171.4,166.1 170.2,165.5 169.1,165.7 167.9,165.7 166.7,165.7 165.5,166.8 164.3,167.5 163.1,167.1 161.9,166.9 160.8,166.9 159.6,167.2 158.4,167.6 157.2,167.9 156,168.4 154.8,168.3 153.6,168 152.4,167.9 151.2,167.7 150.1,167.9 148.9,168.3 147.7,168.2 146.5,168.1 145.3,167.7 144.1,168 142.9,168.8 141.8,169 140.6,168.7 139.4,168.8 138.2,169.3 137,169.8 135.8,170 134.7,168.9 133.5,168 132.3,168.5 131.2,169.2 130,169.1 129,168.6 128,168.5 127,169.3 126,169.2 125,168.4 124,168.1 123,167.7 122,168" fill="url(#pcg7)"/>
<g clip-path="url(#pcc7)" stroke="#1c3010" stroke-opacity="0.5" stroke-width="0.65" stroke-dasharray="2.2 1.6"><line x1="120" y1="134.5" x2="196" y2="115.5"/><line x1="120" y1="167" x2="196" y2="148"/></g>
<polygon points="138,127.5 139.4,127.1 140.8,126.8 142.2,126.4 143.5,125.7 144.9,125.1 146.3,125 147.7,124.7 149.1,124.6 150.5,124.5 151.8,124 153.2,123.7 154.6,123.6 156,123.3 157.5,122.9 158.9,122.7 160.4,122.5 161.8,121.8 163.3,121.1 164.8,120.8 166.2,120.4 167.7,120.2 169.2,120.2 170.6,119.7 172.1,119.2 173.5,119.1 175,118.8 176.5,118.7 177.9,118.5 179.4,118 180.8,117.7 182.3,117.7 183.8,117.6 185.2,117.4 186.7,116.9 188.2,116.4 189.6,115.9 191.1,115.4 192.5,115.2 194,115 194,190 192.8,191.3 191.6,191.3 190.4,191 189.2,190.3 188.1,189.8 186.9,190.5 185.7,191 184.5,190.7 183.3,191.1 182.1,191.7 180.9,191.1 179.8,189.9 178.6,189.1 177.4,189.6 176.2,190.3 175,190.5 173.8,190.5 172.6,191 171.4,191.5 170.2,191.2 169.1,190.7 167.9,190.3 166.7,190.3 165.5,190.7 164.3,190.5 163.1,190.1 161.9,190.2 160.8,190.3 159.6,190.8 158.4,191.3 157.2,191.6 156,191.2 155,191 154,191.8 153,192.7 152,192.7 151,193.2 150,193.6 149,193.2 148,193.5 147,193.9 146,193.7 145,193 144,193 143,193.9 142,194.1 141.6,192.8 141.2,191.3 140.9,189.8 140.5,189.1 140.1,189.1 139.8,188.3 139.4,187.1 139,186 138.9,185.1 138.8,184 138.8,181.9 138.7,179.9 138.6,178.8 138.5,178.3 138.5,177.5 138.4,176.1 138.3,174.8 138.2,173.8 138.2,172.3 138.1,171 138,170" fill="url(#pcg8)"/>
<g clip-path="url(#pcc8)" stroke="#1c3010" stroke-opacity="0.5" stroke-width="0.65" stroke-dasharray="2.2 1.6"><line x1="136" y1="139.4" x2="196" y2="126.2"/><line x1="136" y1="164.7" x2="196" y2="151.5"/><line x1="136" y1="182.2" x2="196" y2="169"/></g>
<polygon points="194,115 195.5,114.7 197,114.8 198.4,115.4 199.9,115.9 201.4,115.8 202.9,115.8 204.4,116 205.8,116 207.3,115.9 208.8,116.2 210.3,116.4 211.8,116.5 213.2,116.8 214.7,116.7 216.2,116.5 217.7,116.8 219.2,117 220.6,117.2 222.1,117.1 223.6,116.9 225.1,117.1 226.6,117.7 228,118 229.5,117.8 231,117.7 232.4,118.3 233.8,118.8 235.1,119 236.5,119.1 237.9,119.9 239.2,120.3 240.6,120.4 242,121 242,168 242,169.1 241.9,170.3 241.9,171.5 241.8,172.5 241.8,173.6 241.7,174.5 241.7,174.8 241.6,175.6 241.6,177.4 241.5,178.9 241.5,179.4 241.4,180.4 241.4,181.7 241.3,182.9 241.3,184.4 241.2,185.9 241.2,186.8 241.1,187.5 241.1,188.3 241,188.9 240.2,189.7 239.5,191 238.8,192 238,192.7 237,192.8 236,192.9 235,192.5 234,192.5 233,192.8 232,192.5 230.8,192.3 229.6,192.3 228.4,191.5 227.2,190.7 226.1,191.6 224.9,192.4 223.7,192.1 222.5,191.9 221.3,191.7 220.1,191.1 218.9,191.1 217.8,191.8 216.6,191.6 215.4,191 214.2,190.9 213,191.1 211.8,191.4 210.6,191 209.4,190.4 208.2,190.1 207.1,190.3 205.9,190.3 204.7,189.7 203.5,189.6 202.3,190.2 201.1,190.2 199.9,189.6 198.8,190.2 197.6,190.9 196.4,190.4 195.2,189.3 194,190" fill="url(#pcg9)"/>
<g clip-path="url(#pcc9)" stroke="#1c3010" stroke-opacity="0.5" stroke-width="0.65" stroke-dasharray="2.2 1.6"><line x1="192" y1="126.3" x2="244" y2="137.8"/><line x1="192" y1="152.8" x2="244" y2="164.3"/><line x1="192" y1="170.3" x2="244" y2="181.8"/></g>
<polygon points="156,113.9 156.7,113.1 157.4,112.4 158.1,111.8 158.8,111.5 159.5,112 160.2,112.6 160.9,113.3 161.6,113.4 162.3,112.5 163,111.8 163.7,111.2 164.4,111.2 165.1,111.9 165.8,112.6 166.5,113.5 167.2,113.3 167.9,112 168.6,110.8 169.3,109.7 170,109 170.7,109.7 171.4,110.8 172.1,112 172.8,112.6 173.5,111.5 174.2,111.2 174.9,112.1 175.6,113.4 176.3,112.4 177,110.8 177.7,109.5 178.4,108.4 179.1,108.3 179.8,109.3 180.5,110.6 181.2,112.1 181.9,113.8 182.6,113.4 183.3,111.7 184,110.1 184.7,108.7 185.4,107.7 186.1,108.1 186.8,109.3 187.5,110.8 188.2,112.4 188.9,114.2 189.6,114.4 190.3,110.9 191,106.8 191.7,103.4 192.4,101.6 193.1,104.3 193.8,107.9 194.5,112.1 195.2,113.9 195.9,113.4 196.6,111.3 197.3,109.4 198,107.7 198.7,106.4 199.4,106.5 200.1,107.9 200.8,109.7 201.5,111.6 202.2,111.2 202.9,110.1 203.6,110.8 204.3,112.3 205,112.8 205.7,111.3 206.4,109.9 207.1,108.7 207.8,108.1 208.5,109 209.2,110.2 209.9,111.7 210.6,113 211.3,111.2 212,109.6 212.7,108.1 213.4,107.1 214.1,107.8 214.8,109.1 215.5,110.7 216.2,112 216.9,111.1 217.6,111.7 218.3,112.8 219,111.8 219.7,110.6 220.4,109.6 221.1,109.1 221.8,109.8 222.5,110.9 223.2,112.2 223.9,113.5 224.6,114.7 225.3,113.9 226,112.1 226.7,110.5 227.4,109.1 228.1,108.7 228.8,109.9 229.5,111.4 230.2,113.1 230.9,115 231,117 231,118.1 231,119.4 231,120.9 231,122.3 231,123.5 231,124.8 231,125.5 231,126 231,127.6 231,129.3 231,130.6 231,132 231,133.1 231,134.3 231,135.4 231,135.8 231,136.5 231,138.2 231,140 231,141.4 231,142.7 231,143.5 231,144.5 231,145.7 231,146.4 231,147.6 231,149.1 231,150.2 231,151.5 231,152.9 231,154.4 231,155.6 231,156.8 231,158.4 231,159.3 231,160.1 231,161.5 231,162.9 231,164.1 231,165.4 231,166.5 231,167.6 231,168.8 231,169.4 231,170 231,171.7 231,173.4 231,174.8 231,175.7 231,177 231,178.6 231,179.3 231,180.1 231,181.4 231,182.9 231,184.4 231,185.4 231,186.2 231,187.7 231,189 231,190.3 229.8,190.5 228.6,190.3 227.4,190.1 226.2,190.4 225,190.7 223.8,190.3 222.6,189.7 221.5,189.5 220.3,189.7 219.1,190.1 217.9,190.6 216.7,191.1 215.5,190.8 214.3,189.9 213.1,189.4 211.9,189.6 210.7,189.9 209.5,189.8 208.3,189.8 207.1,190 205.9,190 204.7,190.1 203.5,190.4 202.4,190.9 201.2,190.7 200,190.2 198.8,190.4 197.6,190.9 196.4,190.9 195.2,190.3 194,189.9 192.8,189.9 191.6,189.7 190.4,189.7 189.2,189.9 188.1,189.9 186.9,189.8 185.7,189.8 184.5,189.8 183.3,189.5 182.1,189.6 180.9,190.2 179.8,190.4 178.6,190.5 177.4,190.3 176.2,190.1 175,190.4 173.8,190.7 172.6,190.7 171.4,190.2 170.2,190.1 169.1,190.2 167.9,190.3 166.7,190.5 165.5,190.5 164.3,190.6 163.1,190.9 161.9,190.7 160.8,190.3 159.6,190.6 158.4,191 157.2,190.6 156,190.2 156,189.3 156,188.4 156,186.9 156,185.2 156,184.1 156,183.6 156,182.6 156,180.9 156,179.7 156,178.6 156,177.4 156,176.2 156,174.7 156,173.6 156,172.3 156,171 156,170.4 156,169.3 156,167.5 156,166.3 156,165.5 156,164.6 156,163.5 156,162.3 156,160.7 156,159.3 156,158.5 156,157.3 156,155.9 156,154.7 156,153.6 156,152.4 156,151.1 156,150 156,148.8 156,147.5 156,146.4 156,145.6 156,144.6 156,143.5 156,142.2 156,140.6 156,139 156,137.9 156,137 156,136.1 156,134.8 156,133.3 156,132.4 156,131.6 156,129.9 156,128.2 156,126.9 156,125.7 156,125 156,124.4 156,123.2 156,122 156,120.9 156,119.5 156,118" fill="url(#pcg10)"/>
<g clip-path="url(#pcc10)" stroke="#1c3010" stroke-opacity="0.5" stroke-width="0.65" stroke-dasharray="2.2 1.6"><line x1="154" y1="118.6" x2="233" y2="118.6"/><line x1="154" y1="141" x2="233" y2="141"/><line x1="154" y1="161" x2="233" y2="161"/><line x1="154" y1="180" x2="233" y2="180"/></g>
<polygon points="168,144 169.7,143.7 171.4,143.2 173.1,143 174.9,142.8 176.6,142.5 178.3,142.2 180,141.8 181.8,141.6 183.5,141.6 185.2,141.6 187,141.4 188.8,141.3 190.5,141.2 192.2,141 194,140.9 195.8,141.1 197.5,141.2 199.2,141.2 201,141.4 202.8,141.7 204.5,141.8 206.2,141.9 208,141.9 209.7,142.1 211.4,142.2 213.1,142.6 214.9,143 216.6,143.2 218.3,143.5 220,144 220,144 220,145.7 220,147.1 220,148.3 219.9,149.8 219.9,151.3 219.9,152.8 219.9,154.4 219.9,155.7 219.9,157.2 219.9,158.8 219.9,160.3 219.8,161.9 219.8,163.2 219.8,164.3 219.8,166.1 219.8,168.2 219.8,169.6 219.8,170.5 219.8,172.1 219.7,173.8 219.7,175 219.7,176.3 219.7,178 219.7,179.9 219.7,181.5 219.7,182.9 219.7,184.6 219.6,186 219.6,187.1 219.6,188.4 219.6,190.2 219.5,191.5 219.4,192.7 219.3,194.1 219.2,195.4 219.1,196.4 219,197.7 218.8,199.3 218.5,200.9 218.3,202.3 218.1,203.6 217.8,204.7 217.6,205.9 217.4,207.2 217.1,208.5 216.9,209.9 216.7,211.5 216.4,212.8 216.2,214 216,215.6 215.8,217.1 215.6,218.6 215.4,219.8 215.2,220.7 215,221.9 214.8,223.3 214.5,224.6 214.3,225.9 214,227.3 213.8,228.8 213.6,230 213.3,231.2 213.1,232.5 212.8,233.7 212.6,235 212.3,236.3 212,237.6 211.6,238.7 211.3,239.8 211,241 210.5,242.4 210,243.9 209.5,245.1 209,246.2 208.3,247.7 207.7,248.9 207,249.8 206.3,250.9 205.4,251.8 204.4,252.8 203.4,253.9 202.5,254.5 201.5,254.7 200.5,255.3 199.5,256.2 198.7,256.5 197.8,256.6 197.7,258 197.5,259.3 197.3,260.5 197.2,262.1 196.3,262.2 195.4,262.1 195.3,260.8 195.2,259.6 195,258.4 194.9,256.9 194.1,256.3 193.2,255.9 192.2,255.6 191.3,255.1 190.3,254.5 189.4,253.6 188.6,252.8 187.7,252 186.8,251.1 186.2,250 185.5,249.1 184.8,248 184.2,246.7 183.6,245.3 183.1,243.9 182.6,242.5 182,241.3 181.7,240.2 181.4,238.7 181,237.2 180.7,236.2 180.4,235.1 180.1,233.8 179.8,232.8 179.4,231.7 179.1,230.4 178.8,229.1 178.4,227.7 178.1,226.3 177.7,224.9 177.4,223.6 177,222.1 176.7,220.6 176.3,219.2 176,217.9 175.7,216.4 175.3,215.1 175,213.9 174.7,212.4 174.3,211.1 174,209.9 173.7,208.6 173.3,207.3 173,206 172.7,204.7 172.4,203.4 172.2,201.9 171.9,200.6 171.6,199.6 171.3,198.2 171.1,196.8 171,195.6 170.8,194.2 170.6,192.6 170.5,191 170.3,189.6 170.2,188.3 170.2,186.9 170.1,185.4 170.1,183.9 170,182.6 170,181.2 169.9,179.7 169.8,178.2 169.8,176.5 169.7,174.7 169.7,173.2 169.6,172.1 169.5,171 169.5,169.4 169.4,167.7 169.4,166.3 169.3,164.7 169.3,163.1 169.2,161.6 169.1,160.1 169.1,158.8 169,157.4 169,155.8 168.9,154.4 168.8,152.9 168.8,151.2 168.7,149.7 168.7,148.4 168.6,147 168.6,145.4 168.5,144" fill="url(#pcg11)"/>
<g clip-path="url(#pcc11)" stroke="#1c3010" stroke-opacity="0.5" stroke-width="0.65" stroke-dasharray="2.2 1.6"><line x1="166" y1="141" x2="222" y2="141"/><line x1="166" y1="164" x2="222" y2="164"/><line x1="166" y1="186.5" x2="222" y2="186.5"/><line x1="166" y1="209.2" x2="222" y2="209.2"/></g>
<path d="M50.7,208.1 L196.3,262.1 L312.7,200.6" fill="none" stroke="#111" stroke-width="1.4"/>
<line x1="183.5" y1="257.1" x2="185.7" y2="255.9" stroke="#111" stroke-width="1"/>
<line x1="168.3" y1="251.4" x2="169.8" y2="250.6" stroke="#111" stroke-width="1"/>
<line x1="153.6" y1="245.9" x2="155.8" y2="244.8" stroke="#111" stroke-width="1"/>
<line x1="139.3" y1="240.5" x2="140.9" y2="239.8" stroke="#111" stroke-width="1"/>
<line x1="125.4" y1="235.3" x2="127.7" y2="234.3" stroke="#111" stroke-width="1"/>
<line x1="112" y1="230.3" x2="113.5" y2="229.6" stroke="#111" stroke-width="1"/>
<line x1="98.9" y1="225.4" x2="101.1" y2="224.4" stroke="#111" stroke-width="1"/>
<line x1="86.1" y1="220.6" x2="87.7" y2="220" stroke="#111" stroke-width="1"/>
<line x1="73.7" y1="215.9" x2="76" y2="215" stroke="#111" stroke-width="1"/>
<line x1="61.7" y1="211.4" x2="63.2" y2="210.8" stroke="#111" stroke-width="1"/>
<line x1="207.3" y1="256.3" x2="204.6" y2="255.3" stroke="#111" stroke-width="1"/>
<line x1="219.6" y1="249.8" x2="217.7" y2="249.2" stroke="#111" stroke-width="1"/>
<line x1="231.5" y1="243.5" x2="228.8" y2="242.6" stroke="#111" stroke-width="1"/>
<line x1="243" y1="237.5" x2="241.1" y2="236.9" stroke="#111" stroke-width="1"/>
<line x1="254.1" y1="231.6" x2="251.4" y2="230.7" stroke="#111" stroke-width="1"/>
<line x1="264.8" y1="225.9" x2="263" y2="225.3" stroke="#111" stroke-width="1"/>
<line x1="275.3" y1="220.4" x2="272.7" y2="219.6" stroke="#111" stroke-width="1"/>
<line x1="285.3" y1="215.1" x2="283.6" y2="214.5" stroke="#111" stroke-width="1"/>
<line x1="295.1" y1="209.9" x2="292.6" y2="209.2" stroke="#111" stroke-width="1"/>
<line x1="304.6" y1="204.9" x2="302.9" y2="204.4" stroke="#111" stroke-width="1"/><g font-family="Liberation Serif" font-size="10" fill="#222"><text transform="matrix(1.14,-0.37,0.9,0.33,70.4,222)" text-anchor="middle" dy="-3.3" dx="0">10</text><text transform="matrix(1.14,-0.37,0.9,0.33,98.4,230.5)" text-anchor="middle" dy="-3.3" dx="0">8</text><text transform="matrix(1.14,-0.37,0.9,0.33,125,240.5)" text-anchor="middle" dy="-3.3" dx="0">6</text><text transform="matrix(1.14,-0.37,0.9,0.33,152,251.2)" text-anchor="middle" dy="-3.3" dx="0">4</text><text transform="matrix(1.14,-0.37,0.9,0.33,182.6,262.1)" text-anchor="middle" dy="-3.3" dx="0">2</text><text transform="matrix(1.29,0.2,-0.62,0.32,212.6,261.1)" text-anchor="middle" dy="-3.3">2</text><text transform="matrix(1.29,0.2,-0.62,0.32,236,247.7)" text-anchor="middle" dy="-3.3">4</text><text transform="matrix(1.29,0.2,-0.62,0.32,257.6,236)" text-anchor="middle" dy="-3.3">6</text><text transform="matrix(1.29,0.2,-0.62,0.32,278.5,224.1)" text-anchor="middle" dy="-3.3">8</text><text transform="matrix(1.29,0.2,-0.62,0.32,301.1,215.4)" text-anchor="middle" dy="-3.3">10</text><text transform="matrix(1.14,-0.37,0.9,0.33,100.6,246.2)" text-anchor="middle" dy="-3.5" font-style="italic" font-size="12">k<tspan font-size="8" dy="2">x</tspan></text><text transform="matrix(1.29,0.2,-0.62,0.32,287,240)" text-anchor="middle" dy="-3.5" font-style="italic" font-size="12">k<tspan font-size="8" dy="2">y</tspan></text></g>
</g></g></g>
<g clip-path="url(#clipD)"><g transform="translate(336,282.3)"><g id="pd">
<line x1="62.4" y1="203.4" x2="55.4" y2="19.4" stroke="#e0e0e0" stroke-width="0.6" stroke-dasharray="1.5 1.5"/>
<line x1="87.6" y1="193.9" x2="82.3" y2="15" stroke="#e0e0e0" stroke-width="0.6" stroke-dasharray="1.5 1.5"/>
<line x1="111.3" y1="185" x2="107.6" y2="10.9" stroke="#e0e0e0" stroke-width="0.6" stroke-dasharray="1.5 1.5"/>
<line x1="133.7" y1="176.5" x2="131.4" y2="7.1" stroke="#e0e0e0" stroke-width="0.6" stroke-dasharray="1.5 1.5"/>
<line x1="154.9" y1="168.5" x2="153.8" y2="3.5" stroke="#e0e0e0" stroke-width="0.6" stroke-dasharray="1.5 1.5"/>
<line x1="50.4" y1="182.4" x2="173.7" y2="139.4" stroke="#e0e0e0" stroke-width="0.6" stroke-dasharray="1.5 1.5"/>
<line x1="49.3" y1="156.7" x2="173.7" y2="117.1" stroke="#e0e0e0" stroke-width="0.6" stroke-dasharray="1.5 1.5"/>
<line x1="48.2" y1="130.6" x2="173.7" y2="94.4" stroke="#e0e0e0" stroke-width="0.6" stroke-dasharray="1.5 1.5"/>
<line x1="47" y1="104" x2="173.7" y2="71.4" stroke="#e0e0e0" stroke-width="0.6" stroke-dasharray="1.5 1.5"/>
<line x1="45.9" y1="76.9" x2="173.7" y2="48.1" stroke="#e0e0e0" stroke-width="0.6" stroke-dasharray="1.5 1.5"/>
<line x1="44.7" y1="49.3" x2="173.7" y2="24.4" stroke="#e0e0e0" stroke-width="0.6" stroke-dasharray="1.5 1.5"/>
<line x1="300.4" y1="197.2" x2="308.1" y2="16.6" stroke="#e0e0e0" stroke-width="0.6" stroke-dasharray="1.5 1.5"/>
<line x1="272.2" y1="189.2" x2="278" y2="12.9" stroke="#e0e0e0" stroke-width="0.6" stroke-dasharray="1.5 1.5"/>
<line x1="245.4" y1="181.7" x2="249.5" y2="9.5" stroke="#e0e0e0" stroke-width="0.6" stroke-dasharray="1.5 1.5"/>
<line x1="219.8" y1="174.5" x2="222.4" y2="6.2" stroke="#e0e0e0" stroke-width="0.6" stroke-dasharray="1.5 1.5"/>
<line x1="195.5" y1="167.6" x2="196.7" y2="3.1" stroke="#e0e0e0" stroke-width="0.6" stroke-dasharray="1.5 1.5"/>
<line x1="313.8" y1="175.9" x2="173.7" y2="139.4" stroke="#e0e0e0" stroke-width="0.6" stroke-dasharray="1.5 1.5"/>
<line x1="315" y1="150.7" x2="173.7" y2="117.1" stroke="#e0e0e0" stroke-width="0.6" stroke-dasharray="1.5 1.5"/>
<line x1="316.2" y1="125.1" x2="173.7" y2="94.4" stroke="#e0e0e0" stroke-width="0.6" stroke-dasharray="1.5 1.5"/>
<line x1="317.4" y1="99.1" x2="173.7" y2="71.4" stroke="#e0e0e0" stroke-width="0.6" stroke-dasharray="1.5 1.5"/>
<line x1="318.7" y1="72.6" x2="173.7" y2="48.1" stroke="#e0e0e0" stroke-width="0.6" stroke-dasharray="1.5 1.5"/>
<line x1="319.9" y1="45.6" x2="173.7" y2="24.4" stroke="#e0e0e0" stroke-width="0.6" stroke-dasharray="1.5 1.5"/>
<line x1="183.5" y1="257.1" x2="300.4" y2="197.2" stroke="#e0e0e0" stroke-width="0.6" stroke-dasharray="1.5 1.5"/>
<line x1="153.6" y1="245.9" x2="272.2" y2="189.2" stroke="#e0e0e0" stroke-width="0.6" stroke-dasharray="1.5 1.5"/>
<line x1="125.4" y1="235.3" x2="245.4" y2="181.7" stroke="#e0e0e0" stroke-width="0.6" stroke-dasharray="1.5 1.5"/>
<line x1="98.9" y1="225.4" x2="219.8" y2="174.5" stroke="#e0e0e0" stroke-width="0.6" stroke-dasharray="1.5 1.5"/>
<line x1="73.7" y1="215.9" x2="195.5" y2="167.6" stroke="#e0e0e0" stroke-width="0.6" stroke-dasharray="1.5 1.5"/>
<line x1="207.3" y1="256.3" x2="62.4" y2="203.4" stroke="#e0e0e0" stroke-width="0.6" stroke-dasharray="1.5 1.5"/>
<line x1="231.5" y1="243.5" x2="87.6" y2="193.9" stroke="#e0e0e0" stroke-width="0.6" stroke-dasharray="1.5 1.5"/>
<line x1="254.1" y1="231.6" x2="111.3" y2="185" stroke="#e0e0e0" stroke-width="0.6" stroke-dasharray="1.5 1.5"/>
<line x1="275.3" y1="220.4" x2="133.7" y2="176.5" stroke="#e0e0e0" stroke-width="0.6" stroke-dasharray="1.5 1.5"/>
<line x1="295.1" y1="209.9" x2="154.9" y2="168.5" stroke="#e0e0e0" stroke-width="0.6" stroke-dasharray="1.5 1.5"/>
<line x1="173.8" y1="161.4" x2="173.7" y2="0.3" stroke="#8a8a8a" stroke-width="1.1"/>
<line x1="312.6" y1="200.7" x2="321.2" y2="18.2" stroke="#444" stroke-width="1.1" stroke-dasharray="3 2"/>
<line x1="43.6" y1="21.3" x2="173.7" y2="0.3" stroke="#555" stroke-width="0.9" stroke-dasharray="3.2 1.8"/>
<line x1="173.7" y1="0.3" x2="321.2" y2="18.2" stroke="#555" stroke-width="0.9" stroke-dasharray="3.2 1.8"/>
<line x1="51.4" y1="207.6" x2="173.8" y2="161.4" stroke="#555" stroke-width="0.9"/>
<line x1="173.8" y1="161.4" x2="312.6" y2="200.7" stroke="#444" stroke-width="0.9" stroke-dasharray="2 1.5"/>
<polygon points="44.5,130 45.3,127.7 46.1,126.4 46.9,126.5 46.3,126.5 46.9,124 47.5,126.5 47.7,126.2 48.5,125.4 49.5,125.8 50.5,125.8 51.6,125.2 52.6,124.8 53.6,124.6 52.7,124.6 53.6,123.3 54.5,124.6 54.6,123.4 55.7,122.4 56.7,123.8 57.7,124.3 58.7,124.1 59.7,124.7 59,124.7 59.7,123.4 60.4,124.7 59.4,124.7 60,122.2 60.6,124.7 60.8,124.5 61.8,123.6 62.8,122.9 62.3,122.9 62.8,121.3 63.3,122.9 63.8,122.8 63,122.8 63.8,120.2 64.7,122.8 64.8,122.4 65.9,121.9 66.9,121.9 66.2,121.9 66.9,119.6 67.6,121.9 67.9,120.9 68.9,119.8 70,120.3 71,121.2 70.1,121.2 71,118 71.9,121.2 72,121.7 73.1,121 74.2,119.7 75.3,119 76.3,118.1 75.6,118.1 76.3,115 77.1,118.1 77.4,118.7 78.5,119.8 79.6,119 80.7,118.3 81.8,119 82.9,119 83.9,118.6 82.8,118.6 83.5,114.6 84.2,118.6 85,119 84.6,119 85,116 85.4,119 86.1,119 87.2,118.5 88.3,118 89.4,117.4 88.7,117.4 89.4,115.4 90,117.4 90.5,117.3 91.5,117.6 92.6,117.6 93.7,117 94.8,116.8 94.3,116.8 94.8,116 95.3,116.8 95.9,117.4 97,116.9 98.1,115.4 97.3,115.4 98.1,113.2 98.8,115.4 99.1,115.3 98.6,115.3 99.1,113.1 99.7,115.3 100.2,116 101.3,116.4 102.4,117 101.7,117 102.4,114.7 103.1,117 103.5,116.9 104.6,115.3 105.7,114.4 106.7,115 107.8,115.5 107.4,115.5 108,112.5 108.6,115.5 108.9,114.9 110,113.9 111,114 110.5,114 111,112.4 111.6,114 112.1,114.9 113.1,115.2 114.1,114.1 115.2,111.9 116.2,111.2 117.2,111.2 118.3,110.4 117.6,110.4 118.3,109.4 119,110.4 119.3,110.7 120.3,111.1 121.4,110.5 120.9,110.5 121.4,109 121.8,110.5 122.4,110.2 123.4,110.7 124.5,111.1 123.5,111.1 124,108.6 124.5,111.1 125.5,110.5 126.6,109.7 127.6,109.5 128.6,108.9 129.7,108.3 130.7,108.2 130.1,108.2 130.7,105 131.3,108.2 131.7,108.4 131,108.4 131.7,105.3 132.5,108.4 132.8,107.6 133.8,106.2 134.8,105.8 135.9,105.8 135.1,105.8 135.9,104.9 136.7,105.8 136.9,106 137.9,107 137.1,107 137.9,106 138.7,107 139,107.1 140,106.8 139.2,106.8 140,103.8 140.8,106.8 141,107 142.1,106.1 143.1,105.6 144.2,106.2 145.2,105.9 146.2,105.2 147.3,104 148.3,103 149.4,103.1 150.4,102.8 151.4,102.6 152.5,102.1 153.5,100.9 154.6,101.5 155.6,102.3 156.6,102 157.7,102.3 157.1,102.3 157.7,100.9 158.2,102.3 158.7,102.4 159.8,101.2 160.8,100.1 161.8,100.8 162.9,102.2 163.9,101.3 165,99.4 164.3,99.4 165,97 165.6,99.4 166,99.5 166,140 164.8,139.2 163.7,138.9 162.5,139.6 161.3,140.7 160.1,141.8 159,142.1 157.8,142.2 156.6,142.8 155.4,142.7 154.3,141.4 153.1,140.3 151.9,140.6 150.7,141.2 149.6,141.5 148.4,142.1 147.2,142.2 146,142 144.9,142.4 143.7,142.9 142.5,142.7 141.3,143.2 140.2,144 139,143.6 137.8,142.9 136.7,143 135.5,143.3 134.3,143.7 133.1,143.5 132,143.2 130.8,143.8 129.6,144.4 128.4,144.1 127.3,143.9 126.1,144.4 124.9,144.8 123.7,145.1 122.6,145.2 121.4,144.7 120.2,144.7 119,145 117.9,145.4 116.7,145.5 115.5,145.2 114.3,145.6 113.2,146 112,145.4 110.8,144.2 109.6,144 108.4,144.8 107.3,145.6 106.1,145.4 104.9,144.5 103.7,143.9 102.5,143.5 101.3,143.6 100.1,144.3 99,144.4 97.8,144.4 96.6,144.7 95.4,144.4 94.2,143.6 93,143.3 91.9,143.5 90.7,143.9 89.5,144.2 88.3,143.4 87.1,142.7 85.9,142.9 84.7,142.8 83.6,142.8 82.4,143 81.2,142.4 80,142.2 78.9,142.4 77.7,142.9 76.6,143.8 75.4,144.4 74.3,144.4 73.1,144.3 72,143.7 70.8,143.3 69.7,143.9 68.5,145 67.3,145.2 66.2,145 65,145.5 63.8,145.8 62.7,145.7 61.5,145.3 60.3,144.7 59.2,144.6 58,145.4 57.2,144.7 56.5,143.5 55.8,142.6 55,141.6 54.2,140.9 53.3,140 52.5,139.1 51.7,138.4 50.8,137.7 50,137 49.6,136.3 49.2,135.2 48.9,133.7 48.5,132.5 47.5,132.4 46.5,132.5 45.5,131.8 44.5,131" fill="url(#pdg0)"/>
<g clip-path="url(#pdc0)" stroke="#1c3010" stroke-opacity="0.5" stroke-width="0.65" stroke-dasharray="2.2 1.6"><line x1="42.5" y1="134.9" x2="168" y2="111.1"/><line x1="42.5" y1="146.4" x2="168" y2="122.6"/></g>
<polygon points="160,101 161,101.9 162,101.2 163.1,100.7 164.1,100.5 165.1,99.7 164.2,99.7 165,95.7 165.8,99.7 166.1,98.9 165.3,98.9 166.1,96.2 166.9,98.9 167.2,98.9 168.2,99.1 169.2,98.4 170.2,97.5 169.5,97.5 170.2,96 170.9,97.5 171.2,97.4 172.3,97.5 173.3,97.1 172.7,97.1 173.3,94.2 173.9,97.1 174.3,96.5 175.3,96.9 176.2,97 177.2,97.2 178.1,98.3 177.2,98.3 178.1,95.4 179,98.3 179.1,99.1 180,99.2 181,98 182,97 183,97.9 184,98.7 185,99.2 186,100.1 185.4,100.1 186,97.3 186.6,100.1 187,100.9 188,101.5 189,101.4 188.6,101.4 189,100 189.4,101.4 190,101 191,101.5 192,102.1 193,101.8 194,101.4 195,101.2 194.1,101.2 195,99.8 195.9,101.2 196,100.9 195.4,100.9 196,99.2 196.6,100.9 197,101.4 198,102.7 199,103.6 200,103.4 199.2,103.4 200,100.4 200.8,103.4 201.1,102.3 202.1,101.9 201.5,101.9 202.1,100 202.7,101.9 203.2,102.3 202.6,102.3 203.2,100.4 203.8,102.3 204.2,102.6 205.3,102.9 206.3,103.4 207.4,102.9 206.9,102.9 207.4,101.2 207.9,102.9 208.4,101.9 207.8,101.9 208.4,99.7 209.1,101.9 209.5,101.8 210.6,101.8 209.7,101.8 210.6,101 211.4,101.8 211.6,101.7 211.2,101.7 211.6,100.5 212.1,101.7 211.4,101.7 212,99.2 212.6,101.7 212.7,101.5 213.7,101.4 214.8,102.9 215.8,103.6 216.9,102.1 217.9,101 219,101.5 219.8,102.2 220.6,102.4 221.3,102.7 222.1,103.6 221.6,103.6 222.1,100.7 222.7,103.6 222.9,105.7 223.7,106.3 224.4,106.6 225.2,108.2 226,108 227,107.4 228,108 227.2,108 228,106.4 228.8,108 229,108.5 230,108.8 231,110.1 232,111.8 233,112.4 234,112.4 235,112.1 236,112 236,140 160,140" fill="url(#pdg1)"/>
<g clip-path="url(#pdc1)" stroke="#1c3010" stroke-opacity="0.5" stroke-width="0.65" stroke-dasharray="2.2 1.6"><line x1="158" y1="118" x2="238" y2="118"/></g>
<polygon points="230,110.5 231,109.9 232,110.4 231.4,110.4 232,107.4 232.6,110.4 233,111 232.4,111 233,108.1 233.6,111 234,111.8 235,112.4 236,111.7 237.1,110.7 238.1,111.2 239.2,111.8 240.2,112.2 241.3,112.6 240.8,112.6 241.3,111.1 241.8,112.6 242.4,112.7 243.4,113.7 244.5,114.1 245.5,111.9 246.6,110.7 247.6,112.6 248.7,113.8 249.8,113.4 250.8,113.7 251.9,113.6 251.3,113.6 251.9,110.5 252.4,113.6 252.9,112.7 254,113.5 255.1,114.6 256.1,113.9 257.2,113.4 258.3,114 259.3,114 260.4,113 261.5,113.4 261.4,113.4 262,110.9 262.6,113.4 262.5,115 263.6,114.9 264.7,114 264.1,114 264.7,110.9 265.2,114 265.7,114.1 266.8,114.5 267.9,115.2 268.9,115.1 270,113.7 271.1,113.5 272.2,113.6 273.2,112.8 274.3,113.1 275.4,114.7 276.5,115.9 277.5,115.8 276.7,115.8 277.5,113.7 278.4,115.8 278.6,115.5 279.7,115.9 280.8,116.6 281.8,116.2 282.9,115 284,115.2 285,116.2 284.4,116.2 285,113.2 285.6,116.2 286,116.4 287,117.4 288,117.9 289,117.4 290,117.9 289.5,117.9 290,116.3 290.5,117.9 291,118.4 292,117.9 293,118 294,119 295,119.9 296,119.7 297,119.1 298,119.4 299.1,120.1 300.1,120.4 299.5,120.4 300.1,117.6 300.7,120.4 301.2,119.8 302.3,119.4 303.3,119.6 302.5,119.6 303.3,117.3 304.2,119.6 304.4,119.1 305.5,119.3 306.5,120.8 307.6,121.2 307.2,121.2 307.6,119.5 308,121.2 308.7,120.4 309.7,120.3 310.8,120.3 311.9,120.2 312.9,121.2 314,121.6 314.5,122.3 314,122.3 314.5,121 315,122.3 315,122.9 314.4,122.9 315,120.8 315.6,122.9 315.5,124 315.5,124 315.3,124.6 315.2,125.9 315,126.9 314.3,127.1 313.7,127.7 313,128.4 312,129.2 311,130 310,130.4 309.3,130.9 308.7,131.9 308,133.2 307.3,133.6 306.7,133.8 306,135 305.4,136.7 304.9,136.8 304.3,136.6 303.7,138.2 303.1,140.5 302.6,142.1 302,142.5 300.8,141.3 299.7,141.3 298.5,141.8 297.3,141.6 296.2,140.6 295,140.3 294,141.1 293,141.2 292,140.2 291.7,141 291.4,142.2 291.1,143 290.9,143.6 290.6,144.4 290.3,145.8 290,148.1 289.4,149.8 288.8,150.1 288.2,150.2 287.6,150.7 287,152 286,153 285,152.8 284,152.5 283,152.1 282,151.3 280.8,151.6 279.7,152.8 278.5,153.4 277.3,153.4 276.2,153.4 275,153.1 273.9,152.5 272.7,152.4 271.6,152.5 270.4,152.4 269.3,152.4 268.1,152.6 267,152.6 265.8,152.6 264.7,153.2 263.5,153.5 262.3,152.4 261.1,151.9 260,152.9 258.8,153 257.6,152 256.4,151.3 255.3,151.5 254.1,152.4 252.9,153 251.7,152.8 250.6,152.4 249.4,151.6 248.2,150.5 247,150.4 245.9,150.6 244.7,150.1 243.5,150.6 242.3,151.6 241.2,151 240,150.1 239,149.7 238,148.5 237,147.4 236,147.4 235,147.9 234,148.1 233,146.8 232,145.1 231,144.2 230,145" fill="url(#pdg2)"/>
<g clip-path="url(#pdc2)" stroke="#1c3010" stroke-opacity="0.5" stroke-width="0.65" stroke-dasharray="2.2 1.6"><line x1="228" y1="117.3" x2="317.6" y2="129.2"/><line x1="228" y1="129.1" x2="317.6" y2="141"/><line x1="228" y1="140.1" x2="317.6" y2="152"/></g>
<rect x="90" y="85" width="180" height="60" fill="url(#pdtint)" clip-path="url(#pdtintclp)"/>
<polygon points="80,131 81.5,130.8 82.9,130.5 84.4,130.3 85.8,129.8 87.3,129.2 88.8,128.9 90.2,128.9 91.7,128.8 93.2,128.4 94.6,128.1 96.1,127.8 97.5,127.6 99,127.2 100.5,126.9 101.9,126.5 103.4,126.2 104.8,125.9 106.3,125.6 107.8,125.4 109.2,125.4 110.7,124.9 112.2,124.6 113.6,124.5 115.1,123.9 116.5,123.1 118,122.9 119.5,122.9 120.9,122.7 122.4,122.4 123.8,122.1 125.3,121.8 126.8,121.6 128.2,121.5 129.7,121.3 131.2,120.8 132.6,120.5 134.1,120.3 135.5,119.8 137,119.3 138.5,119.1 139.9,119.1 141.4,118.9 142.8,118.4 144.3,117.9 145.8,117.6 147.2,117.3 148.7,117 150.2,116.9 151.6,116.7 153.1,116.4 154.5,115.9 156,115.4 157.5,115.3 158.9,115.4 160.4,115 161.8,114.5 163.3,114.2 164.8,113.7 166.2,113.4 167.7,113.5 169.2,113.4 170.6,112.8 172.1,112.4 173.5,112.4 175,112 176.5,111.7 177.9,111.4 179.4,110.9 180.8,110.3 182.3,110.1 183.8,110.1 185.2,109.9 186.7,109.5 188.2,109 189.6,108.6 191.1,108.4 192.5,108.3 194,108 194,150 192.8,149.4 191.6,149.2 190.4,149.3 189.2,150.2 188.1,150.2 186.9,150.4 185.7,150.4 184.5,149.9 183.3,149.7 182.1,149.4 180.9,149.3 179.7,150.1 178.6,151 177.4,150.7 176.2,150.6 175,151.2 173.8,151.1 172.6,150.7 171.4,150.5 170.2,149.7 169,149.6 167.9,150.1 166.7,150 165.5,150 164.3,150.4 163.1,150.3 161.9,150.2 160.7,150.4 159.5,150.9 158.3,151.6 157.2,151.7 156,150.9 154.8,150 153.6,150.4 152.4,150.8 151.2,150.3 150,150 148.8,149.9 147.7,149.8 146.5,150 145.3,150.5 144.1,150.7 142.9,150.6 141.7,150.7 140.5,150.4 139.3,150.3 138.1,151 137,151 135.8,150.2 134.6,150.2 133.4,150.7 132.2,150.7 131,150.5 129.8,150.2 128.6,149.8 127.4,149.8 126.3,150.4 125.1,150.9 123.9,150.3 122.7,150.4 121.5,151.4 120.3,151.3 119.1,150.5 117.9,150.9 116.8,151.3 115.6,150.3 114.4,149.6 113.2,149.3 112,148.7 111.3,149.3 110.7,150.6 110,151.9 109,152.9 108,153.1 107,153.3 106,153.6 105,153.7 104,154.4 103,155 102,155.1 101,155.5 100,155.8 99,155.6 98,155.7 97,156.1 96,156.2 95,156.2 94,156.2 93,156.5 92,156.9 91,156.6 90,156.3 89,156.6 88,156.6 87,155.3 86,154.6 85,154.7 84,154.6 83,154.5 82.7,154 82.4,153.3 82.1,151.6 81.9,149.9 81.6,149 81.3,148.8 81,148.3 80.9,146.5 80.7,145.3 80.6,144.8 80.4,144.3 80.3,143.1 80.1,141.2 80,140" fill="url(#pdg3)"/>
<g clip-path="url(#pdc3)" stroke="#1c3010" stroke-opacity="0.5" stroke-width="0.65" stroke-dasharray="2.2 1.6"><line x1="78" y1="147.9" x2="196" y2="118.4"/></g>
<polygon points="110,128 111.4,127.9 112.9,127.5 114.3,127 115.8,126.4 117.2,126.2 118.7,126.4 120.1,125.9 121.6,125.2 123,124.9 124.5,124.6 125.9,124.5 127.4,124.7 128.8,124.5 130.3,123.9 131.7,123.3 133.2,123.2 134.6,123.3 136.1,123.1 137.5,122.4 139,121.8 140.4,121.6 141.9,121.4 143.3,121 144.8,120.5 146.2,120.2 147.7,120.2 149.1,119.9 150.6,119.3 152,119.2 153.4,119.4 154.9,119 156.3,118.1 157.8,117.8 159.2,117.6 160.7,117.2 162.1,116.6 163.6,116 165,115.7 166.5,115.6 167.9,115.6 169.4,115.5 170.8,115 172.3,114.5 173.7,114.2 175.2,114.1 176.6,113.7 178.1,113.3 179.5,113.1 181,112.8 182.4,112.3 183.9,111.9 185.3,111.6 186.8,111.6 188.2,111.8 189.7,111.5 191.1,110.8 192.6,110.3 194,110 194,160 192.8,160.2 191.6,159.7 190.5,160.2 189.3,160.8 188.1,161.1 186.9,161.2 185.7,161.3 184.6,161.5 183.4,161.9 182.2,162 181,161.8 179.8,161.7 178.7,161.5 177.5,161.4 176.3,162.1 175.1,162.9 173.9,163.3 172.8,163.2 171.6,163.4 170.4,163.8 169.2,164 168,163.5 166.9,162.6 165.7,162.7 164.5,163.2 163.3,164 162.1,164.8 161,164.7 159.8,164 158.6,163.8 157.4,164.3 156.2,165.1 155,165.5 153.9,165.3 152.7,165.7 151.5,166.3 150.3,166.3 149.1,166.3 148,166.5 146.8,166.7 145.6,166.8 144.4,166.5 143.2,166.1 142.1,166.3 140.9,167.1 139.7,167.5 138.5,167 137.3,167.3 136.2,168 135,168.2 133.8,168.3 132.6,168.3 131.4,168.4 130.3,168.9 129.1,168.9 127.9,168 126.7,168 125.5,168.6 124.4,168.9 123.2,169.8 122,170.4 121,170.3 120,170.4 119,169.8 118,169.4 117,169.5 116,169.4 115,169 114,168.7 113,168.3 112.7,166.4 112.4,164.5 112.1,164.1 111.9,163.4 111.6,161.5 111.3,160.3 111,159.5 110.9,158.8 110.7,157.8 110.6,156.2 110.4,154.9 110.3,153.7 110.1,152.7 110,152" fill="url(#pdg4)"/>
<g clip-path="url(#pdc4)" stroke="#1c3010" stroke-opacity="0.5" stroke-width="0.65" stroke-dasharray="2.2 1.6"><line x1="108" y1="156.4" x2="196" y2="137"/></g>
<polygon points="194,108 195.5,108.5 196.9,108.7 198.4,109 199.9,109.1 201.3,109.4 202.8,109.8 204.2,110 205.7,110.4 207.2,110.7 208.6,111 210.1,111.3 211.6,111.3 213,111.4 214.5,111.8 215.9,112.2 217.4,112.4 218.9,112.5 220.3,113 221.8,113.4 223.3,113.5 224.7,113.8 226.2,114.4 227.6,114.7 229.1,115.1 230.6,115.5 232,115.5 233.5,115.5 235,115.8 236.4,116.5 237.9,117 239.3,117.1 240.8,117.1 242.3,117.3 243.7,117.7 245.2,118.1 246.7,118.4 248.1,118.5 249.6,118.6 251,118.9 252.5,119.2 254,119.6 255.4,119.9 256.9,120.3 258.4,120.7 259.8,121 261.3,121.1 262.7,121.4 264.2,121.6 265.7,121.7 267.1,121.9 268.6,122.2 270.1,122.7 271.5,123.3 273,123.8 274.4,124 275.9,124 277.4,124.5 278.8,124.8 280.3,124.8 281.8,125 283.2,125.1 284.7,125.2 286.1,125.8 287.6,126.4 289.1,126.6 290.5,126.6 292,127 292,139 291.8,140.2 291.5,141.6 291.2,142.6 291,143.3 290.8,144.5 290.5,146 290.2,148 290,148.8 289.4,148.2 288.8,149.1 288.2,151.5 287.6,153.1 287,152.9 286,151.7 285,151.5 284,152.2 283,152.5 282,151.8 280.8,151.5 279.7,152.2 278.5,152.6 277.3,151.9 276.2,151.4 275,151.7 273.9,152.4 272.7,152.4 271.6,152.6 270.4,153.7 269.3,153.8 268.1,153.1 267,152.7 265.8,153.1 264.6,153.2 263.4,152.7 262.2,153 261,153.6 259.8,152.6 258.6,151.4 257.4,151.7 256.2,152.7 255,152.8 253.8,152.2 252.6,152 251.4,152.2 250.2,152.4 249,152.2 247.9,152.8 246.7,153.5 245.5,153.2 244.3,152.8 243.1,152.3 241.9,152.4 240.7,153.3 239.5,153.3 238.3,152.4 237.1,152.1 235.9,152.1 234.7,152 233.5,151.9 232.3,151 231.1,150.2 229.9,150.7 228.7,151.8 227.5,151.8 226.3,151.1 225.1,151 223.9,150.6 222.7,150.6 221.5,151.2 220.3,151.2 219.1,151.1 217.9,151.8 216.7,152.5 215.5,151.9 214.3,151 213.1,151.1 212,151.5 210.8,151.9 209.6,151.5 208.4,150.1 207.2,149.7 206,150.3 204.8,150.6 203.6,150.5 202.4,150.4 201.2,150.8 200,150.6 198.8,149.7 197.6,149.3 196.4,149.7 195.2,150.2 194,150" fill="url(#pdg5)"/>
<g clip-path="url(#pdc5)" stroke="#1c3010" stroke-opacity="0.5" stroke-width="0.65" stroke-dasharray="2.2 1.6"><line x1="192" y1="129" x2="294" y2="149.4"/></g>
<polygon points="194,110 195.5,110.5 196.9,110.6 198.4,110.6 199.8,110.6 201.3,111.2 202.8,111.7 204.2,111.8 205.7,112.3 207.1,112.8 208.6,113 210.1,113.2 211.5,113.2 213,113.3 214.4,114 215.9,114.6 217.4,114.7 218.8,114.7 220.3,114.8 221.7,115.2 223.2,115.7 224.7,116 226.1,116.6 227.6,117 229,116.9 230.5,116.7 232,117 233.4,117.5 234.9,118 236.3,118.3 237.8,118.4 239.3,118.6 240.7,118.8 242.2,119 243.6,119.2 245.1,119.5 246.6,119.6 248,119.9 249.5,120.4 250.9,120.9 252.4,121.5 253.9,121.8 255.3,121.9 256.8,122.2 258.2,122.3 259.7,122.4 261.2,123 262.6,123.4 264.1,123.3 265.5,123.5 267,124 267,153 266.6,153.6 266.2,155.1 265.8,156.5 265.4,157.3 265,158.2 264.6,159.2 264.1,160.1 263.7,161 263.3,161.5 262.9,162 262.4,163.5 262,165.4 261.3,166.7 260.7,167.3 260,167.6 259.3,168.6 258.7,169.7 258,170.1 256.9,169.5 255.7,169.1 254.6,169.1 253.4,169.8 252.3,170.6 251.1,170.5 250,170.3 249,170.6 248,169.9 247,168.7 246,168.7 245,169.5 244,169.7 243,169 242,168.2 240.8,167.8 239.7,167.6 238.5,167.5 237.3,167.5 236.1,167.6 235,167.6 233.8,167.8 232.6,168 231.5,168 230.3,167.8 229.1,167.4 228,166.8 226.8,166.5 225.6,166.9 224.4,168 223.3,168.2 222.1,167.3 220.9,166.8 219.8,166.9 218.6,167.2 217.4,167 216.2,166.1 215.1,165.6 213.9,165.7 212.7,166.1 211.6,166 210.4,165.4 209.2,164.9 208,164.5 206.9,164.9 205.7,165.5 204.5,165.3 203.4,165.9 202.2,167 201,166.9 199.9,166 198.7,165 197.5,164.6 196.3,164.4 195.2,164.1 194,165" fill="url(#pdg6)"/>
<g clip-path="url(#pdc6)" stroke="#1c3010" stroke-opacity="0.5" stroke-width="0.65" stroke-dasharray="2.2 1.6"><line x1="192" y1="111.6" x2="269" y2="128.6"/><line x1="192" y1="143.4" x2="269" y2="160.4"/></g>
<polygon points="122,134.5 123.5,134.1 124.9,133.5 126.4,132.6 127.8,132.2 129.3,132.4 130.7,132.2 132.2,131.9 133.6,131.5 135.1,130.9 136.5,130.7 138,130.7 139.4,130.3 140.9,129.6 142.3,129 143.7,128.8 145.2,129 146.6,128.9 148.1,128.8 149.5,128.2 150.9,127.5 152.4,127.3 153.8,127.2 155.2,126.9 156.7,126.4 158.1,125.7 159.5,125.3 161,125.5 162.4,125.5 163.8,125.3 165.3,124.5 166.7,123.5 168.2,122.9 169.6,122.7 171,122.6 172.5,122 173.9,121.6 175.3,121.5 176.8,121.3 178.2,120.8 179.6,120.4 181.1,120.3 182.5,120.1 183.9,119.7 185.4,118.9 186.8,118.4 188.3,118.6 189.7,118.5 191.1,118 192.6,117.4 194,117 194,165 192.8,165.3 191.6,165.5 190.4,165.2 189.2,165.4 188.1,166 186.9,166.2 185.7,166.3 184.5,166.2 183.3,165.9 182.1,165.5 180.9,165.6 179.8,165.9 178.6,165.7 177.4,165.4 176.2,165.7 175,166.5 173.8,166.7 172.6,166.3 171.4,165.9 170.2,165.5 169.1,165.9 167.9,166.7 166.7,167.2 165.5,166.7 164.3,166.4 163.1,167.1 161.9,167.8 160.8,168.2 159.6,168 158.4,167.7 157.2,167.9 156,167.9 154.8,167.5 153.6,167.8 152.4,168.2 151.2,167.8 150.1,167.8 148.9,167.8 147.7,167.7 146.5,168.2 145.3,169.1 144.1,169.4 142.9,169.4 141.8,169.4 140.6,168.8 139.4,168.6 138.2,169.6 137,170.2 135.8,169.6 134.7,169.3 133.5,169 132.3,168.4 131.2,168 130,167.4 129,167.4 128,168.4 127,169 126,168.8 125,168.2 124,167.8 123,167.5 122,168" fill="url(#pdg7)"/>
<g clip-path="url(#pdc7)" stroke="#1c3010" stroke-opacity="0.5" stroke-width="0.65" stroke-dasharray="2.2 1.6"><line x1="120" y1="134.5" x2="196" y2="115.5"/><line x1="120" y1="167" x2="196" y2="148"/></g>
<polygon points="138,127.5 139.4,127.1 140.8,126.7 142.2,126.8 143.5,126.7 144.9,126 146.3,124.9 147.7,124.3 149.1,124.2 150.5,123.9 151.8,123.6 153.2,123.6 154.6,123.5 156,122.5 157.5,121.8 158.9,121.9 160.4,122.2 161.8,122 163.3,121.4 164.8,120.7 166.2,120.5 167.7,120.8 169.2,120.6 170.6,119.9 172.1,119.7 173.5,119.3 175,118.9 176.5,118.5 177.9,118.4 179.4,118.2 180.8,117.7 182.3,117.4 183.8,117.2 185.2,116.5 186.7,115.9 188.2,115.5 189.6,115.2 191.1,115.4 192.5,115.1 194,115 194,190 192.8,189.3 191.6,189.3 190.4,189.9 189.2,190.8 188.1,190.6 186.9,190.3 185.7,190 184.5,189.6 183.3,189.7 182.1,189.8 180.9,190 179.8,190.4 178.6,190 177.4,189.7 176.2,190.7 175,191.4 173.8,191.1 172.6,190.8 171.4,190.4 170.2,190.2 169.1,190.7 167.9,191.1 166.7,191.2 165.5,190.9 164.3,190.6 163.1,191.1 161.9,191.6 160.8,191.4 159.6,191.1 158.4,191 157.2,190.8 156,190.6 155,191.7 154,192.9 153,193.6 152,194.5 151,194.5 150,194.1 149,193.9 148,193.9 147,193.8 146,194 145,193.9 144,193.8 143,193.6 142,193 141.6,191.6 141.2,191.2 140.9,191 140.5,189.7 140.1,188.5 139.8,187.4 139.4,186.2 139,185 138.9,183.6 138.8,182.5 138.8,181.3 138.7,179.8 138.6,178.7 138.5,177.8 138.5,176.2 138.4,174.7 138.3,173.7 138.2,172.7 138.2,172 138.1,171.3 138,170" fill="url(#pdg8)"/>
<g clip-path="url(#pdc8)" stroke="#1c3010" stroke-opacity="0.5" stroke-width="0.65" stroke-dasharray="2.2 1.6"><line x1="136" y1="139.4" x2="196" y2="126.2"/><line x1="136" y1="164.7" x2="196" y2="151.5"/><line x1="136" y1="182.2" x2="196" y2="169"/></g>
<polygon points="194,115 195.5,115.1 197,115.6 198.4,115.8 199.9,115.8 201.4,116.2 202.9,116.2 204.4,115.7 205.8,115.8 207.3,115.9 208.8,115.9 210.3,116.3 211.8,116.5 213.2,116.7 214.7,116.9 216.2,117.2 217.7,117.4 219.2,117.4 220.6,117.3 222.1,117 223.6,117.1 225.1,117.6 226.6,117.8 228,117.6 229.5,117.7 231,118.1 232.4,118.6 233.8,119.1 235.1,119.4 236.5,119.6 237.9,119.7 239.2,119.8 240.6,120.2 242,121 242,168 242,169 241.9,169.9 241.9,171.8 241.8,173.5 241.8,174.5 241.7,174.8 241.7,175.1 241.6,176.7 241.6,178.5 241.5,179.1 241.5,179.6 241.4,181.1 241.4,182.6 241.3,183.6 241.3,184.4 241.2,185.4 241.2,186.8 241.1,187.7 241.1,188.3 241,189.3 240.2,190.2 239.5,191 238.8,191.5 238,192.6 237,193 236,192.6 235,191.9 234,191.9 233,191.5 232,191.4 230.8,192.1 229.6,192.7 228.4,192.9 227.2,192.6 226.1,192 224.9,190.9 223.7,190.6 222.5,191.1 221.3,191.5 220.1,191.7 218.9,191.2 217.8,190.8 216.6,191 215.4,191.2 214.2,191.2 213,191.2 211.8,190.9 210.6,190.5 209.4,190.4 208.2,190.7 207.1,190.8 205.9,190.2 204.7,190.2 203.5,190.7 202.3,190.8 201.1,190.2 199.9,190 198.8,190.2 197.6,190.1 196.4,190.2 195.2,190.2 194,190" fill="url(#pdg9)"/>
<g clip-path="url(#pdc9)" stroke="#1c3010" stroke-opacity="0.5" stroke-width="0.65" stroke-dasharray="2.2 1.6"><line x1="192" y1="126.3" x2="244" y2="137.8"/><line x1="192" y1="152.8" x2="244" y2="164.3"/><line x1="192" y1="170.3" x2="244" y2="181.8"/></g>
<polygon points="156,114.5 156.7,113.4 157.4,112.4 158.1,111.6 158.8,110.9 159.5,111.2 160.2,111.9 160.9,112.8 161.6,113.9 162.3,115 163,114.4 163.7,113.6 164.4,112.9 165.1,112.5 165.8,113.1 166.5,113.8 167.2,114.6 167.9,115.5 168.6,115.5 169.3,114.4 170,113.5 170.7,112.7 171.4,112.8 172.1,113.6 172.8,114.6 173.5,115.7 174.2,114.5 174.9,112.8 175.6,111.2 176.3,109.7 177,108.4 177.7,107.3 178.4,107 179.1,107.9 179.8,109.1 180.5,110.5 181.2,112.1 181.9,113.7 182.6,112.6 183.3,111.7 184,111 184.7,111.7 185.4,112.6 186.1,113 186.8,111 187.5,109.1 188.2,107.5 188.9,106.1 189.6,106.3 190.3,107.7 191,109.4 191.7,111.3 192.4,113.3 193.1,112.1 193.8,111.2 194.5,111.5 195.2,112.7 195.9,114 196.6,113.6 197.3,112.4 198,111.3 198.7,110.3 199.4,109.9 200.1,110.6 200.8,111.6 201.5,112.7 202.2,113.9 202.9,114.2 203.6,113.3 204.3,112.5 205,112 205.7,112.5 206.4,113.3 207.1,114.2 207.8,112.5 208.5,110.9 209.2,109.5 209.9,108.3 210.6,108 211.3,109 212,110.3 212.7,111.8 213.4,113.4 214.1,112.9 214.8,112.1 215.5,112.4 216.2,113.4 216.9,114 217.6,112.5 218.3,111.2 219,110.2 219.7,110.1 220.4,111.1 221.1,112.3 221.8,113.8 222.5,114.1 223.2,113.2 223.9,112.5 224.6,113 225.3,113.8 226,114 226.7,110.8 227.4,108 228.1,105.7 228.8,105.4 229.5,107.6 230.2,110.4 230.9,113.6 231,117 231,118.8 231,119.9 231,120.9 231,122 231,123 231,123.9 231,125.2 231,126.4 231,127.8 231,129.1 231,130.3 231,131.8 231,133.2 231,134 231,134.8 231,136 231,137.3 231,138.7 231,140.1 231,141.1 231,141.9 231,143.3 231,145.2 231,146.7 231,147.5 231,147.9 231,149.3 231,150.7 231,151.8 231,153 231,154.2 231,155.2 231,156.1 231,157.3 231,158.8 231,160.4 231,161.6 231,162.5 231,164 231,165.2 231,166.2 231,167.9 231,169 231,170 231,171 231,171.8 231,173.2 231,174.8 231,175.9 231,177.1 231,178.3 231,179.3 231,180.2 231,181.5 231,183.1 231,184.3 231,185.3 231,186.3 231,187.5 231,189.2 231,190.5 229.8,190.1 228.6,190 227.4,190.1 226.2,190.1 225,189.9 223.8,189.3 222.6,189.4 221.5,189.7 220.3,189.8 219.1,190.2 217.9,189.9 216.7,189.6 215.5,189.9 214.3,189.8 213.1,189.6 211.9,190 210.7,190.1 209.5,189.9 208.3,189.9 207.1,189.5 205.9,189.2 204.7,189.7 203.5,190.6 202.4,190.8 201.2,190.6 200,190.6 198.8,190.5 197.6,190 196.4,189.4 195.2,189.3 194,189.5 192.8,189.6 191.6,189.8 190.4,190.2 189.2,190.2 188.1,189.7 186.9,189.7 185.7,189.9 184.5,190.3 183.3,190.5 182.1,190.3 180.9,190.4 179.8,190.5 178.6,190.2 177.4,190.2 176.2,190.5 175,190.3 173.8,189.8 172.6,189.9 171.4,190.3 170.2,190.2 169.1,189.9 167.9,189.9 166.7,190 165.5,189.8 164.3,190 163.1,190.7 161.9,191.3 160.8,191.1 159.6,190.5 158.4,190.6 157.2,191.2 156,191.3 156,189.6 156,188 156,186.1 156,184.6 156,183.8 156,183.1 156,182.3 156,181.5 156,180.2 156,178.8 156,177.7 156,176.5 156,175.1 156,173.5 156,172.4 156,171 156,169.6 156,168.6 156,167.8 156,166.7 156,165.6 156,164.8 156,163.6 156,162.3 156,161.3 156,160 156,158.6 156,157.3 156,155.8 156,154.3 156,153.1 156,152.1 156,151.3 156,150.2 156,148.6 156,147.1 156,146.6 156,146.1 156,144.5 156,142.9 156,141.9 156,140.7 156,139.4 156,138 156,136.5 156,135.2 156,134.1 156,133.2 156,132.4 156,131.2 156,129.8 156,128.6 156,127.2 156,125.7 156,124.6 156,124.1 156,123.3 156,122.2 156,120.9 156,119.3 156,118" fill="url(#pdg10)"/>
<g clip-path="url(#pdc10)" stroke="#1c3010" stroke-opacity="0.5" stroke-width="0.65" stroke-dasharray="2.2 1.6"><line x1="154" y1="118.6" x2="233" y2="118.6"/><line x1="154" y1="141" x2="233" y2="141"/><line x1="154" y1="161" x2="233" y2="161"/><line x1="154" y1="180" x2="233" y2="180"/></g>
<polygon points="168,144 169.7,143.6 171.4,143.1 173.1,142.8 174.9,142.6 176.6,142.4 178.3,142.1 180,141.8 181.8,141.8 183.5,141.6 185.2,141.5 187,141.4 188.8,141.3 190.5,141.2 192.2,141.2 194,141.1 195.8,141.1 197.5,141.1 199.2,141.2 201,141.5 202.8,141.6 204.5,141.6 206.2,141.8 208,141.7 209.7,141.8 211.4,142.3 213.1,142.7 214.9,143 216.6,143.3 218.3,143.6 220,144 220,144 220,145.7 220,147.1 220,148.3 219.9,149.6 219.9,150.8 219.9,152.4 219.9,154.3 219.9,155.9 219.9,157.5 219.9,159.1 219.9,160.5 219.8,161.7 219.8,163.2 219.8,164.9 219.8,166.2 219.8,167.5 219.8,169.4 219.8,171.1 219.8,172.5 219.7,173.9 219.7,175.4 219.7,176.8 219.7,178.2 219.7,179.6 219.7,181.1 219.7,182.7 219.7,184.1 219.6,185.5 219.6,187.1 219.6,188.6 219.6,190.2 219.5,191.8 219.4,193.2 219.3,194.3 219.2,195.4 219.1,196.6 219,198 218.8,199.3 218.5,200.5 218.3,202.1 218.1,203.6 217.8,204.9 217.6,206.1 217.4,207.1 217.1,208.3 216.9,209.8 216.7,211.3 216.4,212.8 216.2,214.2 216,215.5 215.8,217 215.6,218.3 215.4,219.5 215.2,220.6 215,221.9 214.8,223.2 214.5,224.8 214.3,226.3 214,227.6 213.8,228.9 213.6,230.2 213.3,231.4 213.1,232.3 212.8,233.6 212.6,234.9 212.3,236.3 212,237.6 211.6,238.7 211.3,239.9 211,241.1 210.5,242.2 210,243.3 209.5,244.7 209,246.4 208.3,247.9 207.7,249 207,249.8 206.3,250.9 205.4,251.9 204.4,252.8 203.4,253.6 202.5,254.3 201.5,255 200.5,255.6 199.5,255.9 198.7,256.2 197.8,256.5 197.7,257.7 197.5,259.2 197.3,260.3 197.2,261.3 196.3,261.4 195.4,262 195.3,261.3 195.2,260.1 195,258.3 194.9,256.6 194.1,256 193.2,255.6 192.2,255.3 191.3,255 190.3,254.5 189.4,253.8 188.6,252.9 187.7,251.8 186.8,251 186.2,250 185.5,248.8 184.8,247.5 184.2,246.5 183.6,245.4 183.1,243.8 182.6,242.3 182,240.8 181.7,239.7 181.4,238.6 181,237.6 180.7,236.5 180.4,235.3 180.1,233.8 179.8,232.5 179.4,231.3 179.1,230.1 178.8,228.6 178.4,227 178.1,225.8 177.7,224.6 177.4,223.2 177,222 176.7,220.6 176.3,219.1 176,217.9 175.7,216.6 175.3,215.3 175,213.9 174.7,212.4 174.3,211 174,209.6 173.7,208.3 173.3,207.2 173,206 172.7,204.6 172.4,203.3 172.2,202 171.9,200.6 171.6,199.2 171.3,197.8 171.1,196.4 171,195.3 170.8,194.1 170.6,192.7 170.5,191.3 170.3,190 170.2,188.5 170.2,187.1 170.1,185.6 170.1,183.9 170,182.6 170,181.2 169.9,179.5 169.8,177.9 169.8,176.6 169.7,175.3 169.7,173.7 169.6,172.2 169.5,170.7 169.5,169.3 169.4,167.7 169.4,166.2 169.3,165 169.3,163.6 169.2,161.7 169.1,160.1 169.1,159 169,157.6 169,155.8 168.9,154.2 168.8,152.8 168.8,151.4 168.7,149.9 168.7,148.3 168.6,146.6 168.6,145.1 168.5,144" fill="url(#pdg11)"/>
<g clip-path="url(#pdc11)" stroke="#1c3010" stroke-opacity="0.5" stroke-width="0.65" stroke-dasharray="2.2 1.6"><line x1="166" y1="141" x2="222" y2="141"/><line x1="166" y1="164" x2="222" y2="164"/><line x1="166" y1="186.5" x2="222" y2="186.5"/><line x1="166" y1="209.2" x2="222" y2="209.2"/></g>
<path d="M50.7,208.1 L196.3,262.1 L312.7,200.6" fill="none" stroke="#111" stroke-width="1.4"/>
<line x1="183.5" y1="257.1" x2="185.7" y2="255.9" stroke="#111" stroke-width="1"/>
<line x1="168.3" y1="251.4" x2="169.8" y2="250.6" stroke="#111" stroke-width="1"/>
<line x1="153.6" y1="245.9" x2="155.8" y2="244.8" stroke="#111" stroke-width="1"/>
<line x1="139.3" y1="240.5" x2="140.9" y2="239.8" stroke="#111" stroke-width="1"/>
<line x1="125.4" y1="235.3" x2="127.7" y2="234.3" stroke="#111" stroke-width="1"/>
<line x1="112" y1="230.3" x2="113.5" y2="229.6" stroke="#111" stroke-width="1"/>
<line x1="98.9" y1="225.4" x2="101.1" y2="224.4" stroke="#111" stroke-width="1"/>
<line x1="86.1" y1="220.6" x2="87.7" y2="220" stroke="#111" stroke-width="1"/>
<line x1="73.7" y1="215.9" x2="76" y2="215" stroke="#111" stroke-width="1"/>
<line x1="61.7" y1="211.4" x2="63.2" y2="210.8" stroke="#111" stroke-width="1"/>
<line x1="207.3" y1="256.3" x2="204.6" y2="255.3" stroke="#111" stroke-width="1"/>
<line x1="219.6" y1="249.8" x2="217.7" y2="249.2" stroke="#111" stroke-width="1"/>
<line x1="231.5" y1="243.5" x2="228.8" y2="242.6" stroke="#111" stroke-width="1"/>
<line x1="243" y1="237.5" x2="241.1" y2="236.9" stroke="#111" stroke-width="1"/>
<line x1="254.1" y1="231.6" x2="251.4" y2="230.7" stroke="#111" stroke-width="1"/>
<line x1="264.8" y1="225.9" x2="263" y2="225.3" stroke="#111" stroke-width="1"/>
<line x1="275.3" y1="220.4" x2="272.7" y2="219.6" stroke="#111" stroke-width="1"/>
<line x1="285.3" y1="215.1" x2="283.6" y2="214.5" stroke="#111" stroke-width="1"/>
<line x1="295.1" y1="209.9" x2="292.6" y2="209.2" stroke="#111" stroke-width="1"/>
<line x1="304.6" y1="204.9" x2="302.9" y2="204.4" stroke="#111" stroke-width="1"/><g font-family="Liberation Serif" font-size="10" fill="#222"><text transform="matrix(1.14,-0.37,0.9,0.33,70.4,222)" text-anchor="middle" dy="-3.3" dx="0">10</text><text transform="matrix(1.14,-0.37,0.9,0.33,98.4,230.5)" text-anchor="middle" dy="-3.3" dx="0">8</text><text transform="matrix(1.14,-0.37,0.9,0.33,125,240.5)" text-anchor="middle" dy="-3.3" dx="0">6</text><text transform="matrix(1.14,-0.37,0.9,0.33,152,251.2)" text-anchor="middle" dy="-3.3" dx="0">4</text><text transform="matrix(1.14,-0.37,0.9,0.33,182.6,262.1)" text-anchor="middle" dy="-3.3" dx="0">2</text><text transform="matrix(1.29,0.2,-0.62,0.32,212.6,261.1)" text-anchor="middle" dy="-3.3">2</text><text transform="matrix(1.29,0.2,-0.62,0.32,236,247.7)" text-anchor="middle" dy="-3.3">4</text><text transform="matrix(1.29,0.2,-0.62,0.32,257.6,236)" text-anchor="middle" dy="-3.3">6</text><text transform="matrix(1.29,0.2,-0.62,0.32,278.5,224.1)" text-anchor="middle" dy="-3.3">8</text><text transform="matrix(1.29,0.2,-0.62,0.32,301.1,215.4)" text-anchor="middle" dy="-3.3">10</text><text transform="matrix(1.14,-0.37,0.9,0.33,100.6,246.2)" text-anchor="middle" dy="-3.5" font-style="italic" font-size="12">k<tspan font-size="8" dy="2">x</tspan></text><text transform="matrix(1.29,0.2,-0.62,0.32,287,240)" text-anchor="middle" dy="-3.5" font-style="italic" font-size="12">k<tspan font-size="8" dy="2">y</tspan></text></g>
</g></g></g>
<g id="za"><path d="M50.7,208.1 L42.8,21.3" fill="none" stroke="#111" stroke-width="1.4"/>
<line x1="51.4" y1="207.6" x2="55" y2="206.3" stroke="#111" stroke-width="1"/>
<line x1="50.4" y1="182.4" x2="53.9" y2="181.1" stroke="#111" stroke-width="1"/>
<line x1="49.3" y1="156.7" x2="52.9" y2="155.5" stroke="#111" stroke-width="1"/>
<line x1="48.2" y1="130.6" x2="51.8" y2="129.5" stroke="#111" stroke-width="1"/>
<line x1="47" y1="104" x2="50.7" y2="103" stroke="#111" stroke-width="1"/>
<line x1="45.9" y1="76.9" x2="49.6" y2="76.1" stroke="#111" stroke-width="1"/>
<line x1="44.7" y1="49.3" x2="48.5" y2="48.6" stroke="#111" stroke-width="1"/>
<line x1="43.6" y1="21.3" x2="47.4" y2="20.7" stroke="#111" stroke-width="1"/><g font-family="Liberation Serif" font-size="12.6" fill="#111"><text transform="translate(48,213.8) skewY(-20.7) scale(0.88,1)" text-anchor="end">0.000</text><text transform="translate(47,188.4) skewY(-19.1) scale(0.88,1)" text-anchor="end">0.001</text><text transform="translate(45.9,162.5) skewY(-17.4) scale(0.88,1)" text-anchor="end">0.002</text><text transform="translate(44.8,136.2) skewY(-15.8) scale(0.88,1)" text-anchor="end">0.003</text><text transform="translate(43.6,109.5) skewY(-14.1) scale(0.88,1)" text-anchor="end">0.004</text><text transform="translate(42.5,82.2) skewY(-12.5) scale(0.88,1)" text-anchor="end">0.005</text><text transform="translate(41.3,54.5) skewY(-10.8) scale(0.88,1)" text-anchor="end">0.006</text><text transform="translate(40.2,26.3) skewY(-9.2) scale(0.88,1)" text-anchor="end">0.007</text></g><text transform="translate(5.3,105.5) rotate(90)" font-family="Liberation Serif" font-size="15" fill="#111">S(<tspan font-style="italic">k</tspan><tspan font-size="9.5" dy="3" font-style="italic">x</tspan><tspan dy="-3">,</tspan><tspan font-style="italic">k</tspan><tspan font-size="9.5" dy="3" font-style="italic">y</tspan><tspan dy="-3">)</tspan></text></g>
<g transform="translate(0,282.3)"><path d="M50.7,208.1 L42.8,21.3" fill="none" stroke="#111" stroke-width="1.4"/>
<line x1="51.4" y1="207.6" x2="55" y2="206.3" stroke="#111" stroke-width="1"/>
<line x1="50.4" y1="182.4" x2="53.9" y2="181.1" stroke="#111" stroke-width="1"/>
<line x1="49.3" y1="156.7" x2="52.9" y2="155.5" stroke="#111" stroke-width="1"/>
<line x1="48.2" y1="130.6" x2="51.8" y2="129.5" stroke="#111" stroke-width="1"/>
<line x1="47" y1="104" x2="50.7" y2="103" stroke="#111" stroke-width="1"/>
<line x1="45.9" y1="76.9" x2="49.6" y2="76.1" stroke="#111" stroke-width="1"/>
<line x1="44.7" y1="49.3" x2="48.5" y2="48.6" stroke="#111" stroke-width="1"/>
<line x1="43.6" y1="21.3" x2="47.4" y2="20.7" stroke="#111" stroke-width="1"/><g font-family="Liberation Serif" font-size="12.6" fill="#111"><text transform="translate(48,213.8) skewY(-20.7) scale(0.88,1)" text-anchor="end">0.000</text><text transform="translate(47,188.4) skewY(-19.1) scale(0.88,1)" text-anchor="end">0.001</text><text transform="translate(45.9,162.5) skewY(-17.4) scale(0.88,1)" text-anchor="end">0.002</text><text transform="translate(44.8,136.2) skewY(-15.8) scale(0.88,1)" text-anchor="end">0.003</text><text transform="translate(43.6,109.5) skewY(-14.1) scale(0.88,1)" text-anchor="end">0.004</text><text transform="translate(42.5,82.2) skewY(-12.5) scale(0.88,1)" text-anchor="end">0.005</text><text transform="translate(41.3,54.5) skewY(-10.8) scale(0.88,1)" text-anchor="end">0.006</text><text transform="translate(40.2,26.3) skewY(-9.2) scale(0.88,1)" text-anchor="end">0.007</text></g><text transform="translate(5.3,105.5) rotate(90)" font-family="Liberation Serif" font-size="15" fill="#111">S(<tspan font-style="italic">k</tspan><tspan font-size="9.5" dy="3" font-style="italic">x</tspan><tspan dy="-3">,</tspan><tspan font-style="italic">k</tspan><tspan font-size="9.5" dy="3" font-style="italic">y</tspan><tspan dy="-3">)</tspan></text></g>
<text transform="translate(51.6,39.6) scale(1,1.08)" font-family="Liberation Serif" font-size="24.3" fill="#000">(a) <tspan font-style="italic" font-size="25">&#949;</tspan><tspan font-style="italic" font-size="15" dy="7.4">wo</tspan><tspan dy="-7.4" dx="-1.2" font-size="24">=0.1553</tspan></text>
<text transform="translate(399.1,40.1) scale(1,1.08)" font-family="Liberation Serif" font-size="24.3" fill="#000">(b) <tspan font-style="italic" font-size="25">&#949;</tspan><tspan font-style="italic" font-size="15" dy="7.4">wo</tspan><tspan dy="-7.4" dx="-1.2" font-size="24">=0.12424</tspan></text>
<text transform="translate(51.6,333.5) scale(1,1.08)" font-family="Liberation Serif" font-size="24.3" fill="#000">(c) <tspan font-style="italic" font-size="25">&#949;</tspan><tspan font-style="italic" font-size="15" dy="7.4">wo</tspan><tspan dy="-7.4" dx="-1.2" font-size="24">=0.09318</tspan></text>
<text transform="translate(392.5,331.4) scale(1,1.08)" font-family="Liberation Serif" font-size="24.3" fill="#000">(d) <tspan font-style="italic" font-size="25">&#949;</tspan><tspan font-style="italic" font-size="15" dy="7.4">wo</tspan><tspan dy="-7.4" dx="-1.2" font-size="24">=0.06212</tspan></text>
</svg>
</body></html>
